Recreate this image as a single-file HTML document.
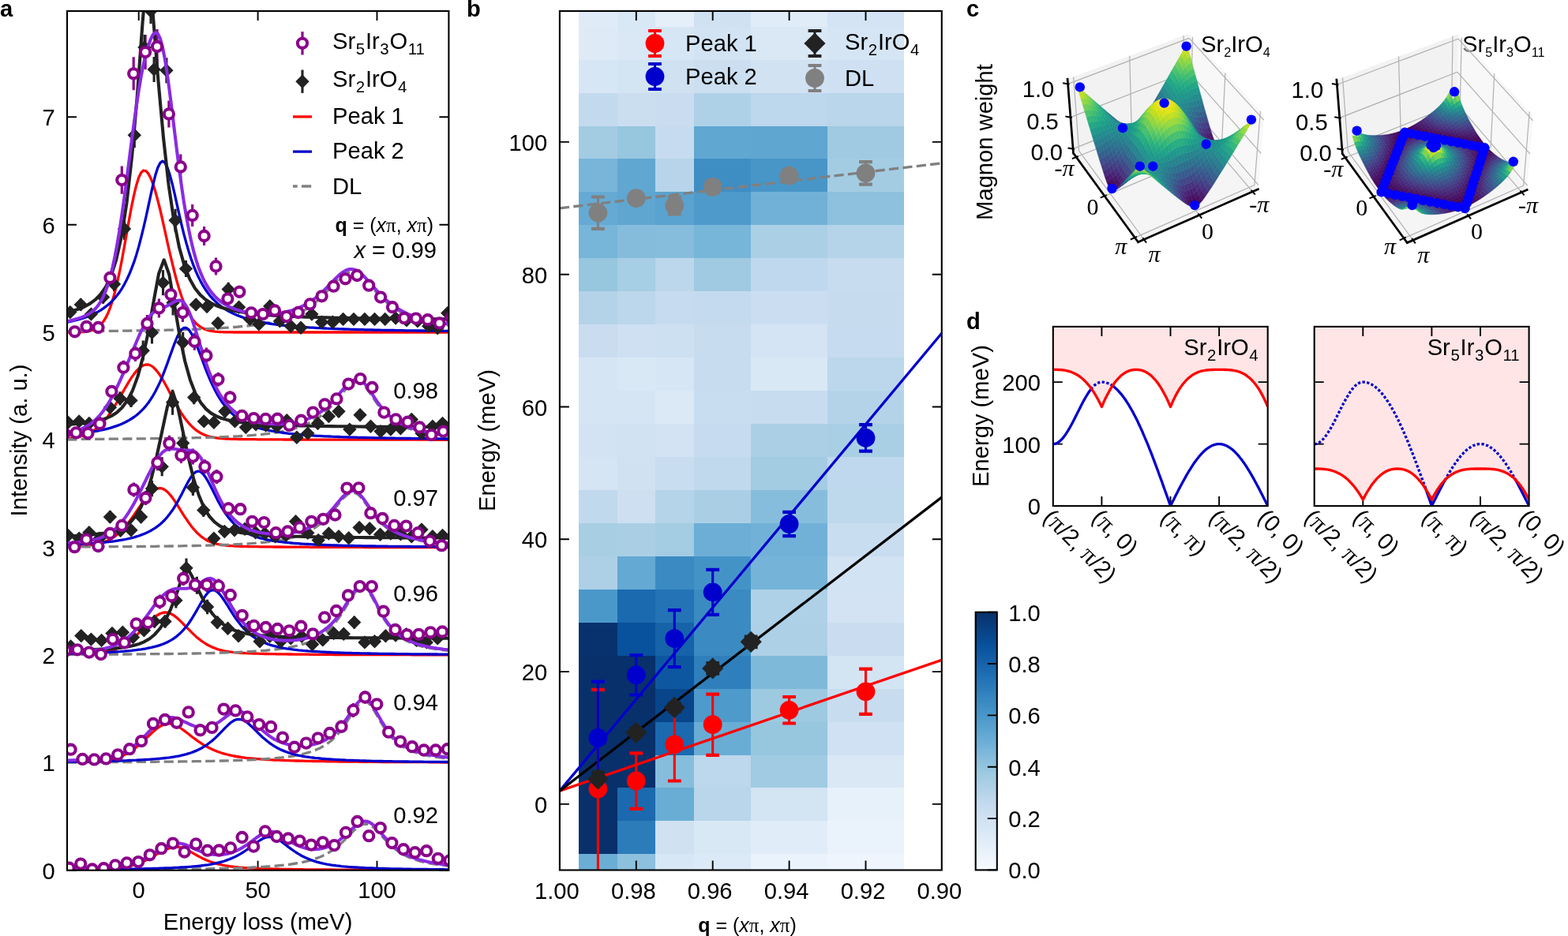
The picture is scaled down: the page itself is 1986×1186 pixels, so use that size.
<!DOCTYPE html>
<html lang="en"><head><meta charset="utf-8"><title>Figure</title>
<style>
html,body{margin:0;padding:0;background:#fff}
svg{display:block}
text{font-family:"Liberation Sans",sans-serif;font-size:29.17px;fill:#000}
.sb{font-size:20.4px}
.sb2{font-size:16.2px}
.sm{font-size:25px}
.it{font-style:italic}
.bd{font-weight:bold}
.pi{font-family:"Liberation Serif",serif;font-size:25px}
.pi2{font-family:"Liberation Serif",serif;font-size:32px}
.pl{font-weight:bold;font-size:29.17px}
.sf{font-family:"Liberation Serif",serif;font-size:30px}
.sp{fill:none;stroke:#000;stroke-width:2.1}
.tk{fill:none;stroke:#000;stroke-width:1.9}
.pe{fill:none;stroke:#8b008b;stroke-width:3.2}
.pm circle{fill:#fff;stroke:#8b008b;stroke-width:4.1}
.ke{fill:none;stroke:#222;stroke-width:3.1}
.km{fill:#222}
.ls{fill:none;stroke:#8a2be2;stroke-width:4.1;stroke-linejoin:round}
.lk{fill:none;stroke:#222;stroke-width:4.1;stroke-linejoin:round}
.lk2{fill:none;stroke:#000;stroke-width:3.3}
.lr{fill:none;stroke:#f00;stroke-width:3.3;stroke-linejoin:round}
.lb{fill:none;stroke:#0000cd;stroke-width:3.3;stroke-linejoin:round}
.lg{fill:none;stroke:#808080;stroke-width:3.3;stroke-dasharray:12.2 5.3}
.eb{fill:none!important;stroke-width:3.1}
.cp{stroke-width:4.2}
.b1{fill:#f00;stroke:#f00}.b2{fill:#0000cd;stroke:#0000cd}.bk{fill:#222;stroke:#222}.bg{fill:#808080;stroke:#808080}
.b1 circle,.b2 circle,.bg circle,g.bk path:not(.eb){stroke:none}
.dr{fill:none;stroke:#f00;stroke-width:3.3;stroke-linejoin:round}
.dbs{fill:none;stroke:#0000cd;stroke-width:3.3;stroke-linejoin:round}
.dbd{fill:none;stroke:#0000cd;stroke-width:3.3;stroke-dasharray:3.3 2.4}
.sf3 path{fill:currentColor;stroke:currentColor;stroke-width:.5;stroke-linejoin:round}
.g3{fill:none;stroke:#b0b0b0;stroke-width:1.2}
.a3{fill:none;stroke:#000;stroke-width:2.7;stroke-linecap:square}
.t3{fill:none;stroke:#000;stroke-width:2}
.d3 circle{fill:#00f}
</style></head><body>
<svg width="1986" height="1186" viewBox="0 0 1986 1186">
<rect width="1986" height="1186" fill="#fff"/>
<clipPath id="ca"><rect x="85.0" y="14.0" width="483.4" height="1088.7"/></clipPath>
<path class="tk" d="M85 1102.7h12M568.4 1102.7h-12M85 966.4h12M568.4 966.4h-12M85 830h12M568.4 830h-12M85 693.7h12M568.4 693.7h-12M85 557.3h12M568.4 557.3h-12M85 421h12M568.4 421h-12M85 284.7h12M568.4 284.7h-12M85 148.3h12M568.4 148.3h-12M175.7 1102.7v-12M175.7 14v12M326.6 1102.7v-12M326.6 14v12M477.5 1102.7v-12M477.5 14v12"/>
<g clip-path="url(#ca)">
<path class="pe" d="M94.7 415.3V425.3M109.6 408.8V418.8M124.5 410V420M139.4 344V360M154.3 210.4V245.8M169.2 72.3V114.3M184.1 44.1V88.1M199 37V81M213.9 127.4V161.4M228.8 195.4V227.4M243.7 258.9V286.9M258.6 287V311M273.5 326.4V348.4M288.4 370.6V386.6M303.3 361.8V377.8M318.2 390.3V402.3M333.1 392.1V404.1M348 387.5V399.5M362.9 395.1V407.1M377.8 390V402M392.7 379.4V391.4M407.6 369.3V381.3M422.5 356.7V368.7M437.4 347.3V359.3M452.3 343V355M467.2 355.7V367.7M482.1 370.6V382.6M497 383.2V395.2M511.9 397.1V409.1M526.8 397.6V409.6M541.7 399.2V411.2M556.6 403.5V415.5M571.5 396.6V408.6"/>
<path class="ke" d="M88.9 388.6v14M102.3 378.4v15M115.4 391.1v14M130.6 368.5v16.3M144.5 350.9v18.4M170.3 155.2v32M222.1 264.7v29.1M235.5 329.9v21M248.2 378.4v15M262.1 381.1v14.7M276 402.5v14M289.2 357.7v17.6M302.6 381.9v14.6M316.5 397.4v14M327.9 403.7v14M341.8 380.6v14.8M354.4 399.9v14M368.3 406.3v14M381 408.3v14M394.9 391.1v14M407.5 401.2v14M421.4 401.2v14M434.6 397.4v14M448 397.4v14M461.9 397.4v14M474.5 397.4v14M487.7 397.4v14M501.1 396.1v14M515 398.7v14M528.9 399.9v14M542.8 406.3v14M554.2 408.8v14M566.8 389.8v14M191 -2v32M195.1 71.9v32M210.9 73.2v32M183 44v32M157.5 276.2v27.7"/>
<path class="pe" d="M81.4 544V554M96.4 543.4V553.4M111.4 544.1V554.1M126.4 531V543M141.4 488V504M156.4 456.7V474.7M171.4 438V458M186.4 399V421M201.4 378.5V402.5M216.4 361.3V385.3M231.4 384.1V408.1M246.4 421.8V443.8M261.4 440.5V460.5M276.4 471.8V489.8M291.4 495.6V511.6M306.4 520.9V532.9M321.4 524.1V536.1M336.4 524.9V536.9M351.4 524.7V536.7M366.4 533V545M381.4 526.7V538.7M396.4 516.6V528.6M411.4 506.4V518.4M426.4 499.4V511.4M441.4 480.6V492.6M456.4 474.1V486.1M471.4 485V497M486.4 516.6V528.6M501.4 525.4V537.4M516.4 528.7V540.7M531.4 535.5V547.5M546.4 545.1V557.1M561.4 540.6V552.6"/>
<path class="ke" d="M86.3 528.2v14M100.2 526.9v14M112.9 529.5v14M139.4 508.3v15.8M152.1 496.2v17.3M166 498.9v17M181.2 431.5v25.3M192.5 407.2v28.3M206.5 342.2v32M231.7 420.7v26.7M245.7 494.8v17.5M258.3 526.9v14M270.9 528.2v14M284.9 513.7v15.2M297.5 526.9v14M311.4 534.5v14M336.7 532v14M350.6 533.3v14M363.3 525.7v14M375.9 547.2v14M389.8 542.1v14M402.5 529.5v14M416.4 520.5v14.3M429 513.7v15.2M442.9 537.1v14M456.1 518.6v14.6M469.5 533.3v14M482.1 539.6v14M494.8 537.1v14M507.4 535.8v14M521.3 524.4v14M534 542.1v14M560.5 529.5v14M126 528.2v14M219.1 367.5v32M324.1 530.7v14M547.9 533.3v14"/>
<path class="pe" d="M94.4 688.2V698.2M109.4 678.6V688.6M124.4 687V697M139.4 670V682M154.4 658.9V672.9M169.4 611.4V629.4M184.4 622V640M199.4 576.2V596.2M214.4 551.7V571.7M229.4 566.9V586.9M244.4 568.6V588.6M259.4 582.3V600.3M274.4 595V613M289.4 636.4V652.4M304.4 638.2V652.2M319.4 654.8V666.8M334.4 656.1V668.1M349.4 669.2V681.2M364.4 667.5V679.5M379.4 662.4V674.4M394.4 654.8V666.8M409.4 651.8V663.8M424.4 646.5V658.5M439.4 612.6V624.6M454.4 612.3V624.3M469.4 644.2V656.2M484.4 651V663M499.4 659.9V671.9M514.4 660.6V672.6M529.4 669.2V681.2M544.4 679.6V691.6M559.4 685.2V697.2M574.4 674V686"/>
<path class="ke" d="M86.3 671.5v14M112.9 667.7v14M139.4 647.3v15.5M166 664.7v14M178.6 647.3v15.5M192.5 609v20.2M205.2 579.3v23.9M218.6 493.8v32M231.7 547.5v27.9M244.4 607.6v20.4M257.8 638.1v16.6M270.9 675.3v14M284.4 666.5v14M297 664.7v14M310.1 663.2v14M335.4 669v14M362 671.5v14M374.6 653.5v14.7M389.8 668.2v14M403.2 677.4v14M416.4 669v14M429 672.8v14M441.7 674.8v14M455.1 661.4v14M468.2 662.7v14M481.6 670.3v14M494.8 669v14M507.4 669.8v14M521.3 672.8v14M534 663.9v14M560.5 671.5v14M100.2 675.3v14M126 675.3v14M152.6 665.2v14M323.6 667.7v14M348.6 672.8v14M547.9 672.8v14"/>
<path class="pe" d="M83.1 819.5V829.5M98 818.3V828.3M112.9 821.6V831.6M127.8 824.1V834.1M142.7 804.1V816.1M157.6 808.4V820.4M172.6 783.4V797.4M187.5 781.1V797.1M202.4 753.6V771.6M217.3 746.3V764.3M232.2 724V742M247.1 732.1V750.1M262 732.1V750.1M276.9 733.4V751.4M291.8 746V762M306.7 772.8V786.8M321.6 786.9V798.9M336.6 789V801M351.5 791V803M366.4 793.3V805.3M381.3 787.7V799.7M396.2 797.3V809.3M411.1 776.3V788.3M426 768V780M440.9 748.5V760.5M455.8 737.1V749.1M470.8 737.1V749.1M485.7 768.7V780.7M500.6 792V804M515.5 798.3V810.3M530.4 797.8V809.8M545.3 795.3V807.3M560.2 794.5V806.5M575.1 795V807"/>
<path class="ke" d="M89.6 812v14M102.8 798.6v14M115.4 803.1v14M128.6 804.4v14M142 795.5v14M155.4 794.2v14.2M168.5 800.6v14M182.4 791.5v14.5M195.6 779.4v16M209 779.4v16M222.9 751v19.5M236 707.4v24.9M249.4 730.8v22M262.6 759.7v18.5M275.2 780.7v15.9M288.6 788.8v14.9M302.1 798.8v14M315.2 787.4v15M329.1 805.7v14M341.8 799.3v14M355.7 805.7v14M368.3 801.9v14M382.2 799.3v14M395.6 809.5v14M408.8 803.9v14M422.7 795.5v14M435.3 796.3v14M448.7 780.7v15.9M461.9 806.9v14M474.5 805.7v14M488.4 798.8v14M501.1 798.1v14M514.5 796.8v14M527.6 804.4v14M540.3 806.9v14M554.2 801.9v14"/>
<path class="pe" d="M89.6 944.7V954.7M104.5 956.9V966.9M119.4 957.4V967.4M134.3 956.4V966.4M149.2 951.3V961.3M164.1 944.2V954.2M179.1 934.1V944.1M194 909.9V923.9M208.9 905V919M223.8 908.8V922.8M238.7 895.4V909.4M253.6 918.2V932.2M268.5 914.9V928.9M283.4 891.6V905.6M298.3 893.4V907.4M313.2 901.3V915.3M328.2 911.1V925.1M343.1 913.9V927.9M358 927.6V941.6M372.9 940.7V952.7M387.8 935.6V947.6M402.7 929.3V941.3M417.6 923V935M432.5 912.7V928.7M447.4 890.9V908.9M462.4 875.5V891.5M477.3 887.3V897.3M492.2 922.7V932.7M507.1 934.6V944.6M522 941.2V951.2M536.9 945.5V955.5M551.8 945.5V955.5M566.7 944.2V954.2"/>
<path class="pe" d="M87.6 1095.7V1103.7M102.2 1090.6V1098.6M116.8 1097.5V1105.5M131.4 1096.2V1104.2M146 1092.4V1100.4M160.6 1089.4V1097.4M175.2 1088.1V1096.1M189.8 1079.3V1087.3M204.4 1071.2V1079.2M219 1064.6V1072.6M233.6 1075.5V1083.5M248.2 1065.4V1073.4M262.8 1073.7V1081.7M277.4 1073.5V1081.5M292 1070.4V1078.4M306.6 1057V1065M321.2 1068.6V1076.6M335.8 1049.4V1057.4M350.4 1056V1064M365 1058.5V1066.5M379.6 1061.6V1069.6M394.2 1066.6V1074.6M408.8 1063.3V1071.3M423.4 1067.1V1075.1M438 1050.9V1058.9M452.6 1037V1045M467.2 1055.2V1063.2M481.8 1045.1V1053.1M496.4 1064.1V1072.1M511 1072.2V1080.2M525.6 1076.2V1084.2M540.2 1074.2V1082.2M554.8 1083.8V1091.8M569.4 1086.4V1094.4"/>
<path class="lr" d="M85.2 421L88.2 421L91.2 421L94.2 420.9L97.2 420.9L100.2 420.8L103.3 420.7L106.3 420.5L109.3 420.2L112.3 419.7L115.3 419L118.4 418L121.4 416.5L124.4 414.5L127.4 411.8L130.4 408.2L133.4 403.5L136.5 397.5L139.5 390L142.5 380.9L145.5 370.2L148.5 357.7L151.6 343.7L154.6 328.2L157.6 311.8L160.6 294.9L163.6 278L166.6 261.8L169.7 247.2L172.7 234.7L175.7 225L178.7 218.7L181.7 216L184.8 216.7L187.8 219.9L190.8 225.5L193.8 233.1L196.8 242.6L199.8 253.7L202.9 266L205.9 279.1L208.9 292.7L211.9 306.4L214.9 319.8L218 332.7L221 345L224 356.3L227 366.6L230 375.8L233 383.9L236.1 390.9L239.1 396.9L242.1 401.9L245.1 406.1L248.1 409.5L251.1 412.2L254.2 414.4L257.2 416L260.2 417.4L263.2 418.3L266.2 419.1L269.3 419.6L272.3 420.1L275.3 420.3L278.3 420.6L281.3 420.7L284.3 420.8L287.4 420.9L290.4 420.9L293.4 420.9L296.4 421L299.4 421L302.5 421L305.5 421L308.5 421L311.5 421L314.5 421L317.5 421L320.6 421L323.6 421L326.6 421L329.6 421L332.6 421L335.7 421L338.7 421L341.7 421L344.7 421L347.7 421L350.7 421L353.8 421L356.8 421L359.8 421L362.8 421L365.8 421L368.9 421L371.9 421L374.9 421L377.9 421L380.9 421L383.9 421L387 421L390 421L393 421L396 421L399 421L402 421L405.1 421L408.1 421L411.1 421L414.1 421L417.1 421L420.2 421L423.2 421L426.2 421L429.2 421L432.2 421L435.2 421L438.3 421L441.3 421L444.3 421L447.3 421L450.3 421L453.4 421L456.4 421L459.4 421L462.4 421L465.4 421L468.4 421L471.5 421L474.5 421L477.5 421L480.5 421L483.5 421L486.6 421L489.6 421L492.6 421L495.6 421L498.6 421L501.6 421L504.7 421L507.7 421L510.7 421L513.7 421L516.7 421L519.8 421L522.8 421L525.8 421L528.8 421L531.8 421L534.8 421L537.9 421L540.9 421L543.9 421L546.9 421L549.9 421L553 421L556 421L559 421L562 421L565 421L568 421"/>
<path class="lg" d="M85.2 419.8L88.2 419.8L91.2 419.8L94.2 419.8L97.2 419.7L100.2 419.7L103.3 419.7L106.3 419.7L109.3 419.6L112.3 419.6L115.3 419.6L118.4 419.6L121.4 419.5L124.4 419.5L127.4 419.5L130.4 419.5L133.4 419.4L136.5 419.4L139.5 419.4L142.5 419.3L145.5 419.3L148.5 419.3L151.6 419.2L154.6 419.2L157.6 419.2L160.6 419.1L163.6 419.1L166.6 419L169.7 419L172.7 418.9L175.7 418.9L178.7 418.9L181.7 418.8L184.8 418.8L187.8 418.7L190.8 418.7L193.8 418.6L196.8 418.5L199.8 418.5L202.9 418.4L205.9 418.4L208.9 418.3L211.9 418.2L214.9 418.2L218 418.1L221 418L224 417.9L227 417.8L230 417.8L233 417.7L236.1 417.6L239.1 417.5L242.1 417.4L245.1 417.3L248.1 417.2L251.1 417.1L254.2 416.9L257.2 416.8L260.2 416.7L263.2 416.6L266.2 416.4L269.3 416.3L272.3 416.1L275.3 415.9L278.3 415.8L281.3 415.6L284.3 415.4L287.4 415.2L290.4 415L293.4 414.8L296.4 414.5L299.4 414.3L302.5 414L305.5 413.7L308.5 413.5L311.5 413.1L314.5 412.8L317.5 412.5L320.6 412.1L323.6 411.7L326.6 411.3L329.6 410.8L332.6 410.4L335.7 409.9L338.7 409.3L341.7 408.7L344.7 408.1L347.7 407.5L350.7 406.7L353.8 406L356.8 405.1L359.8 404.3L362.8 403.3L365.8 402.3L368.9 401.1L371.9 399.9L374.9 398.6L377.9 397.2L380.9 395.7L383.9 394L387 392.2L390 390.3L393 388.2L396 386L399 383.6L402 381L405.1 378.3L408.1 375.3L411.1 372.3L414.1 369.1L417.1 365.8L420.2 362.5L423.2 359.3L426.2 356.1L429.2 353.1L432.2 350.4L435.2 348.2L438.3 346.4L441.3 345.2L444.3 344.7L447.3 344.8L450.3 345.7L453.4 347.2L456.4 349.3L459.4 351.8L462.4 354.7L465.4 357.9L468.4 361.3L471.5 364.7L474.5 368L477.5 371.3L480.5 374.5L483.5 377.5L486.6 380.4L489.6 383.1L492.6 385.6L495.6 387.9L498.6 390.1L501.6 392.1L504.7 393.9L507.7 395.6L510.7 397.2L513.7 398.7L516.7 400L519.8 401.2L522.8 402.4L525.8 403.4L528.8 404.4L531.8 405.3L534.8 406.1L537.9 406.9L540.9 407.6L543.9 408.3L546.9 408.9L549.9 409.5L553 410.1L556 410.6L559 411L562 411.5L565 411.9L568 412.3"/>
<path class="lb" d="M85.2 408.2L88.2 407.6L91.2 407L94.2 406.2L97.2 405.5L100.2 404.6L103.3 403.7L106.3 402.8L109.3 401.7L112.3 400.6L115.3 399.3L118.4 398L121.4 396.5L124.4 394.9L127.4 393.1L130.4 391.1L133.4 388.9L136.5 386.5L139.5 383.9L142.5 380.9L145.5 377.6L148.5 374L151.6 369.9L154.6 365.3L157.6 360.1L160.6 354.3L163.6 347.8L166.6 340.4L169.7 332.2L172.7 322.9L175.7 312.6L178.7 301.2L181.7 288.8L184.8 275.5L187.8 261.6L190.8 247.6L193.8 234.1L196.8 222.1L199.8 212.6L202.9 206.4L205.9 204.2L208.9 206.2L211.9 212L214.9 220.9L218 232.2L221 244.9L224 258.4L227 271.8L230 284.8L233 297L236.1 308.4L239.1 318.7L242.1 328L245.1 336.4L248.1 343.9L251.1 350.6L254.2 356.6L257.2 362L260.2 366.7L263.2 371L266.2 374.9L269.3 378.3L272.3 381.4L275.3 384.2L278.3 386.7L281.3 389L284.3 391.1L287.4 393L290.4 394.7L293.4 396.3L296.4 397.7L299.4 399.1L302.5 400.3L305.5 401.4L308.5 402.5L311.5 403.4L314.5 404.3L317.5 405.1L320.6 405.9L323.6 406.6L326.6 407.3L329.6 407.9L332.6 408.5L335.7 409L338.7 409.5L341.7 410L344.7 410.5L347.7 410.9L350.7 411.3L353.8 411.7L356.8 412L359.8 412.3L362.8 412.7L365.8 413L368.9 413.2L371.9 413.5L374.9 413.8L377.9 414L380.9 414.2L383.9 414.5L387 414.7L390 414.9L393 415.1L396 415.2L399 415.4L402 415.6L405.1 415.7L408.1 415.9L411.1 416L414.1 416.2L417.1 416.3L420.2 416.4L423.2 416.6L426.2 416.7L429.2 416.8L432.2 416.9L435.2 417L438.3 417.1L441.3 417.2L444.3 417.3L447.3 417.4L450.3 417.5L453.4 417.6L456.4 417.6L459.4 417.7L462.4 417.8L465.4 417.9L468.4 417.9L471.5 418L474.5 418.1L477.5 418.1L480.5 418.2L483.5 418.3L486.6 418.3L489.6 418.4L492.6 418.4L495.6 418.5L498.6 418.5L501.6 418.6L504.7 418.6L507.7 418.7L510.7 418.7L513.7 418.8L516.7 418.8L519.8 418.9L522.8 418.9L525.8 418.9L528.8 419L531.8 419L534.8 419L537.9 419.1L540.9 419.1L543.9 419.1L546.9 419.2L549.9 419.2L553 419.2L556 419.3L559 419.3L562 419.3L565 419.4L568 419.4"/>
<path class="lk" d="M80.9 396.6L87.6 395.1L94.2 393.3L100.9 391.1L107.5 388.3L114.1 384.6L120.8 379.7L127.4 372.9L134.1 363.3L140.7 349.3L147.3 328.8L154 298.9L160.6 256.2L167.2 197.2L173.9 120.3L180.5 29.5L187.2 -49.7L193.8 19.1L200.4 101.8L207.1 175.5L213.7 235L220.4 280.2L227 313.3L233.6 336.9L240.3 353.6L246.9 365.3L253.6 373.6L260.2 379.5L266.8 383.8L273.5 387L280.1 389.5L286.8 391.5L293.4 393.1L300 394.4L306.7 395.5L313.3 396.4L320 397.2L326.6 397.9L333.2 398.6L339.9 399.1L346.5 399.6L353.2 400L359.8 400.4L366.4 400.7L373.1 401L379.7 401.3L386.4 401.6L393 401.8L399.6 402L406.3 402.2L412.9 402.4L419.6 402.5L426.2 402.7L432.8 402.8L439.5 402.9L446.1 403.1L452.8 403.2L459.4 403.3L466 403.4L472.7 403.5L479.3 403.5L486 403.6L492.6 403.7L499.2 403.8L505.9 403.8L512.5 403.9L519.1 403.9L525.8 404L532.4 404L539.1 404.1L545.7 404.1L552.3 404.2L559 404.2L565.6 404.3L572.3 404.3"/>
<path class="km" d="M88.9 386.9l8.7 8.7l-8.7 8.7l-8.7-8.7zM102.3 377.2l8.7 8.7l-8.7 8.7l-8.7-8.7zM115.4 389.4l8.7 8.7l-8.7 8.7l-8.7-8.7zM130.6 367.9l8.7 8.7l-8.7 8.7l-8.7-8.7zM144.5 351.4l8.7 8.7l-8.7 8.7l-8.7-8.7zM170.3 162.5l8.7 8.7l-8.7 8.7l-8.7-8.7zM222.1 270.5l8.7 8.7l-8.7 8.7l-8.7-8.7zM235.5 331.7l8.7 8.7l-8.7 8.7l-8.7-8.7zM248.2 377.2l8.7 8.7l-8.7 8.7l-8.7-8.7zM262.1 379.8l8.7 8.7l-8.7 8.7l-8.7-8.7zM276 400.8l8.7 8.7l-8.7 8.7l-8.7-8.7zM289.2 357.8l8.7 8.7l-8.7 8.7l-8.7-8.7zM302.6 380.5l8.7 8.7l-8.7 8.7l-8.7-8.7zM316.5 395.7l8.7 8.7l-8.7 8.7l-8.7-8.7zM327.9 402l8.7 8.7l-8.7 8.7l-8.7-8.7zM341.8 379.3l8.7 8.7l-8.7 8.7l-8.7-8.7zM354.4 398.2l8.7 8.7l-8.7 8.7l-8.7-8.7zM368.3 404.6l8.7 8.7l-8.7 8.7l-8.7-8.7zM381 406.6l8.7 8.7l-8.7 8.7l-8.7-8.7zM394.9 389.4l8.7 8.7l-8.7 8.7l-8.7-8.7zM407.5 399.5l8.7 8.7l-8.7 8.7l-8.7-8.7zM421.4 399.5l8.7 8.7l-8.7 8.7l-8.7-8.7zM434.6 395.7l8.7 8.7l-8.7 8.7l-8.7-8.7zM448 395.7l8.7 8.7l-8.7 8.7l-8.7-8.7zM461.9 395.7l8.7 8.7l-8.7 8.7l-8.7-8.7zM474.5 395.7l8.7 8.7l-8.7 8.7l-8.7-8.7zM487.7 395.7l8.7 8.7l-8.7 8.7l-8.7-8.7zM501.1 394.4l8.7 8.7l-8.7 8.7l-8.7-8.7zM515 397l8.7 8.7l-8.7 8.7l-8.7-8.7zM528.9 398.2l8.7 8.7l-8.7 8.7l-8.7-8.7zM542.8 404.6l8.7 8.7l-8.7 8.7l-8.7-8.7zM554.2 407.1l8.7 8.7l-8.7 8.7l-8.7-8.7zM566.8 388.1l8.7 8.7l-8.7 8.7l-8.7-8.7zM191 5.3l8.7 8.7l-8.7 8.7l-8.7-8.7zM195.1 79.2l8.7 8.7l-8.7 8.7l-8.7-8.7zM210.9 80.5l8.7 8.7l-8.7 8.7l-8.7-8.7zM183 51.3l8.7 8.7l-8.7 8.7l-8.7-8.7zM157.5 281.3l8.7 8.7l-8.7 8.7l-8.7-8.7z"/>
<path class="ls" d="M85.2 407L88.2 406.4L91.2 405.7L94.2 404.9L97.2 404.1L100.2 403.1L103.3 402.1L106.3 400.9L109.3 399.5L112.3 397.9L115.3 395.9L118.4 393.5L121.4 390.5L124.4 386.9L127.4 382.3L130.4 376.7L133.4 369.8L136.5 361.4L139.5 351.3L142.5 339.2L145.5 325.1L148.5 309L151.6 290.8L154.6 270.7L157.6 249.1L160.6 226.3L163.6 202.8L166.6 179.3L169.7 156.3L172.7 134.6L175.7 114.6L178.7 96.8L181.7 81.6L184.8 69L187.8 58.2L190.8 49.7L193.8 43.8L196.8 41.3L199.8 42.8L202.9 48.8L205.9 59.7L208.9 75.2L211.9 94.5L214.9 116.8L218 141L221 165.9L224 190.5L227 214.2L230 236.3L233 256.6L236.1 274.8L239.1 291L242.1 305.3L245.1 317.7L248.1 328.5L251.1 337.9L254.2 345.9L257.2 352.8L260.2 358.8L263.2 363.9L266.2 368.4L269.3 372.2L272.3 375.6L275.3 378.5L278.3 381L281.3 383.3L284.3 385.3L287.4 387.1L290.4 388.6L293.4 390L296.4 391.2L299.4 392.3L302.5 393.3L305.5 394.2L308.5 394.9L311.5 395.6L314.5 396.1L317.5 396.6L320.6 397L323.6 397.3L326.6 397.6L329.6 397.7L332.6 397.8L335.7 397.9L338.7 397.9L341.7 397.8L344.7 397.6L347.7 397.3L350.7 397L353.8 396.6L356.8 396.2L359.8 395.6L362.8 395L365.8 394.2L368.9 393.4L371.9 392.5L374.9 391.4L377.9 390.2L380.9 388.9L383.9 387.5L387 385.9L390 384.2L393 382.3L396 380.2L399 378L402 375.6L405.1 373L408.1 370.2L411.1 367.3L414.1 364.3L417.1 361.2L420.2 358L423.2 354.8L426.2 351.8L429.2 348.9L432.2 346.4L435.2 344.2L438.3 342.5L441.3 341.4L444.3 341L447.3 341.2L450.3 342.2L453.4 343.7L456.4 345.9L459.4 348.5L462.4 351.6L465.4 354.8L468.4 358.2L471.5 361.7L474.5 365.1L477.5 368.5L480.5 371.7L483.5 374.8L486.6 377.7L489.6 380.5L492.6 383L495.6 385.4L498.6 387.6L501.6 389.7L504.7 391.6L507.7 393.3L510.7 394.9L513.7 396.4L516.7 397.8L519.8 399.1L522.8 400.3L525.8 401.4L528.8 402.4L531.8 403.3L534.8 404.2L537.9 405L540.9 405.8L543.9 406.5L546.9 407.1L549.9 407.7L553 408.3L556 408.8L559 409.3L562 409.8L565 410.3L568 410.7"/>
<g class="pm"><circle cx="94.7" cy="420.3" r="6.1"/><circle cx="109.6" cy="413.8" r="6.1"/><circle cx="124.5" cy="415" r="6.1"/><circle cx="139.4" cy="352" r="6.1"/><circle cx="154.3" cy="228.1" r="6.1"/><circle cx="169.2" cy="93.3" r="6.1"/><circle cx="184.1" cy="66.1" r="6.1"/><circle cx="199" cy="59" r="6.1"/><circle cx="213.9" cy="144.4" r="6.1"/><circle cx="228.8" cy="211.4" r="6.1"/><circle cx="243.7" cy="272.9" r="6.1"/><circle cx="258.6" cy="299" r="6.1"/><circle cx="273.5" cy="337.4" r="6.1"/><circle cx="288.4" cy="378.6" r="6.1"/><circle cx="303.3" cy="369.8" r="6.1"/><circle cx="318.2" cy="396.3" r="6.1"/><circle cx="333.1" cy="398.1" r="6.1"/><circle cx="348" cy="393.5" r="6.1"/><circle cx="362.9" cy="401.1" r="6.1"/><circle cx="377.8" cy="396" r="6.1"/><circle cx="392.7" cy="385.4" r="6.1"/><circle cx="407.6" cy="375.3" r="6.1"/><circle cx="422.5" cy="362.7" r="6.1"/><circle cx="437.4" cy="353.3" r="6.1"/><circle cx="452.3" cy="349" r="6.1"/><circle cx="467.2" cy="361.7" r="6.1"/><circle cx="482.1" cy="376.6" r="6.1"/><circle cx="497" cy="389.2" r="6.1"/><circle cx="511.9" cy="403.1" r="6.1"/><circle cx="526.8" cy="403.6" r="6.1"/><circle cx="541.7" cy="405.2" r="6.1"/><circle cx="556.6" cy="409.5" r="6.1"/><circle cx="571.5" cy="402.6" r="6.1"/></g>
<path class="lr" d="M85.2 555.5L88.2 555.2L91.2 554.9L94.2 554.5L97.2 553.9L100.2 553.3L103.3 552.5L106.3 551.6L109.3 550.4L112.3 549.1L115.3 547.5L118.4 545.6L121.4 543.5L124.4 541L127.4 538.2L130.4 535L133.4 531.5L136.5 527.7L139.5 523.5L142.5 518.9L145.5 514.1L148.5 509.1L151.6 503.9L154.6 498.6L157.6 493.3L160.6 488.1L163.6 483.1L166.6 478.4L169.7 474.1L172.7 470.2L175.7 467.1L178.7 464.6L181.7 462.9L184.8 462L187.8 462L190.8 463L193.8 465L196.8 467.9L199.8 471.5L202.9 475.8L205.9 480.7L208.9 486L211.9 491.5L214.9 497.2L218 502.9L221 508.5L224 513.9L227 519.1L230 524L233 528.4L236.1 532.5L239.1 536.2L242.1 539.4L245.1 542.3L248.1 544.8L251.1 546.9L254.2 548.7L257.2 550.2L260.2 551.5L263.2 552.5L266.2 553.3L269.3 554L272.3 554.6L275.3 555L278.3 555.3L281.3 555.6L284.3 555.8L287.4 556L290.4 556.1L293.4 556.3L296.4 556.3L299.4 556.4L302.5 556.5L305.5 556.5L308.5 556.6L311.5 556.6L314.5 556.7L317.5 556.7L320.6 556.7L323.6 556.7L326.6 556.8L329.6 556.8L332.6 556.8L335.7 556.8L338.7 556.9L341.7 556.9L344.7 556.9L347.7 556.9L350.7 556.9L353.8 556.9L356.8 556.9L359.8 557L362.8 557L365.8 557L368.9 557L371.9 557L374.9 557L377.9 557L380.9 557L383.9 557L387 557.1L390 557.1L393 557.1L396 557.1L399 557.1L402 557.1L405.1 557.1L408.1 557.1L411.1 557.1L414.1 557.1L417.1 557.1L420.2 557.1L423.2 557.1L426.2 557.1L429.2 557.1L432.2 557.1L435.2 557.2L438.3 557.2L441.3 557.2L444.3 557.2L447.3 557.2L450.3 557.2L453.4 557.2L456.4 557.2L459.4 557.2L462.4 557.2L465.4 557.2L468.4 557.2L471.5 557.2L474.5 557.2L477.5 557.2L480.5 557.2L483.5 557.2L486.6 557.2L489.6 557.2L492.6 557.2L495.6 557.2L498.6 557.2L501.6 557.2L504.7 557.2L507.7 557.2L510.7 557.2L513.7 557.2L516.7 557.2L519.8 557.2L522.8 557.2L525.8 557.2L528.8 557.2L531.8 557.2L534.8 557.2L537.9 557.2L540.9 557.2L543.9 557.2L546.9 557.2L549.9 557.3L553 557.3L556 557.3L559 557.3L562 557.3L565 557.3L568 557.3"/>
<path class="lg" d="M85.2 556.5L88.2 556.5L91.2 556.5L94.2 556.5L97.2 556.5L100.2 556.4L103.3 556.4L106.3 556.4L109.3 556.4L112.3 556.4L115.3 556.4L118.4 556.3L121.4 556.3L124.4 556.3L127.4 556.3L130.4 556.3L133.4 556.2L136.5 556.2L139.5 556.2L142.5 556.2L145.5 556.2L148.5 556.1L151.6 556.1L154.6 556.1L157.6 556.1L160.6 556L163.6 556L166.6 556L169.7 556L172.7 555.9L175.7 555.9L178.7 555.9L181.7 555.8L184.8 555.8L187.8 555.8L190.8 555.7L193.8 555.7L196.8 555.7L199.8 555.6L202.9 555.6L205.9 555.5L208.9 555.5L211.9 555.4L214.9 555.4L218 555.3L221 555.3L224 555.2L227 555.2L230 555.1L233 555.1L236.1 555L239.1 554.9L242.1 554.9L245.1 554.8L248.1 554.7L251.1 554.7L254.2 554.6L257.2 554.5L260.2 554.4L263.2 554.3L266.2 554.2L269.3 554.1L272.3 554L275.3 553.9L278.3 553.8L281.3 553.7L284.3 553.6L287.4 553.4L290.4 553.3L293.4 553.1L296.4 553L299.4 552.8L302.5 552.7L305.5 552.5L308.5 552.3L311.5 552.1L314.5 551.9L317.5 551.6L320.6 551.4L323.6 551.1L326.6 550.9L329.6 550.6L332.6 550.3L335.7 549.9L338.7 549.6L341.7 549.2L344.7 548.8L347.7 548.4L350.7 547.9L353.8 547.4L356.8 546.9L359.8 546.3L362.8 545.6L365.8 544.9L368.9 544.2L371.9 543.4L374.9 542.5L377.9 541.6L380.9 540.5L383.9 539.4L387 538.2L390 536.8L393 535.3L396 533.7L399 531.9L402 530L405.1 527.8L408.1 525.5L411.1 523L414.1 520.2L417.1 517.3L420.2 514.1L423.2 510.7L426.2 507.2L429.2 503.6L432.2 499.9L435.2 496.3L438.3 492.9L441.3 489.8L444.3 487.2L447.3 485.3L450.3 484.1L453.4 483.7L456.4 484.5L459.4 486.5L462.4 489.6L465.4 493.5L468.4 497.8L471.5 502.3L474.5 506.8L477.5 511.2L480.5 515.3L483.5 519.1L486.6 522.6L489.6 525.7L492.6 528.5L495.6 531.1L498.6 533.3L501.6 535.4L504.7 537.2L507.7 538.8L510.7 540.3L513.7 541.6L516.7 542.7L519.8 543.8L522.8 544.7L525.8 545.6L528.8 546.4L531.8 547.1L534.8 547.7L537.9 548.3L540.9 548.9L543.9 549.4L546.9 549.8L549.9 550.2L553 550.6L556 551L559 551.3L562 551.6L565 551.9L568 552.1"/>
<path class="lb" d="M85.2 550.9L88.2 550.6L91.2 550.3L94.2 550L97.2 549.7L100.2 549.4L103.3 549L106.3 548.7L109.3 548.3L112.3 547.9L115.3 547.4L118.4 546.9L121.4 546.4L124.4 545.8L127.4 545.2L130.4 544.6L133.4 543.9L136.5 543.1L139.5 542.3L142.5 541.4L145.5 540.4L148.5 539.4L151.6 538.2L154.6 537L157.6 535.6L160.6 534L163.6 532.4L166.6 530.5L169.7 528.5L172.7 526.2L175.7 523.7L178.7 520.9L181.7 517.8L184.8 514.3L187.8 510.5L190.8 506.1L193.8 501.3L196.8 496L199.8 490.1L202.9 483.6L205.9 476.4L208.9 468.7L211.9 460.6L214.9 452.1L218 443.6L221 435.4L224 428L227 421.8L230 417.5L233 415.3L236.1 415.5L239.1 417.8L242.1 422.1L245.1 427.9L248.1 434.9L251.1 442.6L254.2 450.7L257.2 458.8L260.2 466.8L263.2 474.4L266.2 481.5L269.3 488.2L272.3 494.3L275.3 499.9L278.3 504.9L281.3 509.5L284.3 513.6L287.4 517.3L290.4 520.7L293.4 523.6L296.4 526.3L299.4 528.7L302.5 530.9L305.5 532.8L308.5 534.5L311.5 536.1L314.5 537.5L317.5 538.7L320.6 539.9L323.6 540.9L326.6 541.9L329.6 542.8L332.6 543.6L335.7 544.3L338.7 545L341.7 545.6L344.7 546.2L347.7 546.7L350.7 547.2L353.8 547.7L356.8 548.1L359.8 548.5L362.8 548.9L365.8 549.3L368.9 549.6L371.9 549.9L374.9 550.2L377.9 550.5L380.9 550.8L383.9 551L387 551.3L390 551.5L393 551.7L396 551.9L399 552.1L402 552.3L405.1 552.4L408.1 552.6L411.1 552.8L414.1 552.9L417.1 553L420.2 553.2L423.2 553.3L426.2 553.4L429.2 553.5L432.2 553.7L435.2 553.8L438.3 553.9L441.3 554L444.3 554.1L447.3 554.1L450.3 554.2L453.4 554.3L456.4 554.4L459.4 554.5L462.4 554.5L465.4 554.6L468.4 554.7L471.5 554.7L474.5 554.8L477.5 554.9L480.5 554.9L483.5 555L486.6 555L489.6 555.1L492.6 555.1L495.6 555.2L498.6 555.2L501.6 555.3L504.7 555.3L507.7 555.4L510.7 555.4L513.7 555.5L516.7 555.5L519.8 555.5L522.8 555.6L525.8 555.6L528.8 555.6L531.8 555.7L534.8 555.7L537.9 555.7L540.9 555.8L543.9 555.8L546.9 555.8L549.9 555.9L553 555.9L556 555.9L559 555.9L562 556L565 556L568 556"/>
<path class="lk" d="M81.5 538.2L88.2 537.8L94.8 537.2L101.5 536.6L108.1 535.9L114.7 534.9L121.4 533.7L128 532.1L134.7 530L141.3 527L147.9 522.7L154.6 516.5L161.2 507.6L167.9 494.9L174.5 476.9L181.1 452.4L187.8 420.7L194.4 383.2L201.1 346.7L207.7 329.3L214.3 348L221 386.7L227.6 425.5L234.2 457.5L240.9 481.4L247.5 498.4L254.2 510.1L260.8 518.1L267.4 523.6L274.1 527.3L280.7 530L287.4 531.9L294 533.3L300.6 534.4L307.3 535.3L313.9 536L320.6 536.6L327.2 537.1L333.8 537.5L340.5 537.9L347.1 538.2L353.8 538.5L360.4 538.8L367 539L373.7 539.2L380.3 539.4L387 539.5L393.6 539.7L400.2 539.8L406.9 539.9L413.5 540L420.2 540.1L426.8 540.2L433.4 540.3L440.1 540.4L446.7 540.4L453.4 540.5L460 540.6L466.6 540.6L473.3 540.7L479.9 540.7L486.6 540.8L493.2 540.8L499.8 540.8L506.5 540.9L513.1 540.9L519.8 540.9L526.4 541L533 541L539.7 541L546.3 541L553 541.1L559.6 541.1L566.2 541.1L572.9 541.1"/>
<path class="km" d="M86.3 526.5l8.7 8.7l-8.7 8.7l-8.7-8.7zM100.2 525.2l8.7 8.7l-8.7 8.7l-8.7-8.7zM112.9 527.8l8.7 8.7l-8.7 8.7l-8.7-8.7zM139.4 507.5l8.7 8.7l-8.7 8.7l-8.7-8.7zM152.1 496.2l8.7 8.7l-8.7 8.7l-8.7-8.7zM166 498.7l8.7 8.7l-8.7 8.7l-8.7-8.7zM181.2 435.5l8.7 8.7l-8.7 8.7l-8.7-8.7zM192.5 412.7l8.7 8.7l-8.7 8.7l-8.7-8.7zM206.5 349.5l8.7 8.7l-8.7 8.7l-8.7-8.7zM231.7 425.3l8.7 8.7l-8.7 8.7l-8.7-8.7zM245.7 494.9l8.7 8.7l-8.7 8.7l-8.7-8.7zM258.3 525.2l8.7 8.7l-8.7 8.7l-8.7-8.7zM270.9 526.5l8.7 8.7l-8.7 8.7l-8.7-8.7zM284.9 512.6l8.7 8.7l-8.7 8.7l-8.7-8.7zM297.5 525.2l8.7 8.7l-8.7 8.7l-8.7-8.7zM311.4 532.8l8.7 8.7l-8.7 8.7l-8.7-8.7zM336.7 530.3l8.7 8.7l-8.7 8.7l-8.7-8.7zM350.6 531.6l8.7 8.7l-8.7 8.7l-8.7-8.7zM363.3 524l8.7 8.7l-8.7 8.7l-8.7-8.7zM375.9 545.5l8.7 8.7l-8.7 8.7l-8.7-8.7zM389.8 540.4l8.7 8.7l-8.7 8.7l-8.7-8.7zM402.5 527.8l8.7 8.7l-8.7 8.7l-8.7-8.7zM416.4 518.9l8.7 8.7l-8.7 8.7l-8.7-8.7zM429 512.6l8.7 8.7l-8.7 8.7l-8.7-8.7zM442.9 535.4l8.7 8.7l-8.7 8.7l-8.7-8.7zM456.1 517.1l8.7 8.7l-8.7 8.7l-8.7-8.7zM469.5 531.6l8.7 8.7l-8.7 8.7l-8.7-8.7zM482.1 537.9l8.7 8.7l-8.7 8.7l-8.7-8.7zM494.8 535.4l8.7 8.7l-8.7 8.7l-8.7-8.7zM507.4 534.1l8.7 8.7l-8.7 8.7l-8.7-8.7zM521.3 522.7l8.7 8.7l-8.7 8.7l-8.7-8.7zM534 540.4l8.7 8.7l-8.7 8.7l-8.7-8.7zM560.5 527.8l8.7 8.7l-8.7 8.7l-8.7-8.7zM126 526.5l8.7 8.7l-8.7 8.7l-8.7-8.7zM219.1 374.8l8.7 8.7l-8.7 8.7l-8.7-8.7zM324.1 529l8.7 8.7l-8.7 8.7l-8.7-8.7zM547.9 531.6l8.7 8.7l-8.7 8.7l-8.7-8.7z"/>
<path class="ls" d="M85.2 548.2L88.2 547.7L91.2 547L94.2 546.3L97.2 545.4L100.2 544.5L103.3 543.3L106.3 542L109.3 540.4L112.3 538.6L115.3 536.6L118.4 534.2L121.4 531.5L124.4 528.5L127.4 525L130.4 521.2L133.4 517L136.5 512.3L139.5 507.3L142.5 501.8L145.5 496L148.5 489.8L151.6 483.3L154.6 476.6L157.6 469.6L160.6 462.5L163.6 455.2L166.6 447.9L169.7 440.6L172.7 433.5L175.7 426.5L178.7 419.9L181.7 413.8L184.8 408.3L187.8 403.5L190.8 399.5L193.8 396.4L196.8 394.1L199.8 392.4L202.9 391.1L205.9 390L208.9 388.8L211.9 387.4L214.9 385.8L218 384L221 382.2L224 380.9L227 380.4L230 381.2L233 383.7L236.1 388.1L239.1 394.1L242.1 401.6L245.1 410.3L248.1 419.7L251.1 429.5L254.2 439.3L257.2 448.8L260.2 458L263.2 466.5L266.2 474.4L269.3 481.6L272.3 488.2L275.3 494.1L278.3 499.4L281.3 504.1L284.3 508.3L287.4 512.1L290.4 515.4L293.4 518.4L296.4 521L299.4 523.3L302.5 525.3L305.5 527.1L308.5 528.7L311.5 530.1L314.5 531.3L317.5 532.4L320.6 533.3L323.6 534.2L326.6 534.9L329.6 535.5L332.6 536L335.7 536.4L338.7 536.7L341.7 537L344.7 537.2L347.7 537.3L350.7 537.4L353.8 537.4L356.8 537.3L359.8 537.1L362.8 536.9L365.8 536.5L368.9 536.1L371.9 535.7L374.9 535.1L377.9 534.4L380.9 533.7L383.9 532.8L387 531.8L390 530.7L393 529.4L396 528L399 526.4L402 524.6L405.1 522.7L408.1 520.5L411.1 518.2L414.1 515.6L417.1 512.8L420.2 509.7L423.2 506.5L426.2 503.1L429.2 499.6L432.2 496L435.2 492.5L438.3 489.2L441.3 486.2L444.3 483.7L447.3 481.9L450.3 480.8L453.4 480.5L456.4 481.4L459.4 483.5L462.4 486.7L465.4 490.6L468.4 495L471.5 499.6L474.5 504.1L477.5 508.6L480.5 512.8L483.5 516.6L486.6 520.1L489.6 523.3L492.6 526.2L495.6 528.8L498.6 531.1L501.6 533.2L504.7 535.1L507.7 536.7L510.7 538.2L513.7 539.6L516.7 540.8L519.8 541.9L522.8 542.9L525.8 543.8L528.8 544.6L531.8 545.3L534.8 546L537.9 546.6L540.9 547.2L543.9 547.7L546.9 548.2L549.9 548.7L553 549.1L556 549.5L559 549.8L562 550.1L565 550.5L568 550.7"/>
<g class="pm"><circle cx="81.4" cy="549" r="6.1"/><circle cx="96.4" cy="548.4" r="6.1"/><circle cx="111.4" cy="549.1" r="6.1"/><circle cx="126.4" cy="537" r="6.1"/><circle cx="141.4" cy="496" r="6.1"/><circle cx="156.4" cy="465.7" r="6.1"/><circle cx="171.4" cy="448" r="6.1"/><circle cx="186.4" cy="410" r="6.1"/><circle cx="201.4" cy="390.5" r="6.1"/><circle cx="216.4" cy="373.3" r="6.1"/><circle cx="231.4" cy="396.1" r="6.1"/><circle cx="246.4" cy="432.8" r="6.1"/><circle cx="261.4" cy="450.5" r="6.1"/><circle cx="276.4" cy="480.8" r="6.1"/><circle cx="291.4" cy="503.6" r="6.1"/><circle cx="306.4" cy="526.9" r="6.1"/><circle cx="321.4" cy="530.1" r="6.1"/><circle cx="336.4" cy="530.9" r="6.1"/><circle cx="351.4" cy="530.7" r="6.1"/><circle cx="366.4" cy="539" r="6.1"/><circle cx="381.4" cy="532.7" r="6.1"/><circle cx="396.4" cy="522.6" r="6.1"/><circle cx="411.4" cy="512.4" r="6.1"/><circle cx="426.4" cy="505.4" r="6.1"/><circle cx="441.4" cy="486.6" r="6.1"/><circle cx="456.4" cy="480.1" r="6.1"/><circle cx="471.4" cy="491" r="6.1"/><circle cx="486.4" cy="522.6" r="6.1"/><circle cx="501.4" cy="531.4" r="6.1"/><circle cx="516.4" cy="534.7" r="6.1"/><circle cx="531.4" cy="541.5" r="6.1"/><circle cx="546.4" cy="551.1" r="6.1"/><circle cx="561.4" cy="546.6" r="6.1"/></g>
<path class="lr" d="M85.2 692.4L88.2 692.3L91.2 692.2L94.2 692.1L97.2 692L100.2 691.9L103.3 691.7L106.3 691.6L109.3 691.3L112.3 691L115.3 690.7L118.4 690.3L121.4 689.7L124.4 689.1L127.4 688.4L130.4 687.4L133.4 686.3L136.5 685L139.5 683.5L142.5 681.7L145.5 679.7L148.5 677.3L151.6 674.7L154.6 671.7L157.6 668.4L160.6 664.9L163.6 661L166.6 657L169.7 652.7L172.7 648.3L175.7 643.9L178.7 639.5L181.7 635.3L184.8 631.3L187.8 627.7L190.8 624.5L193.8 621.9L196.8 620L199.8 618.9L202.9 618.6L205.9 619.2L208.9 620.7L211.9 623.1L214.9 626.3L218 630.1L221 634.4L224 639L227 643.7L230 648.6L233 653.3L236.1 657.9L239.1 662.3L242.1 666.4L245.1 670.2L248.1 673.5L251.1 676.6L254.2 679.2L257.2 681.5L260.2 683.5L263.2 685.2L266.2 686.5L269.3 687.7L272.3 688.6L275.3 689.4L278.3 690L281.3 690.5L284.3 690.9L287.4 691.3L290.4 691.5L293.4 691.7L296.4 691.9L299.4 692.1L302.5 692.2L305.5 692.3L308.5 692.4L311.5 692.4L314.5 692.5L317.5 692.6L320.6 692.6L323.6 692.7L326.6 692.7L329.6 692.8L332.6 692.8L335.7 692.8L338.7 692.9L341.7 692.9L344.7 692.9L347.7 693L350.7 693L353.8 693L356.8 693L359.8 693.1L362.8 693.1L365.8 693.1L368.9 693.1L371.9 693.2L374.9 693.2L377.9 693.2L380.9 693.2L383.9 693.2L387 693.2L390 693.2L393 693.3L396 693.3L399 693.3L402 693.3L405.1 693.3L408.1 693.3L411.1 693.3L414.1 693.3L417.1 693.3L420.2 693.4L423.2 693.4L426.2 693.4L429.2 693.4L432.2 693.4L435.2 693.4L438.3 693.4L441.3 693.4L444.3 693.4L447.3 693.4L450.3 693.4L453.4 693.4L456.4 693.4L459.4 693.4L462.4 693.5L465.4 693.5L468.4 693.5L471.5 693.5L474.5 693.5L477.5 693.5L480.5 693.5L483.5 693.5L486.6 693.5L489.6 693.5L492.6 693.5L495.6 693.5L498.6 693.5L501.6 693.5L504.7 693.5L507.7 693.5L510.7 693.5L513.7 693.5L516.7 693.5L519.8 693.5L522.8 693.5L525.8 693.5L528.8 693.5L531.8 693.5L534.8 693.5L537.9 693.5L540.9 693.5L543.9 693.5L546.9 693.5L549.9 693.6L553 693.6L556 693.6L559 693.6L562 693.6L565 693.6L568 693.6"/>
<path class="lg" d="M85.2 693L88.2 693L91.2 693L94.2 693L97.2 692.9L100.2 692.9L103.3 692.9L106.3 692.9L109.3 692.9L112.3 692.9L115.3 692.9L118.4 692.8L121.4 692.8L124.4 692.8L127.4 692.8L130.4 692.8L133.4 692.8L136.5 692.7L139.5 692.7L142.5 692.7L145.5 692.7L148.5 692.7L151.6 692.7L154.6 692.6L157.6 692.6L160.6 692.6L163.6 692.6L166.6 692.5L169.7 692.5L172.7 692.5L175.7 692.5L178.7 692.4L181.7 692.4L184.8 692.4L187.8 692.4L190.8 692.3L193.8 692.3L196.8 692.3L199.8 692.2L202.9 692.2L205.9 692.1L208.9 692.1L211.9 692.1L214.9 692L218 692L221 691.9L224 691.9L227 691.9L230 691.8L233 691.7L236.1 691.7L239.1 691.6L242.1 691.6L245.1 691.5L248.1 691.5L251.1 691.4L254.2 691.3L257.2 691.2L260.2 691.2L263.2 691.1L266.2 691L269.3 690.9L272.3 690.8L275.3 690.7L278.3 690.6L281.3 690.5L284.3 690.4L287.4 690.3L290.4 690.2L293.4 690L296.4 689.9L299.4 689.7L302.5 689.6L305.5 689.4L308.5 689.2L311.5 689.1L314.5 688.9L317.5 688.7L320.6 688.4L323.6 688.2L326.6 687.9L329.6 687.7L332.6 687.4L335.7 687.1L338.7 686.7L341.7 686.4L344.7 686L347.7 685.6L350.7 685.1L353.8 684.6L356.8 684.1L359.8 683.5L362.8 682.9L365.8 682.2L368.9 681.5L371.9 680.7L374.9 679.8L377.9 678.8L380.9 677.7L383.9 676.6L387 675.3L390 673.9L393 672.3L396 670.6L399 668.6L402 666.5L405.1 664.2L408.1 661.7L411.1 658.9L414.1 655.9L417.1 652.6L420.2 649.2L423.2 645.5L426.2 641.8L429.2 638.1L432.2 634.4L435.2 631.1L438.3 628.2L441.3 626L444.3 624.6L447.3 624.1L450.3 624.8L453.4 626.6L456.4 629.4L459.4 633L462.4 637L465.4 641.3L468.4 645.5L471.5 649.7L474.5 653.6L477.5 657.2L480.5 660.5L483.5 663.5L486.6 666.2L489.6 668.6L492.6 670.8L495.6 672.7L498.6 674.5L501.6 676L504.7 677.4L507.7 678.7L510.7 679.8L513.7 680.8L516.7 681.7L519.8 682.5L522.8 683.3L525.8 683.9L528.8 684.5L531.8 685.1L534.8 685.6L537.9 686.1L540.9 686.5L543.9 686.9L546.9 687.3L549.9 687.6L553 687.9L556 688.2L559 688.5L562 688.7L565 689L568 689.2"/>
<path class="lb" d="M85.2 690.2L88.2 690.1L91.2 690L94.2 689.8L97.2 689.7L100.2 689.5L103.3 689.4L106.3 689.2L109.3 689L112.3 688.8L115.3 688.6L118.4 688.4L121.4 688.1L124.4 687.9L127.4 687.6L130.4 687.3L133.4 687L136.5 686.7L139.5 686.3L142.5 686L145.5 685.6L148.5 685.1L151.6 684.6L154.6 684.1L157.6 683.6L160.6 683L163.6 682.3L166.6 681.6L169.7 680.8L172.7 679.9L175.7 679L178.7 677.9L181.7 676.7L184.8 675.5L187.8 674.1L190.8 672.5L193.8 670.7L196.8 668.8L199.8 666.6L202.9 664.2L205.9 661.5L208.9 658.5L211.9 655.1L214.9 651.3L218 647.1L221 642.5L224 637.5L227 632.1L230 626.4L233 620.5L236.1 614.6L239.1 609.1L242.1 604.2L245.1 600.3L248.1 597.9L251.1 597L254.2 597.9L257.2 600.4L260.2 604.4L263.2 609.4L266.2 615.1L269.3 621.1L272.3 627.1L275.3 633.1L278.3 638.7L281.3 643.9L284.3 648.7L287.4 653L290.4 656.9L293.4 660.4L296.4 663.6L299.4 666.4L302.5 668.9L305.5 671.1L308.5 673L311.5 674.7L314.5 676.3L317.5 677.6L320.6 678.8L323.6 679.9L326.6 680.9L329.6 681.8L332.6 682.5L335.7 683.3L338.7 683.9L341.7 684.5L344.7 685L347.7 685.5L350.7 685.9L353.8 686.4L356.8 686.7L359.8 687.1L362.8 687.4L365.8 687.7L368.9 688L371.9 688.3L374.9 688.5L377.9 688.7L380.9 689L383.9 689.2L387 689.3L390 689.5L393 689.7L396 689.9L399 690L402 690.1L405.1 690.3L408.1 690.4L411.1 690.5L414.1 690.6L417.1 690.7L420.2 690.8L423.2 690.9L426.2 691L429.2 691.1L432.2 691.2L435.2 691.3L438.3 691.3L441.3 691.4L444.3 691.5L447.3 691.5L450.3 691.6L453.4 691.7L456.4 691.7L459.4 691.8L462.4 691.8L465.4 691.9L468.4 691.9L471.5 692L474.5 692L477.5 692.1L480.5 692.1L483.5 692.2L486.6 692.2L489.6 692.2L492.6 692.3L495.6 692.3L498.6 692.3L501.6 692.4L504.7 692.4L507.7 692.4L510.7 692.4L513.7 692.5L516.7 692.5L519.8 692.5L522.8 692.6L525.8 692.6L528.8 692.6L531.8 692.6L534.8 692.6L537.9 692.7L540.9 692.7L543.9 692.7L546.9 692.7L549.9 692.7L553 692.8L556 692.8L559 692.8L562 692.8L565 692.8L568 692.9"/>
<path class="lk" d="M85.8 679.5L92.4 679.2L99 678.8L105.7 678.3L112.3 677.8L119 677.2L125.6 676.4L132.2 675.5L138.9 674.2L145.5 672.5L152.2 670.1L158.8 666.5L165.4 661.3L172.1 653.6L178.7 642.3L185.4 626.4L192 604.9L198.6 577.7L205.3 546.4L211.9 515.6L218.6 496.2L225.2 516.1L231.8 547.4L238.5 579.1L245.1 606.3L251.8 627.5L258.4 643.1L265 654L271.7 661.4L278.3 666.3L285 669.7L291.6 672L298.2 673.6L304.9 674.9L311.5 675.8L318.1 676.5L324.8 677.2L331.4 677.7L338.1 678.1L344.7 678.5L351.3 678.8L358 679.1L364.6 679.3L371.3 679.6L377.9 679.7L384.5 679.9L391.2 680.1L397.8 680.2L404.5 680.3L411.1 680.5L417.7 680.6L424.4 680.7L431 680.7L437.7 680.8L444.3 680.9L450.9 681L457.6 681L464.2 681.1L470.9 681.1L477.5 681.2L484.1 681.2L490.8 681.3L497.4 681.3L504.1 681.3L510.7 681.4L517.3 681.4L524 681.4L530.6 681.5L537.3 681.5L543.9 681.5L550.5 681.5L557.2 681.5L563.8 681.6L570.5 681.6"/>
<path class="km" d="M86.3 669.8l8.7 8.7l-8.7 8.7l-8.7-8.7zM112.9 666l8.7 8.7l-8.7 8.7l-8.7-8.7zM139.4 646.3l8.7 8.7l-8.7 8.7l-8.7-8.7zM166 663l8.7 8.7l-8.7 8.7l-8.7-8.7zM178.6 646.3l8.7 8.7l-8.7 8.7l-8.7-8.7zM192.5 610.4l8.7 8.7l-8.7 8.7l-8.7-8.7zM205.2 582.6l8.7 8.7l-8.7 8.7l-8.7-8.7zM218.6 501.1l8.7 8.7l-8.7 8.7l-8.7-8.7zM231.7 552.7l8.7 8.7l-8.7 8.7l-8.7-8.7zM244.4 609.1l8.7 8.7l-8.7 8.7l-8.7-8.7zM257.8 637.7l8.7 8.7l-8.7 8.7l-8.7-8.7zM270.9 673.6l8.7 8.7l-8.7 8.7l-8.7-8.7zM284.4 664.8l8.7 8.7l-8.7 8.7l-8.7-8.7zM297 663l8.7 8.7l-8.7 8.7l-8.7-8.7zM310.1 661.5l8.7 8.7l-8.7 8.7l-8.7-8.7zM335.4 667.3l8.7 8.7l-8.7 8.7l-8.7-8.7zM362 669.8l8.7 8.7l-8.7 8.7l-8.7-8.7zM374.6 652.1l8.7 8.7l-8.7 8.7l-8.7-8.7zM389.8 666.5l8.7 8.7l-8.7 8.7l-8.7-8.7zM403.2 675.7l8.7 8.7l-8.7 8.7l-8.7-8.7zM416.4 667.3l8.7 8.7l-8.7 8.7l-8.7-8.7zM429 671.1l8.7 8.7l-8.7 8.7l-8.7-8.7zM441.7 673.1l8.7 8.7l-8.7 8.7l-8.7-8.7zM455.1 659.7l8.7 8.7l-8.7 8.7l-8.7-8.7zM468.2 661l8.7 8.7l-8.7 8.7l-8.7-8.7zM481.6 668.6l8.7 8.7l-8.7 8.7l-8.7-8.7zM494.8 667.3l8.7 8.7l-8.7 8.7l-8.7-8.7zM507.4 668.1l8.7 8.7l-8.7 8.7l-8.7-8.7zM521.3 671.1l8.7 8.7l-8.7 8.7l-8.7-8.7zM534 662.2l8.7 8.7l-8.7 8.7l-8.7-8.7zM560.5 669.8l8.7 8.7l-8.7 8.7l-8.7-8.7zM100.2 673.6l8.7 8.7l-8.7 8.7l-8.7-8.7zM126 673.6l8.7 8.7l-8.7 8.7l-8.7-8.7zM152.6 663.5l8.7 8.7l-8.7 8.7l-8.7-8.7zM323.6 666l8.7 8.7l-8.7 8.7l-8.7-8.7zM348.6 671.1l8.7 8.7l-8.7 8.7l-8.7-8.7zM547.9 671.1l8.7 8.7l-8.7 8.7l-8.7-8.7z"/>
<path class="ls" d="M85.2 688.3L88.2 688L91.2 687.8L94.2 687.6L97.2 687.3L100.2 687L103.3 686.7L106.3 686.3L109.3 685.9L112.3 685.4L115.3 684.8L118.4 684.1L121.4 683.4L124.4 682.5L127.4 681.4L130.4 680.2L133.4 678.8L136.5 677.1L139.5 675.2L142.5 673L145.5 670.6L148.5 667.7L151.6 664.6L154.6 661L157.6 657.1L160.6 652.9L163.6 648.3L166.6 643.3L169.7 638L172.7 632.4L175.7 626.6L178.7 620.6L181.7 614.4L184.8 608.2L187.8 602L190.8 596.1L193.8 590.4L196.8 585.1L199.8 580.4L202.9 576.3L205.9 573.1L208.9 570.8L211.9 569.4L214.9 568.7L218 568.5L221 568.8L224 569.3L227 569.8L230 570.2L233 570.4L236.1 570.5L239.1 570.5L242.1 570.8L245.1 571.6L248.1 573.3L251.1 576L254.2 580L257.2 585.1L260.2 591.2L263.2 597.9L266.2 605.1L269.3 612.2L272.3 619.2L275.3 625.8L278.3 631.9L281.3 637.6L284.3 642.6L287.4 647.2L290.4 651.3L293.4 654.9L296.4 658L299.4 660.8L302.5 663.3L305.5 665.4L308.5 667.3L311.5 668.9L314.5 670.3L317.5 671.5L320.6 672.5L323.6 673.4L326.6 674.2L329.6 674.8L332.6 675.4L335.7 675.8L338.7 676.1L341.7 676.4L344.7 676.6L347.7 676.7L350.7 676.7L353.8 676.6L356.8 676.5L359.8 676.3L362.8 676L365.8 675.7L368.9 675.3L371.9 674.7L374.9 674.1L377.9 673.4L380.9 672.5L383.9 671.6L387 670.5L390 669.3L393 667.9L396 666.3L399 664.6L402 662.6L405.1 660.4L408.1 658L411.1 655.4L414.1 652.5L417.1 649.4L420.2 646L423.2 642.5L426.2 638.8L429.2 635.2L432.2 631.7L435.2 628.4L438.3 625.6L441.3 623.5L444.3 622.2L447.3 621.8L450.3 622.5L453.4 624.3L456.4 627.2L459.4 630.8L462.4 634.9L465.4 639.2L468.4 643.6L471.5 647.8L474.5 651.7L477.5 655.4L480.5 658.8L483.5 661.8L486.6 664.5L489.6 667L492.6 669.2L495.6 671.2L498.6 673L501.6 674.5L504.7 676L507.7 677.2L510.7 678.4L513.7 679.4L516.7 680.4L519.8 681.2L522.8 682L525.8 682.7L528.8 683.3L531.8 683.9L534.8 684.4L537.9 684.9L540.9 685.4L543.9 685.8L546.9 686.2L549.9 686.6L553 686.9L556 687.2L559 687.5L562 687.8L565 688L568 688.3"/>
<g class="pm"><circle cx="94.4" cy="693.2" r="6.1"/><circle cx="109.4" cy="683.6" r="6.1"/><circle cx="124.4" cy="692" r="6.1"/><circle cx="139.4" cy="676" r="6.1"/><circle cx="154.4" cy="665.9" r="6.1"/><circle cx="169.4" cy="620.4" r="6.1"/><circle cx="184.4" cy="631" r="6.1"/><circle cx="199.4" cy="586.2" r="6.1"/><circle cx="214.4" cy="561.7" r="6.1"/><circle cx="229.4" cy="576.9" r="6.1"/><circle cx="244.4" cy="578.6" r="6.1"/><circle cx="259.4" cy="591.3" r="6.1"/><circle cx="274.4" cy="604" r="6.1"/><circle cx="289.4" cy="644.4" r="6.1"/><circle cx="304.4" cy="645.2" r="6.1"/><circle cx="319.4" cy="660.8" r="6.1"/><circle cx="334.4" cy="662.1" r="6.1"/><circle cx="349.4" cy="675.2" r="6.1"/><circle cx="364.4" cy="673.5" r="6.1"/><circle cx="379.4" cy="668.4" r="6.1"/><circle cx="394.4" cy="660.8" r="6.1"/><circle cx="409.4" cy="657.8" r="6.1"/><circle cx="424.4" cy="652.5" r="6.1"/><circle cx="439.4" cy="618.6" r="6.1"/><circle cx="454.4" cy="618.3" r="6.1"/><circle cx="469.4" cy="650.2" r="6.1"/><circle cx="484.4" cy="657" r="6.1"/><circle cx="499.4" cy="665.9" r="6.1"/><circle cx="514.4" cy="666.6" r="6.1"/><circle cx="529.4" cy="675.2" r="6.1"/><circle cx="544.4" cy="685.6" r="6.1"/><circle cx="559.4" cy="691.2" r="6.1"/><circle cx="574.4" cy="680" r="6.1"/></g>
<path class="lr" d="M85.2 828.8L88.2 828.8L91.2 828.7L94.2 828.7L97.2 828.6L100.2 828.5L103.3 828.4L106.3 828.3L109.3 828.2L112.3 828L115.3 827.9L118.4 827.7L121.4 827.4L124.4 827.1L127.4 826.8L130.4 826.4L133.4 825.9L136.5 825.3L139.5 824.6L142.5 823.7L145.5 822.8L148.5 821.6L151.6 820.3L154.6 818.7L157.6 817L160.6 815L163.6 812.9L166.6 810.5L169.7 807.9L172.7 805.1L175.7 802.1L178.7 799L181.7 795.9L184.8 792.7L187.8 789.6L190.8 786.6L193.8 783.8L196.8 781.3L199.8 779.2L202.9 777.5L205.9 776.5L208.9 776L211.9 776.2L214.9 777.1L218 778.5L221 780.4L224 782.8L227 785.5L230 788.4L233 791.5L236.1 794.6L239.1 797.7L242.1 800.7L245.1 803.6L248.1 806.4L251.1 808.9L254.2 811.3L257.2 813.5L260.2 815.5L263.2 817.2L266.2 818.8L269.3 820.2L272.3 821.4L275.3 822.5L278.3 823.4L281.3 824.1L284.3 824.8L287.4 825.3L290.4 825.8L293.4 826.2L296.4 826.6L299.4 826.8L302.5 827.1L305.5 827.3L308.5 827.5L311.5 827.7L314.5 827.8L317.5 827.9L320.6 828L323.6 828.1L326.6 828.2L329.6 828.3L332.6 828.4L335.7 828.5L338.7 828.5L341.7 828.6L344.7 828.7L347.7 828.7L350.7 828.8L353.8 828.8L356.8 828.9L359.8 828.9L362.8 828.9L365.8 829L368.9 829L371.9 829.1L374.9 829.1L377.9 829.1L380.9 829.2L383.9 829.2L387 829.2L390 829.2L393 829.3L396 829.3L399 829.3L402 829.3L405.1 829.3L408.1 829.4L411.1 829.4L414.1 829.4L417.1 829.4L420.2 829.4L423.2 829.5L426.2 829.5L429.2 829.5L432.2 829.5L435.2 829.5L438.3 829.5L441.3 829.5L444.3 829.6L447.3 829.6L450.3 829.6L453.4 829.6L456.4 829.6L459.4 829.6L462.4 829.6L465.4 829.6L468.4 829.6L471.5 829.6L474.5 829.6L477.5 829.7L480.5 829.7L483.5 829.7L486.6 829.7L489.6 829.7L492.6 829.7L495.6 829.7L498.6 829.7L501.6 829.7L504.7 829.7L507.7 829.7L510.7 829.7L513.7 829.7L516.7 829.7L519.8 829.7L522.8 829.8L525.8 829.8L528.8 829.8L531.8 829.8L534.8 829.8L537.9 829.8L540.9 829.8L543.9 829.8L546.9 829.8L549.9 829.8L553 829.8L556 829.8L559 829.8L562 829.8L565 829.8L568 829.8"/>
<path class="lg" d="M85.2 829.3L88.2 829.3L91.2 829.3L94.2 829.3L97.2 829.3L100.2 829.3L103.3 829.3L106.3 829.3L109.3 829.3L112.3 829.2L115.3 829.2L118.4 829.2L121.4 829.2L124.4 829.2L127.4 829.2L130.4 829.2L133.4 829.1L136.5 829.1L139.5 829.1L142.5 829.1L145.5 829.1L148.5 829.1L151.6 829L154.6 829L157.6 829L160.6 829L163.6 829L166.6 828.9L169.7 828.9L172.7 828.9L175.7 828.9L178.7 828.8L181.7 828.8L184.8 828.8L187.8 828.8L190.8 828.7L193.8 828.7L196.8 828.7L199.8 828.6L202.9 828.6L205.9 828.6L208.9 828.5L211.9 828.5L214.9 828.5L218 828.4L221 828.4L224 828.3L227 828.3L230 828.3L233 828.2L236.1 828.2L239.1 828.1L242.1 828.1L245.1 828L248.1 828L251.1 827.9L254.2 827.8L257.2 827.8L260.2 827.7L263.2 827.6L266.2 827.6L269.3 827.5L272.3 827.4L275.3 827.3L278.3 827.2L281.3 827.1L284.3 827L287.4 826.9L290.4 826.8L293.4 826.7L296.4 826.6L299.4 826.5L302.5 826.3L305.5 826.2L308.5 826.1L311.5 825.9L314.5 825.7L317.5 825.6L320.6 825.4L323.6 825.2L326.6 825L329.6 824.7L332.6 824.5L335.7 824.3L338.7 824L341.7 823.7L344.7 823.4L347.7 823L350.7 822.7L353.8 822.3L356.8 821.9L359.8 821.4L362.8 820.9L365.8 820.4L368.9 819.8L371.9 819.2L374.9 818.5L377.9 817.8L380.9 817L383.9 816.1L387 815.1L390 814L393 812.8L396 811.5L399 810.1L402 808.5L405.1 806.7L408.1 804.7L411.1 802.5L414.1 800L417.1 797.2L420.2 794.2L423.2 790.8L426.2 787.1L429.2 783L432.2 778.6L435.2 773.8L438.3 768.9L441.3 763.8L444.3 758.8L447.3 754.2L450.3 750.1L453.4 746.9L456.4 744.8L459.4 744.1L462.4 745.1L465.4 747.8L468.4 751.9L471.5 757.1L474.5 762.8L477.5 768.6L480.5 774.4L483.5 779.8L486.6 784.8L489.6 789.3L492.6 793.3L495.6 796.9L498.6 800.1L501.6 802.9L504.7 805.4L507.7 807.6L510.7 809.6L513.7 811.3L516.7 812.8L519.8 814.2L522.8 815.4L525.8 816.5L528.8 817.5L531.8 818.4L534.8 819.2L537.9 819.9L540.9 820.6L543.9 821.2L546.9 821.7L549.9 822.2L553 822.6L556 823.1L559 823.4L562 823.8L565 824.1L568 824.4"/>
<path class="lb" d="M85.2 828.1L88.2 828.1L91.2 828L94.2 827.9L97.2 827.9L100.2 827.8L103.3 827.7L106.3 827.6L109.3 827.5L112.3 827.4L115.3 827.3L118.4 827.2L121.4 827.1L124.4 827L127.4 826.9L130.4 826.8L133.4 826.6L136.5 826.5L139.5 826.3L142.5 826.1L145.5 826L148.5 825.8L151.6 825.6L154.6 825.3L157.6 825.1L160.6 824.8L163.6 824.6L166.6 824.3L169.7 823.9L172.7 823.6L175.7 823.2L178.7 822.8L181.7 822.3L184.8 821.8L187.8 821.2L190.8 820.6L193.8 819.9L196.8 819.2L199.8 818.3L202.9 817.4L205.9 816.3L208.9 815.1L211.9 813.7L214.9 812.1L218 810.4L221 808.4L224 806.1L227 803.5L230 800.6L233 797.4L236.1 793.7L239.1 789.7L242.1 785.3L245.1 780.4L248.1 775.3L251.1 770L254.2 764.6L257.2 759.4L260.2 754.8L263.2 751.1L266.2 748.6L269.3 747.7L272.3 748.2L275.3 750L278.3 753L281.3 756.8L284.3 761.2L287.4 766L290.4 770.9L293.4 775.7L296.4 780.4L299.4 784.8L302.5 788.8L305.5 792.6L308.5 796L311.5 799.1L314.5 801.9L317.5 804.4L320.6 806.7L323.6 808.7L326.6 810.5L329.6 812.1L332.6 813.5L335.7 814.8L338.7 815.9L341.7 817L344.7 817.9L347.7 818.7L350.7 819.4L353.8 820.1L356.8 820.7L359.8 821.3L362.8 821.8L365.8 822.2L368.9 822.7L371.9 823.1L374.9 823.4L377.9 823.8L380.9 824.1L383.9 824.4L387 824.6L390 824.9L393 825.1L396 825.3L399 825.5L402 825.7L405.1 825.9L408.1 826.1L411.1 826.2L414.1 826.4L417.1 826.5L420.2 826.6L423.2 826.8L426.2 826.9L429.2 827L432.2 827.1L435.2 827.2L438.3 827.3L441.3 827.4L444.3 827.5L447.3 827.6L450.3 827.6L453.4 827.7L456.4 827.8L459.4 827.9L462.4 827.9L465.4 828L468.4 828L471.5 828.1L474.5 828.2L477.5 828.2L480.5 828.3L483.5 828.3L486.6 828.4L489.6 828.4L492.6 828.4L495.6 828.5L498.6 828.5L501.6 828.6L504.7 828.6L507.7 828.6L510.7 828.7L513.7 828.7L516.7 828.7L519.8 828.8L522.8 828.8L525.8 828.8L528.8 828.8L531.8 828.9L534.8 828.9L537.9 828.9L540.9 828.9L543.9 829L546.9 829L549.9 829L553 829L556 829.1L559 829.1L562 829.1L565 829.1L568 829.1"/>
<path class="lk" d="M103.3 823.5L109.9 823.3L116.5 823.1L123.2 822.8L129.8 822.5L136.5 822.2L143.1 821.7L149.7 821.1L156.4 820.3L163 819.3L169.7 817.8L176.3 815.9L182.9 813.1L189.6 809.2L196.2 803.7L202.9 796L209.5 785.7L216.1 772.1L222.8 755.1L229.4 735.4L236.1 717.5L242.7 729.2L249.3 743.6L256 757.1L262.6 768.6L269.3 778L275.9 785.3L282.5 790.9L289.2 795.1L295.8 798.2L302.5 800.5L309.1 802.2L315.7 803.5L322.4 804.4L329 805.1L335.7 805.6L342.3 806.1L348.9 806.4L355.6 806.7L362.2 806.9L368.9 807.1L375.5 807.3L382.1 807.4L388.8 807.5L395.4 807.6L402 807.7L408.7 807.8L415.3 807.9L422 808L428.6 808L435.2 808.1L441.9 808.1L448.5 808.2L455.2 808.2L461.8 808.2L468.4 808.3L475.1 808.3L481.7 808.3L488.4 808.4L495 808.4L501.6 808.4L508.3 808.4L514.9 808.5L521.6 808.5L528.2 808.5L534.8 808.5L541.5 808.5L548.1 808.5L554.8 808.6L561.4 808.6L568 808.6"/>
<path class="km" d="M89.6 810.3l8.7 8.7l-8.7 8.7l-8.7-8.7zM102.8 796.9l8.7 8.7l-8.7 8.7l-8.7-8.7zM115.4 801.4l8.7 8.7l-8.7 8.7l-8.7-8.7zM128.6 802.7l8.7 8.7l-8.7 8.7l-8.7-8.7zM142 793.8l8.7 8.7l-8.7 8.7l-8.7-8.7zM155.4 792.6l8.7 8.7l-8.7 8.7l-8.7-8.7zM168.5 798.9l8.7 8.7l-8.7 8.7l-8.7-8.7zM182.4 790.1l8.7 8.7l-8.7 8.7l-8.7-8.7zM195.6 778.7l8.7 8.7l-8.7 8.7l-8.7-8.7zM209 778.7l8.7 8.7l-8.7 8.7l-8.7-8.7zM222.9 752.1l8.7 8.7l-8.7 8.7l-8.7-8.7zM236 711.1l8.7 8.7l-8.7 8.7l-8.7-8.7zM249.4 733.1l8.7 8.7l-8.7 8.7l-8.7-8.7zM262.6 760.2l8.7 8.7l-8.7 8.7l-8.7-8.7zM275.2 779.9l8.7 8.7l-8.7 8.7l-8.7-8.7zM288.6 787.5l8.7 8.7l-8.7 8.7l-8.7-8.7zM302.1 797.1l8.7 8.7l-8.7 8.7l-8.7-8.7zM315.2 786.3l8.7 8.7l-8.7 8.7l-8.7-8.7zM329.1 804l8.7 8.7l-8.7 8.7l-8.7-8.7zM341.8 797.6l8.7 8.7l-8.7 8.7l-8.7-8.7zM355.7 804l8.7 8.7l-8.7 8.7l-8.7-8.7zM368.3 800.2l8.7 8.7l-8.7 8.7l-8.7-8.7zM382.2 797.6l8.7 8.7l-8.7 8.7l-8.7-8.7zM395.6 807.8l8.7 8.7l-8.7 8.7l-8.7-8.7zM408.8 802.2l8.7 8.7l-8.7 8.7l-8.7-8.7zM422.7 793.8l8.7 8.7l-8.7 8.7l-8.7-8.7zM435.3 794.6l8.7 8.7l-8.7 8.7l-8.7-8.7zM448.7 779.9l8.7 8.7l-8.7 8.7l-8.7-8.7zM461.9 805.2l8.7 8.7l-8.7 8.7l-8.7-8.7zM474.5 804l8.7 8.7l-8.7 8.7l-8.7-8.7zM488.4 797.1l8.7 8.7l-8.7 8.7l-8.7-8.7zM501.1 796.4l8.7 8.7l-8.7 8.7l-8.7-8.7zM514.5 795.1l8.7 8.7l-8.7 8.7l-8.7-8.7zM527.6 802.7l8.7 8.7l-8.7 8.7l-8.7-8.7zM540.3 805.2l8.7 8.7l-8.7 8.7l-8.7-8.7zM554.2 800.2l8.7 8.7l-8.7 8.7l-8.7-8.7z"/>
<path class="ls" d="M85.2 826.3L88.2 826.1L91.2 826L94.2 825.9L97.2 825.7L100.2 825.5L103.3 825.3L106.3 825.1L109.3 824.9L112.3 824.7L115.3 824.4L118.4 824.1L121.4 823.7L124.4 823.3L127.4 822.8L130.4 822.2L133.4 821.6L136.5 820.8L139.5 819.9L142.5 818.9L145.5 817.7L148.5 816.4L151.6 814.8L154.6 813L157.6 811L160.6 808.8L163.6 806.3L166.6 803.5L169.7 800.5L172.7 797.2L175.7 793.7L178.7 790L181.7 786.1L184.8 782.1L187.8 777.9L190.8 773.8L193.8 769.6L196.8 765.6L199.8 761.7L202.9 758.2L205.9 755L208.9 752.3L211.9 750L214.9 748.3L218 747.1L221 746.3L224 745.9L227 745.7L230 745.7L233 745.7L236.1 745.6L239.1 745.3L242.1 744.7L245.1 743.7L248.1 742.2L251.1 740.5L254.2 738.4L257.2 736.3L260.2 734.5L263.2 733.2L266.2 732.8L269.3 733.7L272.3 735.8L275.3 738.9L278.3 742.9L281.3 747.6L284.3 752.7L287.4 758L290.4 763.3L293.4 768.5L296.4 773.4L299.4 778L302.5 782.2L305.5 786.1L308.5 789.5L311.5 792.6L314.5 795.4L317.5 797.9L320.6 800.1L323.6 802L326.6 803.7L329.6 805.1L332.6 806.4L335.7 807.5L338.7 808.4L341.7 809.2L344.7 809.9L347.7 810.4L350.7 810.9L353.8 811.2L356.8 811.4L359.8 811.6L362.8 811.6L365.8 811.6L368.9 811.5L371.9 811.3L374.9 811L377.9 810.6L380.9 810.2L383.9 809.6L387 808.9L390 808.1L393 807.2L396 806.1L399 804.9L402 803.5L405.1 801.9L408.1 800.1L411.1 798L414.1 795.7L417.1 793.1L420.2 790.2L423.2 787L426.2 783.4L429.2 779.4L432.2 775.1L435.2 770.5L438.3 765.7L441.3 760.7L444.3 755.8L447.3 751.2L450.3 747.2L453.4 744.1L456.4 742.2L459.4 741.5L462.4 742.6L465.4 745.3L468.4 749.6L471.5 754.8L474.5 760.5L477.5 766.4L480.5 772.2L483.5 777.7L486.6 782.7L489.6 787.3L492.6 791.4L495.6 795.1L498.6 798.3L501.6 801.2L504.7 803.7L507.7 806L510.7 807.9L513.7 809.7L516.7 811.3L519.8 812.7L522.8 813.9L525.8 815.1L528.8 816.1L531.8 817L534.8 817.8L537.9 818.6L540.9 819.2L543.9 819.9L546.9 820.4L549.9 821L553 821.4L556 821.9L559 822.3L562 822.7L565 823L568 823.3"/>
<g class="pm"><circle cx="83.1" cy="824.5" r="6.1"/><circle cx="98" cy="823.3" r="6.1"/><circle cx="112.9" cy="826.6" r="6.1"/><circle cx="127.8" cy="829.1" r="6.1"/><circle cx="142.7" cy="810.1" r="6.1"/><circle cx="157.6" cy="814.4" r="6.1"/><circle cx="172.6" cy="790.4" r="6.1"/><circle cx="187.5" cy="789.1" r="6.1"/><circle cx="202.4" cy="762.6" r="6.1"/><circle cx="217.3" cy="755.3" r="6.1"/><circle cx="232.2" cy="733" r="6.1"/><circle cx="247.1" cy="741.1" r="6.1"/><circle cx="262" cy="741.1" r="6.1"/><circle cx="276.9" cy="742.4" r="6.1"/><circle cx="291.8" cy="754" r="6.1"/><circle cx="306.7" cy="779.8" r="6.1"/><circle cx="321.6" cy="792.9" r="6.1"/><circle cx="336.6" cy="795" r="6.1"/><circle cx="351.5" cy="797" r="6.1"/><circle cx="366.4" cy="799.3" r="6.1"/><circle cx="381.3" cy="793.7" r="6.1"/><circle cx="396.2" cy="803.3" r="6.1"/><circle cx="411.1" cy="782.3" r="6.1"/><circle cx="426" cy="774" r="6.1"/><circle cx="440.9" cy="754.5" r="6.1"/><circle cx="455.8" cy="743.1" r="6.1"/><circle cx="470.8" cy="743.1" r="6.1"/><circle cx="485.7" cy="774.7" r="6.1"/><circle cx="500.6" cy="798" r="6.1"/><circle cx="515.5" cy="804.3" r="6.1"/><circle cx="530.4" cy="803.8" r="6.1"/><circle cx="545.3" cy="801.3" r="6.1"/><circle cx="560.2" cy="800.5" r="6.1"/><circle cx="575.1" cy="801" r="6.1"/></g>
<path class="lr" d="M85.2 965.3L88.2 965.3L91.2 965.2L94.2 965.2L97.2 965.1L100.2 965.1L103.3 965L106.3 964.9L109.3 964.8L112.3 964.7L115.3 964.6L118.4 964.4L121.4 964.2L124.4 964L127.4 963.8L130.4 963.5L133.4 963.1L136.5 962.7L139.5 962.2L142.5 961.6L145.5 960.8L148.5 960L151.6 959L154.6 957.8L157.6 956.5L160.6 954.9L163.6 953.2L166.6 951.3L169.7 949.1L172.7 946.8L175.7 944.3L178.7 941.6L181.7 938.8L184.8 935.9L187.8 933L190.8 930.1L193.8 927.3L196.8 924.7L199.8 922.3L202.9 920.3L205.9 918.7L208.9 917.5L211.9 916.9L214.9 916.9L218 917.4L221 918.4L224 919.8L227 921.5L230 923.5L233 925.7L236.1 928L239.1 930.3L242.1 932.7L245.1 935L248.1 937.2L251.1 939.4L254.2 941.4L257.2 943.3L260.2 945.1L263.2 946.8L266.2 948.3L269.3 949.7L272.3 951L275.3 952.2L278.3 953.3L281.3 954.3L284.3 955.2L287.4 956L290.4 956.7L293.4 957.4L296.4 958L299.4 958.5L302.5 959L305.5 959.5L308.5 959.9L311.5 960.3L314.5 960.6L317.5 960.9L320.6 961.2L323.6 961.5L326.6 961.7L329.6 961.9L332.6 962.1L335.7 962.3L338.7 962.5L341.7 962.7L344.7 962.8L347.7 963L350.7 963.1L353.8 963.2L356.8 963.4L359.8 963.5L362.8 963.6L365.8 963.7L368.9 963.8L371.9 963.9L374.9 964L377.9 964L380.9 964.1L383.9 964.2L387 964.3L390 964.3L393 964.4L396 964.5L399 964.5L402 964.6L405.1 964.6L408.1 964.7L411.1 964.7L414.1 964.8L417.1 964.8L420.2 964.9L423.2 964.9L426.2 964.9L429.2 965L432.2 965L435.2 965L438.3 965.1L441.3 965.1L444.3 965.1L447.3 965.2L450.3 965.2L453.4 965.2L456.4 965.3L459.4 965.3L462.4 965.3L465.4 965.3L468.4 965.4L471.5 965.4L474.5 965.4L477.5 965.4L480.5 965.4L483.5 965.5L486.6 965.5L489.6 965.5L492.6 965.5L495.6 965.5L498.6 965.6L501.6 965.6L504.7 965.6L507.7 965.6L510.7 965.6L513.7 965.6L516.7 965.6L519.8 965.7L522.8 965.7L525.8 965.7L528.8 965.7L531.8 965.7L534.8 965.7L537.9 965.7L540.9 965.7L543.9 965.8L546.9 965.8L549.9 965.8L553 965.8L556 965.8L559 965.8L562 965.8L565 965.8L568 965.8"/>
<path class="lg" d="M85.2 965.8L88.2 965.8L91.2 965.8L94.2 965.8L97.2 965.8L100.2 965.8L103.3 965.8L106.3 965.7L109.3 965.7L112.3 965.7L115.3 965.7L118.4 965.7L121.4 965.7L124.4 965.7L127.4 965.7L130.4 965.7L133.4 965.6L136.5 965.6L139.5 965.6L142.5 965.6L145.5 965.6L148.5 965.6L151.6 965.6L154.6 965.5L157.6 965.5L160.6 965.5L163.6 965.5L166.6 965.5L169.7 965.5L172.7 965.4L175.7 965.4L178.7 965.4L181.7 965.4L184.8 965.4L187.8 965.3L190.8 965.3L193.8 965.3L196.8 965.3L199.8 965.2L202.9 965.2L205.9 965.2L208.9 965.2L211.9 965.1L214.9 965.1L218 965.1L221 965L224 965L227 965L230 964.9L233 964.9L236.1 964.9L239.1 964.8L242.1 964.8L245.1 964.7L248.1 964.7L251.1 964.6L254.2 964.6L257.2 964.5L260.2 964.5L263.2 964.4L266.2 964.4L269.3 964.3L272.3 964.2L275.3 964.2L278.3 964.1L281.3 964L284.3 964L287.4 963.9L290.4 963.8L293.4 963.7L296.4 963.6L299.4 963.5L302.5 963.4L305.5 963.3L308.5 963.2L311.5 963.1L314.5 962.9L317.5 962.8L320.6 962.6L323.6 962.5L326.6 962.3L329.6 962.1L332.6 961.9L335.7 961.7L338.7 961.5L341.7 961.3L344.7 961.1L347.7 960.8L350.7 960.5L353.8 960.2L356.8 959.9L359.8 959.5L362.8 959.1L365.8 958.7L368.9 958.3L371.9 957.8L374.9 957.2L377.9 956.7L380.9 956L383.9 955.3L387 954.5L390 953.7L393 952.8L396 951.7L399 950.6L402 949.3L405.1 947.9L408.1 946.3L411.1 944.5L414.1 942.6L417.1 940.3L420.2 937.9L423.2 935.1L426.2 932L429.2 928.6L432.2 924.8L435.2 920.7L438.3 916.3L441.3 911.6L444.3 906.8L447.3 902.1L450.3 897.6L453.4 893.8L456.4 890.9L459.4 889.1L462.4 888.7L465.4 889.9L468.4 892.6L471.5 896.6L474.5 901.4L477.5 906.6L480.5 911.9L483.5 917L486.6 921.8L489.6 926.3L492.6 930.3L495.6 933.8L498.6 937L501.6 939.8L504.7 942.3L507.7 944.5L510.7 946.5L513.7 948.2L516.7 949.7L519.8 951.1L522.8 952.3L525.8 953.4L528.8 954.3L531.8 955.2L534.8 956L537.9 956.7L540.9 957.3L543.9 957.9L546.9 958.4L549.9 958.9L553 959.4L556 959.8L559 960.1L562 960.5L565 960.8L568 961.1"/>
<path class="lb" d="M85.2 965.2L88.2 965.1L91.2 965.1L94.2 965.1L97.2 965L100.2 965L103.3 964.9L106.3 964.9L109.3 964.9L112.3 964.8L115.3 964.8L118.4 964.7L121.4 964.7L124.4 964.6L127.4 964.5L130.4 964.5L133.4 964.4L136.5 964.4L139.5 964.3L142.5 964.2L145.5 964.1L148.5 964L151.6 964L154.6 963.9L157.6 963.8L160.6 963.7L163.6 963.5L166.6 963.4L169.7 963.3L172.7 963.2L175.7 963L178.7 962.9L181.7 962.7L184.8 962.5L187.8 962.3L190.8 962.1L193.8 961.9L196.8 961.7L199.8 961.4L202.9 961.1L205.9 960.8L208.9 960.5L211.9 960.2L214.9 959.8L218 959.3L221 958.9L224 958.3L227 957.8L230 957.1L233 956.4L236.1 955.6L239.1 954.7L242.1 953.7L245.1 952.6L248.1 951.4L251.1 950L254.2 948.5L257.2 946.8L260.2 944.9L263.2 942.8L266.2 940.5L269.3 938.1L272.3 935.4L275.3 932.5L278.3 929.4L281.3 926.3L284.3 923.2L287.4 920.1L290.4 917.3L293.4 914.8L296.4 912.9L299.4 911.7L302.5 911.3L305.5 911.7L308.5 912.8L311.5 914.5L314.5 916.8L317.5 919.5L320.6 922.4L323.6 925.4L326.6 928.4L329.6 931.3L332.6 934.2L335.7 936.8L338.7 939.3L341.7 941.6L344.7 943.7L347.7 945.6L350.7 947.4L353.8 948.9L356.8 950.4L359.8 951.6L362.8 952.8L365.8 953.9L368.9 954.8L371.9 955.6L374.9 956.4L377.9 957.1L380.9 957.7L383.9 958.3L387 958.8L390 959.2L393 959.7L396 960L399 960.4L402 960.7L405.1 961L408.1 961.3L411.1 961.5L414.1 961.8L417.1 962L420.2 962.2L423.2 962.4L426.2 962.6L429.2 962.7L432.2 962.9L435.2 963L438.3 963.2L441.3 963.3L444.3 963.4L447.3 963.5L450.3 963.6L453.4 963.7L456.4 963.8L459.4 963.9L462.4 964L465.4 964.1L468.4 964.2L471.5 964.3L474.5 964.3L477.5 964.4L480.5 964.5L483.5 964.5L486.6 964.6L489.6 964.6L492.6 964.7L495.6 964.7L498.6 964.8L501.6 964.8L504.7 964.9L507.7 964.9L510.7 965L513.7 965L516.7 965L519.8 965.1L522.8 965.1L525.8 965.1L528.8 965.2L531.8 965.2L534.8 965.2L537.9 965.3L540.9 965.3L543.9 965.3L546.9 965.3L549.9 965.4L553 965.4L556 965.4L559 965.4L562 965.4L565 965.5L568 965.5"/>
<path class="ls" d="M85.2 963.6L88.2 963.5L91.2 963.4L94.2 963.3L97.2 963.2L100.2 963.1L103.3 963L106.3 962.8L109.3 962.7L112.3 962.5L115.3 962.3L118.4 962.1L121.4 961.9L124.4 961.6L127.4 961.3L130.4 960.9L133.4 960.5L136.5 960L139.5 959.4L142.5 958.7L145.5 957.8L148.5 956.9L151.6 955.8L154.6 954.5L157.6 953L160.6 951.4L163.6 949.5L166.6 947.4L169.7 945.1L172.7 942.7L175.7 940L178.7 937.2L181.7 934.2L184.8 931.1L187.8 928L190.8 924.9L193.8 921.8L196.8 918.9L199.8 916.3L202.9 913.9L205.9 912L208.9 910.5L211.9 909.5L214.9 909.1L218 909.1L221 909.6L224 910.4L227 911.5L230 912.8L233 914.3L236.1 915.7L239.1 917.2L242.1 918.5L245.1 919.6L248.1 920.6L251.1 921.3L254.2 921.8L257.2 921.9L260.2 921.8L263.2 921.3L266.2 920.5L269.3 919.4L272.3 917.9L275.3 916.1L278.3 914.1L281.3 911.9L284.3 909.6L287.4 907.2L290.4 905.1L293.4 903.2L296.4 901.8L299.4 901L302.5 901L305.5 901.7L308.5 903.1L311.5 905.1L314.5 907.6L317.5 910.5L320.6 913.5L323.6 916.6L326.6 919.7L329.6 922.7L332.6 925.5L335.7 928.2L338.7 930.6L341.7 932.8L344.7 934.9L347.7 936.7L350.7 938.3L353.8 939.7L356.8 940.9L359.8 941.9L362.8 942.8L365.8 943.5L368.9 944.1L371.9 944.6L374.9 944.9L377.9 945.1L380.9 945.1L383.9 945.1L387 944.9L390 944.5L393 944.1L396 943.5L399 942.8L402 941.9L405.1 940.8L408.1 939.5L411.1 938.1L414.1 936.4L417.1 934.4L420.2 932.2L423.2 929.7L426.2 926.8L429.2 923.6L432.2 920L435.2 916.1L438.3 911.8L441.3 907.3L444.3 902.7L447.3 898.1L450.3 893.8L453.4 890.1L456.4 887.2L459.4 885.6L462.4 885.3L465.4 886.6L468.4 889.4L471.5 893.5L474.5 898.4L477.5 903.7L480.5 909L483.5 914.3L486.6 919.2L489.6 923.7L492.6 927.7L495.6 931.4L498.6 934.6L501.6 937.5L504.7 940.1L507.7 942.3L510.7 944.3L513.7 946.1L516.7 947.7L519.8 949.1L522.8 950.3L525.8 951.5L528.8 952.5L531.8 953.4L534.8 954.2L537.9 955L540.9 955.6L543.9 956.3L546.9 956.8L549.9 957.3L553 957.8L556 958.2L559 958.6L562 959L565 959.4L568 959.7"/>
<g class="pm"><circle cx="89.6" cy="949.7" r="6.1"/><circle cx="104.5" cy="961.9" r="6.1"/><circle cx="119.4" cy="962.4" r="6.1"/><circle cx="134.3" cy="961.4" r="6.1"/><circle cx="149.2" cy="956.3" r="6.1"/><circle cx="164.1" cy="949.2" r="6.1"/><circle cx="179.1" cy="939.1" r="6.1"/><circle cx="194" cy="916.9" r="6.1"/><circle cx="208.9" cy="912" r="6.1"/><circle cx="223.8" cy="915.8" r="6.1"/><circle cx="238.7" cy="902.4" r="6.1"/><circle cx="253.6" cy="925.2" r="6.1"/><circle cx="268.5" cy="921.9" r="6.1"/><circle cx="283.4" cy="898.6" r="6.1"/><circle cx="298.3" cy="900.4" r="6.1"/><circle cx="313.2" cy="908.3" r="6.1"/><circle cx="328.2" cy="918.1" r="6.1"/><circle cx="343.1" cy="920.9" r="6.1"/><circle cx="358" cy="934.6" r="6.1"/><circle cx="372.9" cy="946.7" r="6.1"/><circle cx="387.8" cy="941.6" r="6.1"/><circle cx="402.7" cy="935.3" r="6.1"/><circle cx="417.6" cy="929" r="6.1"/><circle cx="432.5" cy="920.7" r="6.1"/><circle cx="447.4" cy="899.9" r="6.1"/><circle cx="462.4" cy="883.5" r="6.1"/><circle cx="477.3" cy="892.3" r="6.1"/><circle cx="492.2" cy="927.7" r="6.1"/><circle cx="507.1" cy="939.6" r="6.1"/><circle cx="522" cy="946.2" r="6.1"/><circle cx="536.9" cy="950.5" r="6.1"/><circle cx="551.8" cy="950.5" r="6.1"/><circle cx="566.7" cy="949.2" r="6.1"/></g>
<path class="lr" d="M85.2 1102.2L88.2 1102.1L91.2 1102.1L94.2 1102.1L97.2 1102.1L100.2 1102L103.3 1102L106.3 1102L109.3 1101.9L112.3 1101.9L115.3 1101.8L118.4 1101.8L121.4 1101.7L124.4 1101.6L127.4 1101.5L130.4 1101.4L133.4 1101.3L136.5 1101.2L139.5 1101L142.5 1100.8L145.5 1100.5L148.5 1100.2L151.6 1099.9L154.6 1099.5L157.6 1099L160.6 1098.4L163.6 1097.7L166.6 1096.9L169.7 1096L172.7 1095.1L175.7 1093.9L178.7 1092.7L181.7 1091.4L184.8 1089.9L187.8 1088.4L190.8 1086.8L193.8 1085.1L196.8 1083.4L199.8 1081.7L202.9 1080L205.9 1078.4L208.9 1076.9L211.9 1075.7L214.9 1074.6L218 1073.8L221 1073.3L224 1073.1L227 1073.3L230 1074L233 1075.1L236.1 1076.4L239.1 1078L242.1 1079.6L245.1 1081.4L248.1 1083.1L251.1 1084.8L254.2 1086.4L257.2 1087.9L260.2 1089.3L263.2 1090.6L266.2 1091.7L269.3 1092.8L272.3 1093.7L275.3 1094.6L278.3 1095.3L281.3 1096L284.3 1096.6L287.4 1097.1L290.4 1097.6L293.4 1098L296.4 1098.4L299.4 1098.7L302.5 1099L305.5 1099.2L308.5 1099.5L311.5 1099.7L314.5 1099.9L317.5 1100L320.6 1100.2L323.6 1100.3L326.6 1100.4L329.6 1100.6L332.6 1100.7L335.7 1100.8L338.7 1100.9L341.7 1101L344.7 1101L347.7 1101.1L350.7 1101.2L353.8 1101.2L356.8 1101.3L359.8 1101.4L362.8 1101.4L365.8 1101.5L368.9 1101.5L371.9 1101.6L374.9 1101.6L377.9 1101.6L380.9 1101.7L383.9 1101.7L387 1101.8L390 1101.8L393 1101.8L396 1101.9L399 1101.9L402 1101.9L405.1 1101.9L408.1 1102L411.1 1102L414.1 1102L417.1 1102L420.2 1102L423.2 1102.1L426.2 1102.1L429.2 1102.1L432.2 1102.1L435.2 1102.1L438.3 1102.1L441.3 1102.2L444.3 1102.2L447.3 1102.2L450.3 1102.2L453.4 1102.2L456.4 1102.2L459.4 1102.2L462.4 1102.2L465.4 1102.3L468.4 1102.3L471.5 1102.3L474.5 1102.3L477.5 1102.3L480.5 1102.3L483.5 1102.3L486.6 1102.3L489.6 1102.3L492.6 1102.3L495.6 1102.4L498.6 1102.4L501.6 1102.4L504.7 1102.4L507.7 1102.4L510.7 1102.4L513.7 1102.4L516.7 1102.4L519.8 1102.4L522.8 1102.4L525.8 1102.4L528.8 1102.4L531.8 1102.4L534.8 1102.4L537.9 1102.4L540.9 1102.4L543.9 1102.4L546.9 1102.5L549.9 1102.5L553 1102.5L556 1102.5L559 1102.5L562 1102.5L565 1102.5L568 1102.5"/>
<path class="lg" d="M85.2 1102.1L88.2 1102.1L91.2 1102.1L94.2 1102.1L97.2 1102.1L100.2 1102.1L103.3 1102.1L106.3 1102.1L109.3 1102.1L112.3 1102.1L115.3 1102.1L118.4 1102L121.4 1102L124.4 1102L127.4 1102L130.4 1102L133.4 1102L136.5 1102L139.5 1102L142.5 1101.9L145.5 1101.9L148.5 1101.9L151.6 1101.9L154.6 1101.9L157.6 1101.9L160.6 1101.8L163.6 1101.8L166.6 1101.8L169.7 1101.8L172.7 1101.8L175.7 1101.8L178.7 1101.7L181.7 1101.7L184.8 1101.7L187.8 1101.7L190.8 1101.6L193.8 1101.6L196.8 1101.6L199.8 1101.6L202.9 1101.6L205.9 1101.5L208.9 1101.5L211.9 1101.5L214.9 1101.4L218 1101.4L221 1101.4L224 1101.3L227 1101.3L230 1101.3L233 1101.2L236.1 1101.2L239.1 1101.2L242.1 1101.1L245.1 1101.1L248.1 1101L251.1 1101L254.2 1100.9L257.2 1100.9L260.2 1100.8L263.2 1100.8L266.2 1100.7L269.3 1100.7L272.3 1100.6L275.3 1100.5L278.3 1100.5L281.3 1100.4L284.3 1100.3L287.4 1100.2L290.4 1100.2L293.4 1100.1L296.4 1100L299.4 1099.9L302.5 1099.8L305.5 1099.7L308.5 1099.6L311.5 1099.4L314.5 1099.3L317.5 1099.2L320.6 1099L323.6 1098.9L326.6 1098.7L329.6 1098.6L332.6 1098.4L335.7 1098.2L338.7 1098L341.7 1097.8L344.7 1097.5L347.7 1097.3L350.7 1097L353.8 1096.7L356.8 1096.4L359.8 1096.1L362.8 1095.8L365.8 1095.4L368.9 1095L371.9 1094.5L374.9 1094L377.9 1093.5L380.9 1092.9L383.9 1092.3L387 1091.6L390 1090.9L393 1090.1L396 1089.2L399 1088.2L402 1087.1L405.1 1086L408.1 1084.7L411.1 1083.2L414.1 1081.6L417.1 1079.9L420.2 1078L423.2 1075.9L426.2 1073.6L429.2 1071.1L432.2 1068.5L435.2 1065.6L438.3 1062.6L441.3 1059.5L444.3 1056.4L447.3 1053.4L450.3 1050.6L453.4 1048.1L456.4 1046.1L459.4 1044.7L462.4 1044.1L465.4 1044.3L468.4 1045.4L471.5 1047.2L474.5 1049.8L477.5 1052.7L480.5 1056L483.5 1059.3L486.6 1062.7L489.6 1065.9L492.6 1068.9L495.6 1071.8L498.6 1074.4L501.6 1076.8L504.7 1079L507.7 1080.9L510.7 1082.7L513.7 1084.3L516.7 1085.7L519.8 1087L522.8 1088.2L525.8 1089.2L528.8 1090.2L531.8 1091.1L534.8 1091.8L537.9 1092.6L540.9 1093.2L543.9 1093.8L546.9 1094.3L549.9 1094.8L553 1095.3L556 1095.7L559 1096.1L562 1096.4L565 1096.8L568 1097.1"/>
<path class="lb" d="M85.2 1101.9L88.2 1101.9L91.2 1101.9L94.2 1101.9L97.2 1101.9L100.2 1101.8L103.3 1101.8L106.3 1101.8L109.3 1101.8L112.3 1101.8L115.3 1101.7L118.4 1101.7L121.4 1101.7L124.4 1101.7L127.4 1101.6L130.4 1101.6L133.4 1101.6L136.5 1101.5L139.5 1101.5L142.5 1101.5L145.5 1101.4L148.5 1101.4L151.6 1101.3L154.6 1101.3L157.6 1101.3L160.6 1101.2L163.6 1101.2L166.6 1101.1L169.7 1101.1L172.7 1101L175.7 1100.9L178.7 1100.9L181.7 1100.8L184.8 1100.7L187.8 1100.7L190.8 1100.6L193.8 1100.5L196.8 1100.4L199.8 1100.3L202.9 1100.2L205.9 1100.1L208.9 1100L211.9 1099.9L214.9 1099.8L218 1099.7L221 1099.5L224 1099.4L227 1099.2L230 1099L233 1098.8L236.1 1098.6L239.1 1098.4L242.1 1098.2L245.1 1097.9L248.1 1097.6L251.1 1097.3L254.2 1097L257.2 1096.6L260.2 1096.2L263.2 1095.8L266.2 1095.3L269.3 1094.7L272.3 1094.1L275.3 1093.4L278.3 1092.7L281.3 1091.9L284.3 1091L287.4 1089.9L290.4 1088.8L293.4 1087.6L296.4 1086.2L299.4 1084.8L302.5 1083.1L305.5 1081.4L308.5 1079.5L311.5 1077.5L314.5 1075.3L317.5 1073.1L320.6 1070.8L323.6 1068.6L326.6 1066.5L329.6 1064.5L332.6 1062.8L335.7 1061.5L338.7 1060.7L341.7 1060.4L344.7 1060.7L347.7 1061.6L350.7 1062.9L353.8 1064.7L356.8 1066.7L359.8 1068.9L362.8 1071.3L365.8 1073.6L368.9 1075.8L371.9 1078L374.9 1080L377.9 1081.9L380.9 1083.7L383.9 1085.3L387 1086.8L390 1088.1L393 1089.3L396 1090.4L399 1091.4L402 1092.3L405.1 1093.1L408.1 1093.8L411.1 1094.5L414.1 1095.1L417.1 1095.6L420.2 1096.1L423.2 1096.5L426.2 1096.9L429.2 1097.2L432.2 1097.6L435.2 1097.9L438.3 1098.1L441.3 1098.4L444.3 1098.6L447.3 1098.8L450.3 1099L453.4 1099.2L456.4 1099.4L459.4 1099.5L462.4 1099.7L465.4 1099.8L468.4 1099.9L471.5 1100L474.5 1100.1L477.5 1100.3L480.5 1100.4L483.5 1100.4L486.6 1100.5L489.6 1100.6L492.6 1100.7L495.6 1100.8L498.6 1100.8L501.6 1100.9L504.7 1101L507.7 1101L510.7 1101.1L513.7 1101.1L516.7 1101.2L519.8 1101.2L522.8 1101.3L525.8 1101.3L528.8 1101.4L531.8 1101.4L534.8 1101.4L537.9 1101.5L540.9 1101.5L543.9 1101.6L546.9 1101.6L549.9 1101.6L553 1101.6L556 1101.7L559 1101.7L562 1101.7L565 1101.8L568 1101.8"/>
<path class="ls" d="M85.2 1100.9L88.2 1100.8L91.2 1100.8L94.2 1100.7L97.2 1100.6L100.2 1100.6L103.3 1100.5L106.3 1100.4L109.3 1100.4L112.3 1100.3L115.3 1100.2L118.4 1100.1L121.4 1100L124.4 1099.9L127.4 1099.8L130.4 1099.6L133.4 1099.5L136.5 1099.3L139.5 1099L142.5 1098.8L145.5 1098.5L148.5 1098.1L151.6 1097.7L154.6 1097.2L157.6 1096.7L160.6 1096L163.6 1095.3L166.6 1094.5L169.7 1093.5L172.7 1092.4L175.7 1091.2L178.7 1089.9L181.7 1088.5L184.8 1087L187.8 1085.3L190.8 1083.6L193.8 1081.8L196.8 1080L199.8 1078.2L202.9 1076.4L205.9 1074.7L208.9 1073.1L211.9 1071.6L214.9 1070.4L218 1069.4L221 1068.8L224 1068.4L227 1068.4L230 1068.9L233 1069.7L236.1 1070.8L239.1 1072.1L242.1 1073.5L245.1 1075L248.1 1076.4L251.1 1077.7L254.2 1078.9L257.2 1080L260.2 1080.9L263.2 1081.7L266.2 1082.3L269.3 1082.8L272.3 1083L275.3 1083.2L278.3 1083.1L281.3 1082.9L284.3 1082.5L287.4 1081.9L290.4 1081.2L293.4 1080.3L296.4 1079.2L299.4 1077.9L302.5 1076.5L305.5 1074.9L308.5 1073.1L311.5 1071.2L314.5 1069.1L317.5 1066.9L320.6 1064.7L323.6 1062.4L326.6 1060.2L329.6 1058.2L332.6 1056.5L335.7 1055.1L338.7 1054.2L341.7 1053.8L344.7 1053.9L347.7 1054.6L350.7 1055.7L353.8 1057.3L356.8 1059.1L359.8 1061L362.8 1063L365.8 1065L368.9 1066.9L371.9 1068.7L374.9 1070.3L377.9 1071.7L380.9 1072.9L383.9 1073.9L387 1074.8L390 1075.4L393 1075.8L396 1076.1L399 1076.1L402 1075.9L405.1 1075.6L408.1 1075L411.1 1074.3L414.1 1073.3L417.1 1072.1L420.2 1070.7L423.2 1069.1L426.2 1067.2L429.2 1065.1L432.2 1062.7L435.2 1060.2L438.3 1057.5L441.3 1054.7L444.3 1051.8L447.3 1049L450.3 1046.4L453.4 1044.1L456.4 1042.3L459.4 1041.1L462.4 1040.6L465.4 1040.9L468.4 1042.2L471.5 1044.2L474.5 1046.8L477.5 1049.9L480.5 1053.2L483.5 1056.7L486.6 1060.1L489.6 1063.4L492.6 1066.6L495.6 1069.5L498.6 1072.2L501.6 1074.7L504.7 1076.9L507.7 1078.9L510.7 1080.8L513.7 1082.4L516.7 1083.9L519.8 1085.3L522.8 1086.5L525.8 1087.6L528.8 1088.6L531.8 1089.5L534.8 1090.3L537.9 1091.1L540.9 1091.8L543.9 1092.4L546.9 1093L549.9 1093.5L553 1094L556 1094.4L559 1094.9L562 1095.3L565 1095.6L568 1095.9"/>
<g class="pm"><circle cx="87.6" cy="1099.7" r="6.1"/><circle cx="102.2" cy="1094.6" r="6.1"/><circle cx="116.8" cy="1101.5" r="6.1"/><circle cx="131.4" cy="1100.2" r="6.1"/><circle cx="146" cy="1096.4" r="6.1"/><circle cx="160.6" cy="1093.4" r="6.1"/><circle cx="175.2" cy="1092.1" r="6.1"/><circle cx="189.8" cy="1083.3" r="6.1"/><circle cx="204.4" cy="1075.2" r="6.1"/><circle cx="219" cy="1068.6" r="6.1"/><circle cx="233.6" cy="1079.5" r="6.1"/><circle cx="248.2" cy="1069.4" r="6.1"/><circle cx="262.8" cy="1077.7" r="6.1"/><circle cx="277.4" cy="1077.5" r="6.1"/><circle cx="292" cy="1074.4" r="6.1"/><circle cx="306.6" cy="1061" r="6.1"/><circle cx="321.2" cy="1072.6" r="6.1"/><circle cx="335.8" cy="1053.4" r="6.1"/><circle cx="350.4" cy="1060" r="6.1"/><circle cx="365" cy="1062.5" r="6.1"/><circle cx="379.6" cy="1065.6" r="6.1"/><circle cx="394.2" cy="1070.6" r="6.1"/><circle cx="408.8" cy="1067.3" r="6.1"/><circle cx="423.4" cy="1071.1" r="6.1"/><circle cx="438" cy="1054.9" r="6.1"/><circle cx="452.6" cy="1041" r="6.1"/><circle cx="467.2" cy="1059.2" r="6.1"/><circle cx="481.8" cy="1049.1" r="6.1"/><circle cx="496.4" cy="1068.1" r="6.1"/><circle cx="511" cy="1076.2" r="6.1"/><circle cx="525.6" cy="1080.2" r="6.1"/><circle cx="540.2" cy="1078.2" r="6.1"/><circle cx="554.8" cy="1087.8" r="6.1"/><circle cx="569.4" cy="1090.4" r="6.1"/></g>
</g>
<rect class="sp" x="85.0" y="14.0" width="483.4" height="1088.7"/>
<text x="69.7" y="1113.6" text-anchor="end">0</text>
<text x="69.7" y="977.3" text-anchor="end">1</text>
<text x="69.7" y="840.9" text-anchor="end">2</text>
<text x="69.7" y="704.6" text-anchor="end">3</text>
<text x="69.7" y="568.2" text-anchor="end">4</text>
<text x="69.7" y="431.9" text-anchor="end">5</text>
<text x="69.7" y="295.6" text-anchor="end">6</text>
<text x="69.7" y="159.2" text-anchor="end">7</text>
<text x="175.7" y="1138.4" text-anchor="middle">0</text>
<text x="326.6" y="1138.4" text-anchor="middle">50</text>
<text x="477.5" y="1138.4" text-anchor="middle">100</text>
<text x="326.6" y="1178" text-anchor="middle">Energy loss (meV)</text>
<text transform="translate(34.4 558) rotate(-90)" text-anchor="middle">Intensity (a. u.)</text>
<text x="555" y="505.4" text-anchor="end">0.98</text>
<text x="555" y="640.6" text-anchor="end">0.97</text>
<text x="555" y="761.6" text-anchor="end">0.96</text>
<text x="555" y="900.4" text-anchor="end">0.94</text>
<text x="555" y="1043.3" text-anchor="end">0.92</text>
<text x="553" y="327.3" text-anchor="end"><tspan class="it">x</tspan> = 0.99</text>
<text x="549" y="294" text-anchor="end" class="sm"><tspan class="bd">q</tspan> = (<tspan class="it">x</tspan><tspan class="pi">π</tspan>, <tspan class="it">x</tspan><tspan class="pi">π</tspan>)</text>
<path class="pe" d="M383 40.1v29.4"/>
<g class="pm"><circle cx="383" cy="54.8" r="6.1"/></g>
<path class="ke" d="M383 88.5v29.4"/>
<path class="km" d="M383 94.5l8.7 8.7l-8.7 8.7l-8.7-8.7z"/>
<path class="lr" d="M371 147.9h24"/>
<path class="lb" d="M371 192.1h24"/>
<path class="lg" stroke-dashoffset="6.5" d="M371 236h24"/>
<text x="421" y="62">Sr<tspan class="sb" dy="6.5" dx="0.6">5</tspan><tspan dy="-6.5" dx="0.8">Ir</tspan><tspan class="sb" dy="6.5" dx="0.6">3</tspan><tspan dy="-6.5" dx="0.8">O</tspan><tspan class="sb" dy="6.5" dx="0.6">11</tspan></text>
<text x="421" y="110.4">Sr<tspan class="sb" dy="6.5" dx="0.6">2</tspan><tspan dy="-6.5" dx="0.8">IrO</tspan><tspan class="sb" dy="6.5" dx="0.6">4</tspan></text>
<text x="421" y="157.4">Peak 1</text>
<text x="421" y="201.4">Peak 2</text>
<text x="421" y="245.5">DL</text>
<clipPath id="cb"><rect x="708.9" y="14.0" width="483.9" height="1088.5"/></clipPath>
<g clip-path="url(#cb)">
<g shape-rendering="crispEdges">
<rect x="733.1" y="1081.8" width="49" height="42.5" fill="#6aaed6"/>
<rect x="781.6" y="1081.8" width="49" height="42.5" fill="#8cc0dd"/>
<rect x="830" y="1081.8" width="49" height="42.5" fill="#d8e7f5"/>
<rect x="878.5" y="1081.8" width="73.2" height="42.5" fill="#dce9f6"/>
<rect x="951.2" y="1081.8" width="97.4" height="42.5" fill="#eaf3fb"/>
<rect x="1048" y="1081.8" width="97.4" height="42.5" fill="#eef5fc"/>
<rect x="733.1" y="1039.9" width="49" height="42.5" fill="#08306b"/>
<rect x="781.6" y="1039.9" width="49" height="42.5" fill="#2c7cba"/>
<rect x="830" y="1039.9" width="49" height="42.5" fill="#d0e1f2"/>
<rect x="878.5" y="1039.9" width="73.2" height="42.5" fill="#d9e8f5"/>
<rect x="951.2" y="1039.9" width="97.4" height="42.5" fill="#e0ecf8"/>
<rect x="1048" y="1039.9" width="97.4" height="42.5" fill="#eaf2fb"/>
<rect x="733.1" y="997.9" width="49" height="42.5" fill="#08306b"/>
<rect x="781.6" y="997.9" width="49" height="42.5" fill="#1b69af"/>
<rect x="830" y="997.9" width="49" height="42.5" fill="#69add5"/>
<rect x="878.5" y="997.9" width="73.2" height="42.5" fill="#b9d6ea"/>
<rect x="951.2" y="997.9" width="97.4" height="42.5" fill="#d3e4f3"/>
<rect x="1048" y="997.9" width="97.4" height="42.5" fill="#e7f1fa"/>
<rect x="733.1" y="956" width="49" height="42.4" fill="#08306b"/>
<rect x="781.6" y="956" width="49" height="42.4" fill="#08306b"/>
<rect x="830" y="956" width="49" height="42.4" fill="#87bddc"/>
<rect x="878.5" y="956" width="73.2" height="42.4" fill="#bdd7ec"/>
<rect x="951.2" y="956" width="97.4" height="42.4" fill="#a0cbe2"/>
<rect x="1048" y="956" width="97.4" height="42.4" fill="#dae8f6"/>
<rect x="733.1" y="914" width="49" height="42.5" fill="#08306b"/>
<rect x="781.6" y="914" width="49" height="42.5" fill="#08306b"/>
<rect x="830" y="914" width="49" height="42.5" fill="#1b69af"/>
<rect x="878.5" y="914" width="73.2" height="42.5" fill="#69add5"/>
<rect x="951.2" y="914" width="97.4" height="42.5" fill="#97c6df"/>
<rect x="1048" y="914" width="97.4" height="42.5" fill="#cfe1f2"/>
<rect x="733.1" y="872.1" width="49" height="42.5" fill="#08306b"/>
<rect x="781.6" y="872.1" width="49" height="42.5" fill="#08306b"/>
<rect x="830" y="872.1" width="49" height="42.5" fill="#08458a"/>
<rect x="878.5" y="872.1" width="73.2" height="42.5" fill="#4e9acb"/>
<rect x="951.2" y="872.1" width="97.4" height="42.5" fill="#9dcae1"/>
<rect x="1048" y="872.1" width="97.4" height="42.5" fill="#c8dcf0"/>
<rect x="733.1" y="830.1" width="49" height="42.4" fill="#08306b"/>
<rect x="781.6" y="830.1" width="49" height="42.4" fill="#08306b"/>
<rect x="830" y="830.1" width="49" height="42.4" fill="#0d57a1"/>
<rect x="878.5" y="830.1" width="73.2" height="42.4" fill="#2f7fbc"/>
<rect x="951.2" y="830.1" width="97.4" height="42.4" fill="#7fb9da"/>
<rect x="1048" y="830.1" width="97.4" height="42.4" fill="#d3e4f3"/>
<rect x="733.1" y="788.2" width="49" height="42.5" fill="#08326e"/>
<rect x="781.6" y="788.2" width="49" height="42.5" fill="#08519c"/>
<rect x="830" y="788.2" width="49" height="42.5" fill="#1663aa"/>
<rect x="878.5" y="788.2" width="73.2" height="42.5" fill="#3b8bc2"/>
<rect x="951.2" y="788.2" width="97.4" height="42.5" fill="#add0e6"/>
<rect x="1048" y="788.2" width="97.4" height="42.5" fill="#caddf0"/>
<rect x="733.1" y="746.2" width="49" height="42.5" fill="#4a98c9"/>
<rect x="781.6" y="746.2" width="49" height="42.5" fill="#1b69af"/>
<rect x="830" y="746.2" width="49" height="42.5" fill="#2373b6"/>
<rect x="878.5" y="746.2" width="73.2" height="42.5" fill="#3b8bc2"/>
<rect x="951.2" y="746.2" width="97.4" height="42.5" fill="#afd1e7"/>
<rect x="1048" y="746.2" width="97.4" height="42.5" fill="#d3e3f3"/>
<rect x="733.1" y="704.3" width="49" height="42.4" fill="#add0e6"/>
<rect x="781.6" y="704.3" width="49" height="42.4" fill="#64a9d3"/>
<rect x="830" y="704.3" width="49" height="42.4" fill="#3b8bc2"/>
<rect x="878.5" y="704.3" width="73.2" height="42.4" fill="#4493c7"/>
<rect x="951.2" y="704.3" width="97.4" height="42.4" fill="#75b4d8"/>
<rect x="1048" y="704.3" width="97.4" height="42.4" fill="#d2e3f3"/>
<rect x="733.1" y="662.3" width="49" height="42.5" fill="#a8cee4"/>
<rect x="781.6" y="662.3" width="49" height="42.5" fill="#aacfe5"/>
<rect x="830" y="662.3" width="49" height="42.5" fill="#a4cce3"/>
<rect x="878.5" y="662.3" width="73.2" height="42.5" fill="#6caed6"/>
<rect x="951.2" y="662.3" width="97.4" height="42.5" fill="#71b1d7"/>
<rect x="1048" y="662.3" width="97.4" height="42.5" fill="#c9ddf0"/>
<rect x="733.1" y="620.4" width="49" height="42.4" fill="#c1d9ed"/>
<rect x="781.6" y="620.4" width="49" height="42.4" fill="#cddff1"/>
<rect x="830" y="620.4" width="49" height="42.4" fill="#b5d4e9"/>
<rect x="878.5" y="620.4" width="73.2" height="42.4" fill="#aacfe5"/>
<rect x="951.2" y="620.4" width="97.4" height="42.4" fill="#87bddc"/>
<rect x="1048" y="620.4" width="97.4" height="42.4" fill="#bed8ec"/>
<rect x="733.1" y="578.4" width="49" height="42.5" fill="#d5e5f4"/>
<rect x="781.6" y="578.4" width="49" height="42.5" fill="#d0e2f2"/>
<rect x="830" y="578.4" width="49" height="42.5" fill="#c9ddf0"/>
<rect x="878.5" y="578.4" width="73.2" height="42.5" fill="#c1d9ed"/>
<rect x="951.2" y="578.4" width="97.4" height="42.5" fill="#a3cce3"/>
<rect x="1048" y="578.4" width="97.4" height="42.5" fill="#bfd8ed"/>
<rect x="733.1" y="536.5" width="49" height="42.5" fill="#d3e3f3"/>
<rect x="781.6" y="536.5" width="49" height="42.5" fill="#d1e2f3"/>
<rect x="830" y="536.5" width="49" height="42.5" fill="#d3e3f3"/>
<rect x="878.5" y="536.5" width="73.2" height="42.5" fill="#c6dbef"/>
<rect x="951.2" y="536.5" width="97.4" height="42.5" fill="#abd0e6"/>
<rect x="1048" y="536.5" width="97.4" height="42.5" fill="#a9cfe5"/>
<rect x="733.1" y="494.5" width="49" height="42.4" fill="#d6e5f4"/>
<rect x="781.6" y="494.5" width="49" height="42.4" fill="#d5e5f4"/>
<rect x="830" y="494.5" width="49" height="42.4" fill="#dbe9f6"/>
<rect x="878.5" y="494.5" width="73.2" height="42.4" fill="#c9ddf0"/>
<rect x="951.2" y="494.5" width="97.4" height="42.4" fill="#c8dcf0"/>
<rect x="1048" y="494.5" width="97.4" height="42.4" fill="#b4d3e9"/>
<rect x="733.1" y="452.6" width="49" height="42.5" fill="#d6e5f4"/>
<rect x="781.6" y="452.6" width="49" height="42.5" fill="#d9e8f5"/>
<rect x="830" y="452.6" width="49" height="42.5" fill="#d6e6f4"/>
<rect x="878.5" y="452.6" width="73.2" height="42.5" fill="#c8dcf0"/>
<rect x="951.2" y="452.6" width="97.4" height="42.5" fill="#d9e8f5"/>
<rect x="1048" y="452.6" width="97.4" height="42.5" fill="#bcd7eb"/>
<rect x="733.1" y="410.6" width="49" height="42.5" fill="#caddf0"/>
<rect x="781.6" y="410.6" width="49" height="42.5" fill="#cee0f2"/>
<rect x="830" y="410.6" width="49" height="42.5" fill="#cde0f1"/>
<rect x="878.5" y="410.6" width="73.2" height="42.5" fill="#c8dcf0"/>
<rect x="951.2" y="410.6" width="97.4" height="42.5" fill="#d4e4f4"/>
<rect x="1048" y="410.6" width="97.4" height="42.5" fill="#c6dbef"/>
<rect x="733.1" y="368.7" width="49" height="42.4" fill="#b4d3e9"/>
<rect x="781.6" y="368.7" width="49" height="42.4" fill="#bcd7eb"/>
<rect x="830" y="368.7" width="49" height="42.4" fill="#c6dbef"/>
<rect x="878.5" y="368.7" width="73.2" height="42.4" fill="#c4daee"/>
<rect x="951.2" y="368.7" width="97.4" height="42.4" fill="#cbdef1"/>
<rect x="1048" y="368.7" width="97.4" height="42.4" fill="#c7dbef"/>
<rect x="733.1" y="326.7" width="49" height="42.5" fill="#97c6df"/>
<rect x="781.6" y="326.7" width="49" height="42.5" fill="#a6cee4"/>
<rect x="830" y="326.7" width="49" height="42.5" fill="#bcd7eb"/>
<rect x="878.5" y="326.7" width="73.2" height="42.5" fill="#9fcae1"/>
<rect x="951.2" y="326.7" width="97.4" height="42.5" fill="#bfd8ed"/>
<rect x="1048" y="326.7" width="97.4" height="42.5" fill="#c7dcef"/>
<rect x="733.1" y="284.8" width="49" height="42.4" fill="#77b5d9"/>
<rect x="781.6" y="284.8" width="49" height="42.4" fill="#85bcdc"/>
<rect x="830" y="284.8" width="49" height="42.4" fill="#87bddc"/>
<rect x="878.5" y="284.8" width="73.2" height="42.4" fill="#77b5d9"/>
<rect x="951.2" y="284.8" width="97.4" height="42.4" fill="#abd0e6"/>
<rect x="1048" y="284.8" width="97.4" height="42.4" fill="#b5d4e9"/>
<rect x="733.1" y="242.8" width="49" height="42.5" fill="#65aad4"/>
<rect x="781.6" y="242.8" width="49" height="42.5" fill="#5fa6d1"/>
<rect x="830" y="242.8" width="49" height="42.5" fill="#5aa2cf"/>
<rect x="878.5" y="242.8" width="73.2" height="42.5" fill="#4e9acb"/>
<rect x="951.2" y="242.8" width="97.4" height="42.5" fill="#71b1d7"/>
<rect x="1048" y="242.8" width="97.4" height="42.5" fill="#8dc1dd"/>
<rect x="733.1" y="200.9" width="49" height="42.5" fill="#79b5d9"/>
<rect x="781.6" y="200.9" width="49" height="42.5" fill="#60a7d2"/>
<rect x="830" y="200.9" width="49" height="42.5" fill="#b7d4ea"/>
<rect x="878.5" y="200.9" width="73.2" height="42.5" fill="#3e8ec4"/>
<rect x="951.2" y="200.9" width="97.4" height="42.5" fill="#4896c8"/>
<rect x="1048" y="200.9" width="97.4" height="42.5" fill="#a3cce3"/>
<rect x="733.1" y="158.9" width="49" height="42.4" fill="#a3cce3"/>
<rect x="781.6" y="158.9" width="49" height="42.4" fill="#97c6df"/>
<rect x="830" y="158.9" width="49" height="42.4" fill="#c6dbef"/>
<rect x="878.5" y="158.9" width="73.2" height="42.4" fill="#60a7d2"/>
<rect x="951.2" y="158.9" width="97.4" height="42.4" fill="#5fa6d1"/>
<rect x="1048" y="158.9" width="97.4" height="42.4" fill="#9fcae1"/>
<rect x="733.1" y="117" width="49" height="42.5" fill="#c3daee"/>
<rect x="781.6" y="117" width="49" height="42.5" fill="#cadef0"/>
<rect x="830" y="117" width="49" height="42.5" fill="#caddf0"/>
<rect x="878.5" y="117" width="73.2" height="42.5" fill="#aed1e7"/>
<rect x="951.2" y="117" width="97.4" height="42.5" fill="#bdd7ec"/>
<rect x="1048" y="117" width="97.4" height="42.5" fill="#b9d6ea"/>
<rect x="733.1" y="75" width="49" height="42.5" fill="#d7e6f5"/>
<rect x="781.6" y="75" width="49" height="42.5" fill="#d3e4f3"/>
<rect x="830" y="75" width="49" height="42.5" fill="#d0e1f2"/>
<rect x="878.5" y="75" width="73.2" height="42.5" fill="#ccdff1"/>
<rect x="951.2" y="75" width="97.4" height="42.5" fill="#d1e2f3"/>
<rect x="1048" y="75" width="97.4" height="42.5" fill="#cee0f2"/>
<rect x="733.1" y="33.1" width="49" height="42.4" fill="#deebf7"/>
<rect x="781.6" y="33.1" width="49" height="42.4" fill="#dae8f6"/>
<rect x="830" y="33.1" width="49" height="42.4" fill="#d7e6f5"/>
<rect x="878.5" y="33.1" width="73.2" height="42.4" fill="#d2e3f3"/>
<rect x="951.2" y="33.1" width="97.4" height="42.4" fill="#dae8f6"/>
<rect x="1048" y="33.1" width="97.4" height="42.4" fill="#d6e5f4"/>
<rect x="733.1" y="-8.9" width="49" height="42.5" fill="#dfecf7"/>
<rect x="781.6" y="-8.9" width="49" height="42.5" fill="#d9e8f5"/>
<rect x="830" y="-8.9" width="49" height="42.5" fill="#e5eff9"/>
<rect x="878.5" y="-8.9" width="73.2" height="42.5" fill="#d0e1f2"/>
<rect x="951.2" y="-8.9" width="97.4" height="42.5" fill="#e0ecf8"/>
<rect x="1048" y="-8.9" width="97.4" height="42.5" fill="#d4e4f4"/>
</g>
</g>
<path class="tk" d="M708.9 1018.9h12M1192.8 1018.9h-12M708.9 851.1h12M1192.8 851.1h-12M708.9 683.3h12M1192.8 683.3h-12M708.9 515.5h12M1192.8 515.5h-12M708.9 347.7h12M1192.8 347.7h-12M708.9 179.9h12M1192.8 179.9h-12M805.8 1102.5v-12M805.8 14v12M902.7 1102.5v-12M902.7 14v12M999.6 1102.5v-12M999.6 14v12M1096.5 1102.5v-12M1096.5 14v12"/>
<g clip-path="url(#cb)">
<path class="lr" d="M708.9 1002.1L1193.4 836"/>
<path class="lb" d="M708.9 1002.1L1193.4 421.5"/>
<path class="lk2" d="M708.9 1002.1L1193.4 629.6"/>
<path class="lg" d="M708.9 263.8L1193.4 206.7"/>
<path class="eb b1" d="M757.4 873.8V1125.5M805.8 954.3V1024.8M854.3 897.2V989.5M902.7 879.6V956.8M999.6 883V916.5M1096.5 847.7V904.8"/>
<path class="eb cp b1" d="M749 873.8h16.8M749 1125.5h16.8M797.4 954.3h16.8M797.4 1024.8h16.8M845.9 897.2h16.8M845.9 989.5h16.8M894.3 879.6h16.8M894.3 956.8h16.8M991.2 883h16.8M991.2 916.5h16.8M1088.1 847.7h16.8M1088.1 904.8h16.8"/>
<path class="eb b2" d="M757.4 863.7V1006.3M805.8 830.1V880.5M854.3 773.1V845.2M902.7 721.9V778.9M999.6 648.9V679.1M1096.5 538.2V571.7"/>
<path class="eb cp b2" d="M749 863.7h16.8M749 1006.3h16.8M797.4 830.1h16.8M797.4 880.5h16.8M845.9 773.1h16.8M845.9 845.2h16.8M894.3 721.9h16.8M894.3 778.9h16.8M991.2 648.9h16.8M991.2 679.1h16.8M1088.1 538.2h16.8M1088.1 571.7h16.8"/>
<path class="eb bk" d="M757.4 978.6V995.4M805.8 923.3V933.3M854.3 891.4V901.4M902.7 840.2V853.6M951.2 806.6V820.1"/>
<path class="eb cp bk" d="M749 978.6h16.8M749 995.4h16.8M797.4 923.3h16.8M797.4 933.3h16.8M845.9 891.4h16.8M845.9 901.4h16.8M894.3 840.2h16.8M894.3 853.6h16.8M942.8 806.6h16.8M942.8 820.1h16.8"/>
<path class="eb bg" d="M757.4 249.5V289.8M805.8 244.5V257.9M854.3 249.5V271.4M902.7 229.4V244.5M999.6 215.1V230.2M1096.5 205.1V233.6"/>
<path class="eb cp bg" d="M749 249.5h16.8M749 289.8h16.8M797.4 244.5h16.8M797.4 257.9h16.8M845.9 249.5h16.8M845.9 271.4h16.8M894.3 229.4h16.8M894.3 244.5h16.8M991.2 215.1h16.8M991.2 230.2h16.8M1088.1 205.1h16.8M1088.1 233.6h16.8"/>
<g class="b1">
<circle cx="757.4" cy="999.6" r="11.9"/>
<circle cx="805.8" cy="989.5" r="11.9"/>
<circle cx="854.3" cy="943.4" r="11.9"/>
<circle cx="902.7" cy="918.2" r="11.9"/>
<circle cx="999.6" cy="899.8" r="11.9"/>
<circle cx="1096.5" cy="876.3" r="11.9"/>
</g>
<g class="b2">
<circle cx="757.4" cy="935" r="11.9"/>
<circle cx="805.8" cy="855.3" r="11.9"/>
<circle cx="854.3" cy="809.1" r="11.9"/>
<circle cx="902.7" cy="750.4" r="11.9"/>
<circle cx="999.6" cy="664" r="11.9"/>
<circle cx="1096.5" cy="554.9" r="11.9"/>
</g>
<g class="bk">
<path d="M757.4 973.4l13.6 13.6l-13.6 13.6l-13.6-13.6z"/>
<path d="M805.8 914.7l13.6 13.6l-13.6 13.6l-13.6-13.6z"/>
<path d="M854.3 882.8l13.6 13.6l-13.6 13.6l-13.6-13.6z"/>
<path d="M902.7 833.3l13.6 13.6l-13.6 13.6l-13.6-13.6z"/>
<path d="M951.2 799.7l13.6 13.6l-13.6 13.6l-13.6-13.6z"/>
</g>
<g class="bg">
<circle cx="757.4" cy="269.7" r="11.9"/>
<circle cx="805.8" cy="251.2" r="11.9"/>
<circle cx="854.3" cy="260.4" r="11.9"/>
<circle cx="902.7" cy="237" r="11.9"/>
<circle cx="999.6" cy="222.7" r="11.9"/>
<circle cx="1096.5" cy="219.3" r="11.9"/>
</g>
</g>
<rect class="sp" x="708.9" y="14.0" width="483.9" height="1088.5"/>
<text x="693.2" y="1029.9" text-anchor="end">0</text>
<text x="693.2" y="862.1" text-anchor="end">20</text>
<text x="693.2" y="694.3" text-anchor="end">40</text>
<text x="693.2" y="526.5" text-anchor="end">60</text>
<text x="693.2" y="358.7" text-anchor="end">80</text>
<text x="693.2" y="190.9" text-anchor="end">100</text>
<text x="705.4" y="1138.7" text-anchor="middle">1.00</text>
<text x="802.3" y="1138.7" text-anchor="middle">0.98</text>
<text x="899.2" y="1138.7" text-anchor="middle">0.96</text>
<text x="996.1" y="1138.7" text-anchor="middle">0.94</text>
<text x="1093" y="1138.7" text-anchor="middle">0.92</text>
<text x="1189.9" y="1138.7" text-anchor="middle">0.90</text>
<text x="946.5" y="1181" text-anchor="middle" class="sm"><tspan class="bd">q</tspan> = (<tspan class="it">x</tspan><tspan class="pi">π</tspan>, <tspan class="it">x</tspan><tspan class="pi">π</tspan>)</text>
<text transform="translate(626.5 558) rotate(-90)" text-anchor="middle">Energy (meV)</text>
<g class="b1">
<path class="eb" d="M829.5 39v32"/>
<path class="eb cp" d="M821.1 39h16.8M821.1 71h16.8"/>
<circle cx="829.5" cy="55" r="11.9"/>
</g>
<g class="b2">
<path class="eb" d="M829.5 81v32"/>
<path class="eb cp" d="M821.1 81h16.8M821.1 113h16.8"/>
<circle cx="829.5" cy="97" r="11.9"/>
</g>
<g class="bk">
<path class="eb" d="M1032 39v32"/>
<path class="eb cp" d="M1023.6 39h16.8M1023.6 71h16.8"/>
<path d="M1032 41.4l13.6 13.6l-13.6 13.6l-13.6-13.6z"/>
</g>
<g class="bg">
<path class="eb" d="M1032 83v32"/>
<path class="eb cp" d="M1023.6 83h16.8M1023.6 115h16.8"/>
<circle cx="1032" cy="99" r="11.9"/>
</g>
<text x="868" y="65">Peak 1</text>
<text x="868" y="107">Peak 2</text>
<text x="1070" y="63">Sr<tspan class="sb" dy="6.5" dx="0.6">2</tspan><tspan dy="-6.5" dx="0.8">IrO</tspan><tspan class="sb" dy="6.5" dx="0.6">4</tspan></text>
<text x="1070" y="109">DL</text>
<linearGradient id="gb" x1="0" y1="0" x2="0" y2="1"><stop offset="0%" stop-color="#08306b"/><stop offset="6.2%" stop-color="#084082"/><stop offset="12.5%" stop-color="#08509b"/><stop offset="18.8%" stop-color="#1460a8"/><stop offset="25%" stop-color="#2070b4"/><stop offset="31.2%" stop-color="#3181bd"/><stop offset="37.5%" stop-color="#4191c6"/><stop offset="43.8%" stop-color="#56a0ce"/><stop offset="50%" stop-color="#6aaed6"/><stop offset="56.2%" stop-color="#84bcdb"/><stop offset="62.5%" stop-color="#9dcae1"/><stop offset="68.8%" stop-color="#b2d2e8"/><stop offset="75%" stop-color="#c6dbef"/><stop offset="81.2%" stop-color="#d2e3f3"/><stop offset="87.5%" stop-color="#deebf7"/><stop offset="93.8%" stop-color="#eaf3fb"/><stop offset="100%" stop-color="#f7fbff"/></linearGradient>
<rect x="1235.7" y="775.7" width="27.1" height="326.7" fill="url(#gb)"/>
<text x="1277.3" y="1113.4">0.0</text>
<text x="1277.3" y="1048.1">0.2</text>
<text x="1277.3" y="982.7">0.4</text>
<text x="1277.3" y="917.4">0.6</text>
<text x="1277.3" y="852">0.8</text>
<text x="1277.3" y="786.7">1.0</text>
<path class="tk" d="M1262.8 1102.4h-12M1262.8 1037.1h-12M1262.8 971.7h-12M1262.8 906.4h-12M1262.8 841h-12M1262.8 775.7h-12"/>
<rect class="sp" x="1235.7" y="775.7" width="27.1" height="326.7"/>
<clipPath id="cd0"><rect x="1333.8" y="413.9" width="271.9" height="227.2"/></clipPath>
<path d="M1333.8 413.9L1333.8 468.4L1334.8 468.4L1335.9 468.4L1336.9 468.4L1338 468.4L1339 468.4L1340.1 468.5L1341.1 468.5L1342.2 468.6L1343.2 468.6L1344.2 468.7L1345.3 468.8L1346.3 468.9L1347.4 469.1L1348.4 469.2L1349.5 469.4L1350.5 469.6L1351.5 469.8L1352.6 470.1L1353.6 470.4L1354.7 470.7L1355.7 471L1356.8 471.4L1357.8 471.8L1358.9 472.2L1359.9 472.7L1360.9 473.1L1362 473.7L1363 474.2L1364.1 474.8L1365.1 475.5L1366.2 476.2L1367.2 476.9L1368.3 477.7L1369.3 478.5L1370.3 479.3L1371.4 480.2L1372.4 481.2L1373.5 482.1L1374.5 483.2L1375.6 484.3L1376.6 485.4L1377.6 486.6L1378.7 487.8L1379.7 489.1L1380.8 490.5L1381.8 491.9L1382.9 493.3L1383.9 494.8L1385 496.4L1386 498L1387 499.7L1388.1 501.5L1389.1 503.3L1390.2 505.2L1391.2 507.1L1392.3 509.1L1393.3 511.2L1394.4 513.3L1395.4 515.5L1395.4 515.5L1396.9 512.1L1398.3 508.8L1399.8 505.6L1401.3 502.6L1402.8 499.7L1404.3 497L1405.7 494.4L1407.2 491.9L1408.7 489.5L1410.2 487.3L1411.6 485.3L1413.1 483.3L1414.6 481.5L1416.1 479.8L1417.5 478.3L1419 476.8L1420.5 475.5L1422 474.3L1423.4 473.3L1424.9 472.3L1426.4 471.4L1427.9 470.7L1429.4 470.1L1430.8 469.6L1432.3 469.2L1433.8 468.8L1435.3 468.6L1436.7 468.5L1438.2 468.4L1439.7 468.4L1441.2 468.5L1442.6 468.6L1444.1 468.8L1445.6 469.2L1447.1 469.6L1448.5 470.1L1450 470.7L1451.5 471.4L1453 472.3L1454.5 473.3L1455.9 474.3L1457.4 475.5L1458.9 476.8L1460.4 478.3L1461.8 479.8L1463.3 481.5L1464.8 483.3L1466.3 485.3L1467.7 487.3L1469.2 489.5L1470.7 491.9L1472.2 494.4L1473.6 497L1475.1 499.7L1476.6 502.6L1478.1 505.6L1479.6 508.8L1481 512.1L1482.5 515.5L1482.5 515.5L1483.6 513L1484.6 510.6L1485.6 508.3L1486.7 506L1487.7 503.9L1488.8 501.8L1489.8 499.8L1490.9 497.9L1491.9 496.1L1492.9 494.4L1494 492.7L1495 491.2L1496.1 489.6L1497.1 488.2L1498.2 486.8L1499.2 485.5L1500.3 484.3L1501.3 483.1L1502.3 482L1503.4 480.9L1504.4 479.9L1505.5 479L1506.5 478.1L1507.6 477.3L1508.6 476.5L1509.7 475.7L1510.7 475L1511.7 474.4L1512.8 473.8L1513.8 473.3L1514.9 472.7L1515.9 472.3L1517 471.8L1518 471.4L1519 471L1520.1 470.7L1521.1 470.4L1522.2 470.1L1523.2 469.9L1524.3 469.7L1525.3 469.5L1526.4 469.3L1527.4 469.1L1528.4 469L1529.5 468.9L1530.5 468.8L1531.6 468.7L1532.6 468.6L1533.7 468.6L1534.7 468.5L1535.8 468.5L1536.8 468.5L1537.8 468.4L1538.9 468.4L1539.9 468.4L1541 468.4L1542 468.4L1543.1 468.4L1544.1 468.4L1544.1 468.4L1545.1 468.4L1546.2 468.4L1547.2 468.4L1548.3 468.4L1549.3 468.4L1550.4 468.4L1551.4 468.5L1552.5 468.5L1553.5 468.5L1554.5 468.6L1555.6 468.6L1556.6 468.7L1557.7 468.8L1558.7 468.9L1559.8 469L1560.8 469.1L1561.9 469.3L1562.9 469.5L1563.9 469.7L1565 469.9L1566 470.1L1567.1 470.4L1568.1 470.7L1569.2 471L1570.2 471.4L1571.2 471.8L1572.3 472.3L1573.3 472.7L1574.4 473.3L1575.4 473.8L1576.5 474.4L1577.5 475L1578.6 475.7L1579.6 476.5L1580.6 477.3L1581.7 478.1L1582.7 479L1583.8 479.9L1584.8 480.9L1585.9 482L1586.9 483.1L1588 484.3L1589 485.5L1590 486.8L1591.1 488.2L1592.1 489.6L1593.2 491.2L1594.2 492.7L1595.3 494.4L1596.3 496.1L1597.3 497.9L1598.4 499.8L1599.4 501.8L1600.5 503.9L1601.5 506L1602.6 508.3L1603.6 510.6L1604.7 513L1605.7 515.5L1605.7 413.9Z" fill="#ffe5e5"/>
<path class="tk" d="M1333.8 562.6h12M1605.7 562.6h-12M1333.8 484.1h12M1605.7 484.1h-12M1395.4 641.1v-12M1395.4 413.9v12M1482.5 641.1v-12M1482.5 413.9v12M1544.1 641.1v-12M1544.1 413.9v12"/>
<g clip-path="url(#cd0)">
<path class="dbs" d="M1333.8 562.6L1334.8 562.5L1335.9 562.4L1336.9 562.1L1338 561.7L1339 561.2L1340.1 560.6L1341.1 559.9L1342.2 559.1L1343.2 558.2L1344.2 557.2L1345.3 556.1L1346.3 554.9L1347.4 553.6L1348.4 552.2L1349.5 550.7L1350.5 549.2L1351.5 547.6L1352.6 545.9L1353.6 544.2L1354.7 542.4L1355.7 540.5L1356.8 538.6L1357.8 536.7L1358.9 534.7L1359.9 532.7L1360.9 530.6L1362 528.6L1363 526.5L1364.1 524.4L1365.1 522.3L1366.2 520.2L1367.2 518.1L1368.3 516.1L1369.3 514L1370.3 512L1371.4 510L1372.4 508.1L1373.5 506.2L1374.5 504.3L1375.6 502.5L1376.6 500.8L1377.6 499.1L1378.7 497.5L1379.7 496L1380.8 494.5L1381.8 493.1L1382.9 491.8"/>
<path class="dbd" d="M1381.8 493.1L1382.9 491.8L1383.9 490.6L1385 489.5L1386 488.5L1387 487.6L1388.1 486.8L1389.1 486.1L1390.2 485.5L1391.2 485L1392.3 484.6L1393.3 484.3L1394.4 484.2L1395.4 484.1L1395.4 484.1L1396.9 484.2L1398.3 484.3L1399.8 484.6L1401.3 485L1402.8 485.5L1404.3 486.1L1405.7 486.8L1407.2 487.6L1408.7 488.6L1410.2 489.6"/>
<path class="dbs" d="M1408.7 488.6L1410.2 489.6L1411.6 490.8L1413.1 492L1414.6 493.4L1416.1 494.9L1417.5 496.5L1419 498.1L1420.5 499.9L1422 501.8L1423.4 503.8L1424.9 505.8L1426.4 508L1427.9 510.3L1429.4 512.6L1430.8 515.1L1432.3 517.6L1433.8 520.2L1435.3 522.9L1436.7 525.7L1438.2 528.6L1439.7 531.6L1441.2 534.6L1442.6 537.7L1444.1 540.9L1445.6 544.1L1447.1 547.5L1448.5 550.9L1450 554.3L1451.5 557.8L1453 561.4L1454.5 565L1455.9 568.7L1457.4 572.4L1458.9 576.2L1460.4 580.1L1461.8 583.9L1463.3 587.8L1464.8 591.8L1466.3 595.8L1467.7 599.8L1469.2 603.8L1470.7 607.9L1472.2 612L1473.6 616.1L1475.1 620.3L1476.6 624.4L1478.1 628.6L1479.6 632.7L1481 636.9L1482.5 641.1L1482.5 641.1L1483.6 639L1484.6 636.9L1485.6 634.8L1486.7 632.8L1487.7 630.7L1488.8 628.6L1489.8 626.6L1490.9 624.5L1491.9 622.5L1492.9 620.4L1494 618.4L1495 616.4L1496.1 614.5L1497.1 612.5L1498.2 610.6L1499.2 608.7L1500.3 606.8L1501.3 604.9L1502.3 603.1L1503.4 601.2L1504.4 599.5L1505.5 597.7L1506.5 596L1507.6 594.3L1508.6 592.6L1509.7 591L1510.7 589.4L1511.7 587.9L1512.8 586.3L1513.8 584.9L1514.9 583.4L1515.9 582L1517 580.7L1518 579.4L1519 578.1L1520.1 576.9L1521.1 575.7L1522.2 574.6L1523.2 573.5L1524.3 572.4L1525.3 571.4L1526.4 570.5L1527.4 569.6L1528.4 568.8L1529.5 568L1530.5 567.3L1531.6 566.6L1532.6 565.9L1533.7 565.4L1534.7 564.8L1535.8 564.4L1536.8 564L1537.8 563.6L1538.9 563.3L1539.9 563L1541 562.9L1542 562.7L1543.1 562.6L1544.1 562.6L1544.1 562.6L1545.1 562.6L1546.2 562.7L1547.2 562.9L1548.3 563L1549.3 563.3L1550.4 563.6L1551.4 564L1552.5 564.4L1553.5 564.8L1554.5 565.4L1555.6 565.9L1556.6 566.6L1557.7 567.3L1558.7 568L1559.8 568.8L1560.8 569.6L1561.9 570.5L1562.9 571.4L1563.9 572.4L1565 573.5L1566 574.6L1567.1 575.7L1568.1 576.9L1569.2 578.1L1570.2 579.4L1571.2 580.7L1572.3 582L1573.3 583.4L1574.4 584.9L1575.4 586.3L1576.5 587.9L1577.5 589.4L1578.6 591L1579.6 592.6L1580.6 594.3L1581.7 596L1582.7 597.7L1583.8 599.5L1584.8 601.2L1585.9 603.1L1586.9 604.9L1588 606.8L1589 608.7L1590 610.6L1591.1 612.5L1592.1 614.5L1593.2 616.4L1594.2 618.4L1595.3 620.4L1596.3 622.5L1597.3 624.5L1598.4 626.6L1599.4 628.6L1600.5 630.7L1601.5 632.8L1602.6 634.8L1603.6 636.9L1604.7 639L1605.7 641.1"/>
<path class="dr" d="M1333.8 468.4L1334.8 468.4L1335.9 468.4L1336.9 468.4L1338 468.4L1339 468.4L1340.1 468.5L1341.1 468.5L1342.2 468.6L1343.2 468.6L1344.2 468.7L1345.3 468.8L1346.3 468.9L1347.4 469.1L1348.4 469.2L1349.5 469.4L1350.5 469.6L1351.5 469.8L1352.6 470.1L1353.6 470.4L1354.7 470.7L1355.7 471L1356.8 471.4L1357.8 471.8L1358.9 472.2L1359.9 472.7L1360.9 473.1L1362 473.7L1363 474.2L1364.1 474.8L1365.1 475.5L1366.2 476.2L1367.2 476.9L1368.3 477.7L1369.3 478.5L1370.3 479.3L1371.4 480.2L1372.4 481.2L1373.5 482.1L1374.5 483.2L1375.6 484.3L1376.6 485.4L1377.6 486.6L1378.7 487.8L1379.7 489.1L1380.8 490.5L1381.8 491.9L1382.9 493.3L1383.9 494.8L1385 496.4L1386 498L1387 499.7L1388.1 501.5L1389.1 503.3L1390.2 505.2L1391.2 507.1L1392.3 509.1L1393.3 511.2L1394.4 513.3L1395.4 515.5L1395.4 515.5L1396.9 512.1L1398.3 508.8L1399.8 505.6L1401.3 502.6L1402.8 499.7L1404.3 497L1405.7 494.4L1407.2 491.9L1408.7 489.5L1410.2 487.3L1411.6 485.3L1413.1 483.3L1414.6 481.5L1416.1 479.8L1417.5 478.3L1419 476.8L1420.5 475.5L1422 474.3L1423.4 473.3L1424.9 472.3L1426.4 471.4L1427.9 470.7L1429.4 470.1L1430.8 469.6L1432.3 469.2L1433.8 468.8L1435.3 468.6L1436.7 468.5L1438.2 468.4L1439.7 468.4L1441.2 468.5L1442.6 468.6L1444.1 468.8L1445.6 469.2L1447.1 469.6L1448.5 470.1L1450 470.7L1451.5 471.4L1453 472.3L1454.5 473.3L1455.9 474.3L1457.4 475.5L1458.9 476.8L1460.4 478.3L1461.8 479.8L1463.3 481.5L1464.8 483.3L1466.3 485.3L1467.7 487.3L1469.2 489.5L1470.7 491.9L1472.2 494.4L1473.6 497L1475.1 499.7L1476.6 502.6L1478.1 505.6L1479.6 508.8L1481 512.1L1482.5 515.5L1482.5 515.5L1483.6 513L1484.6 510.6L1485.6 508.3L1486.7 506L1487.7 503.9L1488.8 501.8L1489.8 499.8L1490.9 497.9L1491.9 496.1L1492.9 494.4L1494 492.7L1495 491.2L1496.1 489.6L1497.1 488.2L1498.2 486.8L1499.2 485.5L1500.3 484.3L1501.3 483.1L1502.3 482L1503.4 480.9L1504.4 479.9L1505.5 479L1506.5 478.1L1507.6 477.3L1508.6 476.5L1509.7 475.7L1510.7 475L1511.7 474.4L1512.8 473.8L1513.8 473.3L1514.9 472.7L1515.9 472.3L1517 471.8L1518 471.4L1519 471L1520.1 470.7L1521.1 470.4L1522.2 470.1L1523.2 469.9L1524.3 469.7L1525.3 469.5L1526.4 469.3L1527.4 469.1L1528.4 469L1529.5 468.9L1530.5 468.8L1531.6 468.7L1532.6 468.6L1533.7 468.6L1534.7 468.5L1535.8 468.5L1536.8 468.5L1537.8 468.4L1538.9 468.4L1539.9 468.4L1541 468.4L1542 468.4L1543.1 468.4L1544.1 468.4L1544.1 468.4L1545.1 468.4L1546.2 468.4L1547.2 468.4L1548.3 468.4L1549.3 468.4L1550.4 468.4L1551.4 468.5L1552.5 468.5L1553.5 468.5L1554.5 468.6L1555.6 468.6L1556.6 468.7L1557.7 468.8L1558.7 468.9L1559.8 469L1560.8 469.1L1561.9 469.3L1562.9 469.5L1563.9 469.7L1565 469.9L1566 470.1L1567.1 470.4L1568.1 470.7L1569.2 471L1570.2 471.4L1571.2 471.8L1572.3 472.3L1573.3 472.7L1574.4 473.3L1575.4 473.8L1576.5 474.4L1577.5 475L1578.6 475.7L1579.6 476.5L1580.6 477.3L1581.7 478.1L1582.7 479L1583.8 479.9L1584.8 480.9L1585.9 482L1586.9 483.1L1588 484.3L1589 485.5L1590 486.8L1591.1 488.2L1592.1 489.6L1593.2 491.2L1594.2 492.7L1595.3 494.4L1596.3 496.1L1597.3 497.9L1598.4 499.8L1599.4 501.8L1600.5 503.9L1601.5 506L1602.6 508.3L1603.6 510.6L1604.7 513L1605.7 515.5"/>
</g>
<rect class="sp" x="1333.8" y="413.9" width="271.9" height="227.2"/>
<text transform="translate(1319.8 657.6) rotate(45)">(<tspan class="pi2">π</tspan>/2, <tspan class="pi2">π</tspan>/2)</text>
<text transform="translate(1381.4 657.6) rotate(45)">(<tspan class="pi2">π</tspan>, 0)</text>
<text transform="translate(1468.5 657.6) rotate(45)">(<tspan class="pi2">π</tspan>, <tspan class="pi2">π</tspan>)</text>
<text transform="translate(1530.1 657.6) rotate(45)">(<tspan class="pi2">π</tspan>/2, <tspan class="pi2">π</tspan>/2)</text>
<text transform="translate(1591.7 657.6) rotate(45)">(0, 0)</text>
<text x="1593.7" y="450" text-anchor="end">Sr<tspan class="sb" dy="6.5" dx="0.6">2</tspan><tspan dy="-6.5" dx="0.8">IrO</tspan><tspan class="sb" dy="6.5" dx="0.6">4</tspan></text>
<text x="1318" y="652" text-anchor="end">0</text>
<text x="1318" y="573.5" text-anchor="end">100</text>
<text x="1318" y="495" text-anchor="end">200</text>
<clipPath id="cd1"><rect x="1664.7" y="413.9" width="271.9" height="227.2"/></clipPath>
<path d="M1664.7 413.9L1664.7 594L1665.7 594L1666.8 594L1667.8 594L1668.9 594L1669.9 594L1671 594.1L1672 594.1L1673.1 594.1L1674.1 594.2L1675.1 594.3L1676.2 594.4L1677.2 594.5L1678.3 594.6L1679.3 594.7L1680.4 594.8L1681.4 595L1682.4 595.2L1683.5 595.4L1684.5 595.6L1685.6 595.9L1686.6 596.2L1687.7 596.5L1688.7 596.8L1689.8 597.2L1690.8 597.5L1691.8 598L1692.9 598.4L1693.9 598.9L1695 599.4L1696 599.9L1697.1 600.5L1698.1 601.1L1699.2 601.7L1700.2 602.4L1701.2 603.1L1702.3 603.8L1703.3 604.6L1704.4 605.5L1705.4 606.3L1706.5 607.2L1707.5 608.2L1708.5 609.2L1709.6 610.2L1710.6 611.3L1711.7 612.4L1712.7 613.6L1713.8 614.8L1714.8 616L1715.9 617.3L1716.9 618.7L1717.9 620.1L1719 621.6L1720 623.1L1721.1 624.6L1722.1 626.2L1723.2 627.9L1724.2 629.6L1725.3 631.4L1726.3 633.2L1726.3 633.2L1727.8 630.4L1729.2 627.6L1730.7 625L1732.2 622.5L1733.7 620.1L1735.2 617.8L1736.6 615.6L1738.1 613.6L1739.6 611.6L1741.1 609.8L1742.5 608.1L1744 606.4L1745.5 604.9L1747 603.5L1748.4 602.2L1749.9 601L1751.4 599.9L1752.9 598.9L1754.3 598L1755.8 597.2L1757.3 596.5L1758.8 595.9L1760.3 595.4L1761.7 595L1763.2 594.6L1764.7 594.4L1766.2 594.2L1767.6 594.1L1769.1 594L1770.6 594L1772.1 594.1L1773.5 594.2L1775 594.4L1776.5 594.6L1778 595L1779.4 595.4L1780.9 595.9L1782.4 596.5L1783.9 597.2L1785.4 598L1786.8 598.9L1788.3 599.9L1789.8 601L1791.3 602.2L1792.7 603.5L1794.2 604.9L1795.7 606.4L1797.2 608.1L1798.6 609.8L1800.1 611.6L1801.6 613.6L1803.1 615.6L1804.5 617.8L1806 620.1L1807.5 622.5L1809 625L1810.5 627.6L1811.9 630.4L1813.4 633.2L1813.4 633.2L1814.5 631.2L1815.5 629.1L1816.5 627.2L1817.6 625.4L1818.6 623.6L1819.7 621.8L1820.7 620.2L1821.8 618.6L1822.8 617.1L1823.8 615.7L1824.9 614.3L1825.9 613L1827 611.7L1828 610.5L1829.1 609.4L1830.1 608.3L1831.2 607.2L1832.2 606.2L1833.2 605.3L1834.3 604.4L1835.3 603.6L1836.4 602.8L1837.4 602.1L1838.5 601.4L1839.5 600.7L1840.6 600.1L1841.6 599.5L1842.6 599L1843.7 598.5L1844.7 598L1845.8 597.6L1846.8 597.2L1847.9 596.9L1848.9 596.5L1849.9 596.2L1851 595.9L1852 595.7L1853.1 595.4L1854.1 595.2L1855.2 595L1856.2 594.9L1857.3 594.7L1858.3 594.6L1859.3 594.5L1860.4 594.4L1861.4 594.3L1862.5 594.2L1863.5 594.2L1864.6 594.1L1865.6 594.1L1866.7 594.1L1867.7 594L1868.7 594L1869.8 594L1870.8 594L1871.9 594L1872.9 594L1874 594L1875 594L1875 594L1876 594L1877.1 594L1878.1 594L1879.2 594L1880.2 594L1881.3 594L1882.3 594L1883.4 594.1L1884.4 594.1L1885.4 594.1L1886.5 594.2L1887.5 594.2L1888.6 594.3L1889.6 594.4L1890.7 594.5L1891.7 594.6L1892.8 594.7L1893.8 594.9L1894.8 595L1895.9 595.2L1896.9 595.4L1898 595.7L1899 595.9L1900.1 596.2L1901.1 596.5L1902.1 596.9L1903.2 597.2L1904.2 597.6L1905.3 598L1906.3 598.5L1907.4 599L1908.4 599.5L1909.5 600.1L1910.5 600.7L1911.5 601.4L1912.6 602.1L1913.6 602.8L1914.7 603.6L1915.7 604.4L1916.8 605.3L1917.8 606.2L1918.9 607.2L1919.9 608.3L1920.9 609.4L1922 610.5L1923 611.7L1924.1 613L1925.1 614.3L1926.2 615.7L1927.2 617.1L1928.2 618.6L1929.3 620.2L1930.3 621.8L1931.4 623.6L1932.4 625.4L1933.5 627.2L1934.5 629.1L1935.6 631.2L1936.6 633.2L1936.6 413.9Z" fill="#ffe5e5"/>
<path class="tk" d="M1664.7 562.6h12M1936.6 562.6h-12M1664.7 484.1h12M1936.6 484.1h-12M1726.3 641.1v-12M1726.3 413.9v12M1813.4 641.1v-12M1813.4 413.9v12M1875 641.1v-12M1875 413.9v12"/>
<g clip-path="url(#cd1)">
<path class="dbd" d="M1664.7 562.6L1665.7 562.5L1666.8 562.4L1667.8 562.1L1668.9 561.7L1669.9 561.2L1671 560.6L1672 559.9L1673.1 559.1L1674.1 558.2L1675.1 557.2L1676.2 556.1L1677.2 554.9L1678.3 553.6L1679.3 552.2L1680.4 550.7L1681.4 549.2L1682.4 547.6L1683.5 545.9L1684.5 544.2L1685.6 542.4L1686.6 540.5L1687.7 538.6L1688.7 536.7L1689.8 534.7L1690.8 532.7L1691.8 530.6L1692.9 528.6L1693.9 526.5L1695 524.4L1696 522.3L1697.1 520.2L1698.1 518.1L1699.2 516.1L1700.2 514L1701.2 512L1702.3 510L1703.3 508.1L1704.4 506.2L1705.4 504.3L1706.5 502.5L1707.5 500.8L1708.5 499.1L1709.6 497.5L1710.6 496L1711.7 494.5L1712.7 493.1L1713.8 491.8L1714.8 490.6L1715.9 489.5L1716.9 488.5L1717.9 487.6L1719 486.8L1720 486.1L1721.1 485.5L1722.1 485L1723.2 484.6L1724.2 484.3L1725.3 484.2L1726.3 484.1L1726.3 484.1L1727.8 484.2L1729.2 484.3L1730.7 484.6L1732.2 485L1733.7 485.5L1735.2 486.1L1736.6 486.8L1738.1 487.6L1739.6 488.6L1741.1 489.6L1742.5 490.8L1744 492L1745.5 493.4L1747 494.9L1748.4 496.5L1749.9 498.1L1751.4 499.9L1752.9 501.8L1754.3 503.8L1755.8 505.8L1757.3 508L1758.8 510.3L1760.3 512.6L1761.7 515.1L1763.2 517.6L1764.7 520.2L1766.2 522.9L1767.6 525.7L1769.1 528.6L1770.6 531.6L1772.1 534.6L1773.5 537.7L1775 540.9L1776.5 544.1L1778 547.5L1779.4 550.9L1780.9 554.3L1782.4 557.8L1783.9 561.4L1785.4 565L1786.8 568.7L1788.3 572.4L1789.8 576.2L1791.3 580.1L1792.7 583.9L1794.2 587.8L1795.7 591.8L1797.2 595.8L1798.6 599.8L1800.1 603.8L1801.6 607.9L1803.1 612L1804.5 616.1L1806 620.3"/>
<path class="dbs" d="M1804.5 616.1L1806 620.3L1807.5 624.4L1809 628.6L1810.5 632.7L1811.9 636.9L1813.4 641.1L1813.4 641.1L1814.5 639L1815.5 636.9L1816.5 634.8L1817.6 632.8L1818.6 630.7L1819.7 628.6L1820.7 626.6L1821.8 624.5L1822.8 622.5L1823.8 620.4L1824.9 618.4L1825.9 616.4L1827 614.5L1828 612.5L1829.1 610.6L1830.1 608.7L1831.2 606.8"/>
<path class="dbd" d="M1830.1 608.7L1831.2 606.8L1832.2 604.9L1833.2 603.1L1834.3 601.2L1835.3 599.5L1836.4 597.7L1837.4 596L1838.5 594.3L1839.5 592.6L1840.6 591L1841.6 589.4L1842.6 587.9L1843.7 586.3L1844.7 584.9L1845.8 583.4L1846.8 582L1847.9 580.7L1848.9 579.4L1849.9 578.1L1851 576.9L1852 575.7L1853.1 574.6L1854.1 573.5L1855.2 572.4L1856.2 571.4L1857.3 570.5L1858.3 569.6L1859.3 568.8L1860.4 568L1861.4 567.3L1862.5 566.6L1863.5 565.9L1864.6 565.4L1865.6 564.8L1866.7 564.4L1867.7 564L1868.7 563.6L1869.8 563.3L1870.8 563L1871.9 562.9L1872.9 562.7L1874 562.6L1875 562.6L1875 562.6L1876 562.6L1877.1 562.7L1878.1 562.9L1879.2 563L1880.2 563.3L1881.3 563.6L1882.3 564L1883.4 564.4L1884.4 564.8L1885.4 565.4L1886.5 565.9L1887.5 566.6L1888.6 567.3L1889.6 568L1890.7 568.8L1891.7 569.6L1892.8 570.5L1893.8 571.4L1894.8 572.4L1895.9 573.5L1896.9 574.6L1898 575.7L1899 576.9L1900.1 578.1L1901.1 579.4L1902.1 580.7L1903.2 582L1904.2 583.4L1905.3 584.9L1906.3 586.3L1907.4 587.9L1908.4 589.4L1909.5 591L1910.5 592.6L1911.5 594.3L1912.6 596L1913.6 597.7L1914.7 599.5L1915.7 601.2L1916.8 603.1L1917.8 604.9L1918.9 606.8L1919.9 608.7"/>
<path class="dbs" d="M1918.9 606.8L1919.9 608.7L1920.9 610.6L1922 612.5L1923 614.5L1924.1 616.4L1925.1 618.4L1926.2 620.4L1927.2 622.5L1928.2 624.5L1929.3 626.6L1930.3 628.6L1931.4 630.7L1932.4 632.8L1933.5 634.8L1934.5 636.9L1935.6 639L1936.6 641.1"/>
<path class="dr" d="M1664.7 594L1665.7 594L1666.8 594L1667.8 594L1668.9 594L1669.9 594L1671 594.1L1672 594.1L1673.1 594.1L1674.1 594.2L1675.1 594.3L1676.2 594.4L1677.2 594.5L1678.3 594.6L1679.3 594.7L1680.4 594.8L1681.4 595L1682.4 595.2L1683.5 595.4L1684.5 595.6L1685.6 595.9L1686.6 596.2L1687.7 596.5L1688.7 596.8L1689.8 597.2L1690.8 597.5L1691.8 598L1692.9 598.4L1693.9 598.9L1695 599.4L1696 599.9L1697.1 600.5L1698.1 601.1L1699.2 601.7L1700.2 602.4L1701.2 603.1L1702.3 603.8L1703.3 604.6L1704.4 605.5L1705.4 606.3L1706.5 607.2L1707.5 608.2L1708.5 609.2L1709.6 610.2L1710.6 611.3L1711.7 612.4L1712.7 613.6L1713.8 614.8L1714.8 616L1715.9 617.3L1716.9 618.7L1717.9 620.1L1719 621.6L1720 623.1L1721.1 624.6L1722.1 626.2L1723.2 627.9L1724.2 629.6L1725.3 631.4L1726.3 633.2L1726.3 633.2L1727.8 630.4L1729.2 627.6L1730.7 625L1732.2 622.5L1733.7 620.1L1735.2 617.8L1736.6 615.6L1738.1 613.6L1739.6 611.6L1741.1 609.8L1742.5 608.1L1744 606.4L1745.5 604.9L1747 603.5L1748.4 602.2L1749.9 601L1751.4 599.9L1752.9 598.9L1754.3 598L1755.8 597.2L1757.3 596.5L1758.8 595.9L1760.3 595.4L1761.7 595L1763.2 594.6L1764.7 594.4L1766.2 594.2L1767.6 594.1L1769.1 594L1770.6 594L1772.1 594.1L1773.5 594.2L1775 594.4L1776.5 594.6L1778 595L1779.4 595.4L1780.9 595.9L1782.4 596.5L1783.9 597.2L1785.4 598L1786.8 598.9L1788.3 599.9L1789.8 601L1791.3 602.2L1792.7 603.5L1794.2 604.9L1795.7 606.4L1797.2 608.1L1798.6 609.8L1800.1 611.6L1801.6 613.6L1803.1 615.6L1804.5 617.8L1806 620.1L1807.5 622.5L1809 625L1810.5 627.6L1811.9 630.4L1813.4 633.2L1813.4 633.2L1814.5 631.2L1815.5 629.1L1816.5 627.2L1817.6 625.4L1818.6 623.6L1819.7 621.8L1820.7 620.2L1821.8 618.6L1822.8 617.1L1823.8 615.7L1824.9 614.3L1825.9 613L1827 611.7L1828 610.5L1829.1 609.4L1830.1 608.3L1831.2 607.2L1832.2 606.2L1833.2 605.3L1834.3 604.4L1835.3 603.6L1836.4 602.8L1837.4 602.1L1838.5 601.4L1839.5 600.7L1840.6 600.1L1841.6 599.5L1842.6 599L1843.7 598.5L1844.7 598L1845.8 597.6L1846.8 597.2L1847.9 596.9L1848.9 596.5L1849.9 596.2L1851 595.9L1852 595.7L1853.1 595.4L1854.1 595.2L1855.2 595L1856.2 594.9L1857.3 594.7L1858.3 594.6L1859.3 594.5L1860.4 594.4L1861.4 594.3L1862.5 594.2L1863.5 594.2L1864.6 594.1L1865.6 594.1L1866.7 594.1L1867.7 594L1868.7 594L1869.8 594L1870.8 594L1871.9 594L1872.9 594L1874 594L1875 594L1875 594L1876 594L1877.1 594L1878.1 594L1879.2 594L1880.2 594L1881.3 594L1882.3 594L1883.4 594.1L1884.4 594.1L1885.4 594.1L1886.5 594.2L1887.5 594.2L1888.6 594.3L1889.6 594.4L1890.7 594.5L1891.7 594.6L1892.8 594.7L1893.8 594.9L1894.8 595L1895.9 595.2L1896.9 595.4L1898 595.7L1899 595.9L1900.1 596.2L1901.1 596.5L1902.1 596.9L1903.2 597.2L1904.2 597.6L1905.3 598L1906.3 598.5L1907.4 599L1908.4 599.5L1909.5 600.1L1910.5 600.7L1911.5 601.4L1912.6 602.1L1913.6 602.8L1914.7 603.6L1915.7 604.4L1916.8 605.3L1917.8 606.2L1918.9 607.2L1919.9 608.3L1920.9 609.4L1922 610.5L1923 611.7L1924.1 613L1925.1 614.3L1926.2 615.7L1927.2 617.1L1928.2 618.6L1929.3 620.2L1930.3 621.8L1931.4 623.6L1932.4 625.4L1933.5 627.2L1934.5 629.1L1935.6 631.2L1936.6 633.2"/>
</g>
<rect class="sp" x="1664.7" y="413.9" width="271.9" height="227.2"/>
<text transform="translate(1650.7 657.6) rotate(45)">(<tspan class="pi2">π</tspan>/2, <tspan class="pi2">π</tspan>/2)</text>
<text transform="translate(1712.3 657.6) rotate(45)">(<tspan class="pi2">π</tspan>, 0)</text>
<text transform="translate(1799.4 657.6) rotate(45)">(<tspan class="pi2">π</tspan>, <tspan class="pi2">π</tspan>)</text>
<text transform="translate(1861 657.6) rotate(45)">(<tspan class="pi2">π</tspan>/2, <tspan class="pi2">π</tspan>/2)</text>
<text transform="translate(1922.6 657.6) rotate(45)">(0, 0)</text>
<text x="1924.6" y="450" text-anchor="end">Sr<tspan class="sb" dy="6.5" dx="0.6">5</tspan><tspan dy="-6.5" dx="0.8">Ir</tspan><tspan class="sb" dy="6.5" dx="0.6">3</tspan><tspan dy="-6.5" dx="0.8">O</tspan><tspan class="sb" dy="6.5" dx="0.6">11</tspan></text>
<text transform="translate(1252 527) rotate(-90)" text-anchor="middle">Energy (meV)</text>
<text x="1521" y="66.3">Sr<tspan class="sb2" dy="6">2</tspan><tspan dy="-6">IrO</tspan><tspan class="sb2" dy="6">4</tspan></text><path d="M1359.5 194L1504.3 135.8L1506.2 42.4L1352.1 100.3Z" fill="rgba(229,229,229,.5)"/><path d="M1504.3 135.8L1593.4 239.7L1601.2 146L1506.2 42.4Z" fill="rgba(242,242,242,.5)"/><path d="M1359.5 194L1441.5 306.8L1593.4 239.7L1504.3 135.8Z" fill="rgba(236,236,236,.5)"/><path class="g3" d="M1586.5 242.8L1497.7 138.5M1497.7 138.5L1499.2 45M1363.1 199L1508.3 140.4M1508.3 140.4L1510.4 46.9M1519 272.5L1433.3 164.4M1433.3 164.4L1430.7 70.7M1399 248.4L1547.3 186M1547.3 186L1551.9 92.3M1449 303.5L1366.6 191.2M1366.6 191.2L1359.7 97.5M1437.3 301.1L1588.9 234.5M1588.9 234.5L1596.4 140.7M1359 188.6L1504.5 130.4M1504.5 130.4L1593.8 234.3M1355.9 148.6L1505.2 90.5M1505.2 90.5L1597.2 194.3M1352.6 106.4L1506.1 48.4M1506.1 48.4L1600.7 152.1"/>
<g class="sf3"><path color="#440154" d="M1440.6 161.2l-3.6 2.5l2 2l3.7-2.5z"/><path color="#460a5d" d="M1444.2 156.9l-3.6 4.3l2.1 2l3.6-4.2z"/><path color="#440154" d="M1437 163.7l-3.7 .4l2 2l3.7-.4z"/><path color="#48186a" d="M1447.8 151.8l-3.6 5.1l2.1 2.1l3.6-5.1z"/><path color="#450559" d="M1442.7 163.2l-3.7 2.5l2 .8l3.7-2.3z"/><path color="#470e61" d="M1446.3 159l-3.6 4.2l2 1l3.6-4.1z"/><path color="#482979" d="M1451.4 146.1l-3.6 5.7l2.1 2.1l3.6-5.6z"/><path color="#460a5d" d="M1433.3 164.1l-3.8-1.3l2 2.1l3.8 1.2z"/><path color="#450559" d="M1439 165.7l-3.7 .4l2 1l3.7-.6z"/><path color="#481d6f" d="M1449.9 153.9l-3.6 5.1l2 1.1l3.6-5z"/><path color="#443b84" d="M1455 140.2l-3.6 5.9l2.1 2.2l3.6-5.9z"/><path color="#472d7b" d="M1453.5 148.3l-3.6 5.6l2 1.2l3.6-5.5z"/><path color="#470e61" d="M1435.3 166.1l-3.8-1.2l2 1.2l3.8 1z"/><path color="#471164" d="M1444.7 164.2l-3.7 2.3l2-.3l3.7-2.1z"/><path color="#48186a" d="M1448.3 160.1l-3.6 4.1l2-.1l3.6-3.8z"/><path color="#48186a" d="M1429.5 162.8l-3.8-2.2l2 2.1l3.8 2.2z"/><path color="#482576" d="M1451.9 155.1l-3.6 5l2 .2l3.6-4.8z"/><path color="#471164" d="M1441 166.5l-3.7 .6l2 0l3.7-.9z"/><path color="#3d4d8a" d="M1458.6 134.1l-3.6 6.1l2.1 2.2l3.6-6.1z"/><path color="#433e85" d="M1457.1 142.4l-3.6 5.9l2 1.3l3.6-5.8z"/><path color="#463480" d="M1455.5 149.6l-3.6 5.5l2 .4l3.7-5.3z"/><path color="#48186a" d="M1437.3 167.1l-3.8-1l2 .2l3.8 .8z"/><path color="#481d6f" d="M1431.5 164.9l-3.8-2.2l2 1.3l3.8 2.1z"/><path color="#365d8d" d="M1462.2 127.9l-3.6 6.2l2.1 2.2l3.6-6.2z"/><path color="#3c4f8a" d="M1460.7 136.3l-3.6 6.1l2 1.4l3.7-5.9z"/><path color="#482576" d="M1450.3 160.3l-3.6 3.8l2-1l3.6-3.4z"/><path color="#481f70" d="M1446.7 164.1l-3.7 2.1l2-1.4l3.7-1.7z"/><path color="#414487" d="M1459.1 143.8l-3.6 5.8l2.1 .6l3.6-5.6z"/><path color="#482979" d="M1425.7 160.6l-3.8-2.7l2 2.2l3.8 2.6z"/><path color="#472f7d" d="M1453.9 155.5l-3.6 4.8l2-.6l3.7-4.5z"/><path color="#481f70" d="M1443 166.2l-3.7 .9l2-1.1l3.7-1.2z"/><path color="#355f8d" d="M1464.3 130.1l-3.6 6.2l2.1 1.6l3.6-6z"/><path color="#2f6c8e" d="M1465.9 121.6l-3.7 6.3l2.1 2.2l3.7-6.2z"/><path color="#433e85" d="M1457.6 150.2l-3.7 5.3l2.1-.3l3.6-5.1z"/><path color="#3a538b" d="M1462.8 137.9l-3.7 5.9l2.1 .8l3.7-5.7z"/><path color="#482576" d="M1433.5 166.1l-3.8-2.1l2 .5l3.8 1.8z"/><path color="#460a5d" d="M1536.5 174.3l-3.6 1.1l2.1 5.3l3.6-1z"/><path color="#472d7b" d="M1427.7 162.7l-3.8-2.6l2 1.4l3.8 2.5z"/><path color="#48186a" d="M1534.4 168l-3.6 1.1l2.1 6.3l3.6-1.1z"/><path color="#440154" d="M1538.6 179.7l-3.6 1l2.2 3.6l3.6-.9z"/><path color="#482576" d="M1439.3 167.1l-3.8-.8l2-.7l3.8 .4z"/><path color="#3e4c8a" d="M1461.2 144.6l-3.6 5.6l2-.1l3.7-5.3z"/><path color="#2e6e8e" d="M1468 123.9l-3.7 6.2l2.1 1.8l3.7-6z"/><path color="#297b8e" d="M1469.5 115.2l-3.6 6.4l2.1 2.3l3.7-6.3z"/><path color="#482979" d="M1532.4 161.3l-3.6 1l2 6.8l3.6-1.1z"/><path color="#33628d" d="M1466.4 131.9l-3.6 6l2.1 1l3.6-5.7z"/><path color="#470e61" d="M1532.9 175.4l-3.6 0l2.2 5.2l3.5 .1z"/><path color="#463480" d="M1452.3 159.7l-3.6 3.4l2-2.1l3.7-2.8z"/><path color="#443b84" d="M1421.9 157.9l-3.9-3l2 2.2l3.9 3z"/><path color="#481d6f" d="M1530.8 169.1l-3.5 .2l2 6.1l3.6 0z"/><path color="#46327e" d="M1448.7 163.1l-3.7 1.7l2-2.3l3.7-1.5z"/><path color="#440154" d="M1540.8 183.4l-3.6 .9l2.3 1.6l3.6-1z"/><path color="#450559" d="M1535 180.7l-3.5-.1l2.2 3.5l3.5 .2z"/><path color="#433e85" d="M1456 155.2l-3.7 4.5l2.1-1.5l3.6-4.1z"/><path color="#443b84" d="M1530.3 154.2l-3.6 1.1l2.1 7l3.6-1z"/><path color="#375a8c" d="M1464.9 138.9l-3.7 5.7l2.1 .2l3.7-5.3z"/><path color="#472d7b" d="M1528.8 162.3l-3.6 .3l2.1 6.7l3.5-.2z"/><path color="#287c8e" d="M1471.7 117.6l-3.7 6.3l2.1 2l3.7-6.1z"/><path color="#463480" d="M1429.7 164l-3.8-2.5l2 .6l3.8 2.4z"/><path color="#46327e" d="M1445 164.8l-3.7 1.2l1.9-2l3.8-1.5z"/><path color="#472f7d" d="M1435.5 166.3l-3.8-1.8l2-.4l3.8 1.5z"/><path color="#3e4989" d="M1459.6 150.1l-3.6 5.1l2-1.1l3.7-4.7z"/><path color="#238a8d" d="M1473.2 108.7l-3.7 6.5l2.2 2.4l3.7-6.4z"/><path color="#2d708e" d="M1470.1 125.9l-3.7 6l2.1 1.3l3.7-5.7z"/><path color="#3d4d8a" d="M1528.3 147l-3.7 1.2l2.1 7.1l3.6-1.1z"/><path color="#433e85" d="M1526.7 155.3l-3.6 .4l2.1 6.9l3.6-.3z"/><path color="#450559" d="M1537.2 184.3l-3.5-.2l2.2 1.8l3.6 0z"/><path color="#48186a" d="M1529.3 175.4l-3.5-.8l2.1 4.9l3.6 1.1z"/><path color="#433e85" d="M1423.9 160.1l-3.9-3l2 1.6l3.9 2.8z"/><path color="#482576" d="M1527.3 169.3l-3.6-.7l2.1 6l3.5 .8z"/><path color="#31678e" d="M1468.5 133.2l-3.6 5.7l2.1 .6l3.7-5.3z"/><path color="#39558c" d="M1463.3 144.8l-3.7 5.3l2.1-.7l3.7-4.8z"/><path color="#471164" d="M1531.5 180.6l-3.6-1.1l2.2 3.2l3.6 1.4z"/><path color="#463480" d="M1441.3 166l-3.8-.4l2-1.4l3.7-.2z"/><path color="#463480" d="M1525.2 162.6l-3.6-.4l2.1 6.4l3.6 .7z"/><path color="#365d8d" d="M1526.2 139.7l-3.6 1.2l2 7.3l3.7-1.2z"/><path color="#3c4f8a" d="M1524.6 148.2l-3.6 .5l2.1 7l3.6-.4z"/><path color="#238a8d" d="M1475.4 111.2l-3.7 6.4l2.1 2.2l3.7-6.1z"/><path color="#277e8e" d="M1473.8 119.8l-3.7 6.1l2.1 1.6l3.7-5.7z"/><path color="#460a5d" d="M1543.1 184.9l-3.6 1l2.4 0l3.6-1.1z"/><path color="#1f988b" d="M1476.9 102.3l-3.7 6.4l2.2 2.5l3.7-6.4z"/><path color="#2c738e" d="M1472.2 127.5l-3.7 5.7l2.2 1l3.7-5.3z"/><path color="#3d4d8a" d="M1418 154.9l-4-3.1l2.1 2.2l3.9 3.1z"/><path color="#414487" d="M1523.1 155.7l-3.6-.2l2.1 6.7l3.6 .4z"/><path color="#33628d" d="M1467 139.5l-3.7 5.3l2.1-.2l3.7-4.9z"/><path color="#355f8d" d="M1522.6 140.9l-3.7 .7l2.1 7.1l3.6-.5z"/><path color="#2f6c8e" d="M1524.1 132.2l-3.6 1.3l2.1 7.4l3.6-1.2z"/><path color="#471164" d="M1533.7 184.1l-3.6-1.4l2.3 2.1l3.5 1.1z"/><path color="#433e85" d="M1431.7 164.5l-3.8-2.4l1.9 0l3.9 2z"/><path color="#3f4788" d="M1454.4 158.2l-3.7 2.8l2-2.9l3.7-2.2z"/><path color="#3d4d8a" d="M1458 154.1l-3.6 4.1l2-2.3l3.7-3.5z"/><path color="#414487" d="M1425.9 161.5l-3.9-2.8l2 .8l3.9 2.6z"/><path color="#470e61" d="M1539.5 185.9l-3.6 0l2.4 0l3.6 0z"/><path color="#3a538b" d="M1521 148.7l-3.6 0l2.1 6.8l3.6 .2z"/><path color="#482576" d="M1525.8 174.6l-3.5-1.7l2.1 4.5l3.5 2.1z"/><path color="#472f7d" d="M1523.7 168.6l-3.6-1.4l2.2 5.7l3.5 1.7z"/><path color="#228b8d" d="M1477.5 113.7l-3.7 6.1l2.1 2l3.7-5.7z"/><path color="#1f988b" d="M1479.1 104.8l-3.7 6.4l2.1 2.5l3.7-6.1z"/><path color="#433e85" d="M1437.5 165.6l-3.8-1.5l2-1l3.8 1.1z"/><path color="#2e6e8e" d="M1470.7 134.2l-3.7 5.3l2.1 .2l3.7-4.9z"/><path color="#404688" d="M1450.7 161l-3.7 1.5l1.9-3l3.8-1.4z"/><path color="#39568c" d="M1461.7 149.4l-3.7 4.7l2.1-1.7l3.7-4.1z"/><path color="#27808e" d="M1475.9 121.8l-3.7 5.7l2.2 1.4l3.7-5.2z"/><path color="#433e85" d="M1521.6 162.2l-3.6-1.2l2.1 6.2l3.6 1.4z"/><path color="#2e6e8e" d="M1520.5 133.5l-3.6 .9l2 7.2l3.7-.7z"/><path color="#22a785" d="M1480.6 95.7l-3.7 6.6l2.2 2.5l3.7-6.4z"/><path color="#297b8e" d="M1522.1 124.8l-3.7 1.3l2.1 7.4l3.6-1.3z"/><path color="#481f70" d="M1527.9 179.5l-3.5-2.1l2.2 2.9l3.5 2.4z"/><path color="#3c4f8a" d="M1420 157.1l-3.9-3.1l2 1.7l3.9 3z"/><path color="#33628d" d="M1518.9 141.6l-3.6 .3l2.1 6.8l3.6 0z"/><path color="#3e4c8a" d="M1519.5 155.5l-3.6-.9l2.1 6.4l3.6 1.2z"/><path color="#404688" d="M1447 162.5l-3.8 1.5l2-2.9l3.7-1.6z"/><path color="#34618d" d="M1465.4 144.6l-3.7 4.8l2.1-1.1l3.7-4.4z"/><path color="#2a788e" d="M1474.4 128.9l-3.7 5.3l2.1 .6l3.7-4.7z"/><path color="#1f988b" d="M1481.2 107.6l-3.7 6.1l2.1 2.4l3.8-5.6z"/><path color="#287c8e" d="M1518.4 126.1l-3.6 1.2l2.1 7.1l3.6-.9z"/><path color="#228c8d" d="M1479.6 116.1l-3.7 5.7l2.2 1.9l3.7-5.1z"/><path color="#48186a" d="M1545.5 184.8l-3.6 1.1l2.4-1.1l3.6-1z"/><path color="#238a8d" d="M1520 117.2l-3.7 1.5l2.1 7.4l3.7-1.3z"/><path color="#375a8c" d="M1517.4 148.7l-3.6-.5l2.1 6.4l3.6 .9z"/><path color="#2d708e" d="M1516.9 134.4l-3.7 .6l2.1 6.9l3.6-.3z"/><path color="#48186a" d="M1535.9 185.9l-3.5-1.1l2.3 .3l3.6 .8z"/><path color="#21a685" d="M1482.8 98.4l-3.7 6.4l2.1 2.8l3.7-6.1z"/><path color="#2f6b8e" d="M1469.1 139.7l-3.7 4.9l2.1-.7l3.7-4.4z"/><path color="#481f70" d="M1530.1 182.7l-3.5-2.4l2.3 2.4l3.5 2.1z"/><path color="#3f4788" d="M1443.2 164l-3.7 .2l1.9-2.3l3.8-.8z"/><path color="#26828e" d="M1478.1 123.7l-3.7 5.2l2.1 1.2l3.7-4.6z"/><path color="#32b67a" d="M1484.3 89.1l-3.7 6.6l2.2 2.7l3.7-6.4z"/><path color="#365d8d" d="M1414 151.8l-3.9-3.3l2 2.3l4 3.2z"/><path color="#3e4c8a" d="M1427.9 162.1l-3.9-2.6l2 .3l3.8 2.3z"/><path color="#31678e" d="M1515.3 141.9l-3.6-.2l2.1 6.5l3.6 .5z"/><path color="#3e4989" d="M1433.7 164.1l-3.9-2l2-.7l3.9 1.7z"/><path color="#238a8d" d="M1516.3 118.7l-3.6 1.4l2.1 7.2l3.6-1.2z"/><path color="#433e85" d="M1520.1 167.2l-3.5-2.1l2.1 5.2l3.6 2.6z"/><path color="#277e8e" d="M1514.8 127.3l-3.7 .9l2.1 6.8l3.7-.6z"/><path color="#1f978b" d="M1483.4 110.5l-3.8 5.6l2.2 2.5l3.7-5z"/><path color="#2b748e" d="M1472.8 134.8l-3.7 4.9l2.1-.2l3.7-4.3z"/><path color="#463480" d="M1522.3 172.9l-3.6-2.6l2.2 4l3.5 3.1z"/><path color="#3e4989" d="M1518 161l-3.6-1.7l2.2 5.8l3.5 2.1z"/><path color="#21a585" d="M1484.9 101.5l-3.7 6.1l2.2 2.9l3.7-5.5z"/><path color="#1f988b" d="M1517.9 109.7l-3.6 1.5l2 7.5l3.7-1.5z"/><path color="#3a538b" d="M1422 158.7l-3.9-3l2 1.1l3.9 2.7z"/><path color="#481d6f" d="M1541.9 185.9l-3.6 0l2.4-.8l3.6-.3z"/><path color="#228d8d" d="M1481.8 118.6l-3.7 5.1l2.1 1.8l3.7-4.4z"/><path color="#2c738e" d="M1513.2 135l-3.6 .4l2.1 6.3l3.6 .2z"/><path color="#39558c" d="M1515.9 154.6l-3.6-1.3l2.1 6l3.6 1.7z"/><path color="#2fb47c" d="M1486.5 92l-3.7 6.4l2.1 3.1l3.8-6z"/><path color="#277e8e" d="M1476.5 130.1l-3.7 4.7l2.1 .4l3.8-4z"/><path color="#228b8d" d="M1512.7 120.1l-3.7 1.4l2.1 6.7l3.7-.9z"/><path color="#1f988b" d="M1514.3 111.2l-3.7 1.7l2.1 7.2l3.6-1.4z"/><path color="#355e8d" d="M1460.1 152.4l-3.7 3.5l2.1-3l3.7-2.7z"/><path color="#46327e" d="M1524.4 177.4l-3.5-3.1l2.2 2.6l3.5 3.4z"/><path color="#3d4d8a" d="M1439.5 164.2l-3.8-1.1l1.9-1.6l3.8 .4z"/><path color="#33628d" d="M1513.8 148.2l-3.6-.9l2.1 6l3.6 1.3z"/><path color="#27808e" d="M1511.1 128.2l-3.7 .9l2.2 6.3l3.6-.4z"/><path color="#1fa287" d="M1487.1 105l-3.7 5.5l2.1 3.1l3.7-4.9z"/><path color="#32658e" d="M1463.8 148.3l-3.7 4.1l2.1-2.2l3.7-3.5z"/><path color="#1f968b" d="M1485.5 113.6l-3.7 5l2.1 2.5l3.8-4.3z"/><path color="#375b8d" d="M1456.4 155.9l-3.7 2.2l2-3.7l3.8-1.5z"/><path color="#355f8d" d="M1416.1 154l-4-3.2l2 1.9l4 3z"/><path color="#4ec36b" d="M1488.1 82.5l-3.8 6.6l2.2 2.9l3.8-6.5z"/><path color="#22a785" d="M1515.9 102.1l-3.7 1.6l2.1 7.5l3.6-1.5z"/><path color="#482576" d="M1532.4 184.8l-3.5-2.1l2.3 .7l3.5 1.7z"/><path color="#24868e" d="M1480.2 125.5l-3.7 4.6l2.2 1.1l3.7-3.9z"/><path color="#2cb17e" d="M1488.7 95.5l-3.8 6l2.2 3.5l3.7-5.5z"/><path color="#2e6e8e" d="M1511.7 141.7l-3.7-.4l2.2 6l3.6 .9z"/><path color="#1f988b" d="M1510.6 112.9l-3.7 1.9l2.1 6.7l3.7-1.4z"/><path color="#2e6d8e" d="M1467.5 143.9l-3.7 4.4l2.1-1.6l3.7-3.7z"/><path color="#228c8d" d="M1509 121.5l-3.7 1.4l2.1 6.2l3.7-.9z"/><path color="#482576" d="M1538.3 185.9l-3.6-.8l2.4-.7l3.6 .7z"/><path color="#21a685" d="M1512.2 103.7l-3.7 2.1l2.1 7.1l3.7-1.7z"/><path color="#218e8d" d="M1483.9 121.1l-3.7 4.4l2.2 1.8l3.7-3.7z"/><path color="#2a788e" d="M1509.6 135.4l-3.7 .1l2.1 5.8l3.7 .4z"/><path color="#1fa088" d="M1489.2 108.7l-3.7 4.9l2.2 3.2l3.7-4.1z"/><path color="#375b8d" d="M1452.7 158.1l-3.8 1.4l2-3.8l3.8-1.3z"/><path color="#2b748e" d="M1471.2 139.5l-3.7 4.4l2.1-.9l3.8-3.8z"/><path color="#27ad81" d="M1490.8 99.5l-3.7 5.5l2.1 3.7l3.8-4.7z"/><path color="#48c16e" d="M1490.3 85.5l-3.8 6.5l2.2 3.5l3.7-6z"/><path color="#1f978b" d="M1506.9 114.8l-3.7 2l2.1 6.1l3.7-1.4z"/><path color="#482979" d="M1547.9 183.8l-3.6 1l2.5-1.5l3.6-1.1z"/><path color="#46327e" d="M1526.6 180.3l-3.5-3.4l2.3 2.7l3.5 3.1z"/><path color="#26828e" d="M1507.4 129.1l-3.6 .7l2.1 5.7l3.7-.1z"/><path color="#1f958b" d="M1487.7 116.8l-3.8 4.3l2.2 2.5l3.7-3.5z"/><path color="#32b67a" d="M1513.8 94.4l-3.7 1.8l2.1 7.5l3.7-1.6z"/><path color="#21a585" d="M1508.5 105.8l-3.7 2.4l2.1 6.6l3.7-1.9z"/><path color="#39558c" d="M1429.8 162.1l-3.8-2.3l1.9-.3l3.9 1.9z"/><path color="#375a8c" d="M1424 159.5l-3.9-2.7l1.9 .6l4 2.4z"/><path color="#287c8e" d="M1474.9 135.2l-3.7 4.3l2.2-.3l3.7-3.6z"/><path color="#22a884" d="M1493 104l-3.8 4.7l2.2 4l3.7-3.9z"/><path color="#228d8d" d="M1505.3 122.9l-3.7 1.4l2.2 5.5l3.6-.7z"/><path color="#375b8d" d="M1448.9 159.5l-3.7 1.6l2-3.7l3.7-1.7z"/><path color="#1e9d89" d="M1491.4 112.7l-3.7 4.1l2.1 3.3l3.8-3.2z"/><path color="#3fbc73" d="M1492.4 89.5l-3.7 6l2.1 4l3.8-5.2z"/><path color="#39568c" d="M1514.4 159.3l-3.6-2.2l2.2 5.3l3.6 2.7z"/><path color="#3d4d8a" d="M1516.6 165.1l-3.6-2.7l2.2 4.6l3.5 3.3z"/><path color="#2f6c8e" d="M1410.1 148.5l-4-3.4l2 2.4l4 3.3z"/><path color="#1fa287" d="M1504.8 108.2l-3.8 2.7l2.2 5.9l3.7-2z"/><path color="#2fb47c" d="M1510.1 96.2l-3.7 2.5l2.1 7.1l3.7-2.1z"/><path color="#1f968b" d="M1503.2 116.8l-3.7 2.1l2.1 5.4l3.7-1.4z"/><path color="#70cf57" d="M1491.8 75.9l-3.7 6.6l2.2 3l3.7-6.4z"/><path color="#34618d" d="M1512.3 153.3l-3.6-1.7l2.1 5.5l3.6 2.2z"/><path color="#25838e" d="M1478.7 131.2l-3.8 4l2.2 .4l3.7-3.3z"/><path color="#1fa287" d="M1495.1 108.8l-3.7 3.9l2.2 4.2l3.7-3.1z"/><path color="#35b779" d="M1494.6 94.3l-3.8 5.2l2.2 4.5l3.7-4.5z"/><path color="#39568c" d="M1435.7 163.1l-3.9-1.7l2-1.1l3.8 1.2z"/><path color="#1fa088" d="M1501 110.9l-3.7 2.9l2.2 5.1l3.7-2.1z"/><path color="#33628d" d="M1418.1 155.7l-4-3l2 1.4l4 2.7z"/><path color="#2cb17e" d="M1506.4 98.7l-3.8 3l2.2 6.5l3.7-2.4z"/><path color="#22a884" d="M1498.9 105.1l-3.8 3.7l2.2 5l3.7-2.9z"/><path color="#2ab07f" d="M1496.7 99.5l-3.7 4.5l2.1 4.8l3.8-3.7z"/><path color="#2f6b8e" d="M1510.2 147.3l-3.7-1.2l2.2 5.5l3.6 1.7z"/><path color="#27ad81" d="M1502.6 101.7l-3.7 3.4l2.1 5.8l3.8-2.7z"/><path color="#23898e" d="M1482.4 127.3l-3.7 3.9l2.1 1.1l3.8-3.2z"/><path color="#3f4788" d="M1518.7 170.3l-3.5-3.3l2.2 3.2l3.5 4.1z"/><path color="#1e9d89" d="M1497.3 113.8l-3.7 3.1l2.1 4.3l3.8-2.3z"/><path color="#2b748e" d="M1508 141.3l-3.6-.6l2.1 5.4l3.7 1.2z"/><path color="#218f8d" d="M1486.1 123.6l-3.7 3.7l2.2 1.8l3.7-2.8z"/><path color="#1f988b" d="M1493.6 116.9l-3.8 3.2l2.2 3.6l3.7-2.5z"/><path color="#1f948c" d="M1489.8 120.1l-3.7 3.5l2.2 2.7l3.7-2.6z"/><path color="#472d7b" d="M1544.3 184.8l-3.6 .3l2.5-1.4l3.6-.4z"/><path color="#4ec36b" d="M1511.7 86.7l-3.7 2l2.1 7.5l3.7-1.8z"/><path color="#1f958b" d="M1499.5 118.9l-3.8 2.3l2.2 4.6l3.7-1.5z"/><path color="#375b8d" d="M1445.2 161.1l-3.8 .8l2-2.9l3.8-1.6z"/><path color="#277e8e" d="M1505.9 135.5l-3.7 0l2.2 5.2l3.6 .6z"/><path color="#218e8d" d="M1501.6 124.3l-3.7 1.5l2.2 4.7l3.7-.7z"/><path color="#35b779" d="M1500.5 95.3l-3.8 4.2l2.2 5.6l3.7-3.4z"/><path color="#24868e" d="M1503.8 129.8l-3.7 .7l2.1 5l3.7 0z"/><path color="#67cc5c" d="M1494 79.1l-3.7 6.4l2.1 4l3.8-5.8z"/><path color="#48c16e" d="M1508 88.7l-3.8 2.9l2.2 7.1l3.7-2.5z"/><path color="#3fbc73" d="M1504.2 91.6l-3.7 3.7l2.1 6.4l3.8-3z"/><path color="#46c06f" d="M1498.3 89.3l-3.7 5l2.1 5.2l3.8-4.2z"/><path color="#58c765" d="M1496.2 83.7l-3.8 5.8l2.2 4.8l3.7-5z"/><path color="#472f7d" d="M1534.7 185.1l-3.5-1.7l2.4-.3l3.5 1.3z"/><path color="#1f948c" d="M1495.7 121.2l-3.7 2.5l2.2 3.7l3.7-1.6z"/><path color="#463480" d="M1528.9 182.7l-3.5-3.1l2.3 1.3l3.5 2.5z"/><path color="#2e6e8e" d="M1412.1 150.8l-4-3.3l2 2.1l4 3.1z"/><path color="#404688" d="M1520.9 174.3l-3.5-4.1l2.2 2.6l3.5 4.1z"/><path color="#58c765" d="M1502.1 84.8l-3.8 4.5l2.2 6l3.7-3.7z"/><path color="#20928c" d="M1492 123.7l-3.7 2.6l2.2 2.8l3.7-1.7z"/><path color="#218f8d" d="M1497.9 125.8l-3.7 1.6l2.2 3.9l3.7-.8z"/><path color="#95d840" d="M1495.6 69.2l-3.8 6.7l2.2 3.2l3.8-6.2z"/><path color="#70cf57" d="M1509.6 79l-3.7 2.2l2.1 7.5l3.7-2z"/><path color="#355e8d" d="M1441.4 161.9l-3.8-.4l2-2.2l3.8-.3z"/><path color="#67cc5c" d="M1505.9 81.2l-3.8 3.6l2.1 6.8l3.8-2.9z"/><path color="#2c738e" d="M1465.9 146.7l-3.7 3.5l2.1-2.7l3.7-2.6z"/><path color="#21908d" d="M1488.3 126.3l-3.7 2.8l2.1 2.1l3.8-2.1z"/><path color="#2a788e" d="M1469.6 143l-3.7 3.7l2.1-1.8l3.8-3z"/><path color="#73d056" d="M1500 78.4l-3.8 5.3l2.1 5.6l3.8-4.5z"/><path color="#23898e" d="M1500.1 130.5l-3.7 .8l2.1 4.2l3.7 0z"/><path color="#33628d" d="M1426 159.8l-4-2.4l2 .2l3.9 1.9z"/><path color="#2d708e" d="M1462.2 150.2l-3.7 2.7l2-3.7l3.8-1.7z"/><path color="#89d548" d="M1497.8 72.9l-3.8 6.2l2.2 4.6l3.8-5.3z"/><path color="#277e8e" d="M1473.4 139.2l-3.8 3.8l2.2-1.1l3.7-3.1z"/><path color="#228d8d" d="M1484.6 129.1l-3.8 3.2l2.2 1.1l3.7-2.2z"/><path color="#463480" d="M1540.7 185.1l-3.6-.7l2.5-1.1l3.6 .4z"/><path color="#25838e" d="M1477.1 135.6l-3.7 3.6l2.1-.4l3.8-2.8z"/><path color="#23888e" d="M1480.8 132.3l-3.7 3.3l2.2 .4l3.7-2.6z"/><path color="#25838e" d="M1502.2 135.5l-3.7 0l2.2 4.5l3.7 .7z"/><path color="#31678e" d="M1420.1 156.8l-4-2.7l2 1l3.9 2.3z"/><path color="#34618d" d="M1431.8 161.4l-3.9-1.9l2-.6l3.9 1.4z"/><path color="#287c8e" d="M1504.4 140.7l-3.7-.7l2.2 4.7l3.6 1.4z"/><path color="#21908d" d="M1494.2 127.4l-3.7 1.7l2.2 3.1l3.7-.9z"/><path color="#2b748e" d="M1506.5 146.1l-3.6-1.4l2.2 4.8l3.6 2.1z"/><path color="#2e6d8e" d="M1508.7 151.6l-3.6-2.1l2.1 4.9l3.6 2.7z"/><path color="#89d548" d="M1503.7 73.9l-3.7 4.5l2.1 6.4l3.8-3.6z"/><path color="#32658e" d="M1510.8 157.1l-3.6-2.7l2.2 4.7l3.6 3.3z"/><path color="#2e6f8e" d="M1458.5 152.9l-3.8 1.5l2-4.2l3.8-1z"/><path color="#95d840" d="M1507.5 71.3l-3.8 2.6l2.2 7.3l3.7-2.2z"/><path color="#404688" d="M1523.1 176.9l-3.5-4.1l2.3 2.7l3.5 4.1z"/><path color="#443b84" d="M1550.4 182.2l-3.6 1.1l2.5-1.7l3.6-1.2z"/><path color="#297b8e" d="M1406.1 145.1l-4.1-3.4l2.1 2.5l4 3.3z"/><path color="#355e8d" d="M1513 162.4l-3.6-3.3l2.2 3.8l3.6 4.1z"/><path color="#2d708e" d="M1414.1 152.7l-4-3.1l2 1.7l4 2.8z"/><path color="#c0df25" d="M1499.4 62.4l-3.8 6.8l2.2 3.7l3.8-5.8z"/><path color="#a8db34" d="M1501.6 67.1l-3.8 5.8l2.2 5.5l3.7-4.5z"/><path color="#21908d" d="M1490.5 129.1l-3.8 2.1l2.2 2.2l3.8-1.2z"/><path color="#228d8d" d="M1496.4 131.3l-3.7 .9l2.1 3.4l3.7-.1z"/><path color="#32658e" d="M1437.6 161.5l-3.8-1.2l2-1.5l3.8 .5z"/><path color="#433e85" d="M1531.2 183.4l-3.5-2.5l2.3 .1l3.6 2.1z"/><path color="#2d708e" d="M1454.7 154.4l-3.8 1.3l2.1-4.2l3.7-1.3z"/><path color="#c0df25" d="M1505.4 63.5l-3.8 3.6l2.1 6.8l3.8-2.6z"/><path color="#218f8d" d="M1486.7 131.2l-3.7 2.2l2.2 1.4l3.7-1.4z"/><path color="#375b8d" d="M1515.2 167l-3.6-4.1l2.3 2.6l3.5 4.7z"/><path color="#23888e" d="M1498.5 135.5l-3.7 .1l2.2 3.7l3.7 .7z"/><path color="#433e85" d="M1546.8 183.3l-3.6 .4l2.5-1.7l3.6-.4z"/><path color="#433e85" d="M1537.1 184.4l-3.5-1.3l2.4-.9l3.6 1.1z"/><path color="#3f4788" d="M1525.4 179.6l-3.5-4.1l2.2 2.1l3.6 3.3z"/><path color="#2d708e" d="M1450.9 155.7l-3.7 1.7l2-4.2l3.8-1.7z"/><path color="#e2e418" d="M1503.2 55.7l-3.8 6.7l2.2 4.7l3.8-3.6z"/><path color="#218e8d" d="M1483 133.4l-3.7 2.6l2.1 .5l3.8-1.7z"/><path color="#218f8d" d="M1492.7 132.2l-3.8 1.2l2.2 2.5l3.7-.3z"/><path color="#25838e" d="M1500.7 140l-3.7-.7l2.2 3.9l3.7 1.5z"/><path color="#287c8e" d="M1408.1 147.5l-4-3.3l2 2.3l4 3.1z"/><path color="#2e6e8e" d="M1422 157.4l-3.9-2.3l2 .7l3.9 1.8z"/><path color="#2f6b8e" d="M1427.9 159.5l-3.9-1.9l2 0l3.9 1.3z"/><path color="#228b8d" d="M1479.3 136l-3.8 2.8l2.2-.3l3.7-2z"/><path color="#277e8e" d="M1502.9 144.7l-3.7-1.5l2.2 4.2l3.7 2.1z"/><path color="#2e6f8e" d="M1447.2 157.4l-3.8 1.6l2-3.7l3.8-2.1z"/><path color="#2c738e" d="M1416.1 154.1l-4-2.8l2 1.5l4 2.3z"/><path color="#23888e" d="M1475.5 138.8l-3.7 3.1l2.1-1.2l3.8-2.2z"/><path color="#375b8d" d="M1517.4 170.2l-3.5-4.7l2.2 2.5l3.5 4.8z"/><path color="#2a788e" d="M1505.1 149.5l-3.7-2.1l2.2 4.1l3.6 2.9z"/><path color="#25858e" d="M1471.8 141.9l-3.8 3l2.2-2.1l3.7-2.1z"/><path color="#414487" d="M1543.2 183.7l-3.6-.4l2.5-1.4l3.6 .1z"/><path color="#218e8d" d="M1494.8 135.6l-3.7 .3l2.2 2.8l3.7 .6z"/><path color="#21918c" d="M1488.9 133.4l-3.7 1.4l2.2 1.6l3.7-.5z"/><path color="#2e6d8e" d="M1433.8 160.3l-3.9-1.4l2-.9l3.9 .8z"/><path color="#26828e" d="M1468 144.9l-3.7 2.6l2.1-3.2l3.8-1.5z"/><path color="#2c738e" d="M1507.2 154.4l-3.6-2.9l2.2 3.8l3.6 3.8z"/><path color="#2d708e" d="M1443.4 159l-3.8 .3l2-2.7l3.8-1.3z"/><path color="#277e8e" d="M1410.1 149.6l-4-3.1l2 2.1l4 2.7z"/><path color="#238a8d" d="M1402 141.7l-4.1-3.5l2.1 2.6l4.1 3.4z"/><path color="#26828e" d="M1464.3 147.5l-3.8 1.7l2.1-4.2l3.8-.7z"/><path color="#3d4d8a" d="M1527.7 180.9l-3.6-3.3l2.4 .7l3.5 2.7z"/><path color="#3e4989" d="M1533.6 183.1l-3.6-2.1l2.4-.5l3.6 1.7z"/><path color="#3d4d8a" d="M1552.9 180.4l-3.6 1.2l2.5-1.9l3.7-1.3z"/><path color="#228b8d" d="M1497 139.3l-3.7-.6l2.2 3.1l3.7 1.4z"/><path color="#20928c" d="M1485.2 134.8l-3.8 1.7l2.2 .7l3.8-.8z"/><path color="#375b8d" d="M1519.6 172.8l-3.5-4.8l2.2 2.8l3.6 4.7z"/><path color="#2d708e" d="M1509.4 159.1l-3.6-3.8l2.2 2.8l3.6 4.8z"/><path color="#20928c" d="M1491.1 135.9l-3.7 .5l2.2 1.9l3.7 .4z"/><path color="#2b748e" d="M1424 157.6l-3.9-1.8l2 .5l3.9 1.3z"/><path color="#2a788e" d="M1418.1 155.1l-4-2.3l2 1.2l4 1.8z"/><path color="#2c738e" d="M1439.6 159.3l-3.8-.5l2-1.8l3.8-.4z"/><path color="#20928c" d="M1481.4 136.5l-3.7 2l2.2-.2l3.7-1.1z"/><path color="#23888e" d="M1499.2 143.2l-3.7-1.4l2.2 3.3l3.7 2.3z"/><path color="#25838e" d="M1460.5 149.2l-3.8 1l2.1-4.4l3.8-.8z"/><path color="#3e4c8a" d="M1539.6 183.3l-3.6-1.1l2.5-1.1l3.6 .8z"/><path color="#238a8d" d="M1404.1 144.2l-4.1-3.4l2 2.5l4.1 3.2z"/><path color="#3c4f8a" d="M1549.3 181.6l-3.6 .4l2.5-1.7l3.6-.6z"/><path color="#2b748e" d="M1429.9 158.9l-3.9-1.3l2-.3l3.9 .7z"/><path color="#2e6f8e" d="M1511.6 162.9l-3.6-4.8l2.3 2.1l3.6 5.3z"/><path color="#27808e" d="M1412.1 151.3l-4-2.7l2 2l4 2.2z"/><path color="#375b8d" d="M1521.9 175.5l-3.6-4.7l2.3 2.7l3.5 4.1z"/><path color="#20928c" d="M1477.7 138.5l-3.8 2.2l2.2-1.2l3.8-1.2z"/><path color="#25858e" d="M1501.4 147.4l-3.7-2.3l2.2 3.2l3.7 3.2z"/><path color="#25848e" d="M1456.7 150.2l-3.7 1.3l2-4.4l3.8-1.3z"/><path color="#20928c" d="M1493.3 138.7l-3.7-.4l2.2 2.2l3.7 1.3z"/><path color="#1f968b" d="M1487.4 136.4l-3.8 .8l2.2 1l3.8 .1z"/><path color="#20928c" d="M1473.9 140.7l-3.7 2.1l2.1-2.4l3.8-.9z"/><path color="#2a788e" d="M1435.8 158.8l-3.9-.8l2-1l3.9 0z"/><path color="#3a538b" d="M1545.7 182l-3.6-.1l2.5-1.6l3.6 0z"/><path color="#228b8d" d="M1406.1 146.5l-4.1-3.2l2.1 2.6l4 2.7z"/><path color="#26828e" d="M1503.6 151.5l-3.7-3.2l2.3 2.7l3.6 4.3z"/><path color="#39568c" d="M1530 181l-3.5-2.7l2.4 0l3.5 2.2z"/><path color="#25848e" d="M1453 151.5l-3.8 1.7l2-4.4l3.8-1.7z"/><path color="#2d708e" d="M1513.9 165.5l-3.6-5.3l2.2 2.5l3.6 5.3z"/><path color="#277e8e" d="M1420.1 155.8l-4-1.8l2.1 1.2l3.9 1.1z"/><path color="#1f988b" d="M1397.9 138.2l-4.1-3.6l2.1 2.7l4.1 3.5z"/><path color="#39558c" d="M1536 182.2l-3.6-1.7l2.5-.7l3.6 1.3z"/><path color="#287c8e" d="M1426 157.6l-3.9-1.3l2 .4l3.9 .6z"/><path color="#26828e" d="M1414.1 152.8l-4-2.2l2.1 1.9l3.9 1.5z"/><path color="#20928c" d="M1470.2 142.8l-3.8 1.5l2.1-3.7l3.8-.2z"/><path color="#355e8d" d="M1524.1 177.6l-3.5-4.1l2.3 1.5l3.6 3.3z"/><path color="#25838e" d="M1449.2 153.2l-3.8 2.1l2-4.2l3.8-2.3z"/><path color="#20928c" d="M1495.5 141.8l-3.7-1.3l2.2 2.3l3.7 2.3z"/><path color="#1f998a" d="M1483.6 137.2l-3.7 1.1l2.2-.1l3.7 0z"/><path color="#365d8d" d="M1555.5 178.4l-3.7 1.3l2.6-2.1l3.7-1.3z"/><path color="#26828e" d="M1445.4 155.3l-3.8 1.3l2-3.1l3.8-2.4z"/><path color="#1f998a" d="M1489.6 138.3l-3.8-.1l2.3 1.1l3.7 1.2z"/><path color="#26828e" d="M1505.8 155.3l-3.6-4.3l2.2 1.8l3.6 5.3z"/><path color="#228c8d" d="M1408.1 148.6l-4-2.7l2 2.5l4 2.2z"/><path color="#277e8e" d="M1431.9 158l-3.9-.7l2-.3l3.9 0z"/><path color="#2d708e" d="M1516.1 168l-3.6-5.3l2.3 2.9l3.5 5.2z"/><path color="#1f988b" d="M1400 140.8l-4.1-3.5l2 2.9l4.1 3.1z"/><path color="#375a8c" d="M1542.1 181.9l-3.6-.8l2.4-1.2l3.7 .4z"/><path color="#1f958b" d="M1466.4 144.3l-3.8 .7l2.1-4.3l3.8-.1z"/><path color="#1e9c89" d="M1479.9 138.3l-3.8 1.2l2.2-1.3l3.8 0z"/><path color="#20928c" d="M1497.7 145.1l-3.7-2.3l2.3 2l3.6 3.5z"/><path color="#26828e" d="M1441.6 156.6l-3.8 .4l2-2.1l3.8-1.4z"/><path color="#355f8d" d="M1551.8 179.7l-3.6 .6l2.5-1.9l3.7-.8z"/><path color="#24868e" d="M1416.1 154l-3.9-1.5l2 1.8l4 .9z"/><path color="#25838e" d="M1422.1 156.3l-3.9-1.1l2 1.2l3.9 .3z"/><path color="#2e6f8e" d="M1518.3 170.8l-3.5-5.2l2.3 3.2l3.5 4.7z"/><path color="#25838e" d="M1508 158.1l-3.6-5.3l2.3 1.9l3.6 5.5z"/><path color="#1f988b" d="M1402 143.3l-4.1-3.1l2.1 3l4.1 2.7z"/><path color="#34618d" d="M1532.4 180.5l-3.5-2.2l2.4-.2l3.6 1.7z"/><path color="#32658e" d="M1526.5 178.3l-3.6-3.3l2.4 .7l3.6 2.6z"/><path color="#228d8d" d="M1410.1 150.6l-4-2.2l2.1 2.6l4 1.5z"/><path color="#1e9c89" d="M1491.8 140.5l-3.7-1.2l2.2 1.1l3.7 2.4z"/><path color="#1fa088" d="M1485.8 138.2l-3.7 0l2.2-.1l3.8 1.2z"/><path color="#1f988b" d="M1462.6 145l-3.8 .8l2.1-4.5l3.8-.6z"/><path color="#25838e" d="M1428 157.3l-3.9-.6l2 .5l3.9-.2z"/><path color="#25858e" d="M1437.8 157l-3.9 0l2-1.1l3.9-1z"/><path color="#1fa088" d="M1476.1 139.5l-3.8 .9l2.2-2.7l3.8 .5z"/><path color="#20928c" d="M1499.9 148.3l-3.6-3.5l2.2 1.4l3.7 4.8z"/><path color="#33628d" d="M1548.2 180.3l-3.6 0l2.5-1.5l3.6-.4z"/><path color="#22a785" d="M1393.8 134.6l-4.1-3.6l2 2.8l4.2 3.5z"/><path color="#33628d" d="M1538.5 181.1l-3.6-1.3l2.4-.8l3.6 .9z"/><path color="#1f9a8a" d="M1458.8 145.8l-3.8 1.3l2.1-4.6l3.8-1.2z"/><path color="#1f978b" d="M1404.1 145.9l-4.1-2.7l2.1 3.2l4 2z"/><path color="#2d708e" d="M1520.6 173.5l-3.5-4.7l2.2 2.5l3.6 3.7z"/><path color="#23898e" d="M1418.2 155.2l-4-.9l2.1 2l3.9 .1z"/><path color="#25848e" d="M1510.3 160.2l-3.6-5.5l2.3 2.4l3.5 5.6z"/><path color="#23888e" d="M1433.9 157l-3.9 0l2.1-.2l3.8-.9z"/><path color="#218e8d" d="M1412.2 152.5l-4-1.5l2.1 2.7l3.9 .6z"/><path color="#23888e" d="M1424.1 156.7l-3.9-.3l2.1 1.3l3.8-.5z"/><path color="#21a685" d="M1395.9 137.3l-4.2-3.5l2.1 3.3l4.1 3.1z"/><path color="#20a486" d="M1472.3 140.4l-3.8 .2l2.2-3.8l3.8 .9z"/><path color="#2f6c8e" d="M1558.1 176.3l-3.7 1.3l2.6-2.1l3.7-1.3z"/><path color="#1f9a8a" d="M1455 147.1l-3.8 1.7l2.1-4.4l3.8-1.9z"/><path color="#21a685" d="M1482.1 138.2l-3.8 0l2.2-1.6l3.8 1.5z"/><path color="#1fa088" d="M1494 142.8l-3.7-2.4l2.2 .6l3.8 3.8z"/><path color="#31678e" d="M1544.6 180.3l-3.7-.4l2.5-1.2l3.7 .1z"/><path color="#1f958b" d="M1502.2 151l-3.7-4.8l2.3 1.2l3.6 5.4z"/><path color="#1f968b" d="M1406.1 148.4l-4-2l2.1 3.3l4 1.3z"/><path color="#1f988b" d="M1451.2 148.8l-3.8 2.3l2-4.3l3.9-2.4z"/><path color="#21a685" d="M1488.1 139.3l-3.8-1.2l2.2-.4l3.8 2.7z"/><path color="#2e6d8e" d="M1528.9 178.3l-3.6-2.6l2.3 .4l3.7 2z"/><path color="#1f958b" d="M1447.4 151.1l-3.8 2.4l2-3.7l3.8-3z"/><path color="#25848e" d="M1512.5 162.7l-3.5-5.6l2.2 3l3.6 5.5z"/><path color="#228b8d" d="M1430 157l-3.9 .2l2.1 .6l3.9-1z"/><path color="#21a585" d="M1397.9 140.2l-4.1-3.1l2.1 3.6l4.1 2.5z"/><path color="#2f6b8e" d="M1534.9 179.8l-3.6-1.7l2.4-.2l3.6 1.1z"/><path color="#2e6e8e" d="M1554.4 177.6l-3.7 .8l2.6-1.9l3.7-1z"/><path color="#218f8d" d="M1414.2 154.3l-3.9-.6l2.1 2.8l3.9-.2z"/><path color="#20928c" d="M1443.6 153.5l-3.8 1.4l2-2.3l3.8-2.8z"/><path color="#2c738e" d="M1522.9 175l-3.6-3.7l2.4 1.5l3.6 2.9z"/><path color="#228d8d" d="M1420.2 156.4l-3.9-.1l2.1 2.1l3.9-.7z"/><path color="#23a983" d="M1468.5 140.6l-3.8 .1l2.2-4.2l3.8 .3z"/><path color="#1f958b" d="M1408.2 151l-4-1.3l2.1 3.5l4 .5z"/><path color="#470e61" d="M1409.4 225.3l-3.8 3l2.2 5.5l3.8-3.2z"/><path color="#20928c" d="M1439.8 154.9l-3.9 1l2.1-1.2l3.8-2.1z"/><path color="#1fa287" d="M1400 143.2l-4.1-2.5l2.1 3.8l4.1 1.9z"/><path color="#32b67a" d="M1389.7 131l-4.2-3.6l2 3l4.2 3.4z"/><path color="#2e6e8e" d="M1540.9 179.9l-3.6-.9l2.5-.6l3.6 .3z"/><path color="#25838e" d="M1514.8 165.6l-3.6-5.5l2.3 3.3l3.6 5.4z"/><path color="#460a5d" d="M1405.6 228.3l-3.9 2.1l2.2 5.6l3.9-2.2z"/><path color="#48186a" d="M1413.1 221.3l-3.7 4l2.2 5.3l3.7-4.2z"/><path color="#481d6f" d="M1407.1 219l-3.8 2.9l2.3 6.4l3.8-3z"/><path color="#218e8d" d="M1426.1 157.2l-3.8 .5l2 1.4l3.9-1.3z"/><path color="#27ad81" d="M1478.3 138.2l-3.8-.5l2.2-3l3.8 1.9z"/><path color="#2d708e" d="M1550.7 178.4l-3.6 .4l2.5-1.6l3.7-.7z"/><path color="#1f988b" d="M1504.4 152.8l-3.6-5.4l2.3 1.7l3.6 5.6z"/><path color="#20a486" d="M1496.3 144.8l-3.8-3.8l2.3 .3l3.7 4.9z"/><path color="#450559" d="M1411.6 230.6l-3.8 3.2l2.1 3.9l3.8-3.4z"/><path color="#482576" d="M1410.9 215.2l-3.8 3.8l2.3 6.3l3.7-4z"/><path color="#48186a" d="M1403.3 221.9l-3.9 2l2.3 6.5l3.9-2.1z"/><path color="#440154" d="M1407.8 233.8l-3.9 2.2l2.1 3.9l3.9-2.2z"/><path color="#471164" d="M1415.3 226.4l-3.7 4.2l2.1 3.7l3.7-4.5z"/><path color="#20928c" d="M1435.9 155.9l-3.8 .9l2-.2l3.9-1.9z"/><path color="#21908d" d="M1416.3 156.3l-3.9 .2l2.1 2.9l3.9-1z"/><path color="#472d7b" d="M1404.9 212.2l-3.9 2.8l2.3 6.9l3.8-2.9z"/><path color="#463480" d="M1408.7 208.6l-3.8 3.6l2.2 6.8l3.8-3.8z"/><path color="#1f948c" d="M1410.3 153.7l-4-.5l2.1 3.6l4-.3z"/><path color="#1fa088" d="M1402.1 146.4l-4.1-1.9l2.2 4.1l4 1.1z"/><path color="#482576" d="M1416.9 216.5l-3.8 4.8l2.2 5.1l3.8-5.2z"/><path color="#472f7d" d="M1414.7 210.7l-3.8 4.5l2.2 6.1l3.8-4.8z"/><path color="#26ad81" d="M1464.7 140.7l-3.8 .6l2.1-4.3l3.9-.5z"/><path color="#2fb47c" d="M1391.7 133.8l-4.2-3.4l2.2 3.6l4.1 3.1z"/><path color="#482979" d="M1401 215l-3.8 2l2.2 6.9l3.9-2z"/><path color="#218f8d" d="M1422.3 157.7l-3.9 .7l2 2.3l3.9-1.6z"/><path color="#26828e" d="M1517.1 168.8l-3.6-5.4l2.2 3.6l3.6 4.3z"/><path color="#2ab07f" d="M1484.3 138.1l-3.8-1.5l2.3-2l3.7 3.1z"/><path color="#27ad81" d="M1490.3 140.4l-3.8-2.7l2.3-.8l3.7 4.1z"/><path color="#433e85" d="M1412.4 204.4l-3.7 4.2l2.2 6.6l3.8-4.5z"/><path color="#2b748e" d="M1531.3 178.1l-3.7-2l2.4 .5l3.7 1.3z"/><path color="#2a788e" d="M1525.3 175.7l-3.6-2.9l2.3 1.2l3.6 2.1z"/><path color="#20928c" d="M1432.1 156.8l-3.9 1l2.1 .8l3.8-2z"/><path color="#481f70" d="M1419.1 221.2l-3.8 5.2l2.1 3.4l3.8-5.6z"/><path color="#414487" d="M1406.4 201.8l-3.8 3.3l2.3 7.1l3.8-3.6z"/><path color="#433e85" d="M1402.6 205.1l-3.9 2.7l2.3 7.2l3.9-2.8z"/><path color="#450559" d="M1413.7 234.3l-3.8 3.4l2 1.8l3.8-3.2z"/><path color="#2c738e" d="M1547.1 178.8l-3.7-.1l2.5-1.1l3.7-.4z"/><path color="#1e9d89" d="M1404.2 149.7l-4-1.1l2.1 4.3l4 .3z"/><path color="#440154" d="M1409.9 237.7l-3.9 2.2l2.1 1.7l3.8-2.1z"/><path color="#297b8e" d="M1560.7 174.2l-3.7 1.3l2.7-2.1l3.7-1.5z"/><path color="#1f9a8a" d="M1506.7 154.7l-3.6-5.6l2.2 2.4l3.7 5.6z"/><path color="#20928c" d="M1412.4 156.5l-4 .3l2.2 3.9l3.9-1.3z"/><path color="#433e85" d="M1418.4 205.5l-3.7 5.2l2.2 5.8l3.7-5.7z"/><path color="#3e4c8a" d="M1410.2 197.8l-3.8 4l2.3 6.8l3.7-4.2z"/><path color="#2cb17e" d="M1393.8 137.1l-4.1-3.1l2.1 4.2l4.1 2.5z"/><path color="#2b748e" d="M1537.3 179l-3.6-1.1l2.4-.1l3.7 .6z"/><path color="#443b84" d="M1398.7 207.8l-3.8 1.9l2.3 7.3l3.8-2z"/><path color="#471164" d="M1417.4 229.8l-3.7 4.5l2 2l3.8-4.3z"/><path color="#21908d" d="M1418.4 158.4l-3.9 1l2.1 3.2l3.8-1.9z"/><path color="#463480" d="M1420.6 210.8l-3.7 5.7l2.2 4.7l3.7-6.2z"/><path color="#3e4989" d="M1416.2 199.5l-3.8 4.9l2.3 6.3l3.7-5.2z"/><path color="#28ae80" d="M1460.9 141.3l-3.8 1.2l2.1-4.3l3.8-1.2z"/><path color="#31b57b" d="M1474.5 137.7l-3.8-.9l2.2-3.5l3.8 1.4z"/><path color="#20928c" d="M1428.2 157.8l-3.9 1.3l2.1 1.7l3.9-2.2z"/><path color="#1f988b" d="M1406.3 153.2l-4-.3l2.2 4.5l3.9-.6z"/><path color="#3a538b" d="M1404.1 194.8l-3.8 3.1l2.3 7.2l3.8-3.3z"/><path color="#23a983" d="M1498.5 146.2l-3.7-4.9l2.3 .8l3.7 5.3z"/><path color="#3c4f8a" d="M1400.3 197.9l-3.9 2.5l2.3 7.4l3.9-2.7z"/><path color="#39558c" d="M1413.9 193.4l-3.7 4.4l2.2 6.6l3.8-4.9z"/><path color="#26828e" d="M1519.3 171.3l-3.6-4.3l2.3 2.7l3.7 3.1z"/><path color="#27ad81" d="M1395.9 140.7l-4.1-2.5l2.2 4.6l4 1.7z"/><path color="#375a8c" d="M1407.9 191.2l-3.8 3.6l2.3 7l3.8-4z"/><path color="#287c8e" d="M1557 175.5l-3.7 1l2.6-1.9l3.8-1.2z"/><path color="#21908d" d="M1414.5 159.4l-3.9 1.3l2.1 4.1l3.9-2.2z"/><path color="#21918c" d="M1424.3 159.1l-3.9 1.6l2.2 2.7l3.8-2.6z"/><path color="#28ae80" d="M1457.1 142.5l-3.8 1.9l2-4.3l3.9-1.9z"/><path color="#481f70" d="M1421.2 224.2l-3.8 5.6l2.1 2.2l3.8-5.2z"/><path color="#3d4d8a" d="M1396.4 200.4l-3.9 1.9l2.4 7.4l3.8-1.9z"/><path color="#1f948c" d="M1408.4 156.8l-3.9 .6l2.2 4.7l3.9-1.4z"/><path color="#46327e" d="M1422.8 215l-3.7 6.2l2.1 3l3.7-6.4z"/><path color="#33628d" d="M1411.7 187.2l-3.8 4l2.3 6.6l3.7-4.4z"/><path color="#22a884" d="M1398 144.5l-4-1.7l2.1 4.9l4.1 .9z"/><path color="#2a788e" d="M1543.4 178.7l-3.6-.3l2.4-.6l3.7-.2z"/><path color="#1f9a8a" d="M1509 157.1l-3.7-5.6l2.3 3l3.6 5.6z"/><path color="#39568c" d="M1419.9 194.2l-3.7 5.3l2.2 6l3.7-5.9z"/><path color="#3d4d8a" d="M1422.1 199.6l-3.7 5.9l2.2 5.3l3.7-6.4z"/><path color="#4ec36b" d="M1385.5 127.4l-4.2-3.7l2 3.1l4.2 3.6z"/><path color="#33628d" d="M1401.8 187.8l-3.8 2.8l2.3 7.3l3.8-3.1z"/><path color="#218f8d" d="M1420.4 160.7l-3.8 1.9l2.1 3.5l3.9-2.7z"/><path color="#31678e" d="M1405.6 184.6l-3.8 3.2l2.3 7l3.8-3.6z"/><path color="#26ad81" d="M1453.3 144.4l-3.9 2.4l2.1-4.1l3.8-2.6z"/><path color="#34618d" d="M1417.7 188.6l-3.8 4.8l2.3 6.1l3.7-5.3z"/><path color="#20a486" d="M1445.6 149.8l-3.8 2.8l2-2.7l3.9-3.9z"/><path color="#1fa088" d="M1441.8 152.6l-3.8 2.1l2-1.2l3.8-3.6z"/><path color="#218f8d" d="M1410.6 160.7l-3.9 1.4l2.2 4.9l3.8-2.2z"/><path color="#1fa287" d="M1400.2 148.6l-4.1-.9l2.2 5.1l4 .1z"/><path color="#355f8d" d="M1398 190.6l-3.9 2.3l2.3 7.5l3.9-2.5z"/><path color="#23a983" d="M1449.4 146.8l-3.8 3l2.1-3.8l3.8-3.3z"/><path color="#2e6e8e" d="M1409.5 181.1l-3.9 3.5l2.3 6.6l3.8-4z"/><path color="#228d8d" d="M1416.6 162.6l-3.9 2.2l2.2 4.3l3.8-3z"/><path color="#2f6b8e" d="M1415.5 182.9l-3.8 4.3l2.2 6.2l3.8-4.8z"/><path color="#1e9c89" d="M1438 154.7l-3.9 1.9l2.1 0l3.8-3.1z"/><path color="#3f4788" d="M1424.3 204.4l-3.7 6.4l2.2 4.2l3.6-7.2z"/><path color="#1e9d89" d="M1402.3 152.9l-4-.1l2.2 5.4l4-.8z"/><path color="#277e8e" d="M1527.6 176.1l-3.6-2.1l2.4 1.2l3.6 1.4z"/><path color="#277e8e" d="M1553.3 176.5l-3.7 .7l2.6-1.5l3.7-1.1z"/><path color="#3bbb75" d="M1480.5 136.6l-3.8-1.9l2.2-2.5l3.9 2.4z"/><path color="#23898e" d="M1412.7 164.8l-3.8 2.2l2.1 5.1l3.9-3z"/><path color="#2b748e" d="M1413.3 177.4l-3.8 3.7l2.2 6.1l3.8-4.3z"/><path color="#470e61" d="M1415.7 236.3l-3.8 3.2l2 .1l3.8-3.1z"/><path color="#31b57b" d="M1492.5 141l-3.7-4.1l2.3-.2l3.7 4.6z"/><path color="#2a788e" d="M1407.2 175.2l-3.8 2.9l2.2 6.5l3.9-3.5z"/><path color="#1f998a" d="M1434.1 156.6l-3.8 2l2 1l3.9-3z"/><path color="#287c8e" d="M1533.7 177.9l-3.7-1.3l2.4 .6l3.7 .6z"/><path color="#1f958b" d="M1404.5 157.4l-4 .8l2.3 5.5l3.9-1.6z"/><path color="#2c738e" d="M1403.4 178.1l-3.9 2.7l2.3 7l3.8-3.2z"/><path color="#365d8d" d="M1394.1 192.9l-3.9 1.9l2.3 7.5l3.9-1.9z"/><path color="#277e8e" d="M1411 172.1l-3.8 3.1l2.3 5.9l3.8-3.7z"/><path color="#218e8d" d="M1406.7 162.1l-3.9 1.6l2.2 5.6l3.9-2.3z"/><path color="#3bbb75" d="M1470.7 136.8l-3.8-.3l2.1-3.7l3.9 .5z"/><path color="#24868e" d="M1408.9 167l-3.9 2.3l2.2 5.9l3.8-3.1z"/><path color="#2d708e" d="M1399.5 180.8l-3.8 2.5l2.3 7.3l3.8-2.8z"/><path color="#460a5d" d="M1411.9 239.5l-3.8 2.1l1.9 .1l3.9-2.1z"/><path color="#48186a" d="M1419.5 232l-3.8 4.3l2 .2l3.9-3.9z"/><path color="#25838e" d="M1414.9 169.1l-3.9 3l2.3 5.3l3.8-3.7z"/><path color="#48c16e" d="M1387.5 130.4l-4.2-3.6l2.2 4.2l4.2 3z"/><path color="#1f968b" d="M1430.3 158.6l-3.9 2.2l2.1 2l3.8-3.2z"/><path color="#23888e" d="M1418.7 166.1l-3.8 3l2.2 4.6l3.8-3.8z"/><path color="#1f988b" d="M1511.2 160.1l-3.6-5.6l2.3 3.6l3.6 5.3z"/><path color="#46327e" d="M1424.9 217.8l-3.7 6.4l2.1 2.6l3.7-6.3z"/><path color="#25858e" d="M1521.7 172.8l-3.7-3.1l2.3 2.1l3.7 2.2z"/><path color="#287c8e" d="M1417.1 173.7l-3.8 3.7l2.2 5.5l3.7-4.4z"/><path color="#26828e" d="M1405 169.3l-3.9 2.3l2.3 6.5l3.8-2.9z"/><path color="#20928c" d="M1426.4 160.8l-3.8 2.6l2.1 2.9l3.8-3.5z"/><path color="#218e8d" d="M1422.6 163.4l-3.9 2.7l2.2 3.8l3.8-3.6z"/><path color="#2b748e" d="M1419.2 178.5l-3.7 4.4l2.2 5.7l3.7-5.1z"/><path color="#3bbb75" d="M1486.5 137.7l-3.7-3.1l2.2-1.3l3.8 3.6z"/><path color="#26ad81" d="M1500.8 147.4l-3.7-5.3l2.3 1.6l3.7 5.4z"/><path color="#2e6d8e" d="M1421.4 183.5l-3.7 5.1l2.2 5.6l3.7-5.7z"/><path color="#2e6e8e" d="M1395.7 183.3l-3.9 2.1l2.3 7.5l3.9-2.3z"/><path color="#32658e" d="M1423.6 188.5l-3.7 5.7l2.2 5.4l3.7-6.4z"/><path color="#27808e" d="M1401.1 171.6l-3.9 2.2l2.3 7l3.9-2.7z"/><path color="#228d8d" d="M1402.8 163.7l-3.9 1.6l2.2 6.3l3.9-2.3z"/><path color="#3fbc73" d="M1389.7 134l-4.2-3l2.2 4.9l4.1 2.3z"/><path color="#277e8e" d="M1539.8 178.4l-3.7-.6l2.4 .1l3.7-.1z"/><path color="#25838e" d="M1420.9 169.9l-3.8 3.8l2.1 4.8l3.8-4.5z"/><path color="#404688" d="M1426.4 207.8l-3.6 7.2l2.1 2.8l3.7-7.3z"/><path color="#482576" d="M1423.3 226.8l-3.8 5.2l2.1 .6l3.7-4.9z"/><path color="#1f968b" d="M1400.5 158.2l-3.9 .8l2.3 6.3l3.9-1.6z"/><path color="#355e8d" d="M1425.8 193.2l-3.7 6.4l2.2 4.8l3.7-7.2z"/><path color="#27808e" d="M1549.6 177.2l-3.7 .4l2.6-1l3.7-.9z"/><path color="#277e8e" d="M1397.2 173.8l-3.9 2.1l2.4 7.4l3.8-2.5z"/><path color="#2f6c8e" d="M1391.8 185.4l-3.9 1.8l2.3 7.6l3.9-1.9z"/><path color="#35b779" d="M1391.8 138.2l-4.1-2.3l2.2 5.4l4.1 1.5z"/><path color="#1fa088" d="M1398.3 152.8l-4 .1l2.3 6.1l3.9-.8z"/><path color="#1f958b" d="M1513.5 163.4l-3.6-5.3l2.2 4.1l3.6 4.8z"/><path color="#22a884" d="M1396.1 147.7l-4-.7l2.2 5.9l4-.1z"/><path color="#2ab07f" d="M1394 142.8l-4.1-1.5l2.2 5.7l4 .7z"/><path color="#228c8d" d="M1398.9 165.3l-4 1.6l2.3 6.9l3.9-2.2z"/><path color="#277e8e" d="M1423 174l-3.8 4.5l2.2 5l3.8-5.3z"/><path color="#228b8d" d="M1424.7 166.3l-3.8 3.6l2.1 4.1l3.8-4.5z"/><path color="#287c8e" d="M1393.3 175.9l-3.9 1.9l2.4 7.6l3.9-2.1z"/><path color="#44bf70" d="M1466.9 136.5l-3.9 .5l2.2-3.9l3.8-.3z"/><path color="#238a8d" d="M1563.4 171.9l-3.7 1.5l2.6-2.2l3.8-1.6z"/><path color="#2a788e" d="M1425.2 178.2l-3.8 5.3l2.2 5l3.8-6z"/><path color="#20928c" d="M1428.5 162.8l-3.8 3.5l2.1 3.2l3.8-4.4z"/><path color="#375b8d" d="M1428 197.2l-3.7 7.2l2.1 3.4l3.7-7.9z"/><path color="#1f978b" d="M1396.6 159l-4 1.1l2.3 6.8l4-1.6z"/><path color="#228b8d" d="M1394.9 166.9l-3.9 1.7l2.3 7.3l3.9-2.1z"/><path color="#25838e" d="M1530 176.6l-3.6-1.4l2.3 1.4l3.7 .6z"/><path color="#20928c" d="M1515.7 167l-3.6-4.8l2.3 4l3.6 3.5z"/><path color="#1f998a" d="M1432.3 159.6l-3.8 3.2l2.1 2.3l3.8-4.3z"/><path color="#28ae80" d="M1503.1 149.1l-3.7-5.4l2.2 2.3l3.7 5.5z"/><path color="#463480" d="M1427 220.5l-3.7 6.3l2 .9l3.8-5.7z"/><path color="#297b8e" d="M1389.4 177.8l-3.9 1.7l2.4 7.7l3.9-1.8z"/><path color="#2c738e" d="M1427.4 182.5l-3.8 6l2.2 4.7l3.8-6.8z"/><path color="#23888e" d="M1426.8 169.5l-3.8 4.5l2.2 4.2l3.8-5.3z"/><path color="#404688" d="M1428.6 210.5l-3.7 7.3l2.1 2.7l3.7-7.1z"/><path color="#23888e" d="M1524 174l-3.7-2.2l2.4 2l3.7 1.4z"/><path color="#26828e" d="M1545.9 177.6l-3.7 .2l2.5-.3l3.8-.9z"/><path color="#4ec36b" d="M1476.7 134.7l-3.8-1.4l2.2-2.8l3.8 1.7z"/><path color="#1fa287" d="M1394.3 152.9l-3.9 .4l2.2 6.8l4-1.1z"/><path color="#1fa088" d="M1436.2 156.6l-3.9 3l2.1 1.2l3.9-4.3z"/><path color="#3bbb75" d="M1494.8 141.3l-3.7-4.6l2.3 .6l3.7 4.8z"/><path color="#238a8d" d="M1559.7 173.4l-3.8 1.2l2.7-1.9l3.7-1.5z"/><path color="#25838e" d="M1536.1 177.8l-3.7-.6l2.4 .8l3.7-.1z"/><path color="#70cf57" d="M1381.3 123.7l-4.3-3.7l2.1 3.4l4.2 3.4z"/><path color="#238a8d" d="M1391 168.6l-3.9 1.6l2.3 7.6l3.9-1.9z"/><path color="#21a685" d="M1440 153.5l-3.8 3.1l2.1-.1l3.8-4.6z"/><path color="#1f988b" d="M1392.6 160.1l-3.9 1.1l2.3 7.4l3.9-1.7z"/><path color="#48c16e" d="M1463 137l-3.8 1.2l2.1-4l3.9-1.1z"/><path color="#27ad81" d="M1392.1 147l-4-.4l2.3 6.7l3.9-.4z"/><path color="#481d6f" d="M1417.7 236.5l-3.8 3.1l2-.8l3.8-3z"/><path color="#2d708e" d="M1429.6 186.4l-3.8 6.8l2.2 4l3.7-7.9z"/><path color="#25858e" d="M1429 172.9l-3.8 5.3l2.2 4.3l3.7-6.3z"/><path color="#482576" d="M1421.6 232.6l-3.9 3.9l2-.7l3.9-3.7z"/><path color="#20928c" d="M1430.6 165.1l-3.8 4.4l2.2 3.4l3.8-5.4z"/><path color="#375b8d" d="M1430.1 199.9l-3.7 7.9l2.2 2.7l3.7-8z"/><path color="#27ad81" d="M1443.8 149.9l-3.8 3.6l2.1-1.6l3.8-5z"/><path color="#48186a" d="M1413.9 239.6l-3.9 2.1l2-.8l3.9-2.1z"/><path color="#35b779" d="M1389.9 141.3l-4.1-1.2l2.3 6.5l4 .4z"/><path color="#67cc5c" d="M1383.3 126.8l-4.2-3.4l2.2 4.8l4.2 2.8z"/><path color="#238a8d" d="M1387.1 170.2l-4 1.6l2.4 7.7l3.9-1.7z"/><path color="#20928c" d="M1518 169.7l-3.6-3.5l2.2 3.3l3.7 2.3z"/><path color="#228b8d" d="M1555.9 174.6l-3.7 1.1l2.6-1.5l3.8-1.5z"/><path color="#56c667" d="M1482.8 134.6l-3.9-2.4l2.3-1.8l3.8 2.9z"/><path color="#4ec36b" d="M1488.8 136.9l-3.8-3.6l2.3-.6l3.8 4z"/><path color="#28ae80" d="M1505.3 151.5l-3.7-5.5l2.3 3.1l3.7 5.4z"/><path color="#46c06f" d="M1387.7 135.9l-4.2-2l2.3 6.2l4.1 1.2z"/><path color="#58c765" d="M1385.5 131l-4.2-2.8l2.2 5.7l4.2 2z"/><path color="#21a585" d="M1390.4 153.3l-4 .6l2.3 7.3l3.9-1.1z"/><path color="#48c16e" d="M1459.2 138.2l-3.9 1.9l2.1-4l3.9-1.9z"/><path color="#1f988b" d="M1388.7 161.2l-4 1.3l2.4 7.7l3.9-1.6z"/><path color="#24868e" d="M1542.2 177.8l-3.7 .1l2.5 .4l3.7-.8z"/><path color="#472f7d" d="M1425.3 227.7l-3.7 4.9l2-.5l3.8-4.6z"/><path color="#31b57b" d="M1447.7 146l-3.9 3.9l2.1-3l3.8-4.3z"/><path color="#3f4788" d="M1430.7 213.4l-3.7 7.1l2.1 1.5l3.7-6.5z"/><path color="#1e9c89" d="M1434.4 160.8l-3.8 4.3l2.2 2.4l3.7-5.5z"/><path color="#26828e" d="M1431.1 176.2l-3.7 6.3l2.2 3.9l3.7-7.4z"/><path color="#44bf70" d="M1455.3 140.1l-3.8 2.6l2.1-3.8l3.8-2.8z"/><path color="#3bbb75" d="M1451.5 142.7l-3.8 3.3l2-3.4l3.9-3.7z"/><path color="#228b8d" d="M1526.4 175.2l-3.7-1.4l2.3 2.3l3.7 .5z"/><path color="#23888e" d="M1532.4 177.2l-3.7-.6l2.4 1.6l3.7-.2z"/><path color="#2e6f8e" d="M1431.7 189.3l-3.7 7.9l2.1 2.7l3.7-8.4z"/><path color="#2cb17e" d="M1388.1 146.6l-4.1 0l2.4 7.3l4-.6z"/><path color="#228c8d" d="M1552.2 175.7l-3.7 .9l2.5-.9l3.8-1.5z"/><path color="#60ca60" d="M1472.9 133.3l-3.9-.5l2.2-3.2l3.9 .9z"/><path color="#20928c" d="M1432.8 167.5l-3.8 5.4l2.1 3.3l3.8-6.6z"/><path color="#1f988b" d="M1384.7 162.5l-3.9 1.5l2.3 7.8l4-1.6z"/><path color="#44bf70" d="M1497.1 142.1l-3.7-4.8l2.2 1.4l3.8 5z"/><path color="#375b8d" d="M1432.3 202.5l-3.7 8l2.1 2.9l3.7-7.9z"/><path color="#26ad81" d="M1507.6 154.5l-3.7-5.4l2.3 3.8l3.7 5.2z"/><path color="#21a685" d="M1386.4 153.9l-4 .9l2.3 7.7l4-1.3z"/><path color="#433e85" d="M1429.1 222l-3.8 5.7l2.1-.2l3.8-5.3z"/><path color="#20928c" d="M1520.3 171.8l-3.7-2.3l2.3 3.1l3.8 1.2z"/><path color="#21a685" d="M1438.3 156.5l-3.9 4.3l2.1 1.2l3.8-5.8z"/><path color="#23898e" d="M1538.5 177.9l-3.7 .1l2.4 1.2l3.8-.9z"/><path color="#3fbc73" d="M1385.8 140.1l-4.1-.7l2.3 7.2l4.1 0z"/><path color="#23a983" d="M1509.9 158.1l-3.7-5.2l2.2 4.4l3.7 4.9z"/><path color="#26828e" d="M1433.3 179l-3.7 7.4l2.1 2.9l3.7-8.5z"/><path color="#228d8d" d="M1548.5 176.6l-3.8 .9l2.5-.3l3.8-1.5z"/><path color="#1f988b" d="M1566.1 169.6l-3.8 1.6l2.7-2.2l3.8-1.7z"/><path color="#22a785" d="M1382.4 154.8l-4 1.4l2.4 7.8l3.9-1.5z"/><path color="#2fb47c" d="M1384 146.6l-4 .5l2.4 7.7l4-.9z"/><path color="#58c765" d="M1383.5 133.9l-4.1-1.5l2.3 7l4.1 .7z"/><path color="#2d708e" d="M1433.8 191.5l-3.7 8.4l2.2 2.6l3.7-8.4z"/><path color="#20a486" d="M1512.1 162.2l-3.7-4.9l2.3 5.1l3.7 3.8z"/><path color="#95d840" d="M1377 120l-4.3-3.8l2.1 3.8l4.3 3.4z"/><path color="#471164" d="M1511.9 245.5l-3.8 2.3l2.2 5.7l3.9-2.5z"/><path color="#48186a" d="M1515.8 241.6l-3.9 3.9l2.3 5.5l3.8-4.2z"/><path color="#218e8d" d="M1528.7 176.6l-3.7-.5l2.3 2.5l3.8-.4z"/><path color="#1fa088" d="M1436.5 162l-3.7 5.5l2.1 2.1l3.8-6.9z"/><path color="#2ab07f" d="M1442.1 151.9l-3.8 4.6l2-.3l3.8-6.1z"/><path color="#20928c" d="M1434.9 169.6l-3.8 6.6l2.2 2.8l3.7-8z"/><path color="#375b8d" d="M1434.4 205.5l-3.7 7.9l2.1 2.1l3.8-7.2z"/><path color="#450559" d="M1514.2 251l-3.9 2.5l2.3 4.7l3.8-2.7z"/><path color="#6ccd5a" d="M1469 132.8l-3.8 .3l2.2-3.4l3.8-.1z"/><path color="#482576" d="M1513.6 235.5l-3.9 3.6l2.2 6.4l3.9-3.9z"/><path color="#3d4d8a" d="M1432.8 215.5l-3.7 6.5l2.1 .2l3.7-5.8z"/><path color="#70cf57" d="M1478.9 132.2l-3.8-1.7l2.2-2.1l3.9 2z"/><path color="#60ca60" d="M1491.1 136.7l-3.8-4l2.3 .3l3.8 4.3z"/><path color="#20928c" d="M1522.7 173.8l-3.8-1.2l2.3 3.2l3.8 .3z"/><path color="#73d056" d="M1381.3 128.2l-4.2-2.5l2.3 6.7l4.1 1.5z"/><path color="#470e61" d="M1518 246.8l-3.8 4.2l2.2 4.5l3.9-4.4z"/><path color="#481f70" d="M1509.7 239.1l-3.8 1.9l2.2 6.8l3.8-2.3z"/><path color="#228d8d" d="M1534.8 178l-3.7 .2l2.4 2l3.7-1z"/><path color="#1f988b" d="M1562.3 171.2l-3.7 1.5l2.6-1.9l3.8-1.8z"/><path color="#472d7b" d="M1419.7 235.8l-3.8 3l1.9-1.3l3.9-2.8z"/><path color="#48c16e" d="M1499.4 143.7l-3.8-5l2.3 2.3l3.7 5z"/><path color="#89d548" d="M1379.1 123.4l-4.3-3.4l2.3 5.7l4.2 2.5z"/><path color="#218e8d" d="M1544.7 177.5l-3.7 .8l2.4 .5l3.8-1.6z"/><path color="#463480" d="M1423.6 232.1l-3.9 3.7l2-1.1l3.9-3.6z"/><path color="#1fa088" d="M1514.4 166.2l-3.7-3.8l2.2 4.8l3.7 2.3z"/><path color="#482576" d="M1519.7 236.6l-3.9 5l2.2 5.2l4-5.2z"/><path color="#471164" d="M1508.1 247.8l-3.8 1.1l2.2 5.4l3.8-.8z"/><path color="#482979" d="M1415.9 238.8l-3.9 2.1l1.9-1.3l3.9-2.1z"/><path color="#472f7d" d="M1517.5 230.9l-3.9 4.6l2.2 6.1l3.9-5z"/><path color="#48c16e" d="M1381.7 139.4l-4.1 0l2.4 7.7l4-.5z"/><path color="#70cf57" d="M1485 133.3l-3.8-2.9l2.3-.9l3.8 3.2z"/><path color="#32b67a" d="M1380 147.1l-4 1.2l2.4 7.9l4-1.4z"/><path color="#463480" d="M1511.4 228.6l-3.9 3l2.2 7.5l3.9-3.6z"/><path color="#440154" d="M1516.4 255.5l-3.8 2.7l2.3 3.4l3.8-2.7z"/><path color="#450559" d="M1510.3 253.5l-3.8 .8l2.3 4.5l3.8-.6z"/><path color="#433e85" d="M1427.4 227.5l-3.8 4.6l2-1l3.8-4.3z"/><path color="#25838e" d="M1435.4 180.8l-3.7 8.5l2.1 2.2l3.8-8.6z"/><path color="#3bbb75" d="M1445.9 146.9l-3.8 5l2-1.8l3.9-5.6z"/><path color="#481f70" d="M1505.9 241l-3.8 1.4l2.2 6.5l3.8-1.1z"/><path color="#1f988b" d="M1558.6 172.7l-3.8 1.5l2.6-1.4l3.8-2z"/><path color="#460a5d" d="M1520.3 251.1l-3.9 4.4l2.3 3.4l3.9-4.4z"/><path color="#481d6f" d="M1522 241.6l-4 5.2l2.3 4.3l3.9-5.3z"/><path color="#46327e" d="M1507.5 231.6l-3.8 1.7l2.2 7.7l3.8-1.9z"/><path color="#433e85" d="M1515.3 224.4l-3.9 4.2l2.2 6.9l3.9-4.6z"/><path color="#2d708e" d="M1436 194.1l-3.7 8.4l2.1 3l3.8-8.4z"/><path color="#1e9c89" d="M1516.6 169.5l-3.7-2.3l2.3 4.3l3.7 1.1z"/><path color="#73d056" d="M1465.2 133.1l-3.9 1.1l2.2-3.4l3.9-1.1z"/><path color="#218f8d" d="M1541 178.3l-3.8 .9l2.4 1.3l3.8-1.7z"/><path color="#20928c" d="M1525 176.1l-3.8-.3l2.3 3.4l3.8-.6z"/><path color="#27ad81" d="M1440.3 156.2l-3.8 5.8l2.2 .7l3.7-7.2z"/><path color="#218f8d" d="M1531.1 178.2l-3.8 .4l2.4 2.8l3.8-1.2z"/><path color="#440154" d="M1512.6 258.2l-3.8 .6l2.3 3.5l3.8-.7z"/><path color="#67cc5c" d="M1379.4 132.4l-4.1-.7l2.3 7.7l4.1 0z"/><path color="#48c16e" d="M1501.6 146l-3.7-5l2.3 3.1l3.7 5z"/><path color="#3e4989" d="M1431.2 222.2l-3.8 5.3l2-.7l3.8-4.9z"/><path color="#433e85" d="M1521.4 225.7l-3.9 5.2l2.2 5.7l4-5.5z"/><path color="#1f978b" d="M1554.8 174.2l-3.8 1.5l2.6-.8l3.8-2.1z"/><path color="#1f958b" d="M1437 171l-3.7 8l2.1 1.8l3.7-8.5z"/><path color="#463480" d="M1523.7 231.1l-4 5.5l2.3 5l3.9-5.7z"/><path color="#355e8d" d="M1436.6 208.3l-3.8 7.2l2.1 .9l3.8-6.5z"/><path color="#4ec36b" d="M1449.7 142.6l-3.8 4.3l2.1-2.4l3.8-4.8z"/><path color="#3f4788" d="M1509.2 220.9l-3.8 2.3l2.1 8.4l3.9-3z"/><path color="#46327e" d="M1503.7 233.3l-3.8 1.6l2.2 7.5l3.8-1.4z"/><path color="#4ec36b" d="M1377.6 139.4l-4 1l2.4 7.9l4-1.2z"/><path color="#3d4d8a" d="M1513.1 217.3l-3.9 3.6l2.2 7.7l3.9-4.2z"/><path color="#3e4989" d="M1519.2 219.6l-3.9 4.8l2.2 6.5l3.9-5.2z"/><path color="#48186a" d="M1524.2 245.8l-3.9 5.3l2.3 3.4l4-5.4z"/><path color="#20a486" d="M1438.7 162.7l-3.8 6.9l2.1 1.4l3.8-8z"/><path color="#1f998a" d="M1518.9 172.6l-3.7-1.1l2.3 4.2l3.7 .1z"/><path color="#73d056" d="M1461.3 134.2l-3.9 1.9l2.2-3.3l3.9-2z"/><path color="#21908d" d="M1537.2 179.2l-3.7 1l2.3 2.2l3.8-1.9z"/><path color="#48186a" d="M1504.3 248.9l-3.8-.7l2.2 5.3l3.8 .8z"/><path color="#472d7b" d="M1525.9 235.9l-3.9 5.7l2.2 4.2l4-5.8z"/><path color="#86d549" d="M1475.1 130.5l-3.9-.9l2.3-2.3l3.8 1.1z"/><path color="#60ca60" d="M1453.6 138.9l-3.9 3.7l2.1-2.9l3.9-3.9z"/><path color="#1f968b" d="M1551 175.7l-3.8 1.5l2.6 0l3.8-2.3z"/><path color="#2e6f8e" d="M1438.2 197.1l-3.8 8.4l2.2 2.8l3.7-7.9z"/><path color="#6ccd5a" d="M1493.4 137.3l-3.8-4.3l2.3 1.3l3.7 4.4z"/><path color="#404688" d="M1505.4 223.2l-3.9 1.5l2.2 8.6l3.8-1.7z"/><path color="#6ccd5a" d="M1457.4 136.1l-3.8 2.8l2.1-3.1l3.9-3z"/><path color="#482576" d="M1502.1 242.4l-3.8-.3l2.2 6.1l3.8 .7z"/><path color="#89d548" d="M1377.1 125.7l-4.2-1.5l2.4 7.5l4.1 .7z"/><path color="#39568c" d="M1517 213l-3.9 4.3l2.2 7.1l3.9-4.8z"/><path color="#25848e" d="M1437.6 182.9l-3.8 8.6l2.2 2.6l3.7-8.7z"/><path color="#470e61" d="M1506.5 254.3l-3.8-.8l2.3 4.3l3.8 1z"/><path color="#21918c" d="M1527.3 178.6l-3.8 .6l2.3 3.8l3.9-1.6z"/><path color="#44bf70" d="M1503.9 149.1l-3.7-5l2.3 3.9l3.7 4.9z"/><path color="#39568c" d="M1434.9 216.4l-3.7 5.8l2-.3l3.8-5.4z"/><path color="#3e4c8a" d="M1525.4 220.2l-4 5.5l2.3 5.4l3.9-5.7z"/><path color="#1f968b" d="M1521.2 175.8l-3.7-.1l2.2 4.4l3.8-.9z"/><path color="#39558c" d="M1523.2 214.6l-4 5l2.2 6.1l4-5.5z"/><path color="#1f958b" d="M1547.2 177.2l-3.8 1.6l2.5 .8l3.9-2.4z"/><path color="#21908d" d="M1533.5 180.2l-3.8 1.2l2.3 3.1l3.8-2.1z"/><path color="#c0df25" d="M1372.7 116.2l-4.4-3.8l2.2 4.8l4.3 2.8z"/><path color="#70cf57" d="M1375.3 131.7l-4.1 .8l2.4 7.9l4-1z"/><path color="#355e8d" d="M1510.9 209.7l-3.8 2.8l2.1 8.4l3.9-3.6z"/><path color="#a8db34" d="M1374.8 120l-4.3-2.8l2.4 7l4.2 1.5z"/><path color="#414487" d="M1527.6 225.4l-3.9 5.7l2.2 4.8l4-5.9z"/><path color="#463480" d="M1499.9 234.9l-3.9 .3l2.3 6.9l3.8 .3z"/><path color="#3bbb75" d="M1444.1 150.1l-3.8 6.1l2.1-.7l3.9-6.7z"/><path color="#404688" d="M1501.5 224.7l-3.8 1.8l2.2 8.4l3.8-1.6z"/><path color="#482979" d="M1528.2 240l-4 5.8l2.4 3.3l3.9-5.8z"/><path color="#34618d" d="M1520.9 208.5l-3.9 4.5l2.2 6.6l4-5z"/><path color="#3bbb75" d="M1506.2 152.9l-3.7-4.9l2.2 4.8l3.7 4.5z"/><path color="#32658e" d="M1514.8 206.1l-3.9 3.6l2.2 7.6l3.9-4.3z"/><path color="#375b8d" d="M1507.1 212.5l-3.9 1.6l2.2 9.1l3.8-2.3z"/><path color="#460a5d" d="M1508.8 258.8l-3.8-1l2.3 3.4l3.8 1.1z"/><path color="#22a785" d="M1568.8 167.3l-3.8 1.7l2.7-2.3l3.8-1.8z"/><path color="#86d549" d="M1487.3 132.7l-3.8-3.2l2.2 0l3.9 3.5z"/><path color="#31b57b" d="M1508.4 157.3l-3.7-4.5l2.3 5.6l3.7 4z"/><path color="#90d743" d="M1481.2 130.4l-3.9-2l2.3-1.2l3.9 2.3z"/><path color="#1f948c" d="M1543.4 178.8l-3.8 1.7l2.5 1.6l3.8-2.5z"/><path color="#27ad81" d="M1510.7 162.4l-3.7-4l2.2 6.1l3.7 2.7z"/><path color="#20928c" d="M1523.5 179.2l-3.8 .9l2.3 4.7l3.8-1.8z"/><path color="#1f988b" d="M1439.1 172.3l-3.7 8.5l2.2 2.1l3.7-8.7z"/><path color="#21a685" d="M1512.9 167.2l-3.7-2.7l2.2 5.8l3.8 1.2z"/><path color="#218f8d" d="M1529.7 181.4l-3.9 1.6l2.3 3.9l3.9-2.4z"/><path color="#433e85" d="M1529.9 230l-4 5.9l2.3 4.1l4-6.1z"/><path color="#2e6d8e" d="M1518.7 202.2l-3.9 3.9l2.2 6.9l3.9-4.5z"/><path color="#2d708e" d="M1440.3 200.4l-3.7 7.9l2.1 1.6l3.8-6.9z"/><path color="#25848e" d="M1439.7 185.4l-3.7 8.7l2.2 3l3.7-8.7z"/><path color="#414487" d="M1425.6 231.1l-3.9 3.6l2-1.5l3.9-3.4z"/><path color="#433e85" d="M1421.7 234.7l-3.9 2.8l2-1.6l3.9-2.7z"/><path color="#1fa088" d="M1515.2 171.5l-3.8-1.2l2.3 5.5l3.8-.1z"/><path color="#20928c" d="M1539.6 180.5l-3.8 1.9l2.4 2.5l3.9-2.8z"/><path color="#33628d" d="M1527.1 209.5l-3.9 5.1l2.2 5.6l4-5.5z"/><path color="#21a685" d="M1565 169l-3.8 1.8l2.7-1.9l3.8-2.2z"/><path color="#2f6b8e" d="M1524.9 204l-4 4.5l2.3 6.1l3.9-5.1z"/><path color="#95d840" d="M1471.2 129.6l-3.8 .1l2.2-2.5l3.9 .1z"/><path color="#375b8d" d="M1503.2 214.1l-3.8 1.5l2.1 9.1l3.9-1.5z"/><path color="#95d840" d="M1372.9 124.2l-4.1 .3l2.4 8l4.1-.8z"/><path color="#375a8c" d="M1529.4 214.7l-4 5.5l2.2 5.2l4-5.8z"/><path color="#73d056" d="M1495.6 138.7l-3.7-4.4l2.2 2.2l3.8 4.5z"/><path color="#32658e" d="M1438.7 209.9l-3.8 6.5l2.1 .1l3.9-5.7z"/><path color="#3e4c8a" d="M1429.4 226.8l-3.8 4.3l2-1.3l3.8-4z"/><path color="#31b57b" d="M1442.4 155.5l-3.7 7.2l2.1 .3l3.8-7.7z"/><path color="#218e8d" d="M1525.8 183l-3.8 1.8l2.3 4.8l3.8-2.7z"/><path color="#1f998a" d="M1517.5 175.7l-3.8 .1l2.2 5.5l3.8-1.2z"/><path color="#3f4788" d="M1497.7 226.5l-3.9 1l2.2 7.7l3.9-.3z"/><path color="#443b84" d="M1417.8 237.5l-3.9 2.1l1.9-1.6l4-2.1z"/><path color="#2b748e" d="M1522.6 198.3l-3.9 3.9l2.2 6.3l4-4.5z"/><path color="#23a983" d="M1440.8 163l-3.8 8l2.1 1.3l3.8-8.3z"/><path color="#2c738e" d="M1512.6 198.8l-3.8 2.8l2.1 8.1l3.9-3.6z"/><path color="#21908d" d="M1535.8 182.4l-3.8 2.1l2.3 3.4l3.9-3z"/><path color="#2a788e" d="M1516.5 195.7l-3.9 3.1l2.2 7.3l3.9-3.9z"/><path color="#20928c" d="M1519.7 180.1l-3.8 1.2l2.3 5.6l3.8-2.1z"/><path color="#2d708e" d="M1508.8 201.6l-3.9 1.8l2.2 9.1l3.8-2.8z"/><path color="#3a538b" d="M1531.6 219.6l-4 5.8l2.3 4.6l4-6.1z"/><path color="#277e8e" d="M1520.4 192.6l-3.9 3.1l2.2 6.5l3.9-3.9z"/><path color="#56c667" d="M1448 144.5l-3.9 5.6l2.2-1.3l3.8-6z"/><path color="#21a585" d="M1561.2 170.8l-3.8 2l2.6-1.4l3.9-2.5z"/><path color="#482576" d="M1500.5 248.2l-3.8-1.6l2.2 5l3.8 1.9z"/><path color="#228d8d" d="M1532 184.5l-3.9 2.4l2.3 4.2l3.9-3.2z"/><path color="#228b8d" d="M1522 184.8l-3.8 2.1l2.2 5.7l3.9-3z"/><path color="#472f7d" d="M1498.3 242.1l-3.9-1.3l2.3 5.8l3.8 1.6z"/><path color="#443b84" d="M1532.2 233.9l-4 6.1l2.3 3.3l4.1-6.1z"/><path color="#25838e" d="M1524.3 189.6l-3.9 3l2.2 5.7l3.9-3.7z"/><path color="#23888e" d="M1528.1 186.9l-3.8 2.7l2.2 5l3.9-3.5z"/><path color="#287c8e" d="M1526.5 194.6l-3.9 3.7l2.3 5.7l3.9-4.4z"/><path color="#39558c" d="M1433.2 221.9l-3.8 4.9l2-1l3.9-4.5z"/><path color="#2b748e" d="M1528.8 199.6l-3.9 4.4l2.2 5.5l4-5z"/><path color="#23888e" d="M1518.2 186.9l-3.9 2.2l2.2 6.6l3.9-3.1z"/><path color="#375b8d" d="M1499.4 215.6l-3.9 1.8l2.2 9.1l3.8-1.8z"/><path color="#1fa287" d="M1557.4 172.8l-3.8 2.1l2.6-.7l3.8-2.8z"/><path color="#481d6f" d="M1502.7 253.5l-3.8-1.9l2.3 4.2l3.8 2z"/><path color="#25838e" d="M1441.9 188.4l-3.7 8.7l2.1 3.3l3.8-8.5z"/><path color="#433e85" d="M1496 235.2l-3.8-.9l2.2 6.5l3.9 1.3z"/><path color="#2e6e8e" d="M1531.1 204.5l-4 5l2.3 5.2l3.9-5.5z"/><path color="#25858e" d="M1514.3 189.1l-3.9 2.2l2.2 7.5l3.9-3.1z"/><path color="#c0df25" d="M1370.5 117.2l-4.1-.7l2.4 8l4.1-.3z"/><path color="#25838e" d="M1530.4 191.1l-3.9 3.5l2.3 5l3.9-4.2z"/><path color="#20928c" d="M1515.9 181.3l-3.8 1.2l2.2 6.6l3.9-2.2z"/><path color="#2e6f8e" d="M1504.9 203.4l-3.9 1.1l2.2 9.6l3.9-1.6z"/><path color="#3c4f8a" d="M1533.9 223.9l-4 6.1l2.3 3.9l4-6.2z"/><path color="#1f9a8a" d="M1441.3 174.2l-3.7 8.7l2.1 2.5l3.8-8.8z"/><path color="#1fa088" d="M1553.6 174.9l-3.8 2.3l2.5 .1l3.9-3.1z"/><path color="#9dd93b" d="M1467.4 129.7l-3.9 1.1l2.2-2.6l3.9-1z"/><path color="#31678e" d="M1533.3 209.2l-3.9 5.5l2.2 4.9l4-5.9z"/><path color="#23898e" d="M1534.3 187.9l-3.9 3.2l2.3 4.3l3.9-4z"/><path color="#1e9d89" d="M1549.8 177.2l-3.9 2.4l2.5 .9l3.9-3.2z"/><path color="#1e9c89" d="M1513.7 175.8l-3.8 0l2.2 6.7l3.8-1.2z"/><path color="#26828e" d="M1510.4 191.3l-3.8 1.7l2.2 8.6l3.8-2.8z"/><path color="#73d056" d="M1497.9 141l-3.8-4.5l2.3 3.1l3.8 4.5z"/><path color="#277e8e" d="M1532.7 195.4l-3.9 4.2l2.3 4.9l3.9-4.9z"/><path color="#218f8d" d="M1538.2 184.9l-3.9 3l2.3 3.5l4-3.9z"/><path color="#1f988b" d="M1545.9 179.6l-3.8 2.5l2.4 1.8l3.9-3.4z"/><path color="#70cf57" d="M1451.8 139.7l-3.8 4.8l2.1-1.7l3.9-5.2z"/><path color="#1f948c" d="M1542.1 182.1l-3.9 2.8l2.4 2.6l3.9-3.6z"/><path color="#34618d" d="M1437 216.5l-3.8 5.4l2.1-.6l3.8-4.8z"/><path color="#375b8d" d="M1495.5 217.4l-3.9 1.7l2.2 8.4l3.9-1z"/><path color="#2c738e" d="M1442.5 203l-3.8 6.9l2.2 .9l3.8-6.1z"/><path color="#21a685" d="M1511.4 170.3l-3.8-1.5l2.3 7l3.8 0z"/><path color="#95d840" d="M1489.6 133l-3.9-3.5l2.3 1.1l3.9 3.7z"/><path color="#e2e418" d="M1368.3 112.4l-4.3-3.9l2.4 8l4.1 .7z"/><path color="#a8db34" d="M1477.3 128.4l-3.8-1.1l2.2-1.5l3.9 1.4z"/><path color="#3d4d8a" d="M1493.8 227.5l-3.8-.3l2.2 7.1l3.8 .9z"/><path color="#48186a" d="M1505 257.8l-3.8-2l2.3 3.4l3.8 2z"/><path color="#20928c" d="M1512.1 182.5l-3.9 1.1l2.2 7.7l3.9-2.2z"/><path color="#33628d" d="M1535.6 213.7l-4 5.9l2.3 4.3l4-6.2z"/><path color="#2a788e" d="M1535 199.6l-3.9 4.9l2.2 4.7l4-5.4z"/><path color="#2d708e" d="M1501 204.5l-3.8 1.4l2.2 9.7l3.8-1.5z"/><path color="#26828e" d="M1444.1 191.9l-3.8 8.5l2.2 2.6l3.8-7.4z"/><path color="#4ec36b" d="M1446.3 148.8l-3.9 6.7l2.2-.2l3.8-7z"/><path color="#9dd93b" d="M1463.5 130.8l-3.9 2l2.2-2.5l3.9-2.1z"/><path color="#26828e" d="M1506.6 193l-3.9 .7l2.2 9.7l3.9-1.8z"/><path color="#3d4d8a" d="M1536.2 227.7l-4 6.2l2.4 3.3l4-6.3z"/><path color="#24868e" d="M1536.6 191.4l-3.9 4l2.3 4.2l4-4.7z"/><path color="#2ab07f" d="M1509.2 164.5l-3.8-2.9l2.2 7.2l3.8 1.5z"/><path color="#86d549" d="M1455.7 135.8l-3.9 3.9l2.2-2.1l3.9-4.1z"/><path color="#26ad81" d="M1442.9 164l-3.8 8.3l2.2 1.9l3.8-8.6z"/><path color="#a8db34" d="M1483.5 129.5l-3.9-2.3l2.3-.2l3.8 2.5z"/><path color="#6ccd5a" d="M1500.2 144.1l-3.8-4.5l2.3 4.2l3.8 4.2z"/><path color="#95d840" d="M1459.6 132.8l-3.9 3l2.2-2.3l3.9-3.2z"/><path color="#1f9a8a" d="M1443.5 176.6l-3.8 8.8l2.2 3l3.8-8.7z"/><path color="#3bbb75" d="M1444.6 155.3l-3.8 7.7l2.1 1l3.8-8z"/><path color="#2c738e" d="M1537.3 203.8l-4 5.4l2.3 4.5l4-5.9z"/><path color="#3bbb75" d="M1507 158.4l-3.8-3.6l2.2 6.8l3.8 2.9z"/><path color="#355f8d" d="M1537.9 217.7l-4 6.2l2.3 3.8l4.1-6.4z"/><path color="#2e6d8e" d="M1440.9 210.8l-3.9 5.7l2.1 0l3.9-5.2z"/><path color="#218e8d" d="M1540.6 187.5l-4 3.9l2.4 3.5l3.9-4.6z"/><path color="#1fa088" d="M1509.9 175.8l-3.9-.4l2.2 8.2l3.9-1.1z"/><path color="#20928c" d="M1508.2 183.6l-3.8 .3l2.2 9.1l3.8-1.7z"/><path color="#2d708e" d="M1497.2 205.9l-3.9 1.9l2.2 9.6l3.9-1.8z"/><path color="#60ca60" d="M1502.5 148l-3.8-4.2l2.3 5.1l3.7 3.9z"/><path color="#355e8d" d="M1491.6 219.1l-3.9 .4l2.3 7.7l3.8 .3z"/><path color="#4ec36b" d="M1504.7 152.8l-3.7-3.9l2.2 5.9l3.8 3.6z"/><path color="#26828e" d="M1539 194.9l-4 4.7l2.3 4.2l4-5.3z"/><path color="#433e85" d="M1494.4 240.8l-3.8-1.9l2.3 5.5l3.8 2.2z"/><path color="#25838e" d="M1502.7 193.7l-3.8 .9l2.1 9.9l3.9-1.1z"/><path color="#1f958b" d="M1544.5 183.9l-3.9 3.6l2.3 2.8l4-4.4z"/><path color="#32b67a" d="M1571.5 164.9l-3.8 1.8l2.8-2.3l3.8-1.9z"/><path color="#463480" d="M1496.7 246.6l-3.8-2.2l2.2 4.9l3.8 2.3z"/><path color="#3a538b" d="M1427.6 229.8l-3.9 3.4l2-1.6l3.9-3.1z"/><path color="#3e4989" d="M1492.2 234.3l-3.8-1.5l2.2 6.1l3.8 1.9z"/><path color="#2d708e" d="M1539.6 207.8l-4 5.9l2.3 4l4.1-6.2z"/><path color="#3c4f8a" d="M1423.7 233.2l-3.9 2.7l2-1.7l3.9-2.6z"/><path color="#26828e" d="M1446.3 195.6l-3.8 7.4l2.2 1.7l3.8-6.3z"/><path color="#2e6f8e" d="M1493.3 207.8l-3.9 2.1l2.2 9.2l3.9-1.7z"/><path color="#375a8c" d="M1431.4 225.8l-3.8 4l2-1.3l3.9-3.7z"/><path color="#1e9d89" d="M1548.4 180.5l-3.9 3.4l2.4 2l4-4.2z"/><path color="#9dd93b" d="M1491.9 134.3l-3.9-3.7l2.3 2.1l3.8 3.8z"/><path color="#bade28" d="M1473.5 127.3l-3.9-.1l2.2-1.6l3.9 .2z"/><path color="#1f988b" d="M1445.7 179.7l-3.8 8.7l2.2 3.5l3.8-8.5z"/><path color="#70cf57" d="M1450.1 142.8l-3.8 6l2.1-.5l3.8-6.4z"/><path color="#472d7b" d="M1498.9 251.6l-3.8-2.3l2.3 4.1l3.8 2.4z"/><path color="#2fb47c" d="M1567.7 166.7l-3.8 2.2l2.7-1.9l3.9-2.6z"/><path color="#365d8d" d="M1540.3 221.3l-4.1 6.4l2.4 3.2l4-6.5z"/><path color="#27ad81" d="M1507.6 168.8l-3.7-1.8l2.1 8.4l3.9 .4z"/><path color="#1fa287" d="M1552.3 177.3l-3.9 3.2l2.5 1.2l3.9-4.1z"/><path color="#27808e" d="M1541.3 198.5l-4 5.3l2.3 4l4.1-5.9z"/><path color="#228d8d" d="M1542.9 190.3l-3.9 4.6l2.3 3.6l4-5.3z"/><path color="#3d4d8a" d="M1419.8 235.9l-4 2.1l2-1.8l4-2z"/><path color="#28ae80" d="M1445.1 165.6l-3.8 8.6l2.2 2.4l3.8-8.6z"/><path color="#39568c" d="M1490 227.2l-3.9-1l2.3 6.6l3.8 1.5z"/><path color="#2a788e" d="M1444.7 204.7l-3.8 6.1l2.1 .5l3.9-5.3z"/><path color="#33628d" d="M1435.3 221.3l-3.9 4.5l2.1-1l3.9-4z"/><path color="#2cb17e" d="M1563.9 168.9l-3.9 2.5l2.7-1.2l3.9-3.2z"/><path color="#22a884" d="M1556.2 174.2l-3.9 3.1l2.5 .3l3.9-3.9z"/><path color="#1f958b" d="M1504.4 183.9l-3.8 .1l2.1 9.7l3.9-.7z"/><path color="#27ad81" d="M1560 171.4l-3.8 2.8l2.5-.5l4-3.5z"/><path color="#25848e" d="M1498.9 194.6l-3.9 1.4l2.2 9.9l3.8-1.4z"/><path color="#2e6e8e" d="M1542 211.5l-4.1 6.2l2.4 3.6l4-6.4z"/><path color="#20a486" d="M1506 175.4l-3.8-.8l2.2 9.3l3.8-.3z"/><path color="#2d708e" d="M1489.4 209.9l-3.9 1.5l2.2 8.1l3.9-.4z"/><path color="#1f958b" d="M1447.9 183.4l-3.8 8.5l2.2 3.7l3.8-8z"/><path color="#2f6b8e" d="M1439.1 216.5l-3.8 4.8l2.1-.5l3.9-4.4z"/><path color="#482979" d="M1501.2 255.8l-3.8-2.4l2.3 3.3l3.8 2.5z"/><path color="#32658e" d="M1487.7 219.5l-3.8-.3l2.2 7l3.9 1z"/><path color="#44bf70" d="M1446.7 156l-3.8 8l2.2 1.6l3.8-8.1z"/><path color="#60ca60" d="M1448.4 148.3l-3.8 7l2.1 .7l3.9-7.4z"/><path color="#1f968b" d="M1546.9 185.9l-4 4.4l2.4 2.9l4-5.2z"/><path color="#bade28" d="M1485.7 129.5l-3.8-2.5l2.3 .9l3.8 2.7z"/><path color="#c5e021" d="M1479.6 127.2l-3.9-1.4l2.3-.3l3.9 1.5z"/><path color="#3bbb75" d="M1505.4 161.6l-3.8-2.5l2.3 7.9l3.7 1.8z"/><path color="#277e8e" d="M1543.7 201.9l-4.1 5.9l2.4 3.7l4-6.3z"/><path color="#90d743" d="M1454 137.6l-3.9 5.2l2.1-.9l3.9-5.4z"/><path color="#25848e" d="M1495 196l-3.9 1.9l2.2 9.9l3.9-1.9z"/><path color="#c5e021" d="M1469.6 127.2l-3.9 1l2.2-1.6l3.9-1z"/><path color="#9dd93b" d="M1494.1 136.5l-3.8-3.8l2.3 3.3l3.8 3.6z"/><path color="#228c8d" d="M1545.3 193.2l-4 5.3l2.4 3.4l4-5.8z"/><path color="#25858e" d="M1448.5 198.4l-3.8 6.3l2.2 1.3l3.8-5.4z"/><path color="#28ae80" d="M1447.3 168l-3.8 8.6l2.2 3.1l3.8-8.5z"/><path color="#1f988b" d="M1500.6 184l-3.9 .7l2.2 9.9l3.8-.9z"/><path color="#2b748e" d="M1443 211.3l-3.9 5.2l2.2-.1l3.8-4.5z"/><path color="#20928c" d="M1450.1 187.6l-3.8 8l2.2 2.8l3.9-6.7z"/><path color="#2f6c8e" d="M1544.3 214.9l-4 6.4l2.3 3.1l4.1-6.5z"/><path color="#1fa088" d="M1550.9 181.7l-4 4.2l2.4 2.1l4-5z"/><path color="#25838e" d="M1491.1 197.9l-3.9 2.3l2.2 9.7l3.9-2.1z"/><path color="#56c667" d="M1503.2 154.8l-3.8-2.8l2.2 7.1l3.8 2.5z"/><path color="#a8db34" d="M1457.9 133.5l-3.9 4.1l2.1-1.1l3.9-4.5z"/><path color="#2c738e" d="M1485.5 211.4l-3.9 .5l2.3 7.3l3.8 .3z"/><path color="#c5e021" d="M1465.7 128.2l-3.9 2.1l2.2-1.6l3.9-2.1z"/><path color="#95d840" d="M1496.4 139.6l-3.8-3.6l2.3 4.3l3.8 3.5z"/><path color="#3e4c8a" d="M1490.6 238.9l-3.9-2.1l2.3 5.2l3.9 2.4z"/><path color="#31b57b" d="M1503.9 167l-3.9-1.2l2.2 8.8l3.8 .8z"/><path color="#287c8e" d="M1546 205.2l-4 6.3l2.3 3.4l4.1-6.5z"/><path color="#39558c" d="M1488.4 232.8l-3.9-1.8l2.2 5.8l3.9 2.1z"/><path color="#23a983" d="M1502.2 174.6l-3.8-.1l2.2 9.5l3.8-.1z"/><path color="#bade28" d="M1461.8 130.3l-3.9 3.2l2.1-1.5l4-3.3z"/><path color="#26828e" d="M1487.2 200.2l-3.9 2.5l2.2 8.7l3.9-1.5z"/><path color="#414487" d="M1492.9 244.4l-3.9-2.4l2.3 4.6l3.8 2.7z"/><path color="#70cf57" d="M1501 148.9l-3.8-3.2l2.2 6.3l3.8 2.8z"/><path color="#22a884" d="M1554.8 177.6l-3.9 4.1l2.4 1.3l4-4.9z"/><path color="#1f978b" d="M1549.3 188l-4 5.2l2.4 2.9l4-5.8z"/><path color="#86d549" d="M1498.7 143.8l-3.8-3.5l2.3 5.4l3.8 3.2z"/><path color="#34618d" d="M1486.1 226.2l-3.9-1.3l2.3 6.1l3.9 1.8z"/><path color="#228b8d" d="M1547.7 196.1l-4 5.8l2.3 3.3l4.1-6.2z"/><path color="#277e8e" d="M1446.9 206l-3.9 5.3l2.1 .6l3.9-4.6z"/><path color="#26ad81" d="M1449.5 171.2l-3.8 8.5l2.2 3.7l3.8-8.4z"/><path color="#1f9a8a" d="M1496.7 184.7l-3.9 1.4l2.2 9.9l3.9-1.4z"/><path color="#48c16e" d="M1448.9 157.5l-3.8 8.1l2.2 2.4l3.8-8.2z"/><path color="#86d549" d="M1452.2 141.9l-3.8 6.4l2.2 .3l3.8-6.6z"/><path color="#20928c" d="M1452.4 191.7l-3.9 6.7l2.2 2.2l3.9-5.5z"/><path color="#c5e021" d="M1488 130.6l-3.8-2.7l2.3 2.1l3.8 2.7z"/><path color="#433e85" d="M1495.1 249.3l-3.8-2.7l2.3 4l3.8 2.8z"/><path color="#d8e219" d="M1475.7 125.8l-3.9-.2l2.3-.4l3.9 .3z"/><path color="#2ab07f" d="M1558.7 173.7l-3.9 3.9l2.5 .5l4-4.6z"/><path color="#2e6d8e" d="M1483.9 219.2l-3.9-.7l2.2 6.4l3.9 1.3z"/><path color="#26828e" d="M1483.3 202.7l-3.9 1.6l2.2 7.6l3.9-.5z"/><path color="#33628d" d="M1429.6 228.5l-3.9 3.1l2-1.6l3.9-2.9z"/><path color="#6ccd5a" d="M1450.6 148.6l-3.9 7.4l2.2 1.5l3.9-7.6z"/><path color="#31678e" d="M1433.5 224.8l-3.9 3.7l2-1.4l4-3.3z"/><path color="#23a983" d="M1451.7 175l-3.8 8.4l2.2 4.2l3.9-8z"/><path color="#4ec36b" d="M1574.3 162.5l-3.8 1.9l2.7-2.2l3.9-2.2z"/><path color="#297b8e" d="M1548.4 208.4l-4.1 6.5l2.4 3l4.1-6.5z"/><path color="#1f9a8a" d="M1492.8 186.1l-3.9 1.9l2.2 9.9l3.9-1.9z"/><path color="#23888e" d="M1450.7 200.6l-3.8 5.4l2.1 1.3l3.9-4.6z"/><path color="#355f8d" d="M1425.7 231.6l-3.9 2.6l2-1.8l3.9-2.4z"/><path color="#2e6e8e" d="M1437.4 220.8l-3.9 4l2.1-1l3.9-3.5z"/><path color="#35b779" d="M1562.7 170.2l-4 3.5l2.6-.2l4-4.4z"/><path color="#4ec36b" d="M1501.6 159.1l-3.8-1.6l2.2 8.3l3.9 1.2z"/><path color="#d8e219" d="M1481.9 127l-3.9-1.5l2.3 .8l3.9 1.6z"/><path color="#1fa287" d="M1553.3 183l-4 5l2.4 2.3l4.1-5.7z"/><path color="#2a788e" d="M1481.6 211.9l-3.9 .1l2.3 6.5l3.9 .7z"/><path color="#26ad81" d="M1498.4 174.5l-3.9 .5l2.2 9.7l3.9-.7z"/><path color="#48c16e" d="M1570.5 164.4l-3.9 2.6l2.7-1.7l3.9-3.1z"/><path color="#3fbc73" d="M1566.6 167l-3.9 3.2l2.6-1.1l4-3.8z"/><path color="#238a8d" d="M1550.1 199l-4.1 6.2l2.4 3.2l4.1-6.5z"/><path color="#20a486" d="M1454 179.6l-3.9 8l2.3 4.1l3.9-7z"/><path color="#2b748e" d="M1441.3 216.4l-3.9 4.4l2.1-.5l3.9-3.8z"/><path color="#365d8d" d="M1421.8 234.2l-4 2l2-1.9l4-1.9z"/><path color="#1f988b" d="M1488.9 188l-3.9 2.5l2.2 9.7l3.9-2.3z"/><path color="#443b84" d="M1497.4 253.4l-3.8-2.8l2.3 3.3l3.8 2.8z"/><path color="#1f988b" d="M1551.7 190.3l-4 5.8l2.4 2.9l4.1-6.3z"/><path color="#3bbb75" d="M1500 165.8l-3.9-.5l2.3 9.2l3.8 .1z"/><path color="#48c16e" d="M1451.1 159.8l-3.8 8.2l2.2 3.2l3.9-8.2z"/><path color="#a8db34" d="M1456.1 136.5l-3.9 5.4l2.2 .1l3.9-5.7z"/><path color="#1f958b" d="M1485 190.5l-4 3.1l2.3 9.1l3.9-2.5z"/><path color="#287c8e" d="M1445.1 211.9l-3.8 4.5l2.1 .1l3.9-3.9z"/><path color="#20928c" d="M1454.6 195.1l-3.9 5.5l2.2 2.1l4-4.4z"/><path color="#c5e021" d="M1490.3 132.7l-3.8-2.7l2.2 3.3l3.9 2.7z"/><path color="#e2e418" d="M1471.8 125.6l-3.9 1l2.2-.5l4-.9z"/><path color="#1fa088" d="M1456.3 184.7l-3.9 7l2.2 3.4l3.9-5.5z"/><path color="#25858e" d="M1479.4 204.3l-4 1.1l2.3 6.6l3.9-.1z"/><path color="#20928c" d="M1481 193.6l-3.9 2.9l2.3 7.8l3.9-1.6z"/><path color="#70cf57" d="M1499.4 152l-3.8-2l2.2 7.5l3.8 1.6z"/><path color="#27ad81" d="M1557.3 178.1l-4 4.9l2.5 1.6l4.1-5.6z"/><path color="#28ae80" d="M1494.5 175l-3.9 1.2l2.2 9.9l3.9-1.4z"/><path color="#25838e" d="M1449 207.3l-3.9 4.6l2.2 .7l3.9-3.8z"/><path color="#33628d" d="M1484.5 231l-3.9-1.7l2.3 5.3l3.8 2.2z"/><path color="#2f6b8e" d="M1482.2 224.9l-3.9-1.2l2.3 5.6l3.9 1.7z"/><path color="#375a8c" d="M1486.7 236.8l-3.8-2.2l2.2 4.9l3.9 2.5z"/><path color="#c5e021" d="M1460 132l-3.9 4.5l2.2-.2l4-4.6z"/><path color="#73d056" d="M1452.8 149.9l-3.9 7.6l2.2 2.3l3.9-7.6z"/><path color="#44bf70" d="M1453.4 163l-3.9 8.2l2.2 3.8l3.9-8z"/><path color="#238a8d" d="M1552.5 201.9l-4.1 6.5l2.4 3l4.1-6.7z"/><path color="#95d840" d="M1454.4 142l-3.8 6.6l2.2 1.3l3.8-6.8z"/><path color="#2b748e" d="M1480 218.5l-4-.6l2.3 5.8l3.9 1.2z"/><path color="#bade28" d="M1492.6 136l-3.9-2.7l2.3 4.5l3.9 2.5z"/><path color="#e2e418" d="M1467.9 126.6l-3.9 2.1l2.2-.4l3.9-2.2z"/><path color="#1e9c89" d="M1458.5 189.6l-3.9 5.5l2.3 3.2l3.9-4.4z"/><path color="#20928c" d="M1477.1 196.5l-3.9 2.2l2.2 6.7l4-1.1z"/><path color="#90d743" d="M1497.2 145.7l-3.9-2.3l2.3 6.6l3.8 2z"/><path color="#228b8d" d="M1452.9 202.7l-3.9 4.6l2.2 1.5l4-3.7z"/><path color="#21a585" d="M1555.8 184.6l-4.1 5.7l2.5 2.4l4.1-6.3z"/><path color="#d8e219" d="M1464 128.7l-4 3.3l2.3-.3l3.9-3.4z"/><path color="#3a538b" d="M1489 242l-3.9-2.5l2.3 4.4l3.9 2.7z"/><path color="#1f988b" d="M1554.2 192.7l-4.1 6.3l2.4 2.9l4.1-6.6z"/><path color="#277e8e" d="M1477.7 212l-3.9 .1l2.2 5.8l4 .6z"/><path color="#a8db34" d="M1494.9 140.3l-3.9-2.5l2.3 5.6l3.9 2.3z"/><path color="#e2e418" d="M1484.2 127.9l-3.9-1.6l2.3 2.1l3.9 1.6z"/><path color="#ece51b" d="M1478 125.5l-3.9-.3l2.2 .7l4 .4z"/><path color="#28ae80" d="M1490.6 176.2l-4 2l2.3 9.8l3.9-1.9z"/><path color="#44bf70" d="M1496.1 165.3l-3.8 .3l2.2 9.4l3.9-.5z"/><path color="#60ca60" d="M1497.8 157.5l-3.9-.8l2.2 8.6l3.9 .5z"/><path color="#35b779" d="M1561.3 173.5l-4 4.6l2.6 .9l4-5.5z"/><path color="#3bbb75" d="M1455.6 167l-3.9 8l2.3 4.6l3.9-7.7z"/><path color="#20928c" d="M1456.9 198.3l-4 4.4l2.3 2.4l3.9-3.5z"/><path color="#23888e" d="M1475.4 205.4l-3.9 .9l2.3 5.8l3.9-.1z"/><path color="#31b57b" d="M1457.9 171.9l-3.9 7.7l2.3 5.1l3.8-7.2z"/><path color="#27ad81" d="M1460.1 177.5l-3.8 7.2l2.2 4.9l3.9-5.9z"/><path color="#26ad81" d="M1486.6 178.2l-3.9 2.7l2.3 9.6l3.9-2.5z"/><path color="#20928c" d="M1473.2 198.7l-4 2l2.3 5.6l3.9-.9z"/><path color="#3c4f8a" d="M1491.3 246.6l-3.9-2.7l2.3 3.8l3.9 2.9z"/><path color="#1f998a" d="M1460.8 193.9l-3.9 4.4l2.2 3.3l3.9-3.3z"/><path color="#21a685" d="M1462.4 183.7l-3.9 5.9l2.3 4.3l3.9-4.3z"/><path color="#20a486" d="M1478.8 184.3l-4 4l2.3 8.2l3.9-2.9z"/><path color="#1fa088" d="M1474.8 188.3l-3.9 3.6l2.3 6.8l3.9-2.2z"/><path color="#23a983" d="M1482.7 180.9l-3.9 3.4l2.2 9.3l4-3.1z"/><path color="#1e9c89" d="M1470.9 191.9l-3.9 3.2l2.2 5.6l4-2z"/><path color="#1fa088" d="M1464.7 189.6l-3.9 4.3l2.2 4.4l4-3.2z"/><path color="#73d056" d="M1455 152.2l-3.9 7.6l2.3 3.2l3.8-7.6z"/><path color="#46c06f" d="M1565.3 169.1l-4 4.4l2.6 0l4.1-5.2z"/><path color="#bade28" d="M1458.3 136.3l-3.9 5.7l2.2 1.1l4-5.8z"/><path color="#2a788e" d="M1439.5 220.3l-3.9 3.5l2.1-.9l3.9-3z"/><path color="#1f998a" d="M1467 195.1l-4 3.2l2.3 4.5l3.9-2.1z"/><path color="#2c738e" d="M1435.6 223.8l-4 3.3l2.1-1.4l4-2.8z"/><path color="#21a685" d="M1468.6 184.9l-3.9 4.7l2.3 5.5l3.9-3.2z"/><path color="#2cb17e" d="M1559.9 179l-4.1 5.6l2.5 1.8l4.1-6.2z"/><path color="#277e8e" d="M1443.4 216.5l-3.9 3.8l2.1-.4l4-3.1z"/><path color="#48c16e" d="M1492.3 165.6l-4 1.2l2.3 9.4l3.9-1.2z"/><path color="#1f988b" d="M1556.6 195.3l-4.1 6.6l2.4 2.8l4.2-6.7z"/><path color="#86d549" d="M1495.6 150l-3.9-1.1l2.2 7.8l3.9 .8z"/><path color="#2d708e" d="M1431.6 227.1l-3.9 2.9l2-1.7l4-2.6z"/><path color="#25838e" d="M1447.3 212.6l-3.9 3.9l2.2 .3l3.9-3.2z"/><path color="#20928c" d="M1469.2 200.7l-3.9 2.1l2.3 4.7l3.9-1.2z"/><path color="#e2e418" d="M1486.5 130l-3.9-1.6l2.2 3.3l3.9 1.6z"/><path color="#1f968b" d="M1463 198.3l-3.9 3.3l2.2 3.5l4-2.3z"/><path color="#f6e620" d="M1474.1 125.2l-4 .9l2.3 .7l3.9-.9z"/><path color="#9dd93b" d="M1456.6 143.1l-3.8 6.8l2.2 2.3l3.9-6.9z"/><path color="#23888e" d="M1451.2 208.8l-3.9 3.8l2.2 1l4-3z"/><path color="#21a685" d="M1558.3 186.4l-4.1 6.3l2.4 2.6l4.2-6.7z"/><path color="#228b8d" d="M1471.5 206.3l-3.9 1.2l2.2 4.9l4-.3z"/><path color="#20928c" d="M1459.1 201.6l-3.9 3.5l2.2 2.6l3.9-2.6z"/><path color="#218e8d" d="M1455.2 205.1l-4 3.7l2.3 1.8l3.9-2.9z"/><path color="#58c765" d="M1569.3 165.3l-4 3.8l2.7-.8l4-4.6z"/><path color="#3d4d8a" d="M1493.6 250.6l-3.9-2.9l2.3 3.3l3.9 2.9z"/><path color="#2ab07f" d="M1466.3 177.5l-3.9 6.2l2.3 5.9l3.9-4.7z"/><path color="#25838e" d="M1473.8 212.1l-4 .3l2.3 5.1l3.9 .4z"/><path color="#27ad81" d="M1472.6 179.9l-4 5l2.3 7l3.9-3.6z"/><path color="#2e6e8e" d="M1427.7 230l-3.9 2.4l2-1.9l3.9-2.2z"/><path color="#287c8e" d="M1476 217.9l-3.9-.4l2.3 5.1l3.9 1.1z"/><path color="#70cf57" d="M1577.1 160l-3.9 2.2l2.8-2.3l3.9-2.4z"/><path color="#6ccd5a" d="M1493.9 156.7l-3.9 .2l2.3 8.7l3.8-.3z"/><path color="#2b748e" d="M1478.3 223.7l-3.9-1.1l2.3 5l3.9 1.7z"/><path color="#6ccd5a" d="M1457.2 155.4l-3.8 7.6l2.2 4l3.9-7.4z"/><path color="#67cc5c" d="M1573.2 162.2l-3.9 3.1l2.7-1.6l4-3.8z"/><path color="#2e6e8e" d="M1480.6 229.3l-3.9-1.7l2.2 4.8l4 2.2z"/><path color="#d8e219" d="M1462.3 131.7l-4 4.6l2.3 1l3.9-4.7z"/><path color="#f6e620" d="M1480.3 126.3l-4-.4l2.3 2.1l4 .4z"/><path color="#48c16e" d="M1488.3 166.8l-3.9 2l2.2 9.4l4-2z"/><path color="#a8db34" d="M1493.3 143.4l-3.9-1.3l2.3 6.8l3.9 1.1z"/><path color="#3bbb75" d="M1464.1 170.8l-4 6.7l2.3 6.2l3.9-6.2z"/><path color="#20928c" d="M1465.3 202.8l-4 2.3l2.3 3.8l4-1.4z"/><path color="#31b57b" d="M1476.5 175.4l-3.9 4.5l2.2 8.4l4-4z"/><path color="#d8e219" d="M1488.7 133.3l-3.9-1.6l2.3 4.6l3.9 1.5z"/><path color="#f6e620" d="M1470.1 126.1l-3.9 2.2l2.2 .8l4-2.3z"/><path color="#2f6c8e" d="M1423.8 232.4l-4 1.9l2-1.9l4-1.9z"/><path color="#60ca60" d="M1459.5 159.6l-3.9 7.4l2.3 4.9l3.9-7.2z"/><path color="#31678e" d="M1482.9 234.6l-4-2.2l2.3 4.5l3.9 2.6z"/><path color="#4ec36b" d="M1461.8 164.7l-3.9 7.2l2.2 5.6l4-6.7z"/><path color="#c5e021" d="M1491 137.8l-3.9-1.5l2.3 5.8l3.9 1.3z"/><path color="#ece51b" d="M1466.2 128.3l-3.9 3.4l2.2 .9l3.9-3.5z"/><path color="#44bf70" d="M1484.4 168.8l-3.9 2.9l2.2 9.2l3.9-2.7z"/><path color="#3bbb75" d="M1480.5 171.7l-4 3.7l2.3 8.9l3.9-3.4z"/><path color="#3fbc73" d="M1563.9 173.5l-4 5.5l2.5 1.2l4.1-6.1z"/><path color="#3bbb75" d="M1470.3 171.9l-4 5.6l2.3 7.4l4-5z"/><path color="#218e8d" d="M1467.6 207.5l-4 1.4l2.3 4.1l3.9-.6z"/><path color="#21918c" d="M1461.3 205.1l-3.9 2.6l2.2 3l4-1.8z"/><path color="#9dd93b" d="M1458.9 145.3l-3.9 6.9l2.2 3.2l3.9-6.8z"/><path color="#33628d" d="M1485.1 239.5l-3.9-2.6l2.3 4.1l3.9 2.9z"/><path color="#c5e021" d="M1460.6 137.3l-4 5.8l2.3 2.2l3.9-5.9z"/><path color="#73d056" d="M1490 156.9l-3.9 1.1l2.2 8.8l4-1.2z"/><path color="#22a785" d="M1560.8 188.6l-4.2 6.7l2.5 2.7l4.1-6.7z"/><path color="#95d840" d="M1491.7 148.9l-3.9 0l2.2 8l3.9-.2z"/><path color="#2fb47c" d="M1562.4 180.2l-4.1 6.2l2.5 2.2l4.1-6.6z"/><path color="#218f8d" d="M1457.4 207.7l-3.9 2.9l2.2 2.1l3.9-2z"/><path color="#23888e" d="M1469.8 212.4l-3.9 .6l2.3 4.3l3.9 .2z"/><path color="#f6e620" d="M1482.6 128.4l-4-.4l2.3 3.4l3.9 .3z"/><path color="#fde725" d="M1476.3 125.9l-3.9 .9l2.3 2.1l3.9-.9z"/><path color="#228d8d" d="M1453.5 210.6l-4 3l2.2 1.3l4-2.2z"/><path color="#56c667" d="M1468 164.7l-3.9 6.1l2.2 6.7l4-5.6z"/><path color="#4ec36b" d="M1474.2 167.1l-3.9 4.8l2.3 8l3.9-4.5z"/><path color="#25838e" d="M1472.1 217.5l-3.9-.2l2.2 4.3l4 1z"/><path color="#95d840" d="M1461.1 148.6l-3.9 6.8l2.3 4.2l3.9-6.6z"/><path color="#355f8d" d="M1487.4 243.9l-3.9-2.9l2.3 3.7l3.9 3z"/><path color="#58c765" d="M1568 168.3l-4.1 5.2l2.6 .6l4.2-6z"/><path color="#218f8d" d="M1463.6 208.9l-4 1.8l2.3 3.2l4-.9z"/><path color="#73d056" d="M1486.1 158l-4 2.1l2.3 8.7l3.9-2z"/><path color="#23898e" d="M1449.5 213.6l-3.9 3.2l2.1 .4l4-2.3z"/><path color="#bade28" d="M1489.4 142.1l-3.9-.2l2.3 7l3.9 0z"/><path color="#e2e418" d="M1464.5 132.6l-3.9 4.7l2.2 2.1l4-4.7z"/><path color="#70cf57" d="M1465.7 158.4l-3.9 6.3l2.3 6.1l3.9-6.1z"/><path color="#24868e" d="M1445.6 216.8l-4 3.1l2.2-.2l3.9-2.5z"/><path color="#60ca60" d="M1478.2 163.1l-4 4l2.3 8.3l4-3.7z"/><path color="#86d549" d="M1463.4 153l-3.9 6.6l2.3 5.1l3.9-6.3z"/><path color="#277e8e" d="M1474.4 222.6l-4-1l2.3 4.4l4 1.6z"/><path color="#6ccd5a" d="M1482.1 160.1l-3.9 3l2.3 8.6l3.9-2.9z"/><path color="#ece51b" d="M1484.8 131.7l-3.9-.3l2.3 4.6l3.9 .3z"/><path color="#fde725" d="M1472.4 126.8l-4 2.3l2.3 2l4-2.2z"/><path color="#26828e" d="M1441.6 219.9l-3.9 3l2.1-.8l4-2.4z"/><path color="#d8e219" d="M1487.1 136.3l-3.9-.3l2.3 5.9l3.9 .2z"/><path color="#c5e021" d="M1462.8 139.4l-3.9 5.9l2.2 3.3l4-5.8z"/><path color="#9dd93b" d="M1487.8 148.9l-4 1l2.3 8.1l3.9-1.1z"/><path color="#f6e620" d="M1468.4 129.1l-3.9 3.5l2.3 2.1l3.9-3.6z"/><path color="#27808e" d="M1437.7 222.9l-4 2.8l2.1-1.3l4-2.3z"/><path color="#70cf57" d="M1471.9 159.5l-3.9 5.2l2.3 7.2l3.9-4.8z"/><path color="#2a788e" d="M1476.7 227.6l-4-1.6l2.3 4.3l3.9 2.1z"/><path color="#21908d" d="M1459.6 210.7l-3.9 2l2.2 2.3l4-1.1z"/><path color="#48c16e" d="M1566.5 174.1l-4.1 6.1l2.5 1.8l4.2-6.6z"/><path color="#228d8d" d="M1465.9 213l-4 .9l2.3 3.4l4 0z"/><path color="#32b67a" d="M1564.9 182l-4.1 6.6l2.4 2.7l4.2-6.8z"/><path color="#73d056" d="M1572 163.7l-4 4.6l2.7-.2l4.1-5.6z"/><path color="#365d8d" d="M1489.7 247.7l-3.9-3l2.3 3.2l3.9 3.1z"/><path color="#fde725" d="M1478.6 128l-3.9 .9l2.3 3.4l3.9-.9z"/><path color="#277e8e" d="M1433.7 225.7l-4 2.6l2.1-1.7l4-2.2z"/><path color="#9dd93b" d="M1483.8 149.9l-3.9 2.2l2.2 8l4-2.1z"/><path color="#bade28" d="M1465.1 142.8l-4 5.8l2.3 4.4l4-5.7z"/><path color="#2c738e" d="M1478.9 232.4l-3.9-2.1l2.3 4l3.9 2.6z"/><path color="#86d549" d="M1475.9 155.3l-4 4.2l2.3 7.6l4-4z"/><path color="#90d743" d="M1469.6 152.9l-3.9 5.5l2.3 6.3l3.9-5.2z"/><path color="#c5e021" d="M1485.5 141.9l-4 1l2.3 7l4-1z"/><path color="#e2e418" d="M1466.8 134.7l-4 4.7l2.3 3.4l3.9-4.8z"/><path color="#95d840" d="M1479.9 152.1l-4 3.2l2.3 7.8l3.9-3z"/><path color="#21908d" d="M1455.7 212.7l-4 2.2l2.2 1.5l4-1.4z"/><path color="#287c8e" d="M1429.7 228.3l-3.9 2.2l2-1.9l4-2z"/><path color="#a8db34" d="M1467.4 147.3l-4 5.7l2.3 5.4l3.9-5.5z"/><path color="#89d548" d="M1576 159.9l-4 3.8l2.8-1.2l4-4.6z"/><path color="#23898e" d="M1468.2 217.3l-4 0l2.3 3.6l3.9 .7z"/><path color="#f6e620" d="M1480.9 131.4l-3.9 .9l2.2 4.7l4-1z"/><path color="#95d840" d="M1579.9 157.5l-3.9 2.4l2.8-2l4-2.9z"/><path color="#fde725" d="M1474.7 128.9l-4 2.2l2.3 3.4l4-2.2z"/><path color="#e2e418" d="M1483.2 136l-4 1l2.3 5.9l4-1z"/><path color="#f6e620" d="M1470.7 131.1l-3.9 3.6l2.2 3.3l4-3.5z"/><path color="#2d708e" d="M1481.2 236.9l-3.9-2.6l2.3 3.9l3.9 2.8z"/><path color="#21908d" d="M1461.9 213.9l-4 1.1l2.3 2.6l4-.3z"/><path color="#a8db34" d="M1473.6 148.4l-4 4.5l2.3 6.6l4-4.2z"/><path color="#c5e021" d="M1481.5 142.9l-3.9 2.2l2.3 7l3.9-2.2z"/><path color="#297b8e" d="M1425.8 230.5l-4 1.9l2-2l4-1.8z"/><path color="#d8e219" d="M1469 138l-3.9 4.8l2.3 4.5l3.9-4.7z"/><path color="#218f8d" d="M1451.7 214.9l-4 2.3l2.2 .7l4-1.5z"/><path color="#67cc5c" d="M1570.7 168.1l-4.2 6l2.6 1.3l4.2-6.7z"/><path color="#bade28" d="M1477.6 145.1l-4 3.3l2.3 6.9l4-3.2z"/><path color="#f6e620" d="M1477 132.3l-4 2.2l2.3 4.7l3.9-2.2z"/><path color="#24868e" d="M1470.4 221.6l-3.9-.7l2.2 3.7l4 1.4z"/><path color="#c5e021" d="M1471.3 142.6l-3.9 4.7l2.2 5.6l4-4.5z"/><path color="#4ec36b" d="M1569.1 175.4l-4.2 6.6l2.5 2.5l4.2-6.9z"/><path color="#e2e418" d="M1479.2 137l-3.9 2.2l2.3 5.9l3.9-2.2z"/><path color="#ece51b" d="M1473 134.5l-4 3.5l2.3 4.6l4-3.4z"/><path color="#d8e219" d="M1475.3 139.2l-4 3.4l2.3 5.8l4-3.3z"/><path color="#218e8d" d="M1447.7 217.2l-3.9 2.5l2.1-.1l4-1.7z"/><path color="#2e6e8e" d="M1483.5 241l-3.9-2.8l2.3 3.4l3.9 3.1z"/><path color="#26828e" d="M1472.7 226l-4-1.4l2.3 3.6l4 2.1z"/><path color="#20928c" d="M1457.9 215l-4 1.4l2.3 1.7l4-.5z"/><path color="#218f8d" d="M1464.2 217.3l-4 .3l2.3 2.8l4 .5z"/><path color="#228d8d" d="M1443.8 219.7l-4 2.4l2.1-.8l4-1.7z"/><path color="#89d548" d="M1574.8 162.5l-4.1 5.6l2.6 .6l4.2-6.4z"/><path color="#228c8d" d="M1439.8 222.1l-4 2.3l2.1-1.3l4-1.8z"/><path color="#2f6c8e" d="M1485.8 244.7l-3.9-3.1l2.3 3.2l3.9 3.1z"/><path color="#27808e" d="M1475 230.3l-4-2.1l2.3 3.6l4 2.5z"/><path color="#70cf57" d="M1573.3 168.7l-4.2 6.7l2.5 2.2l4.2-6.8z"/><path color="#1f948c" d="M1453.9 216.4l-4 1.5l2.3 .9l4-.7z"/><path color="#218e8d" d="M1466.5 220.9l-4-.5l2.2 2.9l4 1.3z"/><path color="#228b8d" d="M1435.8 224.4l-4 2.2l2.1-1.7l4-1.8z"/><path color="#a8db34" d="M1578.8 157.9l-4 4.6l2.7-.2l4.1-6z"/><path color="#1f948c" d="M1460.2 217.6l-4 .5l2.2 2l4.1 .3z"/><path color="#277e8e" d="M1477.3 234.3l-4-2.5l2.3 3.4l4 3z"/><path color="#238a8d" d="M1431.8 226.6l-4 2l2.1-2l4-1.7z"/><path color="#c0df25" d="M1582.8 155l-4 2.9l2.8-1.6l4.1-3.8z"/><path color="#1f958b" d="M1449.9 217.9l-4 1.7l2.2 .1l4.1-.9z"/><path color="#228d8d" d="M1468.7 224.6l-4-1.3l2.3 3l4 1.9z"/><path color="#95d840" d="M1577.5 162.3l-4.2 6.4l2.5 2.1l4.3-7z"/><path color="#238a8d" d="M1427.8 228.6l-4 1.8l2-2.1l4.1-1.7z"/><path color="#287c8e" d="M1479.6 238.2l-4-3l2.3 3.3l4 3.1z"/><path color="#1f968b" d="M1445.9 219.6l-4 1.7l2.2-.6l4-1z"/><path color="#1f988b" d="M1456.2 218.1l-4 .7l2.2 1.1l4 .2z"/><path color="#1f958b" d="M1462.5 220.4l-4.1-.3l2.3 2.1l4 1.1z"/><path color="#228c8d" d="M1471 228.2l-4-1.9l2.3 3l4 2.5z"/><path color="#1f978b" d="M1441.9 221.3l-4 1.8l2.1-1.2l4.1-1.2z"/><path color="#297b8e" d="M1481.9 241.6l-4-3.1l2.3 3.1l4 3.2z"/><path color="#c0df25" d="M1581.6 156.3l-4.1 6l2.6 1.5l4.2-6.9z"/><path color="#1e9d89" d="M1452.2 218.8l-4.1 .9l2.2 .3l4.1-.1z"/><path color="#228b8d" d="M1473.3 231.8l-4-2.5l2.3 3l4 2.9z"/><path color="#1f968b" d="M1464.7 223.3l-4-1.1l2.3 2.2l4 1.9z"/><path color="#1f988b" d="M1437.9 223.1l-4 1.8l2.1-1.8l4-1.2z"/><path color="#1e9d89" d="M1458.4 220.1l-4-.2l2.3 1.3l4 1z"/><path color="#e2e418" d="M1585.7 152.5l-4.1 3.8l2.7 .6l4.3-7z"/><path color="#1f988b" d="M1433.9 224.9l-4 1.7l2-2l4.1-1.5z"/><path color="#1fa088" d="M1448.1 219.7l-4 1l2.2-.5l4-.2z"/><path color="#238a8d" d="M1475.6 235.2l-4-2.9l2.3 3l4 3.2z"/><path color="#1f978b" d="M1467 226.3l-4-1.9l2.3 2.4l4 2.5z"/><path color="#1f988b" d="M1429.9 226.6l-4.1 1.7l2.1-2.1l4-1.6z"/><path color="#1fa287" d="M1454.4 219.9l-4.1 .1l2.3 .5l4.1 .7z"/><path color="#1fa088" d="M1460.7 222.2l-4-1l2.2 1.5l4.1 1.7z"/><path color="#1fa287" d="M1444.1 220.7l-4.1 1.2l2.2-1.2l4.1-.5z"/><path color="#238a8d" d="M1477.9 238.5l-4-3.2l2.3 3l4 3.3z"/><path color="#1f988b" d="M1469.3 229.3l-4-2.5l2.3 2.6l4 2.9z"/><path color="#21a585" d="M1440 221.9l-4 1.2l2.1-1.6l4.1-.8z"/><path color="#22a884" d="M1450.3 220l-4 .2l2.2-.3l4.1 .6z"/><path color="#1fa287" d="M1463 224.4l-4.1-1.7l2.3 1.7l4.1 2.4z"/><path color="#1f988b" d="M1471.6 232.3l-4-2.9l2.3 2.7l4 3.2z"/><path color="#22a884" d="M1456.7 221.2l-4.1-.7l2.2 .6l4.1 1.6z"/><path color="#21a685" d="M1436 223.1l-4.1 1.5l2.1-2.1l4.1-1z"/><path color="#22a785" d="M1431.9 224.6l-4 1.6l2-2.2l4.1-1.5z"/><path color="#27ad81" d="M1446.3 220.2l-4.1 .5l2.2-1l4.1 .2z"/><path color="#1f988b" d="M1473.9 235.3l-4-3.2l2.3 2.9l4 3.3z"/><path color="#21a585" d="M1465.3 226.8l-4.1-2.4l2.3 2.1l4.1 2.9z"/><path color="#2ab07f" d="M1452.6 220.5l-4.1-.6l2.2-.1l4.1 1.3z"/><path color="#27ad81" d="M1458.9 222.7l-4.1-1.6l2.3 1l4.1 2.3z"/><path color="#2cb17e" d="M1442.2 220.7l-4.1 .8l2.2-1.7l4.1-.1z"/><path color="#21a685" d="M1467.6 229.4l-4.1-2.9l2.3 2.3l4.1 3.3z"/><path color="#2fb47c" d="M1438.1 221.5l-4.1 1l2.1-2l4.2-.7z"/><path color="#35b779" d="M1448.5 219.9l-4.1-.2l2.2-.9l4.1 1z"/><path color="#2cb17e" d="M1461.2 224.4l-4.1-2.3l2.3 1.5l4.1 2.9z"/><path color="#22a785" d="M1469.9 232.1l-4.1-3.3l2.3 2.8l4.1 3.4z"/><path color="#35b779" d="M1454.8 221.1l-4.1-1.3l2.3 .2l4.1 2.1z"/><path color="#32b67a" d="M1434 222.5l-4.1 1.5l2.1-2.1l4.1-1.4z"/><path color="#3fbc73" d="M1444.4 219.7l-4.1 .1l2.1-1.6l4.2 .6z"/><path color="#2fb47c" d="M1463.5 226.5l-4.1-2.9l2.3 1.9l4.1 3.3z"/><path color="#3fbc73" d="M1457.1 222.1l-4.1-2.1l2.3 .8l4.1 2.8z"/><path color="#46c06f" d="M1450.7 219.8l-4.1-1l2.2-.6l4.2 1.8z"/><path color="#48c16e" d="M1440.3 219.8l-4.2 .7l2.2-2.1l4.1-.2z"/><path color="#32b67a" d="M1465.8 228.8l-4.1-3.3l2.3 2.7l4.1 3.4z"/><path color="#4ec36b" d="M1436.1 220.5l-4.1 1.4l2.2-2.3l4.1-1.2z"/><path color="#48c16e" d="M1459.4 223.6l-4.1-2.8l2.3 1.4l4.1 3.3z"/><path color="#58c765" d="M1446.6 218.8l-4.2-.6l2.2-1.3l4.2 1.3z"/><path color="#58c765" d="M1453 220l-4.2-1.8l2.3-.1l4.2 2.7z"/><path color="#4ec36b" d="M1461.7 225.5l-4.1-3.3l2.3 2.5l4.1 3.5z"/><path color="#67cc5c" d="M1442.4 218.2l-4.1 .2l2.2-2l4.1 .5z"/><path color="#67cc5c" d="M1455.3 220.8l-4.2-2.7l2.3 .9l4.2 3.2z"/><path color="#73d056" d="M1448.8 218.2l-4.2-1.3l2.3-1l4.2 2.2z"/><path color="#70cf57" d="M1438.3 218.4l-4.1 1.2l2.1-2.2l4.2-1z"/><path color="#70cf57" d="M1457.6 222.2l-4.2-3.2l2.3 2.2l4.2 3.5z"/><path color="#89d548" d="M1444.6 216.9l-4.1-.5l2.2-1.8l4.2 1.3z"/><path color="#89d548" d="M1451.1 218.1l-4.2-2.2l2.2-.1l4.3 3.2z"/><path color="#95d840" d="M1440.5 216.4l-4.2 1l2.2-2.3l4.2-.5z"/><path color="#95d840" d="M1453.4 219l-4.3-3.2l2.4 1.8l4.2 3.6z"/><path color="#a8db34" d="M1446.9 215.9l-4.2-1.3l2.2-1.4l4.2 2.6z"/><path color="#c0df25" d="M1442.7 214.6l-4.2 .5l2.2-2.3l4.2 .4z"/><path color="#c0df25" d="M1449.1 215.8l-4.2-2.6l2.3 .8l4.3 3.6z"/><path color="#e2e418" d="M1444.9 213.2l-4.2-.4l2.2-2.4l4.3 3.6z"/></g>
<path class="a3" d="M1359.5 194L1352.1 100.3M1359.5 194L1441.5 306.8M1441.5 306.8L1593.4 239.7"/><path class="t3" d="M1352.5 187.4L1361 189M1349.4 147.4L1357.9 149M1346.1 105.2L1354.6 106.8M1357.9 201.1L1365.7 198M1589.8 246.6L1584.8 240.8M1393.7 250.6L1401.7 247.2M1522.2 276.6L1517.4 270.5M1431.9 303.5L1440.1 299.8M1452 307.6L1447.4 301.4"/>
<g class="d3"><circle cx="1367.8" cy="110.4" r="6.2"/><circle cx="1502.6" cy="58.6" r="6.2"/><circle cx="1584.9" cy="151.6" r="6.2"/><circle cx="1474.6" cy="130.6" r="6.2"/><circle cx="1422" cy="162.2" r="6.2"/><circle cx="1527.7" cy="182.7" r="6.2"/><circle cx="1443.8" cy="210.7" r="6.2"/><circle cx="1460.3" cy="210.7" r="6.2"/><circle cx="1408.5" cy="239" r="6.2"/><circle cx="1513.2" cy="260.1" r="6.2"/></g>
<text x="1335.3" y="122.9" text-anchor="end">1.0</text>
<text x="1340.8" y="163.9" text-anchor="end">0.5</text>
<text x="1346" y="202.7" text-anchor="end">0.0</text>
<text class="sf" x="1348" y="223" text-anchor="middle">-<tspan class="it">π</tspan></text>
<text class="sf" x="1384" y="272" text-anchor="middle">0</text>
<text class="sf" x="1419.7" y="321.5" text-anchor="middle"><tspan class="it">π</tspan></text>
<text class="sf" x="1462" y="332" text-anchor="middle"><tspan class="it">π</tspan></text>
<text class="sf" x="1529.6" y="302.5" text-anchor="middle">0</text>
<text class="sf" x="1594.8" y="269" text-anchor="middle">-<tspan class="it">π</tspan></text>
<text x="1852" y="66.3">Sr<tspan class="sb2" dy="6">5</tspan><tspan dy="-6">Ir</tspan><tspan class="sb2" dy="6">3</tspan><tspan dy="-6">O</tspan><tspan class="sb2" dy="6">11</tspan></text><path d="M1700.3 194.8L1845.1 136.6L1847 43.2L1692.9 101.1Z" fill="rgba(229,229,229,.5)"/><path d="M1845.1 136.6L1934.2 240.5L1942 146.8L1847 43.2Z" fill="rgba(242,242,242,.5)"/><path d="M1700.3 194.8L1782.3 307.6L1934.2 240.5L1845.1 136.6Z" fill="rgba(236,236,236,.5)"/><path class="g3" d="M1927.3 243.6L1838.5 139.3M1838.5 139.3L1840 45.8M1703.9 199.8L1849.1 141.2M1849.1 141.2L1851.2 47.7M1859.8 273.3L1774.1 165.2M1774.1 165.2L1771.5 71.5M1739.8 249.2L1888.1 186.8M1888.1 186.8L1892.7 93.1M1789.8 304.3L1707.4 192M1707.4 192L1700.5 98.3M1778.1 301.9L1929.7 235.3M1929.7 235.3L1937.2 141.5M1699.8 189.4L1845.3 131.2M1845.3 131.2L1934.6 235.1M1696.7 149.4L1846 91.3M1846 91.3L1938 195.1M1693.4 107.2L1846.9 49.2M1846.9 49.2L1941.5 152.9"/>
<g class="sf3"><path color="#39558c" d="M1814.1 142.2l-3.7 2.9l2.1 2.6l3.6-2.8z"/><path color="#32648e" d="M1817.7 139.2l-3.6 3l2 2.7l3.7-3.1z"/><path color="#404688" d="M1810.4 145.1l-3.6 2.8l2.1 2.6l3.6-2.8z"/><path color="#2c738e" d="M1821.3 135.9l-3.6 3.3l2.1 2.6l3.6-3.2z"/><path color="#453882" d="M1806.8 147.9l-3.6 2.6l2.1 2.6l3.6-2.6z"/><path color="#25858e" d="M1824.9 132.4l-3.6 3.5l2.1 2.7l3.6-3.5z"/><path color="#472a7a" d="M1803.2 150.5l-3.6 2.5l2.1 2.6l3.6-2.5z"/><path color="#481f70" d="M1799.6 153l-3.6 2.3l2 2.7l3.7-2.4z"/><path color="#1e9b8a" d="M1828.5 128.2l-3.6 4.2l2.1 2.7l3.6-4z"/><path color="#481467" d="M1796 155.3l-3.6 2.2l2 2.6l3.6-2.1z"/><path color="#33628d" d="M1819.8 141.8l-3.7 3.1l2.1 2.8l3.6-2.9z"/><path color="#3b528b" d="M1816.1 144.9l-3.6 2.8l2.1 2.9l3.6-2.9z"/><path color="#2d718e" d="M1823.4 138.6l-3.6 3.2l2 3l3.7-3.2z"/><path color="#414487" d="M1812.5 147.7l-3.6 2.8l2.1 2.8l3.6-2.7z"/><path color="#453581" d="M1808.9 150.5l-3.6 2.6l2.1 2.9l3.6-2.7z"/><path color="#26828e" d="M1827 135.1l-3.6 3.5l2.1 3l3.6-3.3z"/><path color="#460b5e" d="M1792.4 157.5l-3.7 2l2.1 2.6l3.6-2z"/><path color="#32b67a" d="M1832.1 123.2l-3.6 5l2.1 2.9l3.7-4.7z"/><path color="#482979" d="M1805.3 153.1l-3.6 2.5l2 2.8l3.7-2.4z"/><path color="#1f958b" d="M1830.6 131.1l-3.6 4l2.1 3.2l3.6-3.7z"/><path color="#481c6e" d="M1801.7 155.6l-3.7 2.4l2.1 2.8l3.6-2.4z"/><path color="#450559" d="M1788.7 159.5l-3.6 1.8l2 2.6l3.7-1.8z"/><path color="#365d8d" d="M1821.8 144.8l-3.6 2.9l2.1 3.2l3.7-2.9z"/><path color="#471365" d="M1798 158l-3.6 2.1l2.1 2.8l3.6-2.1z"/><path color="#2f6c8e" d="M1825.5 141.6l-3.7 3.2l2.2 3.2l3.6-3.1z"/><path color="#3d4e8a" d="M1818.2 147.7l-3.6 2.9l2.1 3.1l3.6-2.8z"/><path color="#27ad81" d="M1834.3 126.4l-3.7 4.7l2.1 3.5l3.7-4.1z"/><path color="#297b8e" d="M1829.1 138.3l-3.6 3.3l2.1 3.3l3.6-3.1z"/><path color="#423f85" d="M1814.6 150.6l-3.6 2.7l2.1 3.1l3.6-2.7z"/><path color="#46307e" d="M1811 153.3l-3.6 2.7l2 3l3.7-2.6z"/><path color="#228d8d" d="M1832.7 134.6l-3.6 3.7l2.1 3.5l3.6-3.3z"/><path color="#440154" d="M1785.1 161.3l-3.7 1.7l2.1 2.6l3.6-1.7z"/><path color="#460a5d" d="M1794.4 160.1l-3.6 2l2 2.8l3.7-2z"/><path color="#482475" d="M1807.4 156l-3.7 2.4l2.1 3l3.6-2.4z"/><path color="#7fd34e" d="M1835.8 116.8l-3.7 6.4l2.2 3.2l3.6-5.8z"/><path color="#1fa088" d="M1836.4 130.5l-3.7 4.1l2.1 3.9l3.7-3.5z"/><path color="#1e9b8a" d="M1851.4 132.4l-3.6 1.9l2.1 5l3.6-1.7z"/><path color="#48186a" d="M1803.7 158.4l-3.6 2.4l2.1 2.9l3.6-2.3z"/><path color="#25858e" d="M1853.5 137.6l-3.6 1.7l2.1 4.6l3.6-1.6z"/><path color="#32648e" d="M1827.6 144.9l-3.6 3.1l2.1 3.3l3.6-2.9z"/><path color="#32b67a" d="M1849.3 126.4l-3.6 2.1l2.1 5.8l3.6-1.9z"/><path color="#2c718e" d="M1831.2 141.8l-3.6 3.1l2.1 3.5l3.6-2.9z"/><path color="#39558c" d="M1824 148l-3.7 2.9l2.1 3.3l3.7-2.9z"/><path color="#450457" d="M1790.8 162.1l-3.7 1.8l2.1 2.8l3.6-1.8z"/><path color="#26818e" d="M1834.8 138.5l-3.6 3.3l2.1 3.7l3.6-3z"/><path color="#5cc863" d="M1837.9 120.6l-3.6 5.8l2.1 4.1l3.6-4.5z"/><path color="#404688" d="M1820.3 150.9l-3.6 2.8l2.1 3.2l3.6-2.7z"/><path color="#440154" d="M1781.4 163l-3.6 1.5l2 2.5l3.7-1.4z"/><path color="#21918c" d="M1838.5 135l-3.7 3.5l2.1 4l3.7-2.9z"/><path color="#32b67a" d="M1840 126l-3.6 4.5l2.1 4.5l3.6-3.4z"/><path color="#453882" d="M1816.7 153.7l-3.6 2.7l2.1 3.2l3.6-2.7z"/><path color="#470e61" d="M1800.1 160.8l-3.6 2.1l2 3l3.7-2.2z"/><path color="#2c738e" d="M1855.6 142.3l-3.6 1.6l2.1 4.3l3.6-1.6z"/><path color="#1f958b" d="M1847.8 134.3l-3.6 2.4l2.1 4.8l3.6-2.2z"/><path color="#1fa088" d="M1842.1 131.6l-3.6 3.4l2.1 4.6l3.6-2.9z"/><path color="#27ad81" d="M1845.7 128.5l-3.6 3.1l2.1 5.1l3.6-2.4z"/><path color="#472a7a" d="M1813.1 156.4l-3.7 2.6l2.1 3.1l3.7-2.5z"/><path color="#26828e" d="M1849.9 139.3l-3.6 2.2l2.1 4.4l3.6-2z"/><path color="#228d8d" d="M1844.2 136.7l-3.6 2.9l2.1 4.3l3.6-2.4z"/><path color="#481d6f" d="M1809.4 159l-3.6 2.4l2.1 3.2l3.6-2.5z"/><path color="#26818e" d="M1840.6 139.6l-3.7 2.9l2.2 4.1l3.6-2.7z"/><path color="#5cc863" d="M1843.7 121.7l-3.7 4.3l2.1 5.6l3.6-3.1z"/><path color="#450559" d="M1796.5 162.9l-3.7 2l2.1 2.9l3.6-1.9z"/><path color="#7fd34e" d="M1847.3 118.9l-3.6 2.8l2 6.8l3.6-2.1z"/><path color="#2b748e" d="M1836.9 142.5l-3.6 3l2.1 3.8l3.7-2.7z"/><path color="#32648e" d="M1857.7 146.6l-3.6 1.6l2.2 4.1l3.5-1.6z"/><path color="#440154" d="M1787.1 163.9l-3.6 1.7l2 2.4l3.7-1.3z"/><path color="#31678e" d="M1833.3 145.5l-3.6 2.9l2.1 3.7l3.6-2.8z"/><path color="#375a8c" d="M1829.7 148.4l-3.6 2.9l2.1 3.6l3.6-2.8z"/><path color="#2d718e" d="M1852 143.9l-3.6 2l2.1 4.2l3.6-1.9z"/><path color="#297b8e" d="M1846.3 141.5l-3.6 2.4l2.1 4.2l3.6-2.2z"/><path color="#3e4c8a" d="M1826.1 151.3l-3.7 2.9l2.1 3.4l3.7-2.7z"/><path color="#471164" d="M1805.8 161.4l-3.6 2.3l2.1 3.1l3.6-2.2z"/><path color="#440154" d="M1777.8 164.5l-3.7 1.4l2 2.6l3.7-1.5z"/><path color="#433e85" d="M1822.4 154.2l-3.6 2.7l2.1 3.4l3.6-2.7z"/><path color="#2c718e" d="M1842.7 143.9l-3.6 2.7l2.1 4l3.6-2.5z"/><path color="#472f7d" d="M1818.8 156.9l-3.6 2.7l2.1 3.3l3.6-2.6z"/><path color="#39558c" d="M1859.8 150.7l-3.5 1.6l2.1 4l3.6-1.6z"/><path color="#31678e" d="M1839.1 146.6l-3.7 2.7l2.1 3.9l3.7-2.6z"/><path color="#46075a" d="M1802.2 163.7l-3.7 2.2l2.1 2.9l3.7-2z"/><path color="#2f6c8e" d="M1848.4 145.9l-3.6 2.2l2.1 4.1l3.6-2.1z"/><path color="#482173" d="M1815.2 159.6l-3.7 2.5l2.1 3.3l3.7-2.5z"/><path color="#440256" d="M1792.8 164.9l-3.6 1.8l2 2.2l3.7-1.1z"/><path color="#33628d" d="M1854.1 148.2l-3.6 1.9l2.1 4.1l3.7-1.9z"/><path color="#365c8d" d="M1835.4 149.3l-3.6 2.8l2.1 3.7l3.6-2.6z"/><path color="#440154" d="M1783.5 165.6l-3.7 1.4l2.1 2.4l3.6-1.4z"/><path color="#3d4e8a" d="M1831.8 152.1l-3.6 2.8l2.1 3.6l3.6-2.7z"/><path color="#481467" d="M1811.5 162.1l-3.6 2.5l2.1 3.2l3.6-2.4z"/><path color="#32648e" d="M1844.8 148.1l-3.6 2.5l2.1 4l3.6-2.4z"/><path color="#424086" d="M1828.2 154.9l-3.7 2.7l2.1 3.6l3.7-2.7z"/><path color="#440154" d="M1774.1 165.9l-3.7 1.3l2.1 2.7l3.6-1.4z"/><path color="#46327e" d="M1824.5 157.6l-3.6 2.7l2.1 3.5l3.6-2.6z"/><path color="#365d8d" d="M1850.5 150.1l-3.6 2.1l2.1 4l3.6-2z"/><path color="#404688" d="M1862 154.7l-3.6 1.6l2.1 3.8l3.6-1.5z"/><path color="#3b528b" d="M1856.3 152.3l-3.7 1.9l2.2 3.9l3.6-1.8z"/><path color="#375a8c" d="M1841.2 150.6l-3.7 2.6l2.2 3.8l3.6-2.4z"/><path color="#440256" d="M1798.5 165.9l-3.6 1.9l2.1 2.1l3.6-1.1z"/><path color="#46085c" d="M1807.9 164.6l-3.6 2.2l2.1 3.1l3.6-2.1z"/><path color="#482475" d="M1820.9 160.3l-3.6 2.6l2.1 3.5l3.6-2.6z"/><path color="#3d4e8a" d="M1837.5 153.2l-3.6 2.6l2.1 3.8l3.7-2.6z"/><path color="#450457" d="M1789.2 166.7l-3.7 1.3l2.1 2.2l3.6-1.3z"/><path color="#481769" d="M1817.3 162.9l-3.7 2.5l2.1 3.4l3.7-2.4z"/><path color="#39558c" d="M1846.9 152.2l-3.6 2.4l2.1 3.9l3.6-2.3z"/><path color="#440154" d="M1779.8 167l-3.7 1.5l2.1 2.4l3.7-1.5z"/><path color="#424186" d="M1833.9 155.8l-3.6 2.7l2.1 3.7l3.6-2.6z"/><path color="#3d4e8a" d="M1852.6 154.2l-3.6 2l2.2 3.9l3.6-2z"/><path color="#463480" d="M1830.3 158.5l-3.7 2.7l2.2 3.6l3.6-2.6z"/><path color="#450457" d="M1804.3 166.8l-3.7 2l2.1 2.1l3.7-1z"/><path color="#460a5d" d="M1813.6 165.4l-3.6 2.4l2.1 3.2l3.6-2.2z"/><path color="#414487" d="M1858.4 156.3l-3.6 1.8l2.1 3.8l3.6-1.8z"/><path color="#3e4c8a" d="M1843.3 154.6l-3.6 2.4l2.1 3.9l3.6-2.4z"/><path color="#453882" d="M1864.1 158.6l-3.6 1.5l2.2 3.8l3.6-1.6z"/><path color="#450559" d="M1770.4 167.2l-3.7 1.2l2.1 2.6l3.7-1.1z"/><path color="#482677" d="M1826.6 161.2l-3.6 2.6l2.1 3.6l3.7-2.6z"/><path color="#450559" d="M1794.9 167.8l-3.7 1.1l2.1 2.1l3.7-1.1z"/><path color="#424086" d="M1839.7 157l-3.7 2.6l2.1 3.7l3.7-2.4z"/><path color="#48186a" d="M1823 163.8l-3.6 2.6l2.1 3.4l3.6-2.4z"/><path color="#404688" d="M1849 156.2l-3.6 2.3l2.1 3.8l3.7-2.2z"/><path color="#450559" d="M1785.5 168l-3.6 1.4l2 2.2l3.7-1.4z"/><path color="#463480" d="M1836 159.6l-3.6 2.6l2.1 3.7l3.6-2.6z"/><path color="#440154" d="M1776.1 168.5l-3.6 1.4l2 2.7l3.7-1.7z"/><path color="#423f85" d="M1854.8 158.1l-3.6 2l2.1 3.8l3.6-2z"/><path color="#450457" d="M1810 167.8l-3.6 2.1l2 2l3.7-.9z"/><path color="#460b5e" d="M1819.4 166.4l-3.7 2.4l2.1 3.3l3.7-2.3z"/><path color="#433e85" d="M1845.4 158.5l-3.6 2.4l2.1 3.7l3.6-2.3z"/><path color="#482677" d="M1832.4 162.2l-3.6 2.6l2.1 3.6l3.6-2.5z"/><path color="#453581" d="M1860.5 160.1l-3.6 1.8l2.2 3.8l3.6-1.8z"/><path color="#472a7a" d="M1866.3 162.3l-3.6 1.6l2.1 3.6l3.6-1.6z"/><path color="#46075a" d="M1800.6 168.8l-3.6 1.1l2 1.9l3.7-.9z"/><path color="#481a6c" d="M1828.8 164.8l-3.7 2.6l2.1 3.5l3.7-2.5z"/><path color="#46327e" d="M1841.8 160.9l-3.7 2.4l2.2 3.8l3.6-2.5z"/><path color="#453882" d="M1851.2 160.1l-3.7 2.2l2.2 3.8l3.6-2.2z"/><path color="#460b5e" d="M1766.7 168.4l-3.7 .9l2.1 2.7l3.7-1z"/><path color="#450559" d="M1815.7 168.8l-3.6 2.2l2.1 1.9l3.6-.8z"/><path color="#460a5d" d="M1791.2 168.9l-3.6 1.3l2 2.1l3.7-1.3z"/><path color="#460b5e" d="M1825.1 167.4l-3.6 2.4l2.1 3.4l3.6-2.3z"/><path color="#450559" d="M1781.9 169.4l-3.7 1.5l2 2.3l3.7-1.6z"/><path color="#482677" d="M1838.1 163.3l-3.6 2.6l2.1 3.6l3.7-2.4z"/><path color="#46307e" d="M1856.9 161.9l-3.6 2l2.1 3.7l3.7-1.9z"/><path color="#450457" d="M1772.5 169.9l-3.7 1.1l2 2.8l3.7-1.2z"/><path color="#472f7d" d="M1847.5 162.3l-3.6 2.3l2.1 3.8l3.7-2.3z"/><path color="#482979" d="M1862.7 163.9l-3.6 1.8l2.1 3.5l3.6-1.7z"/><path color="#481a6c" d="M1834.5 165.9l-3.6 2.5l2.1 3.6l3.6-2.5z"/><path color="#46085c" d="M1806.4 169.9l-3.7 1l2.1 1.8l3.6-.8z"/><path color="#481f70" d="M1868.4 165.9l-3.6 1.6l2.2 3.4l3.6-1.5z"/><path color="#482475" d="M1843.9 164.6l-3.6 2.5l2.1 3.6l3.6-2.3z"/><path color="#450559" d="M1821.5 169.8l-3.7 2.3l2.2 1.8l3.6-.7z"/><path color="#472a7a" d="M1853.3 163.9l-3.6 2.2l2.1 3.6l3.6-2.1z"/><path color="#470d60" d="M1830.9 168.4l-3.7 2.5l2.2 3.4l3.6-2.3z"/><path color="#470e61" d="M1797 169.9l-3.7 1.1l2.1 1.9l3.6-1.1z"/><path color="#450457" d="M1778.2 170.9l-3.7 1.7l2 2.3l3.7-1.7z"/><path color="#460b5e" d="M1787.6 170.2l-3.7 1.4l2 2.1l3.7-1.4z"/><path color="#48186a" d="M1840.3 167.1l-3.7 2.4l2.2 3.6l3.6-2.4z"/><path color="#482475" d="M1859.1 165.7l-3.7 1.9l2.2 3.6l3.6-2z"/><path color="#460a5d" d="M1812.1 171l-3.7 .9l2.1 1.7l3.7-.7z"/><path color="#482173" d="M1849.7 166.1l-3.7 2.3l2.2 3.6l3.6-2.3z"/><path color="#481467" d="M1763 169.3l-3.7 .8l2 2.6l3.8-.7z"/><path color="#450559" d="M1827.2 170.9l-3.6 2.3l2.1 1.8l3.7-.7z"/><path color="#460b5e" d="M1836.6 169.5l-3.6 2.5l2.1 3.4l3.7-2.3z"/><path color="#481c6e" d="M1864.8 167.5l-3.6 1.7l2.2 3.5l3.6-1.8z"/><path color="#460a5d" d="M1768.8 171l-3.7 1l2 2.8l3.7-1z"/><path color="#481769" d="M1846 168.4l-3.6 2.3l2.1 3.6l3.7-2.3z"/><path color="#481d6f" d="M1855.4 167.6l-3.6 2.1l2.2 3.6l3.6-2.1z"/><path color="#471164" d="M1802.7 170.9l-3.7 .9l2.1 1.8l3.7-.9z"/><path color="#481467" d="M1870.6 169.4l-3.6 1.5l2.2 3.3l3.6-1.6z"/><path color="#440256" d="M1774.5 172.6l-3.7 1.2l2 2.9l3.7-1.8z"/><path color="#460b5e" d="M1817.8 172.1l-3.6 .8l2.1 1.6l3.7-.6z"/><path color="#460b5e" d="M1783.9 171.6l-3.7 1.6l2.1 2l3.6-1.5z"/><path color="#471365" d="M1793.3 171l-3.7 1.3l2.1 1.8l3.7-1.2z"/><path color="#460b5e" d="M1842.4 170.7l-3.6 2.4l2.1 3.4l3.6-2.2z"/><path color="#450559" d="M1833 172l-3.6 2.3l2.1 1.8l3.6-.7z"/><path color="#48186a" d="M1861.2 169.2l-3.6 2l2.2 3.4l3.6-1.9z"/><path color="#481467" d="M1851.8 169.7l-3.6 2.3l2.1 3.4l3.7-2.1z"/><path color="#481467" d="M1808.4 171.9l-3.6 .8l2.1 1.6l3.6-.7z"/><path color="#471365" d="M1867 170.9l-3.6 1.8l2.1 3.3l3.7-1.8z"/><path color="#460b5e" d="M1823.6 173.2l-3.6 .7l2.1 1.6l3.6-.5z"/><path color="#481f70" d="M1759.3 170.1l-3.7 .6l2 2.7l3.7-.7z"/><path color="#460a5d" d="M1848.2 172l-3.7 2.3l2.2 3.3l3.6-2.2z"/><path color="#450559" d="M1838.8 173.1l-3.7 2.3l2.2 1.8l3.6-.7z"/><path color="#471365" d="M1765.1 172l-3.8 .7l2.1 2.9l3.7-.8z"/><path color="#471164" d="M1857.6 171.2l-3.6 2.1l2.1 3.3l3.7-2z"/><path color="#460a5d" d="M1780.2 173.2l-3.7 1.7l2.1 2.1l3.7-1.8z"/><path color="#450559" d="M1770.8 173.8l-3.7 1l2 3l3.7-1.1z"/><path color="#460b5e" d="M1872.8 172.6l-3.6 1.6l2.1 3.1l3.7-1.5z"/><path color="#48186a" d="M1799 171.8l-3.6 1.1l2 1.7l3.7-1z"/><path color="#481467" d="M1789.6 172.3l-3.7 1.4l2.1 1.8l3.7-1.4z"/><path color="#470e61" d="M1863.4 172.7l-3.6 1.9l2.1 3.2l3.6-1.8z"/><path color="#470d60" d="M1829.4 174.3l-3.7 .7l2.2 1.6l3.6-.5z"/><path color="#46085c" d="M1854 173.3l-3.7 2.1l2.2 3.3l3.6-2.1z"/><path color="#481769" d="M1814.2 172.9l-3.7 .7l2.1 1.5l3.7-.6z"/><path color="#450559" d="M1844.5 174.3l-3.6 2.2l2.2 1.8l3.6-.7z"/><path color="#450559" d="M1776.5 174.9l-3.7 1.8l2.1 2.2l3.7-1.9z"/><path color="#460a5d" d="M1869.2 174.2l-3.7 1.8l2.2 3.1l3.6-1.8z"/><path color="#481d6f" d="M1804.8 172.7l-3.7 .9l2.1 1.6l3.7-.9z"/><path color="#46075a" d="M1859.8 174.6l-3.7 2l2.2 3.2l3.6-2z"/><path color="#460b5e" d="M1835.1 175.4l-3.6 .7l2.2 1.6l3.6-.5z"/><path color="#481467" d="M1785.9 173.7l-3.6 1.5l2 1.9l3.7-1.6z"/><path color="#450457" d="M1850.3 175.4l-3.6 2.2l2.2 1.9l3.6-.8z"/><path color="#48186a" d="M1820 173.9l-3.7 .6l2.1 1.5l3.7-.5z"/><path color="#481c6e" d="M1795.4 172.9l-3.7 1.2l2 1.7l3.7-1.2z"/><path color="#470e61" d="M1767.1 174.8l-3.7 .8l2 3l3.7-.8z"/><path color="#481c6e" d="M1761.3 172.7l-3.7 .7l2 2.8l3.8-.6z"/><path color="#472a7a" d="M1755.6 170.7l-3.8 .4l2 2.7l3.8-.4z"/><path color="#450559" d="M1875 175.8l-3.7 1.5l2.3 3l3.6-1.6z"/><path color="#440256" d="M1772.8 176.7l-3.7 1.1l2.1 3l3.7-1.9z"/><path color="#450559" d="M1865.5 176l-3.6 1.8l2.2 3.1l3.6-1.8z"/><path color="#460b5e" d="M1840.9 176.5l-3.6 .7l2.2 1.7l3.6-.6z"/><path color="#450457" d="M1856.1 176.6l-3.6 2.1l2.2 2l3.6-.9z"/><path color="#482173" d="M1810.5 173.6l-3.6 .7l2.1 1.5l3.6-.7z"/><path color="#471365" d="M1782.3 175.2l-3.7 1.8l2 1.9l3.7-1.8z"/><path color="#481a6c" d="M1825.7 175l-3.6 .5l2.1 1.5l3.7-.4z"/><path color="#450457" d="M1871.3 177.3l-3.6 1.8l2.2 2.9l3.7-1.7z"/><path color="#482475" d="M1801.1 173.6l-3.7 1l2.1 1.6l3.7-1z"/><path color="#481f70" d="M1791.7 174.1l-3.7 1.4l2 1.8l3.7-1.5z"/><path color="#460a5d" d="M1846.7 177.6l-3.6 .7l2.2 1.9l3.6-.7z"/><path color="#440256" d="M1861.9 177.8l-3.6 2l2.2 2.1l3.6-1z"/><path color="#481a6c" d="M1831.5 176.1l-3.6 .5l2.1 1.5l3.7-.4z"/><path color="#46075a" d="M1769.1 177.8l-3.7 .8l2 3.2l3.8-1z"/><path color="#470e61" d="M1778.6 177l-3.7 1.9l2 1.9l3.7-1.9z"/><path color="#48186a" d="M1763.4 175.6l-3.8 .6l2 3.1l3.8-.7z"/><path color="#482475" d="M1816.3 174.5l-3.7 .6l2.1 1.5l3.7-.6z"/><path color="#482979" d="M1757.6 173.4l-3.8 .4l2 2.9l3.8-.5z"/><path color="#440154" d="M1877.2 178.7l-3.6 1.6l2.2 2.8l3.6-1.6z"/><path color="#453882" d="M1751.8 171.1l-3.8 .3l2 2.7l3.8-.3z"/><path color="#46085c" d="M1852.5 178.7l-3.6 .8l2.2 2l3.6-.8z"/><path color="#440256" d="M1867.7 179.1l-3.6 1.8l2.2 2.3l3.6-1.2z"/><path color="#481f70" d="M1788 175.5l-3.7 1.6l2 1.8l3.7-1.6z"/><path color="#472a7a" d="M1806.9 174.3l-3.7 .9l2.1 1.5l3.7-.9z"/><path color="#48186a" d="M1837.3 177.2l-3.6 .5l2.1 1.6l3.7-.4z"/><path color="#46075a" d="M1774.9 178.9l-3.7 1.9l2 2.1l3.7-2.1z"/><path color="#482979" d="M1797.4 174.6l-3.7 1.2l2.1 1.6l3.7-1.2z"/><path color="#482677" d="M1822.1 175.5l-3.7 .5l2.1 1.5l3.7-.5z"/><path color="#46075a" d="M1858.3 179.8l-3.6 .9l2.2 2.1l3.6-.9z"/><path color="#440154" d="M1873.6 180.3l-3.7 1.7l2.3 2.4l3.6-1.3z"/><path color="#481769" d="M1843.1 178.3l-3.6 .6l2.1 1.7l3.7-.4z"/><path color="#471164" d="M1765.4 178.6l-3.8 .7l2.1 3.2l3.7-.7z"/><path color="#481c6e" d="M1784.3 177.1l-3.7 1.8l2 1.7l3.7-1.7z"/><path color="#450457" d="M1771.2 180.8l-3.8 1l2.1 3.1l3.7-2z"/><path color="#482475" d="M1759.6 176.2l-3.8 .5l2.1 3.1l3.7-.5z"/><path color="#472f7d" d="M1812.6 175.1l-3.6 .7l2.1 1.4l3.6-.6z"/><path color="#450559" d="M1864.1 180.9l-3.6 1l2.2 2.3l3.6-1z"/><path color="#482677" d="M1827.9 176.6l-3.7 .4l2.2 1.5l3.6-.4z"/><path color="#440154" d="M1879.4 181.5l-3.6 1.6l2.2 2.5l3.6-1.4z"/><path color="#481467" d="M1848.9 179.5l-3.6 .7l2.2 1.8l3.6-.5z"/><path color="#453581" d="M1753.8 173.8l-3.8 .3l2.1 3l3.7-.4z"/><path color="#472a7a" d="M1793.7 175.8l-3.7 1.5l2.1 1.5l3.7-1.4z"/><path color="#46307e" d="M1803.2 175.2l-3.7 1l2.1 1.5l3.7-1z"/><path color="#404688" d="M1748 171.4l-3.8 .2l2 2.7l3.8-.2z"/><path color="#48186a" d="M1780.6 178.9l-3.7 1.9l2 1.8l3.7-2z"/><path color="#450457" d="M1869.9 182l-3.6 1.2l2.2 2.4l3.7-1.2z"/><path color="#482677" d="M1833.7 177.7l-3.7 .4l2.2 1.6l3.6-.4z"/><path color="#471164" d="M1854.7 180.7l-3.6 .8l2.2 2l3.6-.7z"/><path color="#46327e" d="M1818.4 176l-3.7 .6l2.2 1.4l3.6-.5z"/><path color="#46085c" d="M1767.4 181.8l-3.7 .7l2.1 3.3l3.7-.9z"/><path color="#471164" d="M1776.9 180.8l-3.7 2.1l2 1.8l3.7-2.1z"/><path color="#440154" d="M1875.8 183.1l-3.6 1.3l2.2 2.6l3.6-1.4z"/><path color="#472a7a" d="M1790 177.3l-3.7 1.6l2.1 1.5l3.7-1.6z"/><path color="#482475" d="M1839.5 178.9l-3.7 .4l2.2 1.7l3.6-.4z"/><path color="#481d6f" d="M1761.6 179.3l-3.7 .5l2 3.3l3.8-.6z"/><path color="#470e61" d="M1860.5 181.9l-3.6 .9l2.2 2.2l3.6-.8z"/><path color="#453882" d="M1809 175.8l-3.7 .9l2.1 1.3l3.7-.8z"/><path color="#453581" d="M1799.5 176.2l-3.7 1.2l2.1 1.5l3.7-1.2z"/><path color="#46307e" d="M1755.8 176.7l-3.7 .4l2 3.1l3.8-.4z"/><path color="#463480" d="M1824.2 177l-3.7 .5l2.2 1.4l3.7-.4z"/><path color="#46085c" d="M1773.2 182.9l-3.7 2l2 2l3.7-2.2z"/><path color="#482173" d="M1845.3 180.2l-3.7 .4l2.2 1.9l3.7-.5z"/><path color="#460a5d" d="M1866.3 183.2l-3.6 1l2.2 2.4l3.6-1z"/><path color="#440154" d="M1881.6 184.2l-3.6 1.4l2.2 2.7l3.6-1.5z"/><path color="#414487" d="M1750 174.1l-3.8 .2l2 3l3.9-.2z"/><path color="#482979" d="M1786.3 178.9l-3.7 1.7l2.1 1.6l3.7-1.8z"/><path color="#39558c" d="M1744.2 171.6l-3.8 .1l2 2.7l3.8-.1z"/><path color="#481d6f" d="M1851.1 181.5l-3.6 .5l2.2 2l3.6-.5z"/><path color="#450559" d="M1872.2 184.4l-3.7 1.2l2.3 2.5l3.6-1.1z"/><path color="#463480" d="M1830 178.1l-3.6 .4l2.1 1.5l3.7-.3z"/><path color="#433e85" d="M1814.7 176.6l-3.6 .6l2.1 1.4l3.7-.6z"/><path color="#450457" d="M1769.5 184.9l-3.7 .9l2 3.3l3.7-2.2z"/><path color="#481467" d="M1763.7 182.5l-3.8 .6l2.1 3.3l3.8-.6z"/><path color="#453882" d="M1795.8 177.4l-3.7 1.4l2.1 1.5l3.7-1.4z"/><path color="#48186a" d="M1856.9 182.8l-3.6 .7l2.2 2.2l3.6-.7z"/><path color="#423f85" d="M1805.3 176.7l-3.7 1l2.1 1.3l3.7-1z"/><path color="#482475" d="M1782.6 180.6l-3.7 2l2.1 1.6l3.7-2z"/><path color="#440154" d="M1878 185.6l-3.6 1.4l2.2 2.7l3.6-1.4z"/><path color="#472a7a" d="M1757.9 179.8l-3.8 .4l2 3.3l3.8-.4z"/><path color="#46327e" d="M1835.8 179.3l-3.6 .4l2.1 1.6l3.7-.3z"/><path color="#471365" d="M1862.7 184.2l-3.6 .8l2.2 2.4l3.6-.8z"/><path color="#424086" d="M1820.5 177.5l-3.6 .5l2.1 1.3l3.7-.4z"/><path color="#423f85" d="M1752.1 177.1l-3.9 .2l2.1 3.2l3.8-.3z"/><path color="#481d6f" d="M1778.9 182.6l-3.7 2.1l2.1 1.7l3.7-2.2z"/><path color="#472f7d" d="M1841.6 180.6l-3.6 .4l2.2 1.8l3.6-.3z"/><path color="#440154" d="M1883.8 186.8l-3.6 1.5l2.3 2.5l3.6-1.6z"/><path color="#460b5e" d="M1868.5 185.6l-3.6 1l2.3 2.5l3.6-1z"/><path color="#453882" d="M1792.1 178.8l-3.7 1.6l2.1 1.5l3.7-1.6z"/><path color="#460a5d" d="M1765.8 185.8l-3.8 .6l2.1 3.5l3.7-.8z"/><path color="#3b528b" d="M1746.2 174.3l-3.8 .1l2 3l3.8-.1z"/><path color="#404688" d="M1811.1 177.2l-3.7 .8l2.1 1.3l3.7-.7z"/><path color="#472a7a" d="M1847.5 182l-3.7 .5l2.2 1.9l3.7-.4z"/><path color="#481467" d="M1775.2 184.7l-3.7 2.2l2.1 1.8l3.7-2.3z"/><path color="#414487" d="M1801.6 177.7l-3.7 1.2l2.1 1.3l3.7-1.2z"/><path color="#450559" d="M1874.4 187l-3.6 1.1l2.2 2.8l3.6-1.2z"/><path color="#424186" d="M1826.4 178.5l-3.7 .4l2.1 1.4l3.7-.3z"/><path color="#482173" d="M1759.9 183.1l-3.8 .4l2.1 3.4l3.8-.5z"/><path color="#32648e" d="M1740.4 171.7l-3.9-.1l2.1 2.7l3.8 .1z"/><path color="#482475" d="M1853.3 183.5l-3.6 .5l2.2 2.2l3.6-.5z"/><path color="#453581" d="M1788.4 180.4l-3.7 1.8l2 1.5l3.8-1.8z"/><path color="#460a5d" d="M1771.5 186.9l-3.7 2.2l2 1.9l3.8-2.3z"/><path color="#440154" d="M1880.2 188.3l-3.6 1.4l2.2 2.8l3.7-1.7z"/><path color="#453882" d="M1754.1 180.2l-3.8 .3l2 3.3l3.8-.3z"/><path color="#481c6e" d="M1859.1 185l-3.6 .7l2.2 2.3l3.6-.6z"/><path color="#424086" d="M1832.2 179.7l-3.7 .3l2.2 1.5l3.6-.2z"/><path color="#3e4c8a" d="M1816.9 178l-3.7 .6l2.1 1.2l3.7-.5z"/><path color="#481467" d="M1864.9 186.6l-3.6 .8l2.2 2.5l3.7-.8z"/><path color="#404688" d="M1797.9 178.9l-3.7 1.4l2.1 1.3l3.7-1.4z"/><path color="#46307e" d="M1784.7 182.2l-3.7 2l2 1.5l3.7-2z"/><path color="#3d4e8a" d="M1748.2 177.3l-3.8 .1l2.1 3.2l3.8-.1z"/><path color="#450559" d="M1767.8 189.1l-3.7 .8l2 3.3l3.7-2.2z"/><path color="#433e85" d="M1838 181l-3.7 .3l2.2 1.7l3.7-.2z"/><path color="#460b5e" d="M1870.8 188.1l-3.6 1l2.2 2.8l3.6-1z"/><path color="#481769" d="M1762 186.4l-3.8 .5l2.1 3.5l3.8-.5z"/><path color="#3d4e8a" d="M1807.4 178l-3.7 1l2.1 1.2l3.7-.9z"/><path color="#450559" d="M1886.1 189.2l-3.6 1.6l2.3 2.3l3.6-1.6z"/><path color="#450457" d="M1876.6 189.7l-3.6 1.2l2.2 2.8l3.6-1.2z"/><path color="#453882" d="M1843.8 182.5l-3.6 .3l2.2 1.9l3.6-.3z"/><path color="#33628d" d="M1742.4 174.4l-3.8-.1l2 3.1l3.8 0z"/><path color="#472a7a" d="M1781 184.2l-3.7 2.2l2 1.5l3.7-2.2z"/><path color="#3d4e8a" d="M1822.7 178.9l-3.7 .4l2.2 1.3l3.6-.3z"/><path color="#472f7d" d="M1756.1 183.5l-3.8 .3l2.1 3.5l3.8-.4z"/><path color="#46307e" d="M1849.7 184l-3.7 .4l2.2 2.1l3.7-.3z"/><path color="#404688" d="M1794.2 180.3l-3.7 1.6l2 1.3l3.8-1.6z"/><path color="#482979" d="M1855.5 185.7l-3.6 .5l2.2 2.3l3.6-.5z"/><path color="#482173" d="M1777.3 186.4l-3.7 2.3l2 1.6l3.7-2.4z"/><path color="#2c738e" d="M1736.5 171.6l-3.8-.3l2 2.8l3.9 .2z"/><path color="#450457" d="M1882.5 190.8l-3.7 1.7l2.3 2.3l3.7-1.7z"/><path color="#404688" d="M1750.3 180.5l-3.8 .1l2 3.4l3.8-.2z"/><path color="#460b5e" d="M1764.1 189.9l-3.8 .5l2 3.6l3.8-.8z"/><path color="#481f70" d="M1861.3 187.4l-3.6 .6l2.2 2.6l3.6-.7z"/><path color="#39558c" d="M1813.2 178.6l-3.7 .7l2.1 1.2l3.7-.7z"/><path color="#3d4e8a" d="M1828.5 180l-3.7 .3l2.2 1.4l3.7-.2z"/><path color="#3b528b" d="M1803.7 179l-3.7 1.2l2.1 1.2l3.7-1.2z"/><path color="#481467" d="M1867.2 189.1l-3.7 .8l2.3 2.8l3.6-.8z"/><path color="#481769" d="M1773.6 188.7l-3.8 2.3l2.1 1.7l3.7-2.4z"/><path color="#460a5d" d="M1873 190.9l-3.6 1l2.2 2.9l3.6-1.1z"/><path color="#414487" d="M1790.5 181.9l-3.8 1.8l2.1 1.4l3.7-1.9z"/><path color="#482475" d="M1758.2 186.9l-3.8 .4l2.1 3.6l3.8-.5z"/><path color="#3e4c8a" d="M1834.3 181.3l-3.6 .2l2.2 1.7l3.6-.2z"/><path color="#365d8d" d="M1744.4 177.4l-3.8 0l2 3.3l3.9-.1z"/><path color="#460b5e" d="M1769.8 191l-3.7 2.2l2 1.9l3.8-2.4z"/><path color="#440256" d="M1878.8 192.5l-3.6 1.2l2.3 3l3.6-1.9z"/><path color="#460b5e" d="M1888.4 191.5l-3.6 1.6l2.2 2.1l3.7-1.6z"/><path color="#404688" d="M1840.2 182.8l-3.7 .2l2.2 1.9l3.7-.2z"/><path color="#375a8c" d="M1819 179.3l-3.7 .5l2.2 1.2l3.7-.4z"/><path color="#433e85" d="M1752.3 183.8l-3.8 .2l2.1 3.6l3.8-.3z"/><path color="#423f85" d="M1786.7 183.7l-3.7 2l2.1 1.4l3.7-2z"/><path color="#39558c" d="M1800 180.2l-3.7 1.4l2 1.2l3.8-1.4z"/><path color="#423f85" d="M1846 184.4l-3.6 .3l2.2 2.1l3.6-.3z"/><path color="#2d718e" d="M1738.6 174.3l-3.9-.2l2 3.1l3.9 .2z"/><path color="#450559" d="M1766.1 193.2l-3.8 .8l2.1 3.4l3.7-2.3z"/><path color="#365d8d" d="M1809.5 179.3l-3.7 .9l2.1 1.1l3.7-.8z"/><path color="#453581" d="M1851.9 186.2l-3.7 .3l2.2 2.4l3.7-.4z"/><path color="#48186a" d="M1760.3 190.4l-3.8 .5l2 3.6l3.8-.5z"/><path color="#472a7a" d="M1857.7 188l-3.6 .5l2.2 2.6l3.6-.5z"/><path color="#481f70" d="M1863.5 189.9l-3.6 .7l2.2 2.7l3.7-.6z"/><path color="#453882" d="M1783 185.7l-3.7 2.2l2.1 1.5l3.7-2.3z"/><path color="#471365" d="M1869.4 191.9l-3.6 .8l2.2 2.9l3.6-.8z"/><path color="#460a5d" d="M1884.8 193.1l-3.7 1.7l2.3 2.2l3.6-1.8z"/><path color="#39558c" d="M1746.5 180.6l-3.9 .1l2.1 3.5l3.8-.2z"/><path color="#365c8d" d="M1824.8 180.3l-3.6 .3l2.1 1.3l3.7-.2z"/><path color="#450559" d="M1875.2 193.7l-3.6 1.1l2.2 3l3.7-1.1z"/><path color="#25858e" d="M1732.7 171.3l-3.9-.7l2 2.9l3.9 .6z"/><path color="#46327e" d="M1754.4 187.3l-3.8 .3l2 3.7l3.9-.4z"/><path color="#39558c" d="M1796.3 181.6l-3.8 1.6l2.1 1.2l3.7-1.6z"/><path color="#472f7d" d="M1779.3 187.9l-3.7 2.4l2 1.5l3.8-2.4z"/><path color="#375a8c" d="M1830.7 181.5l-3.7 .2l2.2 1.6l3.7-.1z"/><path color="#2f6c8e" d="M1740.6 177.4l-3.9-.2l2.1 3.5l3.8 0z"/><path color="#450559" d="M1881.1 194.8l-3.6 1.9l2.2 2.2l3.7-1.9z"/><path color="#482475" d="M1775.6 190.3l-3.7 2.4l2 1.6l3.7-2.5z"/><path color="#32648e" d="M1815.3 179.8l-3.7 .7l2.1 1.1l3.8-.6z"/><path color="#460b5e" d="M1762.3 194l-3.8 .5l2.1 3.7l3.8-.8z"/><path color="#33628d" d="M1805.8 180.2l-3.7 1.2l2.1 1l3.7-1.1z"/><path color="#39558c" d="M1836.5 183l-3.6 .2l2.1 1.7l3.7 0z"/><path color="#3e4c8a" d="M1748.5 184l-3.8 .2l2 3.6l3.9-.2z"/><path color="#48186a" d="M1771.9 192.7l-3.8 2.4l2.1 1.7l3.7-2.5z"/><path color="#3b528b" d="M1792.5 183.2l-3.7 1.9l2.1 1.2l3.7-1.9z"/><path color="#481467" d="M1890.7 193.6l-3.7 1.6l2.3 2l3.7-1.7z"/><path color="#3d4e8a" d="M1842.4 184.7l-3.7 .2l2.2 2l3.7-.1z"/><path color="#470e61" d="M1871.6 194.8l-3.6 .8l2.2 3.1l3.6-.9z"/><path color="#414487" d="M1848.2 186.5l-3.6 .3l2.2 2.3l3.6-.2z"/><path color="#482677" d="M1756.5 190.9l-3.9 .4l2.1 3.7l3.8-.5z"/><path color="#481c6e" d="M1865.8 192.7l-3.7 .6l2.2 3l3.7-.7z"/><path color="#472a7a" d="M1859.9 190.6l-3.6 .5l2.2 2.7l3.6-.5z"/><path color="#453882" d="M1854.1 188.5l-3.7 .4l2.2 2.5l3.7-.3z"/><path color="#460b5e" d="M1768.1 195.1l-3.7 2.3l2 1.9l3.8-2.5z"/><path color="#440256" d="M1877.5 196.7l-3.7 1.1l2.3 3.1l3.6-2z"/><path color="#26828e" d="M1734.7 174.1l-3.9-.6l2 3.3l3.9 .4z"/><path color="#31678e" d="M1821.2 180.6l-3.7 .4l2.1 1.2l3.7-.3z"/><path color="#3d4e8a" d="M1788.8 185.1l-3.7 2l2 1.3l3.8-2.1z"/><path color="#32648e" d="M1742.6 180.7l-3.8 0l2 3.6l3.9-.1z"/><path color="#471365" d="M1887 195.2l-3.6 1.8l2.3 2l3.6-1.8z"/><path color="#32648e" d="M1802.1 181.4l-3.8 1.4l2.1 1l3.8-1.4z"/><path color="#424086" d="M1750.6 187.6l-3.9 .2l2.1 3.8l3.8-.3z"/><path color="#450559" d="M1764.4 197.4l-3.8 .8l2.1 3.4l3.7-2.3z"/><path color="#2f6c8e" d="M1811.6 180.5l-3.7 .8l2.1 1l3.7-.7z"/><path color="#404688" d="M1785.1 187.1l-3.7 2.3l2 1.4l3.7-2.4z"/><path color="#481a6c" d="M1758.5 194.5l-3.8 .5l2.1 3.7l3.8-.5z"/><path color="#31678e" d="M1827 181.7l-3.7 .2l2.2 1.4l3.7 0z"/><path color="#1e9b8a" d="M1728.8 170.6l-4-1.1l2 3l4 1z"/><path color="#46075a" d="M1873.8 197.8l-3.6 .9l2.2 3.2l3.7-1z"/><path color="#470e61" d="M1883.4 197l-3.7 1.9l2.3 2.1l3.7-2z"/><path color="#297b8e" d="M1736.7 177.2l-3.9-.4l2.1 3.7l3.9 .2z"/><path color="#433e85" d="M1781.4 189.4l-3.8 2.4l2.1 1.4l3.7-2.4z"/><path color="#48186a" d="M1868 195.6l-3.7 .7l2.3 3.1l3.6-.7z"/><path color="#32648e" d="M1832.9 183.2l-3.7 .1l2.2 1.6l3.6 0z"/><path color="#375a8c" d="M1744.7 184.2l-3.9 .1l2.1 3.8l3.8-.3z"/><path color="#482979" d="M1862.1 193.3l-3.6 .5l2.2 3l3.6-.5z"/><path color="#32648e" d="M1798.3 182.8l-3.7 1.6l2.1 1.1l3.7-1.7z"/><path color="#463480" d="M1752.6 191.3l-3.8 .3l2.1 3.8l3.8-.4z"/><path color="#453882" d="M1856.3 191.1l-3.7 .3l2.2 2.8l3.7-.4z"/><path color="#365d8d" d="M1838.7 184.9l-3.7 0l2.2 2l3.7 0z"/><path color="#46327e" d="M1777.6 191.8l-3.7 2.5l2 1.5l3.8-2.6z"/><path color="#404688" d="M1850.4 188.9l-3.6 .2l2.2 2.6l3.6-.3z"/><path color="#3b528b" d="M1844.6 186.8l-3.7 .1l2.2 2.3l3.7-.1z"/><path color="#481f70" d="M1893 195.5l-3.7 1.7l2.4 1.8l3.6-1.7z"/><path color="#2c718e" d="M1817.5 181l-3.8 .6l2.2 .9l3.7-.3z"/><path color="#470d60" d="M1760.6 198.2l-3.8 .5l2.1 3.7l3.8-.8z"/><path color="#46075a" d="M1879.7 198.9l-3.6 2l2.2 2.1l3.7-2z"/><path color="#482677" d="M1773.9 194.3l-3.7 2.5l2 1.6l3.7-2.6z"/><path color="#2d718e" d="M1807.9 181.3l-3.7 1.1l2.1 .9l3.7-1z"/><path color="#33628d" d="M1794.6 184.4l-3.7 1.9l2.1 1.2l3.7-2z"/><path color="#481a6c" d="M1770.2 196.8l-3.8 2.5l2.1 1.7l3.7-2.6z"/><path color="#2c718e" d="M1738.8 180.7l-3.9-.2l2 3.8l3.9 0z"/><path color="#3d4e8a" d="M1746.7 187.8l-3.8 .3l2.1 3.8l3.8-.3z"/><path color="#1f958b" d="M1730.8 173.5l-4-1l2.1 3.6l3.9 .7z"/><path color="#482677" d="M1754.7 195l-3.8 .4l2.1 3.8l3.8-.5z"/><path color="#470d60" d="M1766.4 199.3l-3.7 2.3l2 1.9l3.8-2.5z"/><path color="#471164" d="M1870.2 198.7l-3.6 .7l2.2 3.3l3.6-.8z"/><path color="#481c6e" d="M1889.3 197.2l-3.6 1.8l2.3 1.8l3.7-1.8z"/><path color="#450457" d="M1876.1 200.9l-3.7 1l2.3 3.2l3.6-2.1z"/><path color="#2b748e" d="M1823.3 181.9l-3.7 .3l2.2 1.1l3.7 0z"/><path color="#482475" d="M1864.3 196.3l-3.6 .5l2.2 3.2l3.7-.6z"/><path color="#365d8d" d="M1790.9 186.3l-3.8 2.1l2.1 1.3l3.8-2.2z"/><path color="#453581" d="M1858.5 193.8l-3.7 .4l2.3 3l3.6-.4z"/><path color="#31678e" d="M1740.8 184.3l-3.9 0l2.1 4l3.9-.2z"/><path color="#2c738e" d="M1804.2 182.4l-3.8 1.4l2.1 .9l3.8-1.4z"/><path color="#424186" d="M1748.8 191.6l-3.8 .3l2.1 3.9l3.8-.4z"/><path color="#450559" d="M1762.7 201.6l-3.8 .8l2.1 3.5l3.7-2.4z"/><path color="#2c718e" d="M1829.2 183.3l-3.7 0l2.2 1.5l3.7 .1z"/><path color="#404688" d="M1852.6 191.4l-3.6 .3l2.2 2.7l3.6-.2z"/><path color="#39558c" d="M1787.1 188.4l-3.7 2.4l2.1 1.3l3.7-2.4z"/><path color="#48186a" d="M1885.7 199l-3.7 2l2.3 1.8l3.7-2z"/><path color="#228d8d" d="M1732.8 176.8l-3.9-.7l2 4.1l4 .3z"/><path color="#481a6c" d="M1756.8 198.7l-3.8 .5l2.1 3.8l3.8-.6z"/><path color="#297b8e" d="M1813.7 181.6l-3.7 .7l2.2 .7l3.7-.5z"/><path color="#39558c" d="M1846.8 189.1l-3.7 .1l2.2 2.6l3.7-.1z"/><path color="#2f6c8e" d="M1835 184.9l-3.6 0l2.2 1.9l3.6 .1z"/><path color="#33628d" d="M1840.9 186.9l-3.7 0l2.2 2.3l3.7 0z"/><path color="#3e4c8a" d="M1783.4 190.8l-3.7 2.4l2 1.4l3.8-2.5z"/><path color="#46085c" d="M1872.4 201.9l-3.6 .8l2.2 3.3l3.7-.9z"/><path color="#32b67a" d="M1724.8 169.5l-4-2.1l2 3.3l4 1.8z"/><path color="#471164" d="M1882 201l-3.7 2l2.3 2l3.7-2.2z"/><path color="#424086" d="M1779.7 193.2l-3.8 2.6l2.1 1.4l3.7-2.6z"/><path color="#365c8d" d="M1742.9 188.1l-3.9 .2l2.1 4l3.9-.4z"/><path color="#472a7a" d="M1895.3 197.3l-3.6 1.7l2.3 1.6l3.7-1.6z"/><path color="#481d6f" d="M1866.6 199.4l-3.7 .6l2.2 3.3l3.7-.6z"/><path color="#463480" d="M1750.9 195.4l-3.8 .4l2 3.9l3.9-.5z"/><path color="#2c738e" d="M1800.4 183.8l-3.7 1.7l2.1 .9l3.7-1.7z"/><path color="#26818e" d="M1734.9 180.5l-4-.3l2.1 4.1l3.9 0z"/><path color="#463480" d="M1775.9 195.8l-3.7 2.6l2.1 1.5l3.7-2.7z"/><path color="#46307e" d="M1860.7 196.8l-3.6 .4l2.2 3.2l3.6-.4z"/><path color="#460b5e" d="M1758.9 202.4l-3.8 .6l2.1 3.7l3.8-.8z"/><path color="#26818e" d="M1819.6 182.2l-3.7 .3l2.2 .8l3.7 0z"/><path color="#482677" d="M1772.2 198.4l-3.7 2.6l2 1.6l3.8-2.7z"/><path color="#46085c" d="M1878.3 203l-3.6 2.1l2.2 2.1l3.7-2.2z"/><path color="#414487" d="M1854.8 194.2l-3.6 .2l2.2 3.1l3.7-.3z"/><path color="#481a6c" d="M1768.5 201l-3.8 2.5l2.1 1.8l3.7-2.7z"/><path color="#26828e" d="M1810 182.3l-3.7 1l2.1 .6l3.8-.9z"/><path color="#482979" d="M1891.7 199l-3.7 1.8l2.3 1.7l3.7-1.9z"/><path color="#2d718e" d="M1796.7 185.5l-3.7 2l2.1 .9l3.7-2z"/><path color="#3d4e8a" d="M1745 191.9l-3.9 .4l2.1 4l3.9-.5z"/><path color="#2b748e" d="M1736.9 184.3l-3.9 0l2.1 4.2l3.9-.2z"/><path color="#27ad81" d="M1726.8 172.5l-4-1.8l2.1 4.3l4 1.1z"/><path color="#482677" d="M1753 199.2l-3.9 .5l2.1 3.8l3.9-.5z"/><path color="#39558c" d="M1849 191.7l-3.7 .1l2.2 2.8l3.7-.2z"/><path color="#460b5e" d="M1764.7 203.5l-3.7 2.4l2 1.9l3.8-2.5z"/><path color="#26818e" d="M1825.5 183.3l-3.7 0l2.2 1.1l3.7 .4z"/><path color="#450457" d="M1874.7 205.1l-3.7 .9l2.2 3.4l3.7-2.2z"/><path color="#481467" d="M1868.8 202.7l-3.7 .6l2.3 3.4l3.6-.7z"/><path color="#32648e" d="M1843.1 189.2l-3.7 0l2.2 2.5l3.7 .1z"/><path color="#2f6c8e" d="M1793 187.5l-3.8 2.2l2.1 1.1l3.8-2.4z"/><path color="#2d718e" d="M1837.2 186.9l-3.6-.1l2.2 2.1l3.6 .3z"/><path color="#297b8e" d="M1831.4 184.9l-3.7-.1l2.2 1.6l3.7 .4z"/><path color="#482475" d="M1888 200.8l-3.7 2l2.4 1.7l3.6-2z"/><path color="#1fa088" d="M1728.9 176.1l-4-1.1l2.1 4.7l3.9 .5z"/><path color="#472a7a" d="M1862.9 200l-3.6 .4l2.2 3.4l3.6-.5z"/><path color="#424086" d="M1747.1 195.8l-3.9 .5l2.1 3.9l3.8-.5z"/><path color="#31678e" d="M1739 188.3l-3.9 .2l2.1 4.2l3.9-.4z"/><path color="#450559" d="M1761 205.9l-3.8 .8l2 3.4l3.8-2.3z"/><path color="#32648e" d="M1789.2 189.7l-3.7 2.4l2.1 1.2l3.7-2.5z"/><path color="#48186a" d="M1755.1 203l-3.9 .5l2.1 3.8l3.9-.6z"/><path color="#25858e" d="M1806.3 183.3l-3.8 1.4l2.2 .5l3.7-1.3z"/><path color="#423f85" d="M1857.1 197.2l-3.7 .3l2.2 3.2l3.7-.3z"/><path color="#481d6f" d="M1884.3 202.8l-3.7 2.2l2.4 1.7l3.7-2.2z"/><path color="#375a8c" d="M1785.5 192.1l-3.8 2.5l2.1 1.4l3.8-2.7z"/><path color="#21918c" d="M1730.9 180.2l-3.9-.5l2.1 4.7l3.9-.1z"/><path color="#228d8d" d="M1815.9 182.5l-3.7 .5l2.1 .5l3.8-.2z"/><path color="#453882" d="M1897.7 199l-3.7 1.6l2.4 1.5l3.6-1.6z"/><path color="#3d4e8a" d="M1781.7 194.6l-3.7 2.6l2.1 1.5l3.7-2.7z"/><path color="#460a5d" d="M1871 206l-3.6 .7l2.2 3.5l3.6-.8z"/><path color="#375a8c" d="M1741.1 192.3l-3.9 .4l2.1 4.1l3.9-.5z"/><path color="#3b528b" d="M1851.2 194.4l-3.7 .2l2.2 3l3.7-.1z"/><path color="#46327e" d="M1749.1 199.7l-3.8 .5l2.1 4l3.8-.7z"/><path color="#424186" d="M1778 197.2l-3.7 2.7l2 1.6l3.8-2.8z"/><path color="#481467" d="M1880.6 205l-3.7 2.2l2.4 1.8l3.7-2.3z"/><path color="#26818e" d="M1733 184.3l-3.9 .1l2.1 4.5l3.9-.4z"/><path color="#463480" d="M1774.3 199.9l-3.8 2.7l2.1 1.6l3.7-2.7z"/><path color="#482173" d="M1865.1 203.3l-3.6 .5l2.2 3.5l3.7-.6z"/><path color="#32648e" d="M1845.3 191.8l-3.7-.1l2.3 2.8l3.6 .1z"/><path color="#25858e" d="M1802.5 184.7l-3.7 1.7l2.1 .6l3.8-1.8z"/><path color="#460b5e" d="M1757.2 206.7l-3.9 .6l2.1 3.7l3.8-.9z"/><path color="#482677" d="M1770.5 202.6l-3.7 2.7l2 1.7l3.8-2.8z"/><path color="#453581" d="M1894 200.6l-3.7 1.9l2.4 1.5l3.7-1.9z"/><path color="#460a5d" d="M1876.9 207.2l-3.7 2.2l2.3 2l3.8-2.4z"/><path color="#21918c" d="M1821.8 183.3l-3.7 0l2.1 .7l3.8 .4z"/><path color="#3e4c8a" d="M1743.2 196.3l-3.9 .5l2.1 4.1l3.9-.7z"/><path color="#2c738e" d="M1839.4 189.2l-3.6-.3l2.2 2.5l3.6 .3z"/><path color="#48186a" d="M1766.8 205.3l-3.8 2.5l2 1.8l3.8-2.6z"/><path color="#453882" d="M1859.3 200.4l-3.7 .3l2.2 3.4l3.7-.3z"/><path color="#7fd34e" d="M1720.8 167.4l-4.2-3.5l2.1 4l4.1 2.8z"/><path color="#2c718e" d="M1735.1 188.5l-3.9 .4l2.2 4.4l3.8-.6z"/><path color="#482475" d="M1751.2 203.5l-3.8 .7l2.1 3.8l3.8-.7z"/><path color="#26828e" d="M1833.6 186.8l-3.7-.4l2.2 2l3.7 .5z"/><path color="#228d8d" d="M1827.7 184.8l-3.7-.4l2.1 1.3l3.8 .7z"/><path color="#26828e" d="M1798.8 186.4l-3.7 2l2.1 .8l3.7-2.2z"/><path color="#460b5e" d="M1763 207.8l-3.8 2.3l2.1 2l3.7-2.5z"/><path color="#1f958b" d="M1812.2 183l-3.8 .9l2.2 .1l3.7-.5z"/><path color="#46307e" d="M1890.3 202.5l-3.6 2l2.3 1.6l3.7-2.1z"/><path color="#3d4e8a" d="M1853.4 197.5l-3.7 .1l2.3 3.3l3.6-.2z"/><path color="#450559" d="M1873.2 209.4l-3.6 .8l2.2 3.5l3.7-2.3z"/><path color="#5cc863" d="M1722.8 170.7l-4.1-2.8l2.2 5.6l4 1.5z"/><path color="#481769" d="M1867.4 206.7l-3.7 .6l2.2 3.5l3.7-.6z"/><path color="#32648e" d="M1737.2 192.7l-3.8 .6l2.1 4.2l3.8-.7z"/><path color="#433e85" d="M1745.3 200.2l-3.9 .7l2.1 4l3.9-.7z"/><path color="#32b67a" d="M1724.9 175l-4-1.5l2.1 5.7l4 .5z"/><path color="#297b8e" d="M1795.1 188.4l-3.8 2.4l2.1 1l3.8-2.6z"/><path color="#1fa088" d="M1727 179.7l-4-.5l2.2 5.3l3.9-.1z"/><path color="#450559" d="M1759.2 210.1l-3.8 .9l2.1 3.4l3.8-2.3z"/><path color="#33628d" d="M1847.5 194.6l-3.6-.1l2.2 3.2l3.6-.1z"/><path color="#472a7a" d="M1886.7 204.5l-3.7 2.2l2.3 1.6l3.7-2.2z"/><path color="#481769" d="M1753.3 207.3l-3.8 .7l2.1 3.8l3.8-.8z"/><path color="#2c718e" d="M1791.3 190.8l-3.7 2.5l2 1.2l3.8-2.7z"/><path color="#472f7d" d="M1861.5 203.8l-3.7 .3l2.3 3.6l3.6-.4z"/><path color="#228d8d" d="M1729.1 184.4l-3.9 .1l2.2 4.9l3.8-.5z"/><path color="#31678e" d="M1787.6 193.3l-3.8 2.7l2.1 1.4l3.7-2.9z"/><path color="#404688" d="M1900 200.5l-3.6 1.6l2.4 1.4l3.6-1.6z"/><path color="#39558c" d="M1739.3 196.8l-3.8 .7l2.1 4.2l3.8-.8z"/><path color="#365c8d" d="M1783.8 196l-3.7 2.7l2 1.5l3.8-2.8z"/><path color="#482173" d="M1883 206.7l-3.7 2.3l2.3 1.7l3.7-2.4z"/><path color="#2c738e" d="M1841.6 191.7l-3.6-.3l2.2 2.9l3.7 .2z"/><path color="#297b8e" d="M1731.2 188.9l-3.8 .5l2.1 4.6l3.9-.7z"/><path color="#472f7d" d="M1747.4 204.2l-3.9 .7l2.1 3.9l3.9-.8z"/><path color="#3d4e8a" d="M1780.1 198.7l-3.8 2.8l2.1 1.6l3.7-2.9z"/><path color="#404688" d="M1855.6 200.7l-3.6 .2l2.2 3.5l3.6-.3z"/><path color="#460b5e" d="M1869.6 210.2l-3.7 .6l2.3 3.7l3.6-.8z"/><path color="#1e9b8a" d="M1808.4 183.9l-3.7 1.3l2.1 0l3.8-1.2z"/><path color="#424086" d="M1776.3 201.5l-3.7 2.7l2 1.7l3.8-2.8z"/><path color="#1fa088" d="M1818.1 183.3l-3.8 .2l2.2 0l3.7 .5z"/><path color="#46327e" d="M1772.6 204.2l-3.8 2.8l2.1 1.7l3.7-2.8z"/><path color="#481769" d="M1879.3 209l-3.8 2.4l2.4 1.8l3.7-2.5z"/><path color="#25858e" d="M1835.8 188.9l-3.7-.5l2.2 2.4l3.7 .6z"/><path color="#460a5d" d="M1755.4 211l-3.8 .8l2.1 3.6l3.8-1z"/><path color="#2f6c8e" d="M1733.4 193.3l-3.9 .7l2.1 4.4l3.9-.9z"/><path color="#482475" d="M1768.8 207l-3.8 2.6l2.1 1.9l3.8-2.8z"/><path color="#404688" d="M1741.4 200.9l-3.8 .8l2.1 4l3.8-.8z"/><path color="#414487" d="M1896.4 202.1l-3.7 1.9l2.4 1.5l3.7-2z"/><path color="#482475" d="M1863.7 207.3l-3.6 .4l2.2 3.6l3.6-.5z"/><path color="#365d8d" d="M1849.7 197.6l-3.6 .1l2.2 3.3l3.7-.1z"/><path color="#460b5e" d="M1875.5 211.4l-3.7 2.3l2.3 1.9l3.8-2.4z"/><path color="#481769" d="M1765 209.6l-3.7 2.5l2 2l3.8-2.6z"/><path color="#482173" d="M1749.5 208l-3.9 .8l2.1 3.8l3.9-.8z"/><path color="#1f958b" d="M1829.9 186.4l-3.8-.7l2.2 1.7l3.8 1z"/><path color="#1fa088" d="M1824 184.4l-3.8-.4l2.2 .6l3.7 1.1z"/><path color="#1e9b8a" d="M1804.7 185.2l-3.8 1.8l2.1 .1l3.8-1.9z"/><path color="#1f958b" d="M1725.2 184.5l-3.9 .5l2.2 5.3l3.9-.9z"/><path color="#27ad81" d="M1723 179.2l-3.9-.1l2.2 5.9l3.9-.5z"/><path color="#365d8d" d="M1735.5 197.5l-3.9 .9l2.1 4.2l3.9-.9z"/><path color="#460a5d" d="M1761.3 212.1l-3.8 2.3l2 2.1l3.8-2.4z"/><path color="#433e85" d="M1857.8 204.1l-3.6 .3l2.2 3.6l3.7-.3z"/><path color="#423f85" d="M1892.7 204l-3.7 2.1l2.4 1.5l3.7-2.1z"/><path color="#26828e" d="M1727.4 189.4l-3.9 .9l2.1 4.8l3.9-1.1z"/><path color="#2d718e" d="M1843.9 194.5l-3.7-.2l2.2 3.2l3.7 .2z"/><path color="#453882" d="M1743.5 204.9l-3.8 .8l2.1 4l3.8-.9z"/><path color="#450559" d="M1871.8 213.7l-3.6 .8l2.2 3.5l3.7-2.4z"/><path color="#5cc863" d="M1720.9 173.5l-4.1-1.4l2.3 7l3.9 .1z"/><path color="#48186a" d="M1865.9 210.8l-3.6 .5l2.2 3.8l3.7-.6z"/><path color="#1f958b" d="M1800.9 187l-3.7 2.2l2.1 .5l3.7-2.6z"/><path color="#453882" d="M1889 206.1l-3.7 2.2l2.4 1.6l3.7-2.3z"/><path color="#2d718e" d="M1729.5 194l-3.9 1.1l2.1 4.4l3.9-1.1z"/><path color="#450457" d="M1757.5 214.4l-3.8 1l2.1 3.3l3.7-2.2z"/><path color="#39558c" d="M1852 200.9l-3.7 .1l2.2 3.6l3.7-.2z"/><path color="#481467" d="M1751.6 211.8l-3.9 .8l2.1 3.7l3.9-.9z"/><path color="#3d4e8a" d="M1737.6 201.7l-3.9 .9l2.1 4.1l3.9-1z"/><path color="#228d8d" d="M1797.2 189.2l-3.8 2.6l2.1 .8l3.8-2.9z"/><path color="#26818e" d="M1793.4 191.8l-3.8 2.7l2.1 1.2l3.8-3.1z"/><path color="#25858e" d="M1838 191.4l-3.7-.6l2.2 3l3.7 .5z"/><path color="#27ad81" d="M1814.3 183.5l-3.7 .5l2.1-.6l3.8 .1z"/><path color="#2b748e" d="M1789.6 194.5l-3.7 2.9l2.1 1.4l3.7-3.1z"/><path color="#31678e" d="M1785.9 197.4l-3.8 2.8l2.1 1.6l3.8-3z"/><path color="#46327e" d="M1860.1 207.7l-3.7 .3l2.2 3.8l3.7-.5z"/><path color="#39558c" d="M1902.4 201.9l-3.6 1.6l2.4 1.3l3.6-1.7z"/><path color="#472f7d" d="M1885.3 208.3l-3.7 2.4l2.3 1.6l3.8-2.4z"/><path color="#472a7a" d="M1745.6 208.8l-3.8 .9l2.1 3.8l3.8-.9z"/><path color="#375a8c" d="M1782.1 200.2l-3.7 2.9l2.1 1.7l3.7-3z"/><path color="#1e9b8a" d="M1721.3 185l-3.9 1.2l2.2 5.4l3.9-1.3z"/><path color="#3e4c8a" d="M1778.4 203.1l-3.8 2.8l2.1 1.9l3.8-3z"/><path color="#33628d" d="M1731.6 198.4l-3.9 1.1l2.1 4.3l3.9-1.2z"/><path color="#433e85" d="M1774.6 205.9l-3.7 2.8l2 1.9l3.8-2.8z"/><path color="#25858e" d="M1723.5 190.3l-3.9 1.3l2.1 4.8l3.9-1.3z"/><path color="#2f6c8e" d="M1846.1 197.7l-3.7-.2l2.2 3.5l3.7 0z"/><path color="#32b67a" d="M1719.1 179.1l-3.9 .9l2.2 6.2l3.9-1.2z"/><path color="#482475" d="M1881.6 210.7l-3.7 2.5l2.3 1.6l3.7-2.5z"/><path color="#460b5e" d="M1868.2 214.5l-3.7 .6l2.2 3.7l3.7-.8z"/><path color="#423f85" d="M1739.7 205.7l-3.9 1l2.1 4.1l3.9-1.1z"/><path color="#472f7d" d="M1770.9 208.7l-3.8 2.8l2.1 1.9l3.7-2.8z"/><path color="#1e9b8a" d="M1832.1 188.4l-3.8-1l2.2 2.3l3.8 1.1z"/><path color="#482173" d="M1767.1 211.5l-3.8 2.6l2.1 2l3.8-2.7z"/><path color="#3e4c8a" d="M1854.2 204.4l-3.7 .2l2.2 3.7l3.7-.3z"/><path color="#2c738e" d="M1725.6 195.1l-3.9 1.3l2.2 4.6l3.8-1.5z"/><path color="#46085c" d="M1753.7 215.4l-3.9 .9l2.1 3.5l3.9-1.1z"/><path color="#48186a" d="M1877.9 213.2l-3.8 2.4l2.3 1.8l3.8-2.6z"/><path color="#3b528b" d="M1898.8 203.5l-3.7 2l2.4 1.3l3.7-2z"/><path color="#3b528b" d="M1733.7 202.6l-3.9 1.2l2.1 4.2l3.9-1.3z"/><path color="#481d6f" d="M1747.7 212.6l-3.8 .9l2.1 3.8l3.8-1z"/><path color="#482677" d="M1862.3 211.3l-3.7 .5l2.2 3.7l3.7-.4z"/><path color="#481467" d="M1763.3 214.1l-3.8 2.4l2.1 2.1l3.8-2.5z"/><path color="#32b67a" d="M1820.2 184l-3.7-.5l2.2-.4l3.7 1.5z"/><path color="#460b5e" d="M1874.1 215.6l-3.7 2.4l2.3 1.9l3.7-2.5z"/><path color="#26828e" d="M1840.2 194.3l-3.7-.5l2.2 3.4l3.7 .3z"/><path color="#27ad81" d="M1826.1 185.7l-3.7-1.1l2.2 1.1l3.7 1.7z"/><path color="#7fd34e" d="M1716.8 172.1l-3.9 .2l2.3 7.7l3.9-.9z"/><path color="#32648e" d="M1727.7 199.5l-3.8 1.5l2.1 4.3l3.8-1.5z"/><path color="#46307e" d="M1741.8 209.7l-3.9 1.1l2.1 3.8l3.9-1.1z"/><path color="#32b67a" d="M1810.6 184l-3.8 1.2l2.1-.9l3.8-.9z"/><path color="#3d4e8a" d="M1895.1 205.5l-3.7 2.1l2.4 1.3l3.7-2.1z"/><path color="#46085c" d="M1759.5 216.5l-3.7 2.2l2 2.3l3.8-2.4z"/><path color="#32648e" d="M1848.3 201l-3.7 0l2.2 3.7l3.7-.1z"/><path color="#414487" d="M1735.8 206.7l-3.9 1.3l2.1 4l3.9-1.2z"/><path color="#424086" d="M1856.4 208l-3.7 .3l2.2 3.8l3.7-.3z"/><path color="#450559" d="M1870.4 218l-3.7 .8l2.3 3.5l3.7-2.4z"/><path color="#39558c" d="M1729.8 203.8l-3.8 1.5l2.1 4.1l3.8-1.4z"/><path color="#404688" d="M1891.4 207.6l-3.7 2.3l2.3 1.4l3.8-2.4z"/><path color="#481a6c" d="M1864.5 215.1l-3.7 .4l2.2 3.8l3.7-.5z"/><path color="#471164" d="M1749.8 216.3l-3.8 1l2 3.5l3.9-1z"/><path color="#450457" d="M1755.8 218.7l-3.9 1.1l2.1 3.3l3.8-2.1z"/><path color="#1e9b8a" d="M1834.3 190.8l-3.8-1.1l2.2 3.1l3.8 1z"/><path color="#482475" d="M1743.9 213.5l-3.9 1.1l2.1 3.8l3.9-1.1z"/><path color="#32648e" d="M1784.2 201.8l-3.7 3l2 1.9l3.8-3.1z"/><path color="#32b67a" d="M1806.8 185.2l-3.8 1.9l2.2-.6l3.7-2.2z"/><path color="#2c718e" d="M1788 198.8l-3.8 3l2.1 1.8l3.8-3.3z"/><path color="#39558c" d="M1780.5 204.8l-3.8 3l2.1 1.9l3.7-3z"/><path color="#297b8e" d="M1842.4 197.5l-3.7-.3l2.2 3.7l3.7 .1z"/><path color="#433e85" d="M1887.7 209.9l-3.8 2.4l2.4 1.5l3.7-2.5z"/><path color="#26818e" d="M1791.7 195.7l-3.7 3.1l2.1 1.5l3.8-3.4z"/><path color="#404688" d="M1776.7 207.8l-3.8 2.8l2.1 2l3.8-2.9z"/><path color="#375a8c" d="M1850.5 204.6l-3.7 .1l2.2 3.9l3.7-.3z"/><path color="#453581" d="M1737.9 210.8l-3.9 1.2l2.1 3.9l3.9-1.3z"/><path color="#21918c" d="M1795.5 192.6l-3.8 3.1l2.2 1.2l3.7-3.6z"/><path color="#453882" d="M1772.9 210.6l-3.7 2.8l2 2.1l3.8-2.9z"/><path color="#32648e" d="M1904.8 203.1l-3.6 1.7l2.4 1.2l3.7-1.7z"/><path color="#463480" d="M1858.6 211.8l-3.7 .3l2.2 3.9l3.7-.5z"/><path color="#1fa088" d="M1799.3 189.7l-3.8 2.9l2.1 .7l3.8-3.6z"/><path color="#27ad81" d="M1803 187.1l-3.7 2.6l2.1 0l3.8-3.2z"/><path color="#404688" d="M1731.9 208l-3.8 1.4l2.1 4.1l3.8-1.5z"/><path color="#46327e" d="M1883.9 212.3l-3.7 2.5l2.3 1.6l3.8-2.6z"/><path color="#472a7a" d="M1769.2 213.4l-3.8 2.7l2 2.1l3.8-2.7z"/><path color="#470d60" d="M1866.7 218.8l-3.7 .5l2.3 3.8l3.7-.8z"/><path color="#481d6f" d="M1765.4 216.1l-3.8 2.5l2 2.2l3.8-2.6z"/><path color="#482677" d="M1880.2 214.8l-3.8 2.6l2.4 1.6l3.7-2.6z"/><path color="#46075a" d="M1751.9 219.8l-3.9 1l2.1 3.5l3.9-1.2z"/><path color="#48186a" d="M1746 217.3l-3.9 1.1l2.1 3.6l3.8-1.2z"/><path color="#33628d" d="M1901.2 204.8l-3.7 2l2.4 1.2l3.7-2z"/><path color="#481a6c" d="M1876.4 217.4l-3.7 2.5l2.3 1.8l3.8-2.7z"/><path color="#2c718e" d="M1844.6 201l-3.7-.1l2.2 3.9l3.7-.1z"/><path color="#3d4e8a" d="M1852.7 208.3l-3.7 .3l2.2 3.9l3.7-.4z"/><path color="#32b67a" d="M1828.3 187.4l-3.7-1.7l2.2 2l3.7 2z"/><path color="#471164" d="M1761.6 218.6l-3.8 2.4l2.1 2.2l3.7-2.4z"/><path color="#482979" d="M1740 214.6l-3.9 1.3l2.1 3.8l3.9-1.3z"/><path color="#1f958b" d="M1836.5 193.8l-3.8-1l2.2 3.7l3.8 .7z"/><path color="#5cc863" d="M1816.5 183.5l-3.8-.1l2.2-1.6l3.8 1.3z"/><path color="#453882" d="M1734 212l-3.8 1.5l2.1 3.9l3.8-1.5z"/><path color="#482677" d="M1860.8 215.5l-3.7 .5l2.2 3.9l3.7-.6z"/><path color="#470d60" d="M1872.7 219.9l-3.7 2.4l2.3 2l3.7-2.6z"/><path color="#46075a" d="M1757.8 221l-3.8 2.1l2 2.3l3.9-2.2z"/><path color="#365d8d" d="M1897.5 206.8l-3.7 2.1l2.4 1.3l3.7-2.2z"/><path color="#5cc863" d="M1822.4 184.6l-3.7-1.5l2.2-.2l3.7 2.8z"/><path color="#31678e" d="M1846.8 204.7l-3.7 .1l2.2 4l3.7-.2z"/><path color="#424186" d="M1854.9 212.1l-3.7 .4l2.2 4l3.7-.5z"/><path color="#450559" d="M1869 222.3l-3.7 .8l2.2 3.6l3.8-2.4z"/><path color="#365d8d" d="M1782.5 206.7l-3.7 3l2.1 2.2l3.8-3.2z"/><path color="#2f6c8e" d="M1786.3 203.6l-3.8 3.1l2.2 2l3.7-3.2z"/><path color="#39558c" d="M1893.8 208.9l-3.8 2.4l2.4 1.4l3.8-2.5z"/><path color="#3d4e8a" d="M1778.8 209.7l-3.8 2.9l2.1 2.2l3.8-2.9z"/><path color="#470e61" d="M1748 220.8l-3.8 1.2l2.1 3.5l3.8-1.2z"/><path color="#481c6e" d="M1742.1 218.4l-3.9 1.3l2.1 3.7l3.9-1.4z"/><path color="#228d8d" d="M1838.7 197.2l-3.8-.7l2.2 4.1l3.8 .3z"/><path color="#472a7a" d="M1736.1 215.9l-3.8 1.5l2.1 3.8l3.8-1.5z"/><path color="#481a6c" d="M1863 219.3l-3.7 .6l2.3 3.8l3.7-.6z"/><path color="#297b8e" d="M1790.1 200.3l-3.8 3.3l2.1 1.9l3.8-3.5z"/><path color="#423f85" d="M1775 212.6l-3.8 2.9l2.1 2.2l3.8-2.9z"/><path color="#440256" d="M1754 223.1l-3.9 1.2l2.1 3.1l3.8-2z"/><path color="#46307e" d="M1771.2 215.5l-3.8 2.7l2.1 2.3l3.8-2.8z"/><path color="#228d8d" d="M1793.9 196.9l-3.8 3.4l2.1 1.7l3.8-3.8z"/><path color="#3e4c8a" d="M1890 211.3l-3.7 2.5l2.4 1.5l3.7-2.6z"/><path color="#482475" d="M1767.4 218.2l-3.8 2.6l2.1 2.3l3.8-2.6z"/><path color="#32b67a" d="M1830.5 189.7l-3.7-2l2.2 3.4l3.7 1.7z"/><path color="#424086" d="M1886.3 213.8l-3.8 2.6l2.4 1.5l3.8-2.6z"/><path color="#365c8d" d="M1849 208.6l-3.7 .2l2.2 4.1l3.7-.4z"/><path color="#463480" d="M1857.1 216l-3.7 .5l2.2 3.9l3.7-.5z"/><path color="#1fa088" d="M1797.6 193.3l-3.7 3.6l2.1 1.3l3.7-4.2z"/><path color="#2c738e" d="M1907.3 204.3l-3.7 1.7l2.4 .9l3.7-1.7z"/><path color="#26818e" d="M1840.9 200.9l-3.8-.3l2.2 4.3l3.8-.1z"/><path color="#48186a" d="M1763.6 220.8l-3.7 2.4l2 2.3l3.8-2.4z"/><path color="#463480" d="M1882.5 216.4l-3.7 2.6l2.3 1.7l3.8-2.8z"/><path color="#7fd34e" d="M1812.7 183.4l-3.8 .9l2.2-2.3l3.8-.2z"/><path color="#481f70" d="M1738.2 219.7l-3.8 1.5l2 3.7l3.9-1.5z"/><path color="#460b5e" d="M1865.3 223.1l-3.7 .6l2.2 3.8l3.7-.8z"/><path color="#471365" d="M1744.2 222l-3.9 1.4l2.1 3.4l3.9-1.3z"/><path color="#482677" d="M1878.8 219l-3.8 2.7l2.4 1.7l3.7-2.7z"/><path color="#450559" d="M1750.1 224.3l-3.8 1.2l2.1 3.3l3.8-1.4z"/><path color="#32b67a" d="M1801.4 189.7l-3.8 3.6l2.1 .7l3.8-4.6z"/><path color="#470e61" d="M1759.9 223.2l-3.9 2.2l2.1 2.4l3.8-2.3z"/><path color="#481a6c" d="M1875 221.7l-3.7 2.6l2.3 1.8l3.8-2.7z"/><path color="#2d718e" d="M1903.6 206l-3.7 2l2.4 1l3.7-2.1z"/><path color="#3d4e8a" d="M1851.2 212.5l-3.7 .4l2.2 4.1l3.7-.5z"/><path color="#2b748e" d="M1843.1 204.8l-3.8 .1l2.2 4.2l3.8-.3z"/><path color="#27ad81" d="M1832.7 192.8l-3.7-1.7l2.2 4.3l3.7 1.1z"/><path color="#482677" d="M1859.3 219.9l-3.7 .5l2.3 3.9l3.7-.6z"/><path color="#460b5e" d="M1871.3 224.3l-3.8 2.4l2.3 2l3.8-2.6z"/><path color="#5cc863" d="M1805.2 186.5l-3.8 3.2l2.1-.3l3.8-4.5z"/><path color="#33628d" d="M1784.7 208.7l-3.8 3.2l2.1 2.3l3.8-3.1z"/><path color="#3b528b" d="M1780.9 211.9l-3.8 2.9l2.1 2.5l3.8-3.1z"/><path color="#450559" d="M1756 225.4l-3.8 2l2.1 2.5l3.8-2.1z"/><path color="#7fd34e" d="M1808.9 184.3l-3.7 2.2l2.1-1.6l3.8-2.9z"/><path color="#2d718e" d="M1788.4 205.5l-3.7 3.2l2.1 2.4l3.8-3.4z"/><path color="#414487" d="M1777.1 214.8l-3.8 2.9l2.1 2.5l3.8-2.9z"/><path color="#2f6c8e" d="M1899.9 208l-3.7 2.2l2.4 1.2l3.7-2.4z"/><path color="#453581" d="M1773.3 217.7l-3.8 2.8l2.1 2.4l3.8-2.7z"/><path color="#481467" d="M1740.3 223.4l-3.9 1.5l2.1 3.4l3.9-1.5z"/><path color="#26828e" d="M1792.2 202l-3.8 3.5l2.2 2.2l3.7-3.7z"/><path color="#1fa088" d="M1834.9 196.5l-3.7-1.1l2.2 4.8l3.7 .4z"/><path color="#424086" d="M1853.4 216.5l-3.7 .5l2.2 4l3.7-.6z"/><path color="#460a5d" d="M1746.3 225.5l-3.9 1.3l2.1 3.3l3.9-1.3z"/><path color="#31678e" d="M1845.3 208.8l-3.8 .3l2.3 4.3l3.7-.5z"/><path color="#7fd34e" d="M1824.6 185.7l-3.7-2.8l2.2 1.4l3.7 3.4z"/><path color="#482979" d="M1769.5 220.5l-3.8 2.6l2.1 2.5l3.8-2.7z"/><path color="#450559" d="M1867.5 226.7l-3.7 .8l2.3 3.6l3.7-2.4z"/><path color="#32648e" d="M1896.2 210.2l-3.8 2.5l2.4 1.3l3.8-2.6z"/><path color="#48186a" d="M1861.6 223.7l-3.7 .6l2.2 3.9l3.7-.7z"/><path color="#1f958b" d="M1796 198.2l-3.8 3.8l2.1 2l3.8-4.1z"/><path color="#440256" d="M1752.2 227.4l-3.8 1.4l2 3l3.9-1.9z"/><path color="#481c6e" d="M1765.7 223.1l-3.8 2.4l2.1 2.5l3.8-2.4z"/><path color="#aadc32" d="M1818.7 183.1l-3.8-1.3l2.2-.7l3.8 1.8z"/><path color="#375a8c" d="M1892.4 212.7l-3.7 2.6l2.3 1.4l3.8-2.7z"/><path color="#21918c" d="M1837.1 200.6l-3.7-.4l2.2 4.7l3.7 0z"/><path color="#3d4e8a" d="M1888.7 215.3l-3.8 2.6l2.4 1.6l3.7-2.8z"/><path color="#375a8c" d="M1847.5 212.9l-3.7 .5l2.2 4.2l3.7-.6z"/><path color="#471365" d="M1761.9 225.5l-3.8 2.3l2.1 2.6l3.8-2.4z"/><path color="#46327e" d="M1855.6 220.4l-3.7 .6l2.2 4l3.8-.7z"/><path color="#424186" d="M1884.9 217.9l-3.8 2.8l2.4 1.6l3.8-2.8z"/><path color="#27ad81" d="M1799.7 194l-3.7 4.2l2.1 1.7l3.8-4.9z"/><path color="#460b5e" d="M1742.4 226.8l-3.9 1.5l2.1 3.4l3.9-1.6z"/><path color="#26818e" d="M1839.3 204.9l-3.7 0l2.2 4.6l3.7-.4z"/><path color="#463480" d="M1881.1 220.7l-3.7 2.7l2.3 1.7l3.8-2.8z"/><path color="#25858e" d="M1909.7 205.2l-3.7 1.7l2.5 .7l3.8-1.8z"/><path color="#460b5e" d="M1863.8 227.5l-3.7 .7l2.2 3.7l3.8-.8z"/><path color="#39558c" d="M1783 214.2l-3.8 3.1l2.1 2.6l3.8-3z"/><path color="#32648e" d="M1786.8 211.1l-3.8 3.1l2.1 2.7l3.8-3.2z"/><path color="#482677" d="M1877.4 223.4l-3.8 2.7l2.3 1.8l3.8-2.8z"/><path color="#450457" d="M1748.4 228.8l-3.9 1.3l2.1 3.2l3.8-1.5z"/><path color="#460a5d" d="M1758.1 227.8l-3.8 2.1l2 2.6l3.9-2.1z"/><path color="#404688" d="M1779.2 217.3l-3.8 2.9l2.1 2.6l3.8-2.9z"/><path color="#2c738e" d="M1790.6 207.7l-3.8 3.4l2.1 2.6l3.8-3.4z"/><path color="#453882" d="M1775.4 220.2l-3.8 2.7l2.1 2.7l3.8-2.8z"/><path color="#3e4c8a" d="M1849.7 217l-3.7 .6l2.2 4.1l3.7-.7z"/><path color="#48186a" d="M1873.6 226.1l-3.8 2.6l2.3 1.9l3.8-2.7z"/><path color="#7fd34e" d="M1826.8 187.7l-3.7-3.4l2.2 4l3.7 2.8z"/><path color="#2c718e" d="M1841.5 209.1l-3.7 .4l2.2 4.5l3.8-.6z"/><path color="#25858e" d="M1794.3 204l-3.7 3.7l2.1 2.6l3.8-3.8z"/><path color="#482475" d="M1857.9 224.3l-3.8 .7l2.3 3.9l3.7-.7z"/><path color="#472a7a" d="M1771.6 222.9l-3.8 2.7l2.1 2.6l3.8-2.6z"/><path color="#26828e" d="M1906 206.9l-3.7 2.1l2.5 .9l3.7-2.3z"/><path color="#460b5e" d="M1869.8 228.7l-3.7 2.4l2.3 2l3.7-2.5z"/><path color="#450457" d="M1754.3 229.9l-3.9 1.9l2.1 2.7l3.8-2z"/><path color="#5cc863" d="M1803.5 189.4l-3.8 4.6l2.2 1l3.8-5.8z"/><path color="#481f70" d="M1767.8 225.6l-3.8 2.4l2.1 2.7l3.8-2.5z"/><path color="#1e9b8a" d="M1798.1 199.9l-3.8 4.1l2.2 2.5l3.8-4.2z"/><path color="#5cc863" d="M1829 191.1l-3.7-2.8l2.2 5.7l3.7 1.4z"/><path color="#32648e" d="M1843.8 213.4l-3.8 .6l2.2 4.3l3.8-.7z"/><path color="#433e85" d="M1851.9 221l-3.7 .7l2.2 4.1l3.7-.8z"/><path color="#450559" d="M1744.5 230.1l-3.9 1.6l2.1 3.1l3.9-1.5z"/><path color="#32b67a" d="M1831.2 195.4l-3.7-1.4l2.2 5.7l3.7 .5z"/><path color="#297b8e" d="M1902.3 209l-3.7 2.4l2.4 1.1l3.8-2.6z"/><path color="#1fa088" d="M1833.4 200.2l-3.7-.5l2.1 5.4l3.8-.2z"/><path color="#dae319" d="M1814.9 181.8l-3.8 .2l2.2 .5l3.8-1.4z"/><path color="#481467" d="M1764 228l-3.8 2.4l2.1 2.7l3.8-2.4z"/><path color="#450559" d="M1866.1 231.1l-3.8 .8l2.3 3.6l3.8-2.4z"/><path color="#481769" d="M1860.1 228.2l-3.7 .7l2.2 3.9l3.7-.9z"/><path color="#2c718e" d="M1898.6 211.4l-3.8 2.6l2.4 1.3l3.8-2.8z"/><path color="#228d8d" d="M1835.6 204.9l-3.8 .2l2.2 5l3.8-.6z"/><path color="#440154" d="M1750.4 231.8l-3.8 1.5l2 2.9l3.9-1.7z"/><path color="#39558c" d="M1785.1 216.9l-3.8 3l2.2 2.9l3.8-3z"/><path color="#32648e" d="M1788.9 213.7l-3.8 3.2l2.2 2.9l3.8-3.2z"/><path color="#31678e" d="M1894.8 214l-3.8 2.7l2.4 1.5l3.8-2.9z"/><path color="#404688" d="M1781.3 219.9l-3.8 2.9l2.2 2.9l3.8-2.9z"/><path color="#39558c" d="M1846 217.6l-3.8 .7l2.2 4.2l3.8-.8z"/><path color="#2c738e" d="M1792.7 210.3l-3.8 3.4l2.2 2.9l3.8-3.4z"/><path color="#460b5e" d="M1760.2 230.4l-3.9 2.1l2.1 2.7l3.9-2.1z"/><path color="#365c8d" d="M1891 216.7l-3.7 2.8l2.4 1.6l3.7-2.9z"/><path color="#32b67a" d="M1801.9 195l-3.8 4.9l2.2 2.4l3.8-5.2z"/><path color="#453882" d="M1777.5 222.8l-3.8 2.8l2.1 2.9l3.9-2.8z"/><path color="#aadc32" d="M1807.3 184.9l-3.8 4.5l2.2-.2l3.8-4.9z"/><path color="#dae319" d="M1820.9 182.9l-3.8-1.8l2.2 2.5l3.8 .7z"/><path color="#297b8e" d="M1837.8 209.5l-3.8 .6l2.2 4.7l3.8-.8z"/><path color="#472f7d" d="M1854.1 225l-3.7 .8l2.2 4l3.8-.9z"/><path color="#3d4e8a" d="M1887.3 219.5l-3.8 2.8l2.4 1.7l3.8-2.9z"/><path color="#25858e" d="M1796.5 206.5l-3.8 3.8l2.2 2.9l3.8-3.7z"/><path color="#472a7a" d="M1773.7 225.6l-3.8 2.6l2.1 2.9l3.8-2.6z"/><path color="#424086" d="M1883.5 222.3l-3.8 2.8l2.4 1.8l3.8-2.9z"/><path color="#dae319" d="M1811.1 182l-3.8 2.9l2.2-.6l3.8-1.8z"/><path color="#46327e" d="M1879.7 225.1l-3.8 2.8l2.4 1.8l3.8-2.8z"/><path color="#481f70" d="M1769.9 228.2l-3.8 2.5l2.1 2.9l3.8-2.5z"/><path color="#450559" d="M1756.3 232.5l-3.8 2l2.1 2.7l3.8-2z"/><path color="#460a5d" d="M1862.3 231.9l-3.7 .9l2.3 3.6l3.7-.9z"/><path color="#2f6c8e" d="M1840 214l-3.8 .8l2.3 4.4l3.7-.9z"/><path color="#482475" d="M1875.9 227.9l-3.8 2.7l2.4 1.9l3.8-2.8z"/><path color="#404688" d="M1848.2 221.7l-3.8 .8l2.3 4.2l3.7-.9z"/><path color="#440154" d="M1746.6 233.3l-3.9 1.5l2.1 3l3.8-1.6z"/><path color="#1e9b8a" d="M1800.3 202.3l-3.8 4.2l2.2 3l3.7-4.1z"/><path color="#481769" d="M1872.1 230.6l-3.7 2.5l2.3 2l3.8-2.6z"/><path color="#482173" d="M1856.4 228.9l-3.8 .9l2.3 3.8l3.7-.8z"/><path color="#481467" d="M1766.1 230.7l-3.8 2.4l2.1 2.9l3.8-2.4z"/><path color="#1e9b8a" d="M1912.3 205.8l-3.8 1.8l2.6 .2l3.7-2z"/><path color="#1f958b" d="M1831.8 205.1l-3.7 .6l2.2 5.3l3.7-.9z"/><path color="#33628d" d="M1791.1 216.6l-3.8 3.2l2.1 3.1l3.8-3.1z"/><path color="#27ad81" d="M1829.7 199.7l-3.8 0l2.2 6l3.7-.6z"/><path color="#3b528b" d="M1787.3 219.8l-3.8 3l2.1 3.1l3.8-3z"/><path color="#365d8d" d="M1842.2 218.3l-3.7 .9l2.2 4.3l3.7-1z"/><path color="#460a5d" d="M1868.4 233.1l-3.8 2.4l2.3 2.1l3.8-2.5z"/><path color="#2d718e" d="M1794.9 213.2l-3.8 3.4l2.1 3.2l3.8-3.3z"/><path color="#414487" d="M1783.5 222.8l-3.8 2.9l2.1 3.1l3.8-2.9z"/><path color="#440154" d="M1752.5 234.5l-3.9 1.7l2.1 2.8l3.9-1.8z"/><path color="#26828e" d="M1834 210.1l-3.7 .9l2.2 4.9l3.7-1.1z"/><path color="#453882" d="M1850.4 225.8l-3.7 .9l2.2 4l3.7-.9z"/><path color="#453581" d="M1779.7 225.7l-3.9 2.8l2.2 3.1l3.8-2.8z"/><path color="#26828e" d="M1798.7 209.5l-3.8 3.7l2.1 3.3l3.8-3.5z"/><path color="#7fd34e" d="M1805.7 189.2l-3.8 5.8l2.2 2.1l3.7-6.6z"/><path color="#460b5e" d="M1762.3 233.1l-3.9 2.1l2.1 2.9l3.9-2.1z"/><path color="#32b67a" d="M1804.1 197.1l-3.8 5.2l2.1 3.1l3.8-4.9z"/><path color="#5cc863" d="M1827.5 194l-3.8-1.4l2.2 7.1l3.8 0z"/><path color="#dae319" d="M1823.1 184.3l-3.8-.7l2.2 3l3.8 1.7z"/><path color="#482979" d="M1775.8 228.5l-3.8 2.6l2.2 3.1l3.8-2.6z"/><path color="#1f958b" d="M1908.5 207.6l-3.7 2.3l2.5 .5l3.8-2.6z"/><path color="#fde725" d="M1817.1 181.1l-3.8 1.4l2.2 2.5l3.8-1.4z"/><path color="#2d718e" d="M1836.2 214.8l-3.7 1.1l2.2 4.5l3.8-1.2z"/><path color="#1f958b" d="M1802.4 205.4l-3.7 4.1l2.1 3.5l3.8-3.8z"/><path color="#450457" d="M1864.6 235.5l-3.7 .9l2.2 3.5l3.8-2.3z"/><path color="#481467" d="M1858.6 232.8l-3.7 .8l2.2 3.8l3.8-1z"/><path color="#3d4e8a" d="M1844.4 222.5l-3.7 1l2.2 4.2l3.8-1z"/><path color="#228d8d" d="M1904.8 209.9l-3.8 2.6l2.5 .9l3.8-3z"/><path color="#481c6e" d="M1772 231.1l-3.8 2.5l2.1 3.1l3.9-2.5z"/><path color="#aadc32" d="M1825.3 188.3l-3.8-1.7l2.2 6l3.8 1.4z"/><path color="#26818e" d="M1901 212.5l-3.8 2.8l2.5 1.2l3.8-3.1z"/><path color="#450559" d="M1758.4 235.2l-3.8 2l2.1 2.9l3.8-2z"/><path color="#440154" d="M1748.6 236.2l-3.8 1.6l2 2.9l3.9-1.7z"/><path color="#2b748e" d="M1897.2 215.3l-3.8 2.9l2.5 1.5l3.8-3.2z"/><path color="#31678e" d="M1893.4 218.2l-3.7 2.9l2.3 1.6l3.9-3z"/><path color="#472a7a" d="M1852.6 229.8l-3.7 .9l2.2 3.9l3.8-1z"/><path color="#375a8c" d="M1889.7 221.1l-3.8 2.9l2.3 1.8l3.8-3.1z"/><path color="#1e9b8a" d="M1828.1 205.7l-3.8 1.2l2.2 5.5l3.8-1.4z"/><path color="#3e4c8a" d="M1885.9 224l-3.8 2.9l2.3 1.9l3.8-3z"/><path color="#365d8d" d="M1793.2 219.8l-3.8 3.1l2.2 3.4l3.8-3.1z"/><path color="#33628d" d="M1838.5 219.2l-3.8 1.2l2.2 4.4l3.8-1.3z"/><path color="#471365" d="M1768.2 233.6l-3.8 2.4l2.1 3l3.8-2.3z"/><path color="#2f6c8e" d="M1797 216.5l-3.8 3.3l2.2 3.4l3.8-3.1z"/><path color="#3d4e8a" d="M1789.4 222.9l-3.8 3l2.2 3.4l3.8-3z"/><path color="#433e85" d="M1882.1 226.9l-3.8 2.8l2.3 2l3.8-2.9z"/><path color="#25858e" d="M1830.3 211l-3.8 1.4l2.2 4.9l3.8-1.4z"/><path color="#27ad81" d="M1806.2 200.5l-3.8 4.9l2.2 3.8l3.8-4.3z"/><path color="#297b8e" d="M1800.8 213l-3.8 3.5l2.2 3.6l3.8-3.3z"/><path color="#423f85" d="M1785.6 225.9l-3.8 2.9l2.1 3.3l3.9-2.8z"/><path color="#32b67a" d="M1825.9 199.7l-3.8 .9l2.2 6.3l3.8-1.2z"/><path color="#423f85" d="M1846.7 226.7l-3.8 1l2.2 4.1l3.8-1.1z"/><path color="#472f7d" d="M1878.3 229.7l-3.8 2.8l2.3 2l3.8-2.8z"/><path color="#fde725" d="M1813.3 182.5l-3.8 1.8l2.2 2.5l3.8-1.8z"/><path color="#dae319" d="M1809.5 184.3l-3.8 4.9l2.1 1.3l3.9-3.7z"/><path color="#46307e" d="M1781.8 228.8l-3.8 2.8l2.1 3.3l3.8-2.8z"/><path color="#228d8d" d="M1804.6 209.2l-3.8 3.8l2.2 3.8l3.8-3.5z"/><path color="#440154" d="M1754.6 237.2l-3.9 1.8l2.1 2.9l3.9-1.8z"/><path color="#482173" d="M1874.5 232.5l-3.8 2.6l2.3 2.1l3.8-2.7z"/><path color="#2c738e" d="M1832.5 215.9l-3.8 1.4l2.2 4.6l3.8-1.5z"/><path color="#460a5d" d="M1764.4 236l-3.9 2.1l2.1 3l3.9-2.1z"/><path color="#46085c" d="M1860.9 236.4l-3.8 1l2.3 3.6l3.7-1.1z"/><path color="#482475" d="M1778 231.6l-3.8 2.6l2.1 3.3l3.8-2.6z"/><path color="#7fd34e" d="M1807.8 190.5l-3.7 6.6l2.1 3.4l3.8-5.9z"/><path color="#3b528b" d="M1840.7 223.5l-3.8 1.3l2.2 4.2l3.8-1.3z"/><path color="#481d6f" d="M1854.9 233.6l-3.8 1l2.3 3.8l3.7-1z"/><path color="#1fa088" d="M1808.4 204.9l-3.8 4.3l2.2 4.1l3.8-3.6z"/><path color="#481467" d="M1870.7 235.1l-3.8 2.5l2.3 2.2l3.8-2.6z"/><path color="#1e9b8a" d="M1824.3 206.9l-3.8 2l2.2 5.3l3.8-1.8z"/><path color="#48186a" d="M1774.2 234.2l-3.9 2.5l2.2 3.2l3.8-2.4z"/><path color="#fde725" d="M1819.3 183.6l-3.8 1.4l2.2 2.9l3.8-1.3z"/><path color="#25858e" d="M1826.5 212.4l-3.8 1.8l2.2 4.9l3.8-1.8z"/><path color="#7fd34e" d="M1823.7 192.6l-3.8 .2l2.2 7.8l3.8-.9z"/><path color="#32648e" d="M1834.7 220.4l-3.8 1.5l2.2 4.4l3.8-1.5z"/><path color="#32648e" d="M1799.2 220.1l-3.8 3.1l2.2 3.7l3.8-3.1z"/><path color="#46307e" d="M1848.9 230.7l-3.8 1.1l2.3 4l3.7-1.2z"/><path color="#32b67a" d="M1822.1 200.6l-3.8 2.2l2.2 6.1l3.8-2z"/><path color="#2c718e" d="M1803 216.8l-3.8 3.3l2.2 3.7l3.8-3.1z"/><path color="#39558c" d="M1795.4 223.2l-3.8 3.1l2.2 3.6l3.8-3z"/><path color="#450457" d="M1760.5 238.1l-3.8 2l2.1 3l3.8-2z"/><path color="#26818e" d="M1806.8 213.3l-3.8 3.5l2.2 3.9l3.8-3.1z"/><path color="#5cc863" d="M1810 194.6l-3.8 5.9l2.2 4.4l3.8-4.6z"/><path color="#404688" d="M1791.6 226.3l-3.8 3l2.1 3.5l3.9-2.9z"/><path color="#46085c" d="M1866.9 237.6l-3.8 2.3l2.3 2.3l3.8-2.4z"/><path color="#440154" d="M1750.7 239l-3.9 1.7l2.1 2.8l3.9-1.6z"/><path color="#21918c" d="M1810.6 209.7l-3.8 3.6l2.2 4.3l3.8-3.1z"/><path color="#32b67a" d="M1812.2 200.3l-3.8 4.6l2.2 4.8l3.8-3.6z"/><path color="#453882" d="M1787.8 229.3l-3.9 2.8l2.2 3.5l3.8-2.8z"/><path color="#470e61" d="M1770.3 236.7l-3.8 2.3l2.1 3.2l3.9-2.3z"/><path color="#2c738e" d="M1828.7 217.3l-3.8 1.8l2.2 4.5l3.8-1.7z"/><path color="#414487" d="M1842.9 227.7l-3.8 1.3l2.2 4.1l3.8-1.3z"/><path color="#1f958b" d="M1820.5 208.9l-3.8 2.6l2.2 5l3.8-2.3z"/><path color="#1fa088" d="M1814.4 206.1l-3.8 3.6l2.2 4.8l3.9-3z"/><path color="#27ad81" d="M1818.3 202.8l-3.9 3.3l2.3 5.4l3.8-2.6z"/><path color="#472a7a" d="M1783.9 232.1l-3.8 2.8l2.2 3.4l3.8-2.7z"/><path color="#dae319" d="M1821.5 186.6l-3.8 1.3l2.2 4.9l3.8-.2z"/><path color="#26828e" d="M1822.7 214.2l-3.8 2.3l2.2 4.7l3.8-2.1z"/><path color="#228d8d" d="M1816.7 211.5l-3.9 3l2.2 4.6l3.9-2.6z"/><path color="#39558c" d="M1836.9 224.8l-3.8 1.5l2.2 4.2l3.8-1.5z"/><path color="#471164" d="M1857.1 237.4l-3.7 1l2.2 3.7l3.8-1.1z"/><path color="#481d6f" d="M1780.1 234.9l-3.8 2.6l2.1 3.4l3.9-2.6z"/><path color="#26818e" d="M1812.8 214.5l-3.8 3.1l2.2 4.3l3.8-2.8z"/><path color="#fde725" d="M1815.5 185l-3.8 1.8l2.2 2.9l3.8-1.8z"/><path color="#5cc863" d="M1816.1 195.8l-3.9 4.5l2.2 5.8l3.9-3.3z"/><path color="#dae319" d="M1811.7 186.8l-3.9 3.7l2.2 4.1l3.9-4.9z"/><path color="#450457" d="M1863.1 239.9l-3.7 1.1l2.3 3.4l3.7-2.2z"/><path color="#450559" d="M1766.5 239l-3.9 2.1l2.2 3.2l3.8-2.1z"/><path color="#7fd34e" d="M1819.9 192.8l-3.8 3l2.2 7l3.8-2.2z"/><path color="#2b748e" d="M1809 217.6l-3.8 3.1l2.2 4.1l3.8-2.9z"/><path color="#32648e" d="M1830.9 221.9l-3.8 1.7l2.2 4.4l3.8-1.7z"/><path color="#440154" d="M1756.7 240.1l-3.9 1.8l2.1 2.6l3.9-1.4z"/><path color="#31678e" d="M1805.2 220.7l-3.8 3.1l2.2 4l3.8-3z"/><path color="#482475" d="M1851.1 234.6l-3.7 1.2l2.2 3.8l3.8-1.2z"/><path color="#32648e" d="M1892 222.7l-3.8 3.1l2.4 1.9l3.8-3.1z"/><path color="#32b67a" d="M1914.8 205.8l-3.7 2l2.6-.5l3.7-2.3z"/><path color="#375a8c" d="M1801.4 223.8l-3.8 3.1l2.2 3.8l3.8-2.9z"/><path color="#2c718e" d="M1895.9 219.7l-3.9 3l2.4 1.9l3.9-3.4z"/><path color="#39558c" d="M1888.2 225.8l-3.8 3l2.4 2l3.8-3.1z"/><path color="#2d718e" d="M1824.9 219.1l-3.8 2.1l2.2 4.5l3.8-2.1z"/><path color="#297b8e" d="M1818.9 216.5l-3.9 2.6l2.2 4.5l3.9-2.4z"/><path color="#26818e" d="M1899.7 216.5l-3.8 3.2l2.4 1.5l3.8-3.4z"/><path color="#3e4c8a" d="M1797.6 226.9l-3.8 3l2.1 3.7l3.9-2.9z"/><path color="#404688" d="M1884.4 228.8l-3.8 2.9l2.4 2.1l3.8-3z"/><path color="#471164" d="M1776.3 237.5l-3.8 2.4l2.1 3.4l3.8-2.4z"/><path color="#453581" d="M1845.1 231.8l-3.8 1.3l2.3 4l3.8-1.3z"/><path color="#21918c" d="M1903.5 213.4l-3.8 3.1l2.4 1.3l3.9-3.6z"/><path color="#433e85" d="M1793.8 229.9l-3.9 2.9l2.2 3.6l3.8-2.8z"/><path color="#453882" d="M1880.6 231.7l-3.8 2.8l2.4 2.1l3.8-2.8z"/><path color="#aadc32" d="M1813.9 189.7l-3.9 4.9l2.2 5.7l3.9-4.5z"/><path color="#1fa088" d="M1907.3 210.4l-3.8 3l2.5 .8l3.8-3.7z"/><path color="#27ad81" d="M1911.1 207.8l-3.8 2.6l2.5 .1l3.9-3.2z"/><path color="#2c718e" d="M1815 219.1l-3.8 2.8l2.2 4.3l3.8-2.6z"/><path color="#472f7d" d="M1789.9 232.8l-3.8 2.8l2.2 3.6l3.8-2.8z"/><path color="#404688" d="M1839.1 229l-3.8 1.5l2.2 4.1l3.8-1.5z"/><path color="#472a7a" d="M1876.8 234.5l-3.8 2.7l2.4 2.2l3.8-2.8z"/><path color="#dae319" d="M1817.7 187.9l-3.8 1.8l2.2 6.1l3.8-3z"/><path color="#39558c" d="M1833.1 226.3l-3.8 1.7l2.2 4.2l3.8-1.7z"/><path color="#31678e" d="M1811.2 221.9l-3.8 2.9l2.2 4.1l3.8-2.7z"/><path color="#46075a" d="M1772.5 239.9l-3.9 2.3l2.2 3.3l3.8-2.2z"/><path color="#2f6c8e" d="M1821.1 221.2l-3.9 2.4l2.3 4.4l3.8-2.3z"/><path color="#482173" d="M1786.1 235.6l-3.8 2.7l2.1 3.6l3.9-2.7z"/><path color="#440256" d="M1762.6 241.1l-3.8 2l2.1 2.5l3.9-1.3z"/><path color="#33628d" d="M1827.1 223.6l-3.8 2.1l2.2 4.3l3.8-2z"/><path color="#481d6f" d="M1873 237.2l-3.8 2.6l2.4 2.2l3.8-2.6z"/><path color="#365c8d" d="M1807.4 224.8l-3.8 3l2.2 3.9l3.8-2.8z"/><path color="#440154" d="M1752.8 241.9l-3.9 1.6l2.1 2.6l3.9-1.6z"/><path color="#46075a" d="M1859.4 241l-3.8 1.1l2.3 3.5l3.8-1.2z"/><path color="#3d4e8a" d="M1803.6 227.8l-3.8 2.9l2.1 3.9l3.9-2.9z"/><path color="#481467" d="M1782.3 238.3l-3.9 2.6l2.2 3.5l3.8-2.5z"/><path color="#48186a" d="M1853.4 238.4l-3.8 1.2l2.2 3.7l3.8-1.2z"/><path color="#32648e" d="M1817.2 223.6l-3.8 2.6l2.2 4.2l3.9-2.4z"/><path color="#424086" d="M1799.8 230.7l-3.9 2.9l2.2 3.8l3.8-2.8z"/><path color="#471164" d="M1869.2 239.8l-3.8 2.4l2.4 2.3l3.8-2.5z"/><path color="#482979" d="M1847.4 235.8l-3.8 1.3l2.2 3.9l3.8-1.4z"/><path color="#453882" d="M1841.3 233.1l-3.8 1.5l2.3 4l3.8-1.5z"/><path color="#46327e" d="M1795.9 233.6l-3.8 2.8l2.2 3.8l3.8-2.8z"/><path color="#365d8d" d="M1823.3 225.7l-3.8 2.3l2.2 4.2l3.8-2.2z"/><path color="#404688" d="M1835.3 230.5l-3.8 1.7l2.2 4.2l3.8-1.8z"/><path color="#3b528b" d="M1829.3 228l-3.8 2l2.2 4.2l3.8-2z"/><path color="#375a8c" d="M1813.4 226.2l-3.8 2.7l2.2 4.2l3.8-2.7z"/><path color="#440256" d="M1768.6 242.2l-3.8 2.1l2.1 2.4l3.9-1.2z"/><path color="#46085c" d="M1778.4 240.9l-3.8 2.4l2.2 3.4l3.8-2.3z"/><path color="#482475" d="M1792.1 236.4l-3.8 2.8l2.2 3.7l3.8-2.7z"/><path color="#46075a" d="M1865.4 242.2l-3.7 2.2l2.3 2.4l3.8-2.3z"/><path color="#3d4e8a" d="M1809.6 228.9l-3.8 2.8l2.2 4.1l3.8-2.7z"/><path color="#450457" d="M1758.8 243.1l-3.9 1.4l2.1 2.5l3.9-1.4z"/><path color="#481769" d="M1788.3 239.2l-3.9 2.7l2.2 3.6l3.9-2.6z"/><path color="#39558c" d="M1819.5 228l-3.9 2.4l2.2 4.2l3.9-2.4z"/><path color="#424186" d="M1805.8 231.7l-3.9 2.9l2.2 3.9l3.9-2.7z"/><path color="#3d4e8a" d="M1825.5 230l-3.8 2.2l2.2 4.2l3.8-2.2z"/><path color="#463480" d="M1801.9 234.6l-3.8 2.8l2.2 3.9l3.8-2.8z"/><path color="#365d8d" d="M1890.6 227.7l-3.8 3.1l2.4 2.2l3.8-3.1z"/><path color="#450457" d="M1774.6 243.3l-3.8 2.2l2.1 2.3l3.9-1.1z"/><path color="#2f6c8e" d="M1894.4 224.6l-3.8 3.1l2.4 2.2l3.8-3.3z"/><path color="#460a5d" d="M1784.4 241.9l-3.8 2.5l2.2 3.5l3.8-2.4z"/><path color="#3d4e8a" d="M1886.8 230.8l-3.8 3l2.3 2.2l3.9-3z"/><path color="#470e61" d="M1855.6 242.1l-3.8 1.2l2.3 3.5l3.8-1.2z"/><path color="#414487" d="M1831.5 232.2l-3.8 2l2.2 4.1l3.8-1.9z"/><path color="#481c6e" d="M1849.6 239.6l-3.8 1.4l2.3 3.7l3.7-1.4z"/><path color="#3e4c8a" d="M1815.6 230.4l-3.8 2.7l2.2 4.1l3.8-2.6z"/><path color="#472a7a" d="M1843.6 237.1l-3.8 1.5l2.2 3.9l3.8-1.5z"/><path color="#453882" d="M1837.5 234.6l-3.8 1.8l2.3 4l3.8-1.8z"/><path color="#297b8e" d="M1898.3 221.2l-3.9 3.4l2.4 2l3.9-3.6z"/><path color="#423f85" d="M1883 233.8l-3.8 2.8l2.3 2.4l3.8-3z"/><path color="#482677" d="M1798.1 237.4l-3.8 2.8l2.2 3.8l3.8-2.7z"/><path color="#440256" d="M1861.7 244.4l-3.8 1.2l2.3 3.2l3.8-2z"/><path color="#450559" d="M1764.8 244.3l-3.9 1.3l2.1 2.4l3.9-1.3z"/><path color="#46307e" d="M1879.2 236.6l-3.8 2.8l2.3 2.3l3.8-2.7z"/><path color="#424086" d="M1811.8 233.1l-3.8 2.7l2.2 4l3.8-2.6z"/><path color="#228d8d" d="M1902.1 217.8l-3.8 3.4l2.4 1.8l3.9-3.8z"/><path color="#48186a" d="M1794.3 240.2l-3.8 2.7l2.1 3.7l3.9-2.6z"/><path color="#404688" d="M1821.7 232.2l-3.9 2.4l2.3 4.1l3.8-2.3z"/><path color="#450559" d="M1754.9 244.5l-3.9 1.6l2.1 2.5l3.9-1.6z"/><path color="#482475" d="M1875.4 239.4l-3.8 2.6l2.3 2.4l3.8-2.7z"/><path color="#463480" d="M1808 235.8l-3.9 2.7l2.2 4l3.9-2.7z"/><path color="#423f85" d="M1827.7 234.2l-3.8 2.2l2.2 4.1l3.8-2.2z"/><path color="#450457" d="M1780.6 244.4l-3.8 2.3l2.1 2.2l3.9-1z"/><path color="#460b5e" d="M1790.5 242.9l-3.9 2.6l2.2 3.6l3.8-2.5z"/><path color="#1fa088" d="M1906 214.2l-3.9 3.6l2.5 1.4l3.9-4.3z"/><path color="#433e85" d="M1817.8 234.6l-3.8 2.6l2.2 4l3.9-2.5z"/><path color="#482677" d="M1804.1 238.5l-3.8 2.8l2.2 3.9l3.8-2.7z"/><path color="#453581" d="M1833.7 236.4l-3.8 1.9l2.3 4l3.8-1.9z"/><path color="#48186a" d="M1871.6 242l-3.8 2.5l2.3 2.4l3.8-2.5z"/><path color="#472a7a" d="M1839.8 238.6l-3.8 1.8l2.2 3.8l3.8-1.7z"/><path color="#46075a" d="M1770.8 245.5l-3.9 1.2l2.1 2.2l3.9-1.1z"/><path color="#481f70" d="M1845.8 241l-3.8 1.5l2.3 3.7l3.8-1.5z"/><path color="#481a6c" d="M1800.3 241.3l-3.8 2.7l2.2 3.8l3.8-2.6z"/><path color="#471365" d="M1851.8 243.3l-3.7 1.4l2.2 3.5l3.8-1.4z"/><path color="#46327e" d="M1814 237.2l-3.8 2.6l2.2 4l3.8-2.6z"/><path color="#453882" d="M1823.9 236.4l-3.8 2.3l2.2 4.1l3.8-2.3z"/><path color="#450559" d="M1857.9 245.6l-3.8 1.2l2.3 3.4l3.8-1.4z"/><path color="#32b67a" d="M1909.8 210.5l-3.8 3.7l2.5 .7l3.9-4.6z"/><path color="#470e61" d="M1867.8 244.5l-3.8 2.3l2.3 2.4l3.8-2.3z"/><path color="#450559" d="M1786.6 245.5l-3.8 2.4l2.1 2.1l3.9-.9z"/><path color="#460a5d" d="M1760.9 245.6l-3.9 1.4l2.1 2.4l3.9-1.4z"/><path color="#460b5e" d="M1796.5 244l-3.9 2.6l2.2 3.7l3.9-2.5z"/><path color="#482677" d="M1810.2 239.8l-3.9 2.7l2.3 3.9l3.8-2.6z"/><path color="#46307e" d="M1829.9 238.3l-3.8 2.2l2.2 3.9l3.9-2.1z"/><path color="#472f7d" d="M1820.1 238.7l-3.9 2.5l2.2 4l3.9-2.4z"/><path color="#482979" d="M1836 240.4l-3.8 1.9l2.2 3.9l3.8-2z"/><path color="#481a6c" d="M1806.3 242.5l-3.8 2.7l2.2 3.8l3.9-2.6z"/><path color="#46085c" d="M1776.8 246.7l-3.9 1.1l2.1 2.1l3.9-1z"/><path color="#5cc863" d="M1913.7 207.3l-3.9 3.2l2.6-.2l4-4.6z"/><path color="#33628d" d="M1893 229.9l-3.8 3.1l2.3 2.5l3.9-3.2z"/><path color="#3b528b" d="M1889.2 233l-3.9 3l2.4 2.5l3.8-3z"/><path color="#450559" d="M1864 246.8l-3.8 2l2.3 2.6l3.8-2.2z"/><path color="#7fd34e" d="M1917.4 205l-3.7 2.3l2.7-1.6l3.8-2.9z"/><path color="#2d718e" d="M1896.8 226.6l-3.8 3.3l2.4 2.4l3.8-3.4z"/><path color="#414487" d="M1885.3 236l-3.8 3l2.4 2.5l3.8-3z"/><path color="#481f70" d="M1842 242.5l-3.8 1.7l2.3 3.8l3.8-1.8z"/><path color="#482475" d="M1816.2 241.2l-3.8 2.6l2.2 3.9l3.8-2.5z"/><path color="#450559" d="M1792.6 246.6l-3.8 2.5l2.1 2.1l3.9-.9z"/><path color="#472a7a" d="M1826.1 240.5l-3.8 2.3l2.2 3.9l3.8-2.3z"/><path color="#470d60" d="M1802.5 245.2l-3.8 2.6l2.2 3.7l3.8-2.5z"/><path color="#453581" d="M1881.5 239l-3.8 2.7l2.4 2.6l3.8-2.8z"/><path color="#481467" d="M1848.1 244.7l-3.8 1.5l2.2 3.6l3.8-1.6z"/><path color="#26828e" d="M1900.7 223l-3.9 3.6l2.4 2.3l3.9-3.7z"/><path color="#470e61" d="M1766.9 246.7l-3.9 1.3l2.1 2.1l3.9-1.2z"/><path color="#460a5d" d="M1854.1 246.8l-3.8 1.4l2.3 3.4l3.8-1.4z"/><path color="#482979" d="M1877.7 241.7l-3.8 2.7l2.3 2.6l3.9-2.7z"/><path color="#460b5e" d="M1757 247l-3.9 1.6l2.1 2.3l3.9-1.5z"/><path color="#48186a" d="M1812.4 243.8l-3.8 2.6l2.2 3.9l3.8-2.6z"/><path color="#482475" d="M1832.2 242.3l-3.9 2.1l2.3 3.9l3.8-2.1z"/><path color="#460a5d" d="M1782.8 247.9l-3.9 1l2.1 2l3.9-.9z"/><path color="#482173" d="M1822.3 242.8l-3.9 2.4l2.3 3.9l3.8-2.4z"/><path color="#1f958b" d="M1904.6 219.2l-3.9 3.8l2.4 2.2l3.9-4.2z"/><path color="#440256" d="M1860.2 248.8l-3.8 1.4l2.3 3.1l3.8-1.9z"/><path color="#481c6e" d="M1873.9 244.4l-3.8 2.5l2.3 2.6l3.8-2.5z"/><path color="#450559" d="M1798.7 247.8l-3.9 2.5l2.2 2l3.9-.8z"/><path color="#460b5e" d="M1808.6 246.4l-3.9 2.6l2.2 3.7l3.9-2.4z"/><path color="#481c6e" d="M1838.2 244.2l-3.8 2l2.2 3.7l3.9-1.9z"/><path color="#481769" d="M1818.4 245.2l-3.8 2.5l2.2 3.8l3.9-2.4z"/><path color="#481d6f" d="M1828.3 244.4l-3.8 2.3l2.2 3.8l3.9-2.2z"/><path color="#471164" d="M1772.9 247.8l-3.9 1.1l2.1 2l3.9-1z"/><path color="#481467" d="M1844.3 246.2l-3.8 1.8l2.2 3.5l3.8-1.7z"/><path color="#471365" d="M1870.1 246.9l-3.8 2.3l2.3 2.7l3.8-2.4z"/><path color="#460b5e" d="M1788.8 249.1l-3.9 .9l2.2 1.9l3.8-.7z"/><path color="#27ad81" d="M1908.5 214.9l-3.9 4.3l2.4 1.8l4-4.9z"/><path color="#471365" d="M1763 248l-3.9 1.4l2.1 2.1l3.9-1.4z"/><path color="#460b5e" d="M1850.3 248.2l-3.8 1.6l2.3 3.4l3.8-1.6z"/><path color="#460b5e" d="M1814.6 247.7l-3.8 2.6l2.2 3.6l3.8-2.4z"/><path color="#450559" d="M1804.7 249l-3.8 2.5l2.2 2l3.8-.8z"/><path color="#48186a" d="M1834.4 246.2l-3.8 2.1l2.2 3.7l3.8-2.1z"/><path color="#481467" d="M1824.5 246.7l-3.8 2.4l2.2 3.7l3.8-2.3z"/><path color="#39558c" d="M1891.5 235.5l-3.8 3l2.4 2.8l3.8-3.1z"/><path color="#32648e" d="M1895.4 232.3l-3.9 3.2l2.4 2.7l3.9-3.3z"/><path color="#450457" d="M1856.4 250.2l-3.8 1.4l2.3 3.2l3.8-1.5z"/><path color="#460a5d" d="M1866.3 249.2l-3.8 2.2l2.3 2.6l3.8-2.1z"/><path color="#404688" d="M1887.7 238.5l-3.8 3l2.3 2.7l3.9-2.9z"/><path color="#2c738e" d="M1899.2 228.9l-3.8 3.4l2.4 2.6l3.8-3.4z"/><path color="#453882" d="M1883.9 241.5l-3.8 2.8l2.3 2.7l3.8-2.8z"/><path color="#481467" d="M1778.9 248.9l-3.9 1l2.1 1.9l3.9-.9z"/><path color="#471365" d="M1840.5 248l-3.9 1.9l2.3 3.5l3.8-1.9z"/><path color="#460b5e" d="M1794.8 250.3l-3.9 .9l2.2 1.8l3.9-.7z"/><path color="#25858e" d="M1903.1 225.2l-3.9 3.7l2.4 2.6l3.9-3.8z"/><path color="#460a5d" d="M1820.7 249.1l-3.9 2.4l2.2 3.6l3.9-2.3z"/><path color="#450559" d="M1810.8 250.3l-3.9 2.4l2.2 2.1l3.9-.9z"/><path color="#472a7a" d="M1880.1 244.3l-3.9 2.7l2.4 2.7l3.8-2.7z"/><path color="#471164" d="M1830.6 248.3l-3.9 2.2l2.3 3.6l3.8-2.1z"/><path color="#460b5e" d="M1846.5 249.8l-3.8 1.7l2.3 3.4l3.8-1.7z"/><path color="#48186a" d="M1769 248.9l-3.9 1.2l2.1 2l3.9-1.2z"/><path color="#450457" d="M1862.5 251.4l-3.8 1.9l2.3 2.7l3.8-2z"/><path color="#5cc863" d="M1912.4 210.3l-3.9 4.6l2.5 1.2l4-6z"/><path color="#481467" d="M1759.1 249.4l-3.9 1.5l2 2.2l4-1.6z"/><path color="#481f70" d="M1876.2 247l-3.8 2.5l2.3 2.8l3.9-2.6z"/><path color="#1e9b8a" d="M1907 221l-3.9 4.2l2.4 2.5l3.9-4.3z"/><path color="#470e61" d="M1836.6 249.9l-3.8 2.1l2.2 3.5l3.9-2.1z"/><path color="#470d60" d="M1800.9 251.5l-3.9 .8l2.2 1.9l3.9-.7z"/><path color="#46085c" d="M1826.7 250.5l-3.8 2.3l2.2 3.5l3.9-2.2z"/><path color="#481769" d="M1784.9 250l-3.9 .9l2.2 1.8l3.9-.8z"/><path color="#450559" d="M1852.6 251.6l-3.8 1.6l2.3 3.2l3.8-1.6z"/><path color="#450559" d="M1816.8 251.5l-3.8 2.4l2.2 2.2l3.8-1z"/><path color="#481467" d="M1872.4 249.5l-3.8 2.4l2.3 2.7l3.8-2.3z"/><path color="#460a5d" d="M1842.7 251.5l-3.8 1.9l2.2 3.4l3.9-1.9z"/><path color="#440154" d="M1858.7 253.3l-3.8 1.5l2.3 3.1l3.8-1.9z"/><path color="#481d6f" d="M1775 249.9l-3.9 1l2.1 1.9l3.9-1z"/><path color="#46075a" d="M1832.8 252l-3.8 2.1l2.2 3.5l3.8-2.1z"/><path color="#460b5e" d="M1806.9 252.7l-3.8 .8l2.1 2l3.9-.7z"/><path color="#460b5e" d="M1868.6 251.9l-3.8 2.1l2.3 2.8l3.8-2.2z"/><path color="#450457" d="M1822.9 252.8l-3.9 2.3l2.3 2.3l3.8-1.1z"/><path color="#48186a" d="M1790.9 251.2l-3.8 .7l2.1 1.8l3.9-.7z"/><path color="#481c6e" d="M1765.1 250.1l-3.9 1.4l2 2l4-1.4z"/><path color="#32b67a" d="M1911 216.1l-4 4.9l2.4 2.4l4-5.2z"/><path color="#450559" d="M1848.8 253.2l-3.8 1.7l2.2 3.3l3.9-1.8z"/><path color="#450559" d="M1838.9 253.4l-3.9 2.1l2.3 3.3l3.8-2z"/><path color="#460b5e" d="M1813 253.9l-3.9 .9l2.2 2l3.9-.7z"/><path color="#450457" d="M1829 254.1l-3.9 2.2l2.3 2.4l3.8-1.1z"/><path color="#450559" d="M1864.8 254l-3.8 2l2.3 2.9l3.8-2.1z"/><path color="#482173" d="M1781 250.9l-3.9 .9l2.1 1.8l4-.9z"/><path color="#440154" d="M1854.9 254.8l-3.8 1.6l2.3 3.1l3.8-1.6z"/><path color="#481a6c" d="M1797 252.3l-3.9 .7l2.2 1.8l3.9-.6z"/><path color="#450457" d="M1845 254.9l-3.9 1.9l2.3 3.2l3.8-1.8z"/><path color="#482475" d="M1771.1 250.9l-3.9 1.2l2.1 1.9l3.9-1.2z"/><path color="#481f70" d="M1761.2 251.5l-4 1.6l2.1 2l3.9-1.6z"/><path color="#460a5d" d="M1819 255.1l-3.8 1l2.2 2.1l3.9-.8z"/><path color="#440256" d="M1835 255.5l-3.8 2.1l2.3 2.4l3.8-1.2z"/><path color="#440154" d="M1861 256l-3.8 1.9l2.3 2.8l3.8-1.8z"/><path color="#481a6c" d="M1803.1 253.5l-3.9 .7l2.2 1.8l3.8-.5z"/><path color="#482475" d="M1787.1 251.9l-3.9 .8l2.1 1.7l3.9-.7z"/><path color="#7fd34e" d="M1915 210.1l-4 6l2.4 2.1l4.1-6.6z"/><path color="#440154" d="M1851.1 256.4l-3.9 1.8l2.3 3l3.9-1.7z"/><path color="#46085c" d="M1825.1 256.3l-3.8 1.1l2.2 2.2l3.9-.9z"/><path color="#440256" d="M1841.1 256.8l-3.8 2l2.3 2.6l3.8-1.4z"/><path color="#472a7a" d="M1777.1 251.8l-3.9 1l2.1 1.8l3.9-1z"/><path color="#48186a" d="M1809.1 254.8l-3.9 .7l2.3 1.9l3.8-.6z"/><path color="#482979" d="M1767.2 252.1l-4 1.4l2.1 1.9l4-1.4z"/><path color="#440154" d="M1857.2 257.9l-3.8 1.6l2.3 2.9l3.8-1.7z"/><path color="#482677" d="M1793.1 253l-3.9 .7l2.2 1.7l3.9-.6z"/><path color="#46075a" d="M1831.2 257.6l-3.8 1.1l2.2 2.3l3.9-1z"/><path color="#440154" d="M1847.2 258.2l-3.8 1.8l2.3 2.7l3.8-1.5z"/><path color="#481769" d="M1815.2 256.1l-3.9 .7l2.3 2l3.8-.6z"/><path color="#472f7d" d="M1783.2 252.7l-4 .9l2.2 1.7l3.9-.9z"/><path color="#450559" d="M1837.3 258.8l-3.8 1.2l2.2 2.5l3.9-1.1z"/><path color="#482677" d="M1799.2 254.2l-3.9 .6l2.2 1.8l3.9-.6z"/><path color="#440154" d="M1853.4 259.5l-3.9 1.7l2.3 2.9l3.9-1.7z"/><path color="#481467" d="M1821.3 257.4l-3.9 .8l2.3 2.1l3.8-.7z"/><path color="#472a7a" d="M1763.2 253.5l-3.9 1.6l2.1 1.8l3.9-1.5z"/><path color="#46307e" d="M1773.2 252.8l-3.9 1.2l2.1 1.7l3.9-1.1z"/><path color="#450457" d="M1843.4 260l-3.8 1.4l2.3 2.7l3.8-1.4z"/><path color="#482677" d="M1805.2 255.5l-3.8 .5l2.2 1.9l3.9-.5z"/><path color="#471164" d="M1827.4 258.7l-3.9 .9l2.3 2.3l3.8-.9z"/><path color="#46327e" d="M1789.2 253.7l-3.9 .7l2.2 1.7l3.9-.7z"/><path color="#440154" d="M1849.5 261.2l-3.8 1.5l2.3 2.9l3.8-1.5z"/><path color="#482475" d="M1811.3 256.8l-3.8 .6l2.2 1.9l3.9-.5z"/><path color="#470e61" d="M1833.5 260l-3.9 1l2.3 2.5l3.8-1z"/><path color="#453882" d="M1779.2 253.6l-3.9 1l2.1 1.6l4-.9z"/><path color="#453581" d="M1769.3 254l-4 1.4l2.1 1.7l4-1.4z"/><path color="#463480" d="M1795.3 254.8l-3.9 .6l2.2 1.7l3.9-.5z"/><path color="#482173" d="M1817.4 258.2l-3.8 .6l2.2 2.1l3.9-.6z"/><path color="#460a5d" d="M1839.6 261.4l-3.9 1.1l2.3 2.7l3.9-1.1z"/><path color="#481d6f" d="M1823.5 259.6l-3.8 .7l2.2 2.3l3.9-.7z"/><path color="#450559" d="M1845.7 262.7l-3.8 1.4l2.3 2.8l3.8-1.3z"/><path color="#463480" d="M1801.4 256l-3.9 .6l2.2 1.8l3.9-.5z"/><path color="#433e85" d="M1785.3 254.4l-3.9 .9l2.1 1.6l4-.8z"/><path color="#453882" d="M1765.3 255.4l-3.9 1.5l2.1 1.7l3.9-1.5z"/><path color="#48186a" d="M1829.6 261l-3.8 .9l2.2 2.5l3.9-.9z"/><path color="#423f85" d="M1775.3 254.6l-3.9 1.1l2.1 1.6l3.9-1.1z"/><path color="#46327e" d="M1807.5 257.4l-3.9 .5l2.2 1.9l3.9-.5z"/><path color="#471365" d="M1835.7 262.5l-3.8 1l2.3 2.7l3.8-1z"/><path color="#424086" d="M1791.4 255.4l-3.9 .7l2.1 1.6l4-.6z"/><path color="#472f7d" d="M1813.6 258.8l-3.9 .5l2.2 2.1l3.9-.5z"/><path color="#460b5e" d="M1841.9 264.1l-3.9 1.1l2.3 2.8l3.9-1.1z"/><path color="#404688" d="M1781.4 255.3l-4 .9l2.2 1.6l3.9-.9z"/><path color="#472a7a" d="M1819.7 260.3l-3.9 .6l2.2 2.3l3.9-.6z"/><path color="#414487" d="M1771.4 255.7l-4 1.4l2.2 1.6l3.9-1.4z"/><path color="#424186" d="M1797.5 256.6l-3.9 .5l2.1 1.7l4-.4z"/><path color="#482475" d="M1825.8 261.9l-3.9 .7l2.3 2.4l3.8-.6z"/><path color="#481c6e" d="M1831.9 263.5l-3.9 .9l2.3 2.6l3.9-.8z"/><path color="#424086" d="M1803.6 257.9l-3.9 .5l2.2 1.8l3.9-.4z"/><path color="#3e4c8a" d="M1787.5 256.1l-4 .8l2.2 1.5l3.9-.7z"/><path color="#481467" d="M1838 265.2l-3.8 1l2.3 2.8l3.8-1z"/><path color="#404688" d="M1767.4 257.1l-3.9 1.5l2.1 1.7l4-1.6z"/><path color="#433e85" d="M1809.7 259.3l-3.9 .5l2.2 2l3.9-.4z"/><path color="#3d4e8a" d="M1777.4 256.2l-3.9 1.1l2.1 1.6l4-1.1z"/><path color="#453882" d="M1815.8 260.9l-3.9 .5l2.2 2.2l3.9-.4z"/><path color="#3d4e8a" d="M1793.6 257.1l-4 .6l2.2 1.6l3.9-.5z"/><path color="#46307e" d="M1821.9 262.6l-3.9 .6l2.3 2.4l3.9-.6z"/><path color="#482979" d="M1828 264.4l-3.8 .6l2.2 2.7l3.9-.7z"/><path color="#481f70" d="M1834.2 266.2l-3.9 .8l2.3 2.8l3.9-.8z"/><path color="#39558c" d="M1783.5 256.9l-3.9 .9l2.1 1.4l4-.8z"/><path color="#3d4e8a" d="M1799.7 258.4l-4 .4l2.2 1.8l4-.4z"/><path color="#3b528b" d="M1773.5 257.3l-3.9 1.4l2.1 1.5l3.9-1.3z"/><path color="#3e4c8a" d="M1805.8 259.8l-3.9 .4l2.2 1.9l3.9-.3z"/><path color="#404688" d="M1811.9 261.4l-3.9 .4l2.2 2.1l3.9-.3z"/><path color="#375a8c" d="M1789.6 257.7l-3.9 .7l2.2 1.5l3.9-.6z"/><path color="#39558c" d="M1769.6 258.7l-4 1.6l2.1 1.4l4-1.5z"/><path color="#423f85" d="M1818 263.2l-3.9 .4l2.3 2.4l3.9-.4z"/><path color="#365d8d" d="M1779.6 257.8l-4 1.1l2.2 1.4l3.9-1.1z"/><path color="#453581" d="M1824.2 265l-3.9 .6l2.3 2.6l3.8-.5z"/><path color="#472a7a" d="M1830.3 267l-3.9 .7l2.3 2.8l3.9-.7z"/><path color="#365c8d" d="M1795.7 258.8l-3.9 .5l2.2 1.6l3.9-.3z"/><path color="#375a8c" d="M1801.9 260.2l-4 .4l2.2 1.8l4-.3z"/><path color="#32648e" d="M1785.7 258.4l-4 .8l2.2 1.4l4-.7z"/><path color="#33628d" d="M1775.6 258.9l-3.9 1.3l2.1 1.3l4-1.2z"/><path color="#39558c" d="M1808 261.8l-3.9 .3l2.2 2.1l3.9-.3z"/><path color="#3d4e8a" d="M1814.1 263.6l-3.9 .3l2.3 2.4l3.9-.3z"/><path color="#414487" d="M1820.3 265.6l-3.9 .4l2.3 2.6l3.9-.4z"/><path color="#453882" d="M1826.4 267.7l-3.8 .5l2.2 2.8l3.9-.5z"/><path color="#31678e" d="M1791.8 259.3l-3.9 .6l2.1 1.5l4-.5z"/><path color="#32648e" d="M1771.7 260.2l-4 1.5l2.1 1.4l4-1.6z"/><path color="#2f6c8e" d="M1781.7 259.2l-3.9 1.1l2.1 1.2l4-.9z"/><path color="#31678e" d="M1797.9 260.6l-3.9 .3l2.2 1.7l3.9-.2z"/><path color="#32648e" d="M1804.1 262.1l-4 .3l2.3 1.9l3.9-.1z"/><path color="#365d8d" d="M1810.2 263.9l-3.9 .3l2.3 2.3l3.9-.2z"/><path color="#404688" d="M1822.6 268.2l-3.9 .4l2.2 2.8l3.9-.4z"/><path color="#3b528b" d="M1816.4 266l-3.9 .3l2.2 2.6l4-.3z"/><path color="#2c718e" d="M1787.9 259.9l-4 .7l2.2 1.3l3.9-.5z"/><path color="#2d718e" d="M1777.8 260.3l-4 1.2l2.1 1.2l4-1.2z"/><path color="#2b748e" d="M1794 260.9l-4 .5l2.2 1.4l4-.2z"/><path color="#2c738e" d="M1773.8 261.5l-4 1.6l2.2 1.1l3.9-1.5z"/><path color="#2c718e" d="M1800.1 262.4l-3.9 .2l2.2 1.8l4-.1z"/><path color="#297b8e" d="M1783.9 260.6l-4 .9l2.2 1.1l4-.7z"/><path color="#39558c" d="M1818.7 268.6l-4 .3l2.3 2.8l3.9-.3z"/><path color="#2f6c8e" d="M1806.3 264.2l-3.9 .1l2.2 2.2l4 0z"/><path color="#33628d" d="M1812.5 266.3l-3.9 .2l2.2 2.5l3.9-.1z"/><path color="#26818e" d="M1790 261.4l-3.9 .5l2.1 1.1l4-.2z"/><path color="#26828e" d="M1779.9 261.5l-4 1.2l2.2 .9l4-1z"/><path color="#26818e" d="M1796.2 262.6l-4 .2l2.2 1.4l4 .2z"/><path color="#32648e" d="M1814.7 268.9l-3.9 .1l2.3 2.8l3.9-.1z"/><path color="#2d718e" d="M1808.6 266.5l-4 0l2.3 2.4l3.9 .1z"/><path color="#297b8e" d="M1802.4 264.3l-4 .1l2.2 1.9l4 .2z"/><path color="#25858e" d="M1775.9 262.7l-3.9 1.5l2.1 .8l4-1.4z"/><path color="#228d8d" d="M1786.1 261.9l-4 .7l2.1 .7l4-.3z"/><path color="#21918c" d="M1792.2 262.8l-4 .2l2.2 .9l4 .3z"/><path color="#2c738e" d="M1810.8 269l-3.9-.1l2.2 2.8l4 .1z"/><path color="#26828e" d="M1804.6 266.5l-4-.2l2.3 2.3l4 .3z"/><path color="#228d8d" d="M1798.4 264.4l-4-.2l2.3 1.6l3.9 .5z"/><path color="#1f958b" d="M1782.1 262.6l-4 1l2.1 .4l4-.7z"/><path color="#1e9b8a" d="M1778.1 263.6l-4 1.4l2.1 .3l4-1.3z"/><path color="#1fa088" d="M1788.2 263l-4 .3l2.2 .3l4 .3z"/><path color="#25858e" d="M1806.9 268.9l-4-.3l2.2 2.7l4 .4z"/><path color="#1f958b" d="M1800.6 266.3l-3.9-.5l2.2 2l4 .8z"/><path color="#1fa088" d="M1794.4 264.2l-4-.3l2.2 1l4.1 .9z"/><path color="#27ad81" d="M1784.2 263.3l-4 .7l2.2-.3l4-.1z"/><path color="#1e9b8a" d="M1802.9 268.6l-4-.8l2.2 2.6l4 .9z"/><path color="#32b67a" d="M1790.4 263.9l-4-.3l2.2 0l4 1.3z"/><path color="#27ad81" d="M1796.7 265.8l-4.1-.9l2.3 1.3l4 1.6z"/><path color="#32b67a" d="M1780.2 264l-4 1.3l2.1-.6l4.1-1z"/><path color="#32b67a" d="M1798.9 267.8l-4-1.6l2.2 2.3l4 1.9z"/><path color="#5cc863" d="M1786.4 263.6l-4 .1l2.1-1.3l4.1 1.2z"/><path color="#5cc863" d="M1792.6 264.9l-4-1.3l2.2 0l4.1 2.6z"/><path color="#7fd34e" d="M1782.4 263.7l-4.1 1l2.1-1.9l4.1-.4z"/><path color="#7fd34e" d="M1794.9 266.2l-4.1-2.6l2.2 1.7l4.1 3.2z"/></g>
<path class="a3" d="M1700.3 194.8L1692.9 101.1M1700.3 194.8L1782.3 307.6M1782.3 307.6L1934.2 240.5"/><path class="t3" d="M1693.3 188.2L1701.8 189.8M1690.2 148.2L1698.7 149.8M1686.9 106L1695.4 107.6M1698.7 201.9L1706.5 198.8M1930.6 247.4L1925.6 241.6M1734.5 251.4L1742.5 248M1863 277.4L1858.2 271.3M1772.7 304.3L1780.9 300.6M1792.8 308.4L1788.2 302.2"/>
<g class="d3"><circle cx="1779.3" cy="167.8" r="6.2"/><circle cx="1787.7" cy="169.4" r="6.2"/><circle cx="1796.2" cy="171.1" r="6.2"/><circle cx="1804.6" cy="172.7" r="6.2"/><circle cx="1813" cy="174.3" r="6.2"/><circle cx="1821.4" cy="175.9" r="6.2"/><circle cx="1829.8" cy="177.6" r="6.2"/><circle cx="1838.3" cy="179.2" r="6.2"/><circle cx="1846.7" cy="180.8" r="6.2"/><circle cx="1855.1" cy="182.4" r="6.2"/><circle cx="1863.6" cy="184.1" r="6.2"/><circle cx="1872" cy="185.7" r="6.2"/><circle cx="1880.4" cy="187.3" r="6.2"/><circle cx="1878.3" cy="193.7" r="6.2"/><circle cx="1876.3" cy="200.1" r="6.2"/><circle cx="1874.2" cy="206.5" r="6.2"/><circle cx="1872.1" cy="212.9" r="6.2"/><circle cx="1870.1" cy="219.3" r="6.2"/><circle cx="1868" cy="225.7" r="6.2"/><circle cx="1865.9" cy="232.1" r="6.2"/><circle cx="1863.9" cy="238.5" r="6.2"/><circle cx="1861.8" cy="244.9" r="6.2"/><circle cx="1859.7" cy="251.3" r="6.2"/><circle cx="1857.7" cy="257.7" r="6.2"/><circle cx="1855.6" cy="264.1" r="6.2"/><circle cx="1846.8" cy="262.4" r="6.2"/><circle cx="1837.9" cy="260.7" r="6.2"/><circle cx="1829.1" cy="258.9" r="6.2"/><circle cx="1820.3" cy="257.2" r="6.2"/><circle cx="1811.4" cy="255.5" r="6.2"/><circle cx="1802.6" cy="253.8" r="6.2"/><circle cx="1793.8" cy="252" r="6.2"/><circle cx="1784.9" cy="250.3" r="6.2"/><circle cx="1776.1" cy="248.6" r="6.2"/><circle cx="1767.3" cy="246.9" r="6.2"/><circle cx="1758.4" cy="245.1" r="6.2"/><circle cx="1749.6" cy="243.4" r="6.2"/><circle cx="1752.1" cy="237.1" r="6.2"/><circle cx="1754.5" cy="230.8" r="6.2"/><circle cx="1757" cy="224.5" r="6.2"/><circle cx="1759.5" cy="218.2" r="6.2"/><circle cx="1762" cy="211.9" r="6.2"/><circle cx="1764.4" cy="205.6" r="6.2"/><circle cx="1766.9" cy="199.3" r="6.2"/><circle cx="1769.4" cy="193" r="6.2"/><circle cx="1771.9" cy="186.7" r="6.2"/><circle cx="1774.3" cy="180.4" r="6.2"/><circle cx="1776.8" cy="174.1" r="6.2"/><circle cx="1718.6" cy="165.7" r="6.2"/><circle cx="1842.1" cy="116.3" r="6.2"/><circle cx="1916.8" cy="204.8" r="6.2"/><circle cx="1788.7" cy="260.1" r="6.2"/><circle cx="1812.5" cy="184.2" r="6.2"/><circle cx="1819" cy="184.8" r="6.2"/><circle cx="1815.7" cy="187" r="6.2"/></g>
<text x="1676.1" y="123.7" text-anchor="end">1.0</text>
<text x="1681.6" y="164.7" text-anchor="end">0.5</text>
<text x="1686.8" y="203.5" text-anchor="end">0.0</text>
<text class="sf" x="1688.8" y="223.8" text-anchor="middle">-<tspan class="it">π</tspan></text>
<text class="sf" x="1724.8" y="272.8" text-anchor="middle">0</text>
<text class="sf" x="1760.5" y="322.3" text-anchor="middle"><tspan class="it">π</tspan></text>
<text class="sf" x="1802.8" y="332.8" text-anchor="middle"><tspan class="it">π</tspan></text>
<text class="sf" x="1870.4" y="303.3" text-anchor="middle">0</text>
<text class="sf" x="1935.6" y="269.8" text-anchor="middle">-<tspan class="it">π</tspan></text>
<text transform="translate(1257 180) rotate(-90)" text-anchor="middle">Magnon weight</text>
<text x="0" y="20.5" class="pl">a</text>
<text x="591" y="20.5" class="pl">b</text>
<text x="1224" y="20.5" class="pl">c</text>
<text x="1224" y="417" class="pl">d</text>
</svg></body></html>
